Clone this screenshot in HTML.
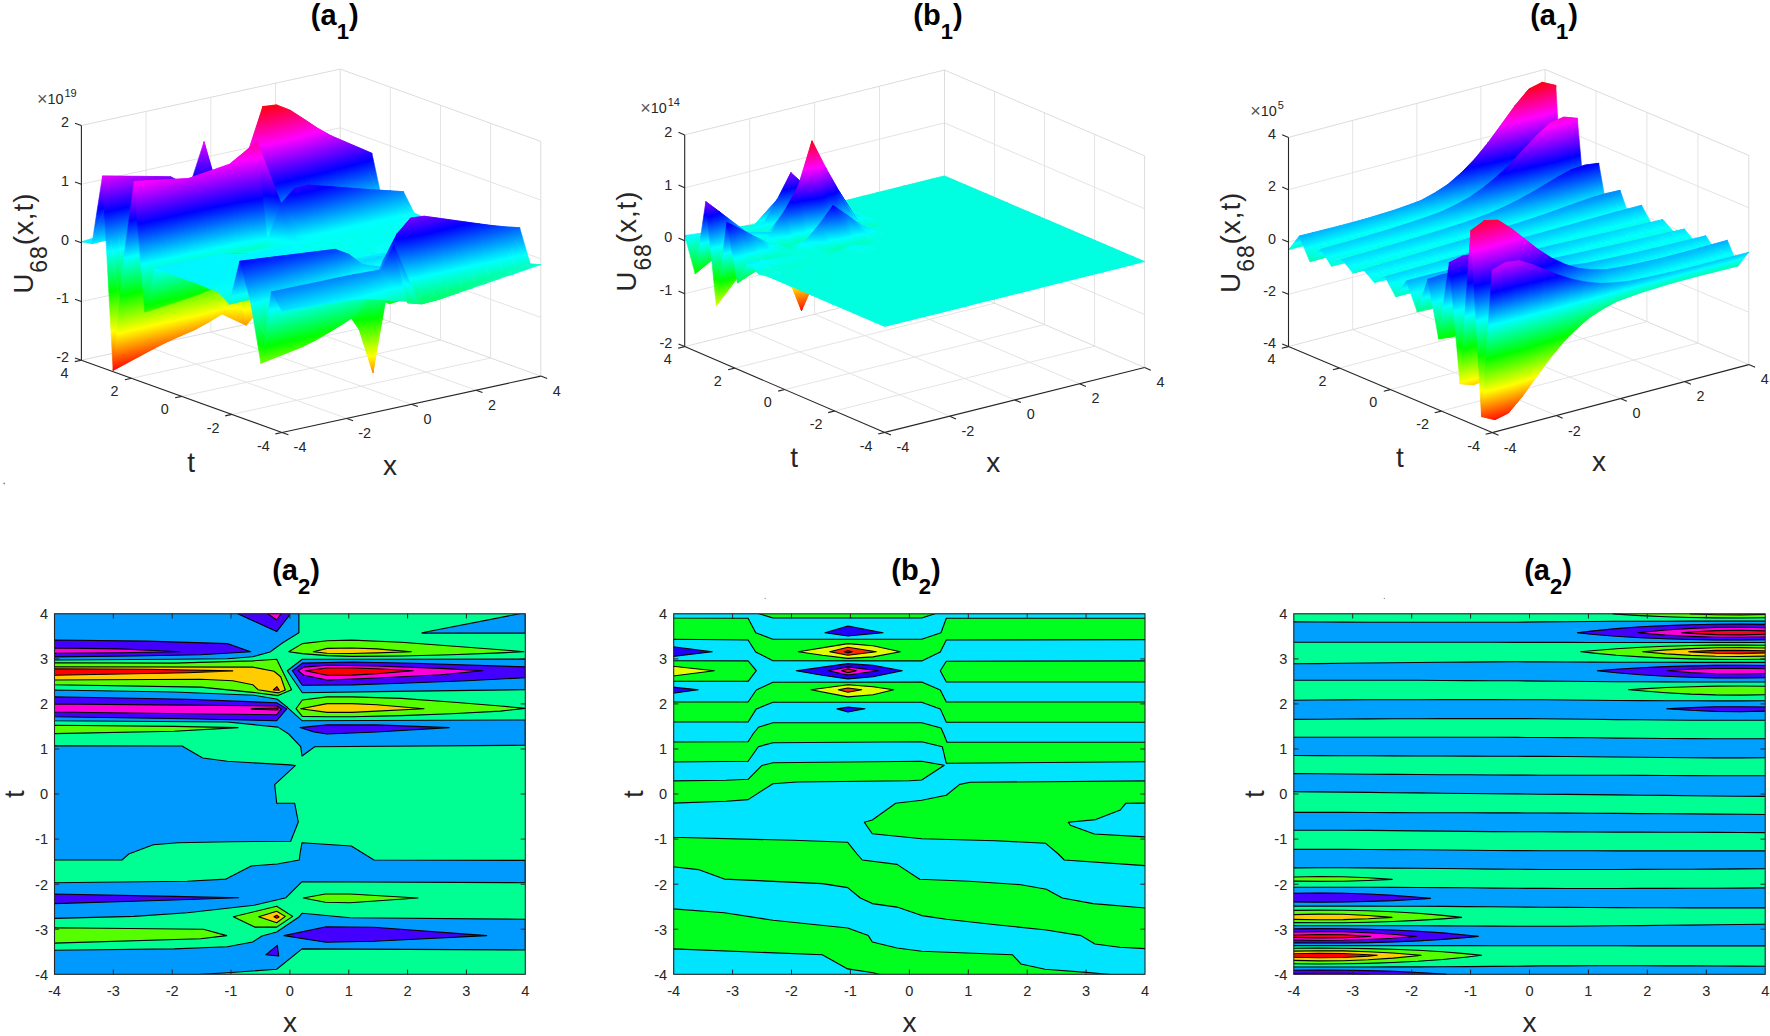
<!DOCTYPE html>
<html lang="en"><head><meta charset="utf-8"><title>Figure</title>
<style>
html,body{margin:0;padding:0;background:#fff;}
svg{display:block;font-family:'Liberation Sans', Arial, sans-serif;}
</style></head><body>
<svg width="1770" height="1036" viewBox="0 0 1770 1036">
<rect width="1770" height="1036" fill="#fff"/>
<defs>
<linearGradient id="H" gradientUnits="userSpaceOnUse"><stop offset="0.0000" stop-color="#ff0000"/><stop offset="0.1667" stop-color="#ffff00"/><stop offset="0.3333" stop-color="#00ff00"/><stop offset="0.5000" stop-color="#00ffff"/><stop offset="0.6667" stop-color="#0000ff"/><stop offset="0.8333" stop-color="#ff00ff"/><stop offset="1.0000" stop-color="#ff0000"/></linearGradient>
<linearGradient id="e10" href="#H" x1="307.8" y1="118" x2="346.3" y2="270.5"/>
<linearGradient id="e11" href="#H" x1="-47.6" y1="575.6" x2="720" y2="-210.5"/>
<linearGradient id="e12" href="#H" x1="298" y1="136" x2="328.9" y2="259.5"/>
<linearGradient id="e13" href="#H" x1="287.9" y1="111.1" x2="339.6" y2="285.9"/>
<linearGradient id="e14" href="#H" x1="287.5" y1="151.8" x2="312" y2="250.6"/>
<linearGradient id="e15" href="#H" x1="279.4" y1="130.5" x2="320.7" y2="273.4"/>
<linearGradient id="e16" href="#H" x1="276.6" y1="166" x2="295.6" y2="243.2"/>
<linearGradient id="e17" href="#H" x1="270" y1="147.5" x2="302.8" y2="263.2"/>
<linearGradient id="e18" href="#H" x1="254.2" y1="148.8" x2="291.7" y2="269.8"/>
<linearGradient id="e19" href="#H" x1="259.8" y1="162.6" x2="285.5" y2="254.7"/>
<linearGradient id="e1a" href="#H" x1="233" y1="134.4" x2="286.6" y2="293.8"/>
<linearGradient id="e1b" href="#H" x1="243.9" y1="158.5" x2="274.6" y2="267.2"/>
<linearGradient id="e1c" href="#H" x1="212.3" y1="120.5" x2="281.2" y2="317.7"/>
<linearGradient id="e1d" href="#H" x1="226.1" y1="148.7" x2="265.8" y2="286.2"/>
<linearGradient id="e1e" href="#H" x1="189.5" y1="102.9" x2="278.3" y2="346.2"/>
<linearGradient id="e1f" href="#H" x1="207.4" y1="136.6" x2="258.1" y2="308.2"/>
<linearGradient id="e1g" href="#H" x1="-61.7" y1="377.7" x2="558.9" y2="38.2"/>
<linearGradient id="e1h" href="#H" x1="-97.6" y1="242.2" x2="602.9" y2="203.8"/>
<linearGradient id="e1i" href="#H" x1="328" y1="268.8" x2="176.3" y2="113.2"/>
<linearGradient id="e1j" href="#H" x1="151.1" y1="298.9" x2="215.8" y2="106.5"/>
<linearGradient id="e1k" href="#H" x1="194" y1="359.7" x2="188.4" y2="89.3"/>
<linearGradient id="e1l" href="#H" x1="189.3" y1="348.3" x2="190.9" y2="95.4"/>
<linearGradient id="e1m" href="#H" x1="205" y1="374.4" x2="158.7" y2="82.4"/>
<linearGradient id="e1n" href="#H" x1="192.3" y1="363.9" x2="166.8" y2="89"/>
<linearGradient id="e1o" href="#H" x1="202.3" y1="400.6" x2="134.1" y2="64.6"/>
<linearGradient id="e1p" href="#H" x1="176" y1="372.8" x2="153.6" y2="85.2"/>
<linearGradient id="e1q" href="#H" x1="191.7" y1="430" x2="115.9" y2="43.2"/>
<linearGradient id="e1r" href="#H" x1="166.4" y1="395.4" x2="136" y2="70.8"/>
<linearGradient id="e1s" href="#H" x1="185.9" y1="502.8" x2="93" y2="-18.8"/>
<linearGradient id="e1t" href="#H" x1="145.9" y1="414.5" x2="127.3" y2="56.9"/>
<linearGradient id="e1u" href="#H" x1="122.1" y1="1217.3" x2="122.4" y2="-682.4"/>
<linearGradient id="e1v" href="#H" x1="115.5" y1="447.7" x2="128.5" y2="27.6"/>
<linearGradient id="e1w" href="#H" x1="-3492.1" y1="1918.9" x2="3499.3" y2="-1353.7"/>
<linearGradient id="e1x" href="#H" x1="17.7" y1="844.2" x2="194.3" y2="-341.8"/>
<linearGradient id="e1y" href="#H" x1="-285.9" y1="-532.3" x2="461" y2="977.2"/>
<linearGradient id="e1z" href="#H" x1="-429.1" y1="1152.8" x2="598.6" y2="-641.8"/>
<linearGradient id="e110" href="#H" x1="-38.5" y1="-102.1" x2="198.9" y2="578.6"/>
<linearGradient id="e111" href="#H" x1="-1186.9" y1="31.5" x2="1324.6" y2="447.7"/>
<linearGradient id="e112" href="#H" x1="356.5" y1="325.1" x2="318.1" y2="61.5"/>
<linearGradient id="e113" href="#H" x1="366.2" y1="328.3" x2="308.5" y2="58.4"/>
<linearGradient id="e114" href="#H" x1="343.9" y1="325.5" x2="303.3" y2="67"/>
<linearGradient id="e115" href="#H" x1="351.7" y1="327.2" x2="295.6" y2="65.3"/>
<linearGradient id="e116" href="#H" x1="330.8" y1="326.5" x2="289.1" y2="71.9"/>
<linearGradient id="e117" href="#H" x1="337.5" y1="327.4" x2="282.4" y2="71"/>
<linearGradient id="e118" href="#H" x1="317.6" y1="327.8" x2="274.9" y2="76.4"/>
<linearGradient id="e119" href="#H" x1="323.5" y1="328.3" x2="269.1" y2="76"/>
<linearGradient id="e11a" href="#H" x1="304.6" y1="329.6" x2="260.4" y2="80.5"/>
<linearGradient id="e11b" href="#H" x1="308.8" y1="329.8" x2="256.1" y2="80.3"/>
<linearGradient id="e11c" href="#H" x1="291.6" y1="331.7" x2="245.8" y2="84.3"/>
<linearGradient id="e11d" href="#H" x1="294.8" y1="331.6" x2="242.6" y2="84.3"/>
<linearGradient id="e11e" href="#H" x1="277.9" y1="334" x2="231.9" y2="87.9"/>
<linearGradient id="e11f" href="#H" x1="280.8" y1="333.9" x2="228.8" y2="88"/>
<linearGradient id="e11g" href="#H" x1="267.6" y1="336.1" x2="214.4" y2="91.6"/>
<linearGradient id="e11h" href="#H" x1="266.9" y1="336.2" x2="215.1" y2="91.5"/>
<linearGradient id="e11i" href="#H" x1="300.9" y1="309.8" x2="143.7" y2="128.2"/>
<linearGradient id="e11j" href="#H" x1="249.2" y1="339.8" x2="203.7" y2="93.3"/>
<linearGradient id="e11k" href="#H" x1="315.3" y1="263.1" x2="150.8" y2="149.5"/>
<linearGradient id="e11l" href="#H" x1="312.4" y1="245.1" x2="152.6" y2="161"/>
<linearGradient id="e11m" href="#H" x1="185.2" y1="321.3" x2="214.5" y2="121.8"/>
<linearGradient id="e11n" href="#H" x1="210.2" y1="354.5" x2="193" y2="93.3"/>
<linearGradient id="e11o" href="#H" x1="196.1" y1="324.9" x2="179.3" y2="125.1"/>
<linearGradient id="e11p" href="#H" x1="207.6" y1="286.4" x2="168.9" y2="160"/>
<linearGradient id="e11q" href="#H" x1="187.4" y1="329.9" x2="161.2" y2="126.4"/>
<linearGradient id="e11r" href="#H" x1="194.9" y1="318.4" x2="154.3" y2="136.8"/>
<linearGradient id="e11s" href="#H" x1="175.8" y1="334.7" x2="145.6" y2="127.7"/>
<linearGradient id="e11t" href="#H" x1="182.3" y1="326.9" x2="139.6" y2="134.9"/>
<linearGradient id="e11u" href="#H" x1="167" y1="335.7" x2="127.5" y2="132.6"/>
<linearGradient id="e11v" href="#H" x1="169.2" y1="333.2" x2="125.4" y2="135"/>
<linearGradient id="e11w" href="#H" x1="153.5" y1="339.3" x2="113.5" y2="135.1"/>
<linearGradient id="e11x" href="#H" x1="155.7" y1="337" x2="111.5" y2="137.2"/>
<linearGradient id="e11y" href="#H" x1="140.1" y1="342.9" x2="99.6" y2="137.6"/>
<linearGradient id="e11z" href="#H" x1="142.2" y1="340.8" x2="97.7" y2="139.6"/>
<linearGradient id="e120" href="#H" x1="126.6" y1="346.4" x2="85.7" y2="140.1"/>
<linearGradient id="e121" href="#H" x1="128.6" y1="344.5" x2="83.9" y2="142"/>
<linearGradient id="e122" href="#H" x1="113.1" y1="349.9" x2="71.9" y2="142.7"/>
<linearGradient id="e123" href="#H" x1="115" y1="348.1" x2="70.1" y2="144.5"/>
<linearGradient id="e124" href="#H" x1="360.8" y1="306.8" x2="323.2" y2="93.8"/>
<linearGradient id="e125" href="#H" x1="366" y1="302.2" x2="313.6" y2="102.3"/>
<linearGradient id="e126" href="#H" x1="346.7" y1="310.9" x2="307.5" y2="96.2"/>
<linearGradient id="e127" href="#H" x1="350.7" y1="307.7" x2="299" y2="103.1"/>
<linearGradient id="e128" href="#H" x1="332.3" y1="314.8" x2="292" y2="98.9"/>
<linearGradient id="e129" href="#H" x1="335.5" y1="312.3" x2="284.3" y2="104.8"/>
<linearGradient id="e12a" href="#H" x1="317.6" y1="318.7" x2="277.3" y2="101.3"/>
<linearGradient id="e12b" href="#H" x1="320.4" y1="316.6" x2="269.4" y2="106.9"/>
<linearGradient id="e12c" href="#H" x1="303" y1="322.3" x2="262.6" y2="103.9"/>
<linearGradient id="e12d" href="#H" x1="305.4" y1="320.7" x2="255" y2="108.9"/>
<linearGradient id="e12e" href="#H" x1="288.7" y1="325.7" x2="247.4" y2="106.8"/>
<linearGradient id="e12f" href="#H" x1="290.6" y1="324.6" x2="240.9" y2="110.9"/>
<linearGradient id="e12g" href="#H" x1="274.7" y1="329" x2="231.3" y2="110.4"/>
<linearGradient id="e12h" href="#H" x1="275.9" y1="328.2" x2="226.3" y2="113.5"/>
<linearGradient id="e12i" href="#H" x1="261.7" y1="331.6" x2="215" y2="114.6"/>
<linearGradient id="e12j" href="#H" x1="261.8" y1="331.5" x2="214.6" y2="114.9"/>
<linearGradient id="e12k" href="#H" x1="262.2" y1="323.8" x2="185.7" y2="135.8"/>
<linearGradient id="e12l" href="#H" x1="249.8" y1="334.2" x2="213.6" y2="112.4"/>
<linearGradient id="e12m" href="#H" x1="204.9" y1="341.8" x2="249.8" y2="105.6"/>
<linearGradient id="e12n" href="#H" x1="236.7" y1="335.4" x2="210.9" y2="113.4"/>
<linearGradient id="e12o" href="#H" x1="229" y1="348.6" x2="200.3" y2="106.5"/>
<linearGradient id="e12p" href="#H" x1="308.1" y1="263.7" x2="149.8" y2="160.6"/>
<linearGradient id="e12q" href="#H" x1="229.2" y1="348" x2="182.1" y2="111.8"/>
<linearGradient id="e12r" href="#H" x1="240.3" y1="344.9" x2="176.5" y2="113.4"/>
<linearGradient id="e12s" href="#H" x1="218.2" y1="350" x2="170.3" y2="115.3"/>
<linearGradient id="e12t" href="#H" x1="226.3" y1="347.7" x2="166.9" y2="116.2"/>
<linearGradient id="e12u" href="#H" x1="207.3" y1="352.1" x2="158.4" y2="118.6"/>
<linearGradient id="e12v" href="#H" x1="214.1" y1="350.1" x2="156.2" y2="119.2"/>
<linearGradient id="e12w" href="#H" x1="194.4" y1="354.8" x2="145.5" y2="121.6"/>
<linearGradient id="e12x" href="#H" x1="197.3" y1="354" x2="144.6" y2="121.8"/>
<linearGradient id="e12y" href="#H" x1="181" y1="357.6" x2="132.6" y2="124.6"/>
<linearGradient id="e12z" href="#H" x1="184.2" y1="356.7" x2="131.7" y2="124.8"/>
<linearGradient id="e130" href="#H" x1="167.9" y1="360.3" x2="119.7" y2="127.6"/>
<linearGradient id="e131" href="#H" x1="171.2" y1="359.3" x2="118.8" y2="127.8"/>
<linearGradient id="e132" href="#H" x1="154.9" y1="363" x2="106.7" y2="130.6"/>
<linearGradient id="e133" href="#H" x1="158.2" y1="362" x2="105.9" y2="130.8"/>
<linearGradient id="e134" href="#H" x1="141.9" y1="365.7" x2="93.7" y2="133.6"/>
<linearGradient id="e135" href="#H" x1="145.1" y1="364.7" x2="93" y2="133.8"/>
<linearGradient id="e136" href="#H" x1="399.9" y1="329" x2="342.7" y2="79.4"/>
<linearGradient id="e137" href="#H" x1="416.2" y1="327.1" x2="336.5" y2="80.1"/>
<linearGradient id="e138" href="#H" x1="387.5" y1="330.1" x2="331.5" y2="83.7"/>
<linearGradient id="e139" href="#H" x1="401.5" y1="328" x2="327.2" y2="84.4"/>
<linearGradient id="e13a" href="#H" x1="375.3" y1="331.4" x2="320.1" y2="87.6"/>
<linearGradient id="e13b" href="#H" x1="387.7" y1="329.3" x2="317.1" y2="88.2"/>
<linearGradient id="e13c" href="#H" x1="363.5" y1="332.8" x2="309.1" y2="91.4"/>
<linearGradient id="e13d" href="#H" x1="377.6" y1="329.7" x2="306.6" y2="91.9"/>
<linearGradient id="e13e" href="#H" x1="352.1" y1="334.1" x2="298.4" y2="94.9"/>
<linearGradient id="e13f" href="#H" x1="366.9" y1="330.4" x2="296.7" y2="95.3"/>
<linearGradient id="e13g" href="#H" x1="340.6" y1="335.8" x2="287.5" y2="98.2"/>
<linearGradient id="e13h" href="#H" x1="353.5" y1="332.3" x2="286.8" y2="98.4"/>
<linearGradient id="e13i" href="#H" x1="328.3" y1="338" x2="275.7" y2="101.3"/>
<linearGradient id="e13j" href="#H" x1="336.3" y1="336" x2="275.6" y2="101.3"/>
<linearGradient id="e13k" href="#H" x1="315" y1="341" x2="262.4" y2="104.2"/>
<linearGradient id="e13l" href="#H" x1="315.2" y1="340.9" x2="262.4" y2="104.2"/>
<linearGradient id="e13m" href="#H" x1="294.6" y1="349.9" x2="239.7" y2="105.5"/>
<linearGradient id="e13n" href="#H" x1="267.3" y1="349" x2="245.5" y2="105.7"/>
<linearGradient id="e13o" href="#H" x1="224.7" y1="346.2" x2="265.4" y2="106.6"/>
<linearGradient id="e13p" href="#H" x1="227.1" y1="346.1" x2="258.8" y2="107"/>
<linearGradient id="e13q" href="#H" x1="220.1" y1="345.8" x2="233.3" y2="125.6"/>
<linearGradient id="e13r" href="#H" x1="222.3" y1="351.2" x2="220.4" y2="93.6"/>
<linearGradient id="e13s" href="#H" x1="213" y1="347.5" x2="175.7" y2="140"/>
<linearGradient id="e13t" href="#H" x1="214.7" y1="345.7" x2="163.5" y2="153.3"/>
<linearGradient id="e13u" href="#H" x1="198.8" y1="351.2" x2="160" y2="141.5"/>
<linearGradient id="e13v" href="#H" x1="199.9" y1="350.1" x2="150.1" y2="151.1"/>
<linearGradient id="e13w" href="#H" x1="184.8" y1="354.7" x2="145" y2="143.5"/>
<linearGradient id="e13x" href="#H" x1="185.5" y1="354" x2="137.4" y2="150.2"/>
<linearGradient id="e13y" href="#H" x1="170.9" y1="357.9" x2="127.7" y2="147.6"/>
<linearGradient id="e13z" href="#H" x1="171.3" y1="357.5" x2="123" y2="151.5"/>
<linearGradient id="e140" href="#H" x1="156.6" y1="361.3" x2="112.5" y2="150.5"/>
<linearGradient id="e141" href="#H" x1="156.9" y1="361" x2="107.8" y2="154.4"/>
<linearGradient id="e142" href="#H" x1="142.2" y1="364.7" x2="97.8" y2="153.1"/>
<linearGradient id="e143" href="#H" x1="142.4" y1="364.5" x2="92.8" y2="157.1"/>
<linearGradient id="e144" href="#H" x1="127.7" y1="368.1" x2="83.1" y2="155.8"/>
<linearGradient id="e145" href="#H" x1="127.9" y1="368" x2="78.3" y2="159.6"/>
<linearGradient id="e146" href="#H" x1="113.3" y1="371.5" x2="68.5" y2="158.5"/>
<linearGradient id="e147" href="#H" x1="113.3" y1="371.5" x2="63.8" y2="162.1"/>
<linearGradient id="e148" href="#H" x1="388" y1="336" x2="350" y2="73.6"/>
<linearGradient id="e149" href="#H" x1="401.3" y1="339.8" x2="337" y2="69.9"/>
<linearGradient id="e14a" href="#H" x1="375.5" y1="335.9" x2="335.7" y2="79.7"/>
<linearGradient id="e14b" href="#H" x1="386.1" y1="337.7" x2="325.5" y2="78.1"/>
<linearGradient id="e14c" href="#H" x1="362.9" y1="336.7" x2="321.6" y2="85"/>
<linearGradient id="e14d" href="#H" x1="371.7" y1="337.4" x2="313.4" y2="84.4"/>
<linearGradient id="e14e" href="#H" x1="350.1" y1="338" x2="307.7" y2="89.7"/>
<linearGradient id="e14f" href="#H" x1="357.6" y1="338.1" x2="300.8" y2="89.6"/>
<linearGradient id="e14g" href="#H" x1="337.8" y1="339.6" x2="293.2" y2="94"/>
<linearGradient id="e14h" href="#H" x1="343.7" y1="339.4" x2="288" y2="94.2"/>
<linearGradient id="e14i" href="#H" x1="324.7" y1="341.6" x2="279.6" y2="97.9"/>
<linearGradient id="e14j" href="#H" x1="329.9" y1="341.2" x2="275" y2="98.3"/>
<linearGradient id="e14k" href="#H" x1="311.5" y1="343.8" x2="266" y2="101.6"/>
<linearGradient id="e14l" href="#H" x1="316" y1="343.3" x2="262.1" y2="102.1"/>
<linearGradient id="e14m" href="#H" x1="301.7" y1="345.6" x2="249.5" y2="105.6"/>
<linearGradient id="e14n" href="#H" x1="302.4" y1="345.5" x2="248.9" y2="105.7"/>
<linearGradient id="e14o" href="#H" x1="298" y1="346.2" x2="228" y2="110.6"/>
<linearGradient id="e14p" href="#H" x1="289" y1="348.4" x2="235.5" y2="108.8"/>
<linearGradient id="e14q" href="#H" x1="246" y1="348.2" x2="248.5" y2="118.2"/>
<linearGradient id="e14r" href="#H" x1="244.2" y1="349.5" x2="264.1" y2="107.2"/>
<linearGradient id="e14s" href="#H" x1="252.5" y1="341.6" x2="199.5" y2="133.7"/>
<linearGradient id="e14t" href="#H" x1="240.8" y1="348.6" x2="219" y2="122.1"/>
<linearGradient id="e14u" href="#H" x1="240.2" y1="343.1" x2="187.3" y2="137.3"/>
<linearGradient id="e14v" href="#H" x1="235.8" y1="346.5" x2="193.8" y2="132.1"/>
<linearGradient id="e14w" href="#H" x1="225.4" y1="346.4" x2="178.3" y2="138.1"/>
<linearGradient id="e14x" href="#H" x1="222.8" y1="348.4" x2="181.8" y2="135.3"/>
<linearGradient id="e14y" href="#H" x1="212.9" y1="348" x2="165.9" y2="141.2"/>
<linearGradient id="e14z" href="#H" x1="210" y1="350.4" x2="169.5" y2="138.2"/>
<linearGradient id="e150" href="#H" x1="199.8" y1="350.2" x2="152.9" y2="144.3"/>
<linearGradient id="e151" href="#H" x1="197.9" y1="351.9" x2="155.1" y2="142.5"/>
<linearGradient id="e152" href="#H" x1="184.7" y1="354.2" x2="141.7" y2="145.7"/>
<linearGradient id="e153" href="#H" x1="184.8" y1="354.1" x2="141.6" y2="145.8"/>
<linearGradient id="e154" href="#H" x1="171.4" y1="357" x2="128.5" y2="148.4"/>
<linearGradient id="e155" href="#H" x1="171.5" y1="356.9" x2="128.3" y2="148.5"/>
<linearGradient id="e156" href="#H" x1="158.2" y1="359.7" x2="115.2" y2="151.2"/>
<linearGradient id="e157" href="#H" x1="158.3" y1="359.6" x2="115.1" y2="151.3"/>
<linearGradient id="e158" href="#H" x1="144.9" y1="362.5" x2="101.9" y2="153.9"/>
<linearGradient id="e159" href="#H" x1="145" y1="362.4" x2="101.8" y2="154"/>
<linearGradient id="e15a" href="#H" x1="392.7" y1="315.1" x2="354" y2="111.3"/>
<linearGradient id="e15b" href="#H" x1="398.1" y1="308.4" x2="343.9" y2="124.2"/>
<linearGradient id="e15c" href="#H" x1="378.4" y1="320" x2="338.2" y2="113.1"/>
<linearGradient id="e15d" href="#H" x1="382.7" y1="315.4" x2="328.8" y2="123.2"/>
<linearGradient id="e15e" href="#H" x1="363.8" y1="324.5" x2="322.6" y2="115.3"/>
<linearGradient id="e15f" href="#H" x1="367.2" y1="321.3" x2="314" y2="123.5"/>
<linearGradient id="e15g" href="#H" x1="349.1" y1="328.7" x2="307.1" y2="117.6"/>
<linearGradient id="e15h" href="#H" x1="351.8" y1="326.3" x2="299.1" y2="124.7"/>
<linearGradient id="e15i" href="#H" x1="334.5" y1="332.6" x2="291.9" y2="120.2"/>
<linearGradient id="e15j" href="#H" x1="336.5" y1="331" x2="285.2" y2="125.7"/>
<linearGradient id="e15k" href="#H" x1="319.9" y1="336.4" x2="276.8" y2="122.9"/>
<linearGradient id="e15l" href="#H" x1="321.5" y1="335.1" x2="270.5" y2="127.8"/>
<linearGradient id="e15m" href="#H" x1="305.3" y1="340" x2="261.7" y2="125.7"/>
<linearGradient id="e15n" href="#H" x1="306.5" y1="339.1" x2="255.7" y2="130.2"/>
<linearGradient id="e15o" href="#H" x1="292.2" y1="342.7" x2="245.4" y2="130.2"/>
<linearGradient id="e15p" href="#H" x1="292.1" y1="342.7" x2="245.7" y2="130"/>
<linearGradient id="e15q" href="#H" x1="283.2" y1="342.3" x2="226.3" y2="140"/>
<linearGradient id="e15r" href="#H" x1="279.1" y1="345.5" x2="240.6" y2="128.7"/>
<linearGradient id="e15s" href="#H" x1="277.2" y1="361.2" x2="254.5" y2="116.8"/>
<linearGradient id="e15t" href="#H" x1="235.4" y1="344.4" x2="259.2" y2="118.7"/>
<linearGradient id="e15u" href="#H" x1="273" y1="361.2" x2="238.4" y2="119.9"/>
<linearGradient id="e15v" href="#H" x1="280.4" y1="360.9" x2="237.2" y2="119.9"/>
<linearGradient id="e15w" href="#H" x1="265.1" y1="362.2" x2="222.1" y2="123"/>
<linearGradient id="e15x" href="#H" x1="266.3" y1="362.1" x2="221.9" y2="123"/>
<linearGradient id="e15y" href="#H" x1="256.3" y1="363.5" x2="207" y2="126.3"/>
<linearGradient id="e15z" href="#H" x1="256.9" y1="363.4" x2="206.9" y2="126.3"/>
<linearGradient id="e160" href="#H" x1="242.3" y1="366.4" x2="193.1" y2="129.2"/>
<linearGradient id="e161" href="#H" x1="242.9" y1="366.3" x2="192.9" y2="129.2"/>
<linearGradient id="e162" href="#H" x1="228.3" y1="369.3" x2="179.1" y2="132.2"/>
<linearGradient id="e163" href="#H" x1="228.9" y1="369.2" x2="178.9" y2="132.2"/>
<linearGradient id="e164" href="#H" x1="215.6" y1="371.8" x2="165.8" y2="135.3"/>
<linearGradient id="e165" href="#H" x1="218.6" y1="371.1" x2="165.1" y2="135.4"/>
<linearGradient id="e166" href="#H" x1="202.7" y1="374.3" x2="152.6" y2="138.4"/>
<linearGradient id="e167" href="#H" x1="205.3" y1="373.7" x2="152" y2="138.5"/>
<linearGradient id="e168" href="#H" x1="189.5" y1="377" x2="139.5" y2="141.4"/>
<linearGradient id="e169" href="#H" x1="192.1" y1="376.4" x2="138.9" y2="141.5"/>
<linearGradient id="e16a" href="#H" x1="176.4" y1="379.7" x2="126.3" y2="144.4"/>
<linearGradient id="e16b" href="#H" x1="178.9" y1="379.1" x2="125.8" y2="144.6"/>
<linearGradient id="e16c" href="#H" x1="427.1" y1="361.6" x2="364.2" y2="72.8"/>
<linearGradient id="e16d" href="#H" x1="449.9" y1="368.4" x2="348.5" y2="68.1"/>
<linearGradient id="e16e" href="#H" x1="413.2" y1="359.4" x2="352.5" y2="80.5"/>
<linearGradient id="e16f" href="#H" x1="430.5" y1="363.5" x2="341.3" y2="77.9"/>
<linearGradient id="e16g" href="#H" x1="399.6" y1="358.5" x2="340.4" y2="87"/>
<linearGradient id="e16h" href="#H" x1="413.6" y1="361.1" x2="332" y2="85.4"/>
<linearGradient id="e16i" href="#H" x1="386.2" y1="358.4" x2="328.3" y2="92.7"/>
<linearGradient id="e16j" href="#H" x1="398.6" y1="360" x2="321.3" y2="91.8"/>
<linearGradient id="e16k" href="#H" x1="372.9" y1="358.9" x2="316" y2="97.7"/>
<linearGradient id="e16l" href="#H" x1="383.6" y1="359.8" x2="310.4" y2="97.2"/>
<linearGradient id="e16m" href="#H" x1="359.7" y1="359.9" x2="303.6" y2="102.3"/>
<linearGradient id="e16n" href="#H" x1="369.1" y1="360.3" x2="299.1" y2="102.1"/>
<linearGradient id="e16o" href="#H" x1="346.6" y1="361.2" x2="291.1" y2="106.6"/>
<linearGradient id="e16p" href="#H" x1="355.1" y1="361.3" x2="287.4" y2="106.6"/>
<linearGradient id="e16q" href="#H" x1="332.9" y1="364.3" x2="277.4" y2="109.4"/>
<linearGradient id="e16r" href="#H" x1="331.9" y1="364.3" x2="277.8" y2="109.4"/>
<linearGradient id="e16s" href="#H" x1="325.7" y1="375.1" x2="255.5" y2="106.3"/>
<linearGradient id="e16t" href="#H" x1="299.9" y1="368.1" x2="270.2" y2="110.2"/>
<linearGradient id="e16u" href="#H" x1="222.7" y1="451.7" x2="313.3" y2="23.3"/>
<linearGradient id="e16v" href="#H" x1="260.2" y1="368.6" x2="274.7" y2="109"/>
<linearGradient id="e16w" href="#H" x1="266.9" y1="326.5" x2="234.4" y2="172.8"/>
<linearGradient id="e16x" href="#H" x1="218.2" y1="381.3" x2="306" y2="92.2"/>
<linearGradient id="e16y" href="#H" x1="253.9" y1="341.8" x2="215.8" y2="163.6"/>
<linearGradient id="e16z" href="#H" x1="257.6" y1="306" x2="209.2" y2="226.6"/>
<linearGradient id="e170" href="#H" x1="240.2" y1="346.8" x2="201.2" y2="164.5"/>
<linearGradient id="e171" href="#H" x1="242.1" y1="342.8" x2="197.7" y2="171.9"/>
<linearGradient id="e172" href="#H" x1="224.6" y1="354.4" x2="190.2" y2="160.3"/>
<linearGradient id="e173" href="#H" x1="228.2" y1="348.1" x2="183.2" y2="172.3"/>
<linearGradient id="e174" href="#H" x1="212.9" y1="356.8" x2="171.5" y2="165.7"/>
<linearGradient id="e175" href="#H" x1="214.4" y1="354.5" x2="168.5" y2="170.4"/>
<linearGradient id="e176" href="#H" x1="199" y1="360.6" x2="157.3" y2="168"/>
<linearGradient id="e177" href="#H" x1="200.1" y1="359.1" x2="155" y2="171.2"/>
<linearGradient id="e178" href="#H" x1="185.2" y1="364.2" x2="143.2" y2="170.4"/>
<linearGradient id="e179" href="#H" x1="186" y1="363.1" x2="141.5" y2="172.8"/>
<linearGradient id="e17a" href="#H" x1="171.4" y1="367.7" x2="129.2" y2="172.9"/>
<linearGradient id="e17b" href="#H" x1="172.2" y1="366.7" x2="127.5" y2="175.2"/>
<linearGradient id="e17c" href="#H" x1="157.6" y1="371.3" x2="115.1" y2="175.5"/>
<linearGradient id="e17d" href="#H" x1="158.3" y1="370.3" x2="113.5" y2="177.6"/>
<linearGradient id="e17e" href="#H" x1="510.1" y1="765.4" x2="291.4" y2="-331.2"/>
<linearGradient id="e17f" href="#H" x1="526.8" y1="795.6" x2="274.8" y2="-361.2"/>
<linearGradient id="e17g" href="#H" x1="493.4" y1="751" x2="280.8" y2="-310.9"/>
<linearGradient id="e17h" href="#H" x1="508.9" y1="778.7" x2="265.4" y2="-338.4"/>
<linearGradient id="e17i" href="#H" x1="476.9" y1="737.9" x2="270.1" y2="-291.9"/>
<linearGradient id="e17j" href="#H" x1="491.3" y1="763.4" x2="255.8" y2="-317.3"/>
<linearGradient id="e17k" href="#H" x1="460.6" y1="725.9" x2="259.1" y2="-274.1"/>
<linearGradient id="e17l" href="#H" x1="474" y1="749.5" x2="245.8" y2="-297.5"/>
<linearGradient id="e17m" href="#H" x1="444.5" y1="715.1" x2="248" y2="-257.4"/>
<linearGradient id="e17n" href="#H" x1="457" y1="736.9" x2="235.6" y2="-279.1"/>
<linearGradient id="e17o" href="#H" x1="428.5" y1="705.2" x2="236.7" y2="-241.6"/>
<linearGradient id="e17p" href="#H" x1="440.2" y1="725.4" x2="225.1" y2="-261.8"/>
<linearGradient id="e17q" href="#H" x1="412.7" y1="696.1" x2="225.3" y2="-226.6"/>
<linearGradient id="e17r" href="#H" x1="423.7" y1="715" x2="214.4" y2="-245.4"/>
<linearGradient id="e17s" href="#H" x1="397" y1="687.8" x2="213.7" y2="-212.5"/>
<linearGradient id="e17t" href="#H" x1="407.3" y1="705.4" x2="203.5" y2="-230"/>
<linearGradient id="e17u" href="#H" x1="347.3" y1="500.3" x2="238.5" y2="-13.7"/>
<linearGradient id="e17v" href="#H" x1="912.1" y1="207.3" x2="-298.8" y2="265"/>
<linearGradient id="e17w" href="#H" x1="278.3" y1="260.4" x2="277.5" y2="231.4"/>
<linearGradient id="e17x" href="#H" x1="263.1" y1="430.7" x2="293.6" y2="50.5"/>
<linearGradient id="e17y" href="#H" x1="255.1" y1="206.7" x2="274" y2="293.6"/>
<linearGradient id="e17z" href="#H" x1="259.2" y1="222.5" x2="269.6" y2="277"/>
<linearGradient id="e180" href="#H" x1="239.1" y1="198.4" x2="262.8" y2="307.6"/>
<linearGradient id="e181" href="#H" x1="244" y1="216.3" x2="257.7" y2="288.7"/>
<linearGradient id="e182" href="#H" x1="222.3" y1="186.9" x2="252.4" y2="324.7"/>
<linearGradient id="e183" href="#H" x1="228.8" y1="209.7" x2="245.6" y2="300.8"/>
<linearGradient id="e184" href="#H" x1="223" y1="264.2" x2="223.8" y2="243"/>
<linearGradient id="e185" href="#H" x1="1507.4" y1="6210.6" x2="-1059.6" y2="-5568.3"/>
<linearGradient id="e186" href="#H" x1="2801.6" y1="-6768.7" x2="-2325.6" y2="7128.4"/>
<linearGradient id="e187" href="#H" x1="861.5" y1="3312.3" x2="-453.4" y2="-2721.5"/>
<linearGradient id="e188" href="#H" x1="10373.1" y1="5067.9" x2="-9739.3" y2="-4435.4"/>
<linearGradient id="e189" href="#H" x1="635.6" y1="2340.9" x2="-258.9" y2="-1763.5"/>
<linearGradient id="e18a" href="#H" x1="2411.9" y1="4101.8" x2="-1989.5" y2="-3479.2"/>
<linearGradient id="e18b" href="#H" x1="515.5" y1="1855.4" x2="-168.1" y2="-1281.7"/>
<linearGradient id="e18c" href="#H" x1="1199.4" y1="2727.8" x2="-833.1" y2="-2130.1"/>
<linearGradient id="e18d" href="#H" x1="438" y1="1564.8" x2="-119" y2="-991"/>
<linearGradient id="e18e" href="#H" x1="800" y1="2076.5" x2="-470.4" y2="-1487.6"/>
<linearGradient id="e18f" href="#H" x1="-4102" y1="12742.8" x2="5020.4" y2="-12567.7"/>
<linearGradient id="e18g" href="#H" x1="-4102" y1="12742.8" x2="5020.4" y2="-12567.7"/>
<linearGradient id="e18h" href="#H" x1="-4113.1" y1="12738.8" x2="5009.3" y2="-12571.7"/>
<linearGradient id="e18i" href="#H" x1="-4113.1" y1="12738.8" x2="5009.3" y2="-12571.7"/>
<linearGradient id="e18j" href="#H" x1="-4124.2" y1="12734.8" x2="4998.2" y2="-12575.7"/>
<linearGradient id="e18k" href="#H" x1="-4124.2" y1="12734.8" x2="4998.2" y2="-12575.7"/>
<linearGradient id="e18l" href="#H" x1="-4135.3" y1="12730.8" x2="4987.1" y2="-12579.7"/>
<linearGradient id="e18m" href="#H" x1="-4135.3" y1="12730.8" x2="4987.1" y2="-12579.7"/>
<linearGradient id="e18n" href="#H" x1="-4146.4" y1="12726.8" x2="4976" y2="-12583.7"/>
<linearGradient id="e18o" href="#H" x1="-4146.4" y1="12726.8" x2="4976" y2="-12583.7"/>
<linearGradient id="e18p" href="#H" x1="-4157.4" y1="12722.8" x2="4964.9" y2="-12587.7"/>
<linearGradient id="e18q" href="#H" x1="-4157.4" y1="12722.8" x2="4964.9" y2="-12587.7"/>
<linearGradient id="e18r" href="#H" x1="-4168.5" y1="12718.8" x2="4953.9" y2="-12591.7"/>
<linearGradient id="e18s" href="#H" x1="-4168.5" y1="12718.8" x2="4953.9" y2="-12591.7"/>
<linearGradient id="e18t" href="#H" x1="-4179.6" y1="12714.8" x2="4942.8" y2="-12595.7"/>
<linearGradient id="e18u" href="#H" x1="-4179.6" y1="12714.8" x2="4942.8" y2="-12595.7"/>
<linearGradient id="e18v" href="#H" x1="-4190.7" y1="12710.8" x2="4931.7" y2="-12599.7"/>
<linearGradient id="e18w" href="#H" x1="-4190.7" y1="12710.8" x2="4931.7" y2="-12599.7"/>
<linearGradient id="e18x" href="#H" x1="1167.1" y1="18" x2="-572.8" y2="468.3"/>
<linearGradient id="e18y" href="#H" x1="352.2" y1="68.6" x2="226" y2="418.7"/>
<linearGradient id="e18z" href="#H" x1="491.1" y1="-351.8" x2="62.8" y2="836.6"/>
<linearGradient id="e190" href="#H" x1="428" y1="951" x2="124.7" y2="-440.4"/>
<linearGradient id="e191" href="#H" x1="-4091.4" y1="12746.6" x2="5030.9" y2="-12563.9"/>
<linearGradient id="e192" href="#H" x1="-4091.4" y1="12746.6" x2="5030.9" y2="-12563.9"/>
<linearGradient id="e193" href="#H" x1="-4102.5" y1="12742.6" x2="5019.8" y2="-12567.9"/>
<linearGradient id="e194" href="#H" x1="-4102.5" y1="12742.6" x2="5019.8" y2="-12567.9"/>
<linearGradient id="e195" href="#H" x1="-4113.6" y1="12738.6" x2="5008.8" y2="-12571.9"/>
<linearGradient id="e196" href="#H" x1="-4113.6" y1="12738.6" x2="5008.8" y2="-12571.9"/>
<linearGradient id="e197" href="#H" x1="-4124.7" y1="12734.6" x2="4997.7" y2="-12575.9"/>
<linearGradient id="e198" href="#H" x1="-4124.7" y1="12734.6" x2="4997.7" y2="-12575.9"/>
<linearGradient id="e199" href="#H" x1="-4135.8" y1="12730.6" x2="4986.6" y2="-12579.9"/>
<linearGradient id="e19a" href="#H" x1="-4135.8" y1="12730.6" x2="4986.6" y2="-12579.9"/>
<linearGradient id="e19b" href="#H" x1="-4146.9" y1="12726.6" x2="4975.5" y2="-12583.9"/>
<linearGradient id="e19c" href="#H" x1="-4146.9" y1="12726.6" x2="4975.5" y2="-12583.9"/>
<linearGradient id="e19d" href="#H" x1="-4158" y1="12722.6" x2="4964.4" y2="-12587.9"/>
<linearGradient id="e19e" href="#H" x1="-4158" y1="12722.6" x2="4964.4" y2="-12587.9"/>
<linearGradient id="e19f" href="#H" x1="-4169.1" y1="12718.6" x2="4953.3" y2="-12591.9"/>
<linearGradient id="e19g" href="#H" x1="-4169.1" y1="12718.6" x2="4953.3" y2="-12591.9"/>
<linearGradient id="e19h" href="#H" x1="-4180.1" y1="12714.6" x2="4942.2" y2="-12595.9"/>
<linearGradient id="e19i" href="#H" x1="-4180.1" y1="12714.6" x2="4942.2" y2="-12595.9"/>
<linearGradient id="e19j" href="#H" x1="429" y1="-110.2" x2="169.1" y2="611"/>
<linearGradient id="e19k" href="#H" x1="429" y1="-110.2" x2="169.1" y2="611"/>
<linearGradient id="e19l" href="#H" x1="501.7" y1="-348" x2="73.4" y2="840.5"/>
<linearGradient id="e19m" href="#H" x1="501.7" y1="-348" x2="73.4" y2="840.5"/>
<linearGradient id="e19n" href="#H" x1="-1806.5" y1="-10043.8" x2="2718.6" y2="10720.4"/>
<linearGradient id="e19o" href="#H" x1="-4080.9" y1="12750.4" x2="5041.5" y2="-12560.1"/>
<linearGradient id="e19p" href="#H" x1="-688.1" y1="-4846.3" x2="1550" y2="5423.9"/>
<linearGradient id="e19q" href="#H" x1="-17685.8" y1="-7955.3" x2="18929.7" y2="8602.8"/>
<linearGradient id="e19r" href="#H" x1="-324.4" y1="-3111.7" x2="1151.4" y2="3660.3"/>
<linearGradient id="e19s" href="#H" x1="-3406.8" y1="-6293.2" x2="4306.7" y2="6916.9"/>
<linearGradient id="e19t" href="#H" x1="-149.3" y1="-2243" x2="945.3" y2="2780"/>
<linearGradient id="e19u" href="#H" x1="-1308.1" y1="-3813.9" x2="2132.7" y2="4389.8"/>
<linearGradient id="e19v" href="#H" x1="-49.8" y1="-1720.6" x2="816.2" y2="2253"/>
<linearGradient id="e19w" href="#H" x1="-651" y1="-2641.2" x2="1433" y2="3197.5"/>
<linearGradient id="e19x" href="#H" x1="12.1" y1="-1371.3" x2="725.6" y2="1902.7"/>
<linearGradient id="e19y" href="#H" x1="-354.8" y1="-1974.6" x2="1102.3" y2="2522.3"/>
<linearGradient id="e19z" href="#H" x1="52.3" y1="-1121" x2="656.9" y2="1653.3"/>
<linearGradient id="e1a0" href="#H" x1="-194.3" y1="-1546.6" x2="910.5" y2="2090.9"/>
<linearGradient id="e1a1" href="#H" x1="79.1" y1="-932.5" x2="602" y2="1467"/>
<linearGradient id="e1a2" href="#H" x1="-97.7" y1="-1248.8" x2="784.1" y2="1792.6"/>
<linearGradient id="e1a3" href="#H" x1="96.9" y1="-785.2" x2="556.3" y2="1322.8"/>
<linearGradient id="e1a4" href="#H" x1="-35.9" y1="-1029.6" x2="693.2" y2="1574.6"/>
<linearGradient id="e1a5" href="#H" x1="325.6" y1="134.1" x2="293.5" y2="374.2"/>
<linearGradient id="e1a6" href="#H" x1="354.6" y1="12.9" x2="264.5" y2="495.5"/>
<linearGradient id="e1a7" href="#H" x1="303.9" y1="26.9" x2="288.2" y2="480.5"/>
<linearGradient id="e1a8" href="#H" x1="81.9" y1="-1056.4" x2="810.8" y2="1547.3"/>
<linearGradient id="e1a9" href="#H" x1="215.4" y1="-810.8" x2="674.7" y2="1296.8"/>
<linearGradient id="e1aa" href="#H" x1="-7.3" y1="-1269.8" x2="874.3" y2="1771"/>
<linearGradient id="e1ab" href="#H" x1="170.3" y1="-952.1" x2="693.1" y2="1447"/>
<linearGradient id="e1ac" href="#H" x1="-131.2" y1="-1561.7" x2="973.2" y2="2074.9"/>
<linearGradient id="e1ad" href="#H" x1="116.3" y1="-1134.6" x2="720.7" y2="1639.1"/>
<linearGradient id="e1ae" href="#H" x1="-319.2" y1="-1983.9" x2="1137.4" y2="2511.6"/>
<linearGradient id="e1af" href="#H" x1="48.7" y1="-1378.9" x2="762.1" y2="1894.4"/>
<linearGradient id="e1ag" href="#H" x1="-642.8" y1="-2644.8" x2="1440.1" y2="3191.8"/>
<linearGradient id="e1ah" href="#H" x1="-40.3" y1="-1722.1" x2="825.4" y2="2250.5"/>
<linearGradient id="e1ai" href="#H" x1="-1327.3" y1="-3811.5" x2="2110.9" y2="4388.1"/>
<linearGradient id="e1aj" href="#H" x1="-167.1" y1="-2238.3" x2="927.2" y2="2783.1"/>
<linearGradient id="e1ak" href="#H" x1="-3452" y1="-6284.1" x2="4251.1" y2="6916.6"/>
<linearGradient id="e1al" href="#H" x1="-369.2" y1="-3100.5" x2="1106" y2="3668.7"/>
<linearGradient id="e1am" href="#H" x1="-17736.3" y1="-7965.4" x2="18796.4" y2="8637.9"/>
<linearGradient id="e1an" href="#H" x1="-759.8" y1="-4827.2" x2="1476.9" y2="5436.3"/>
<linearGradient id="e1ao" href="#H" x1="-4198.1" y1="12797.5" x2="4957.1" y2="-12538.4"/>
<linearGradient id="e1ap" href="#H" x1="-1903.4" y1="-10009.1" x2="2616.1" y2="10728.9"/>
<linearGradient id="e1aq" href="#H" x1="1394.3" y1="742.5" x2="-732.8" y2="-219.2"/>
<linearGradient id="e1ar" href="#H" x1="409.2" y1="9.6" x2="232.8" y2="499.1"/>
<linearGradient id="e1as" href="#H" x1="492.4" y1="1016.9" x2="124.3" y2="-482.3"/>
<linearGradient id="e1at" href="#H" x1="459.5" y1="961.7" x2="156.6" y2="-428.3"/>
<linearGradient id="e1au" href="#H" x1="490.5" y1="1061.6" x2="99.2" y2="-520.2"/>
<linearGradient id="e1av" href="#H" x1="453.4" y1="999.3" x2="135.5" y2="-459.2"/>
<linearGradient id="e1aw" href="#H" x1="490.4" y1="1112" x2="72.3" y2="-563.8"/>
<linearGradient id="e1ax" href="#H" x1="448.3" y1="1041.3" x2="113.6" y2="-494.5"/>
<linearGradient id="e1ay" href="#H" x1="492.5" y1="1169.5" x2="43.3" y2="-614.3"/>
<linearGradient id="e1az" href="#H" x1="444.3" y1="1088.4" x2="90.5" y2="-534.8"/>
<linearGradient id="e1b0" href="#H" x1="497.5" y1="1235.8" x2="11.4" y2="-673.4"/>
<linearGradient id="e1b1" href="#H" x1="441.7" y1="1141.8" x2="66.1" y2="-581.3"/>
<linearGradient id="e1b2" href="#H" x1="506.2" y1="1313.1" x2="-24.1" y2="-743.3"/>
<linearGradient id="e1b3" href="#H" x1="440.7" y1="1203" x2="40.1" y2="-635.4"/>
<linearGradient id="e1b4" href="#H" x1="519.8" y1="1404.6" x2="-64.4" y2="-827.1"/>
<linearGradient id="e1b5" href="#H" x1="441.9" y1="1273.9" x2="12" y2="-699"/>
<linearGradient id="e1b6" href="#H" x1="540.1" y1="1514.8" x2="-111.3" y2="-929.2"/>
<linearGradient id="e1b7" href="#H" x1="445.8" y1="1357.2" x2="-18.8" y2="-774.7"/>
<linearGradient id="e1b8" href="#H" x1="569.9" y1="1650.3" x2="-167.4" y2="-1056.2"/>
<linearGradient id="e1b9" href="#H" x1="453.2" y1="1456.5" x2="-53" y2="-866.2"/>
<linearGradient id="e1ba" href="#H" x1="250.2" y1="-696.3" x2="658.7" y2="1178.2"/>
<linearGradient id="e1bb" href="#H" x1="145.9" y1="-892.7" x2="764.1" y2="1376.8"/>
<linearGradient id="e1bc" href="#H" x1="257.3" y1="-598" x2="624.2" y2="1085.8"/>
<linearGradient id="e1bd" href="#H" x1="174" y1="-758" x2="708.6" y2="1247.8"/>
<linearGradient id="e1be" href="#H" x1="261" y1="-515.5" x2="593.3" y2="1009.3"/>
<linearGradient id="e1bf" href="#H" x1="193" y1="-648.4" x2="662.2" y2="1144"/>
<linearGradient id="e1bg" href="#H" x1="262" y1="-445.3" x2="565" y2="945"/>
<linearGradient id="e1bh" href="#H" x1="205.5" y1="-557.4" x2="622.3" y2="1058.8"/>
<linearGradient id="e1bi" href="#H" x1="260.9" y1="-384.7" x2="538.8" y2="890.3"/>
<linearGradient id="e1bj" href="#H" x1="213.3" y1="-480.6" x2="587.2" y2="987.7"/>
<linearGradient id="e1bk" href="#H" x1="258.2" y1="-331.7" x2="514.3" y2="843.3"/>
<linearGradient id="e1bl" href="#H" x1="217.6" y1="-414.7" x2="555.6" y2="927.7"/>
<linearGradient id="e1bm" href="#H" x1="371.6" y1="256" x2="371.5" y2="251.8"/>
<linearGradient id="e1bn" href="#H" x1="219" y1="-357.5" x2="526.8" y2="876.4"/>
<linearGradient id="e1bo" href="#H" x1="350.9" y1="219.4" x2="365.1" y2="295.3"/>
<linearGradient id="e1bp" href="#H" x1="343.9" y1="194.7" x2="372.2" y2="320.4"/>
<linearGradient id="e1bq" href="#H" x1="339.1" y1="233" x2="349.6" y2="287.5"/>
<linearGradient id="e1br" href="#H" x1="333.7" y1="213" x2="355.1" y2="308"/>
<linearGradient id="e1bs" href="#H" x1="300.9" y1="465.1" x2="360.5" y2="58.5"/>
<linearGradient id="e1bt" href="#H" x1="329.4" y1="251.4" x2="332" y2="272.2"/>
<linearGradient id="e1bu" href="#H" x1="417.6" y1="641" x2="216.6" y2="-111.2"/>
<linearGradient id="e1bv" href="#H" x1="396.4" y1="612.7" x2="237.8" y2="-82.9"/>
<linearGradient id="e1bw" href="#H" x1="412.2" y1="667.7" x2="194.9" y2="-131.6"/>
<linearGradient id="e1bx" href="#H" x1="387.4" y1="634.3" x2="219.7" y2="-98.3"/>
<linearGradient id="e1by" href="#H" x1="408.6" y1="699" x2="171.4" y2="-156.6"/>
<linearGradient id="e1bz" href="#H" x1="379.1" y1="659.1" x2="200.8" y2="-116.8"/>
<linearGradient id="e1c0" href="#H" x1="407.7" y1="736.5" x2="145.3" y2="-187.6"/>
<linearGradient id="e1c1" href="#H" x1="371.9" y1="688" x2="180.9" y2="-139.4"/>
<linearGradient id="e1c2" href="#H" x1="674.6" y1="975.1" x2="-147.2" y2="-418.6"/>
<linearGradient id="e1c3" href="#H" x1="366.1" y1="722.2" x2="159.6" y2="-167.1"/>
<linearGradient id="e1c4" href="#H" x1="2093.4" y1="34.9" x2="-1583.2" y2="521.9"/>
<linearGradient id="e1c5" href="#H" x1="393.3" y1="882.8" x2="105.6" y2="-320.3"/>
<linearGradient id="e1c6" href="#H" x1="1442.7" y1="2293.4" x2="-962.7" y2="-1713.6"/>
<linearGradient id="e1c7" href="#H" x1="578.4" y1="1558.7" x2="-105.1" y2="-984.6"/>
<linearGradient id="e1c8" href="#H" x1="533.3" y1="1714.9" x2="-87.1" y2="-1132.2"/>
<linearGradient id="e1c9" href="#H" x1="727.5" y1="2029.6" x2="-279.6" y2="-1444.2"/>
<linearGradient id="e1ca" href="#H" x1="488" y1="1572.2" x2="-69" y2="-983.6"/>
<linearGradient id="e1cb" href="#H" x1="635.6" y1="1815" x2="-215.2" y2="-1224"/>
<linearGradient id="e1cc" href="#H" x1="462.8" y1="234.3" x2="464.8" y2="243.4"/>
<linearGradient id="e1cd" href="#H" x1="462.8" y1="234.3" x2="464.8" y2="243.4"/>
<linearGradient id="e1ce" href="#H" x1="449.2" y1="237.3" x2="451.2" y2="246.4"/>
<linearGradient id="e1cf" href="#H" x1="449.2" y1="237.3" x2="451.2" y2="246.4"/>
<linearGradient id="e1cg" href="#H" x1="435.6" y1="240.3" x2="437.6" y2="249.4"/>
<linearGradient id="e1ch" href="#H" x1="435.6" y1="240.3" x2="437.6" y2="249.4"/>
<linearGradient id="e1ci" href="#H" x1="422" y1="243.2" x2="424" y2="252.3"/>
<linearGradient id="e1cj" href="#H" x1="422" y1="243.2" x2="424" y2="252.3"/>
<linearGradient id="e1ck" href="#H" x1="408.4" y1="246.2" x2="410.3" y2="255.3"/>
<linearGradient id="e1cl" href="#H" x1="408.4" y1="246.2" x2="410.3" y2="255.3"/>
<linearGradient id="e1cm" href="#H" x1="394.7" y1="249.2" x2="396.7" y2="258.3"/>
<linearGradient id="e1cn" href="#H" x1="394.7" y1="249.2" x2="396.7" y2="258.3"/>
<linearGradient id="e1co" href="#H" x1="355.4" y1="131.1" x2="407.5" y2="370.5"/>
<linearGradient id="e1cp" href="#H" x1="383.8" y1="283.6" x2="380.5" y2="225.4"/>
<linearGradient id="e1cq" href="#H" x1="335.6" y1="105.5" x2="399.6" y2="399.3"/>
<linearGradient id="e1cr" href="#H" x1="349.9" y1="149.7" x2="386.1" y2="357.5"/>
<linearGradient id="e1cs" href="#H" x1="314.6" y1="74.3" x2="392.8" y2="433.1"/>
<linearGradient id="e1ct" href="#H" x1="332.1" y1="126.7" x2="376.3" y2="383.8"/>
<linearGradient id="e1cu" href="#H" x1="306.1" y1="208.5" x2="378.2" y2="331.6"/>
<linearGradient id="e1cv" href="#H" x1="154.2" y1="483.1" x2="537.9" y2="43"/>
<linearGradient id="e1cw" href="#H" x1="171.5" y1="555.6" x2="491" y2="-26.3"/>
<linearGradient id="e1cx" href="#H" x1="327.5" y1="270.7" x2="327.7" y2="271.8"/>
<linearGradient id="e1cy" href="#H" x1="301.4" y1="492.3" x2="327.1" y2="46.5"/>
<linearGradient id="e1cz" href="#H" x1="259.5" y1="-238.7" x2="370.7" y2="807.8"/>
<linearGradient id="e1d0" href="#H" x1="349.5" y1="543.2" x2="249.5" y2="0.3"/>
<linearGradient id="e1d1" href="#H" x1="378.9" y1="584.2" x2="219" y2="-42.2"/>
<linearGradient id="e1d2" href="#H" x1="333.5" y1="527.3" x2="238.6" y2="23.5"/>
<linearGradient id="e1d3" href="#H" x1="356.2" y1="557.5" x2="215.1" y2="-7.7"/>
<linearGradient id="e1d4" href="#H" x1="316.7" y1="506.8" x2="228.7" y2="52.1"/>
<linearGradient id="e1d5" href="#H" x1="350.9" y1="544.7" x2="193.9" y2="13.4"/>
<linearGradient id="e1d6" href="#H" x1="300.5" y1="491.3" x2="218.3" y2="75.1"/>
<linearGradient id="e1d7" href="#H" x1="329.1" y1="520.1" x2="189.6" y2="46.3"/>
<linearGradient id="e1d8" href="#H" x1="285.9" y1="487.5" x2="205.9" y2="85.3"/>
<linearGradient id="e1d9" href="#H" x1="295.1" y1="497.5" x2="196.6" y2="75.3"/>
<linearGradient id="e1da" href="#H" x1="271.7" y1="486.8" x2="192.8" y2="91.9"/>
<linearGradient id="e1db" href="#H" x1="276.4" y1="491.9" x2="188.1" y2="86.8"/>
<linearGradient id="e1dc" href="#H" x1="257.6" y1="486.5" x2="179.7" y2="98.2"/>
<linearGradient id="e1dd" href="#H" x1="262" y1="491.1" x2="175.3" y2="93.5"/>
<linearGradient id="e1de" href="#H" x1="499.8" y1="382.2" x2="451.4" y2="105.3"/>
<linearGradient id="e1df" href="#H" x1="506.7" y1="385.1" x2="445.2" y2="102.7"/>
<linearGradient id="e1dg" href="#H" x1="486.3" y1="382.7" x2="437.7" y2="110.5"/>
<linearGradient id="e1dh" href="#H" x1="492.4" y1="384.9" x2="432.2" y2="108.5"/>
<linearGradient id="e1di" href="#H" x1="472.8" y1="383.6" x2="424" y2="115.3"/>
<linearGradient id="e1dj" href="#H" x1="478.2" y1="385.2" x2="419.1" y2="113.8"/>
<linearGradient id="e1dk" href="#H" x1="459.2" y1="384.9" x2="410.3" y2="119.8"/>
<linearGradient id="e1dl" href="#H" x1="464.1" y1="386.1" x2="405.9" y2="118.7"/>
<linearGradient id="e1dm" href="#H" x1="446.1" y1="386.5" x2="396.2" y2="124.1"/>
<linearGradient id="e1dn" href="#H" x1="450.1" y1="387.3" x2="392.6" y2="123.3"/>
<linearGradient id="e1do" href="#H" x1="432.8" y1="388.3" x2="382.3" y2="128"/>
<linearGradient id="e1dp" href="#H" x1="436.2" y1="388.9" x2="379.2" y2="127.5"/>
<linearGradient id="e1dq" href="#H" x1="419.1" y1="390.3" x2="368.7" y2="131.9"/>
<linearGradient id="e1dr" href="#H" x1="422.3" y1="390.7" x2="365.8" y2="131.5"/>
<linearGradient id="e1ds" href="#H" x1="406.8" y1="392.5" x2="353.9" y2="135.5"/>
<linearGradient id="e1dt" href="#H" x1="408.5" y1="392.7" x2="352.4" y2="135.3"/>
<linearGradient id="e1du" href="#H" x1="414.8" y1="394.1" x2="320.7" y2="139.8"/>
<linearGradient id="e1dv" href="#H" x1="394.8" y1="395.2" x2="338.9" y2="138.8"/>
<linearGradient id="e1dw" href="#H" x1="327.8" y1="358.9" x2="374.7" y2="178.6"/>
<linearGradient id="e1dx" href="#H" x1="376.5" y1="402.9" x2="328.3" y2="136.7"/>
<linearGradient id="e1dy" href="#H" x1="342.4" y1="368.7" x2="333.9" y2="176.7"/>
<linearGradient id="e1dz" href="#H" x1="240.4" y1="189.2" x2="439" y2="361.7"/>
<linearGradient id="e1e0" href="#H" x1="337" y1="374.8" x2="310.8" y2="177.8"/>
<linearGradient id="e1e1" href="#H" x1="346.6" y1="352.6" x2="300.2" y2="202.3"/>
<linearGradient id="e1e2" href="#H" x1="329.2" y1="374.3" x2="290.7" y2="184.8"/>
<linearGradient id="e1e3" href="#H" x1="330.4" y1="372.2" x2="289.3" y2="187"/>
<linearGradient id="e1e4" href="#H" x1="315.7" y1="378" x2="276.8" y2="187.1"/>
<linearGradient id="e1e5" href="#H" x1="316.9" y1="376.1" x2="275.4" y2="189.2"/>
<linearGradient id="e1e6" href="#H" x1="302.2" y1="381.6" x2="262.9" y2="189.4"/>
<linearGradient id="e1e7" href="#H" x1="303.4" y1="379.8" x2="261.6" y2="191.4"/>
<linearGradient id="e1e8" href="#H" x1="288.7" y1="385.2" x2="249.1" y2="191.8"/>
<linearGradient id="e1e9" href="#H" x1="289.8" y1="383.5" x2="247.7" y2="193.7"/>
<linearGradient id="e1ea" href="#H" x1="275.1" y1="388.7" x2="235.2" y2="194.2"/>
<linearGradient id="e1eb" href="#H" x1="276.3" y1="387.2" x2="233.9" y2="196"/>
<linearGradient id="e1ec" href="#H" x1="261.6" y1="392.2" x2="221.4" y2="196.7"/>
<linearGradient id="e1ed" href="#H" x1="262.7" y1="390.7" x2="220.1" y2="198.4"/>
<linearGradient id="e1ee" href="#H" x1="248" y1="395.7" x2="207.5" y2="199.2"/>
<linearGradient id="e1ef" href="#H" x1="249.1" y1="394.3" x2="206.3" y2="200.8"/>
<linearGradient id="e1eg" href="#H" x1="498.4" y1="329.6" x2="465.9" y2="177.8"/>
<linearGradient id="e1eh" href="#H" x1="500.1" y1="316.1" x2="463.5" y2="196.9"/>
<linearGradient id="e1ei" href="#H" x1="485.2" y1="337.3" x2="450.6" y2="176"/>
<linearGradient id="e1ej" href="#H" x1="487.3" y1="327.5" x2="447.5" y2="190.6"/>
<linearGradient id="e1ek" href="#H" x1="471.9" y1="344" x2="435.6" y2="175.3"/>
<linearGradient id="e1el" href="#H" x1="474.1" y1="336.5" x2="432.2" y2="187"/>
<linearGradient id="e1em" href="#H" x1="458.3" y1="350" x2="420.8" y2="175.4"/>
<linearGradient id="e1en" href="#H" x1="460.5" y1="344" x2="417.2" y2="185.1"/>
<linearGradient id="e1eo" href="#H" x1="444.7" y1="355.1" x2="406.2" y2="176.4"/>
<linearGradient id="e1ep" href="#H" x1="446.5" y1="350.9" x2="403.1" y2="183.5"/>
<linearGradient id="e1eq" href="#H" x1="430.9" y1="359.7" x2="391.7" y2="177.8"/>
<linearGradient id="e1er" href="#H" x1="432.5" y1="356.5" x2="388.9" y2="183.6"/>
<linearGradient id="e1es" href="#H" x1="417.2" y1="364.2" x2="377.3" y2="179.4"/>
<linearGradient id="e1et" href="#H" x1="418.7" y1="361.4" x2="374.5" y2="184.6"/>
<linearGradient id="e1eu" href="#H" x1="402.3" y1="369.8" x2="365.5" y2="178"/>
<linearGradient id="e1ev" href="#H" x1="404.3" y1="366.5" x2="361.7" y2="184.3"/>
<linearGradient id="e1ew" href="#H" x1="388.2" y1="370.5" x2="356.3" y2="180.4"/>
<linearGradient id="e1ex" href="#H" x1="385.8" y1="374.1" x2="360.1" y2="174.6"/>
<linearGradient id="e1ey" href="#H" x1="358.4" y1="394.7" x2="365.8" y2="152.3"/>
<linearGradient id="e1ez" href="#H" x1="357.1" y1="377.8" x2="366.9" y2="166.9"/>
<linearGradient id="e1f0" href="#H" x1="427.8" y1="354.9" x2="294.6" y2="185.3"/>
<linearGradient id="e1f1" href="#H" x1="387.3" y1="391.8" x2="322.3" y2="160"/>
<linearGradient id="e1f2" href="#H" x1="401.8" y1="387.5" x2="295.5" y2="167.2"/>
<linearGradient id="e1f3" href="#H" x1="375.9" y1="399.1" x2="310.9" y2="160.3"/>
<linearGradient id="e1f4" href="#H" x1="375.8" y1="404.3" x2="290" y2="162"/>
<linearGradient id="e1f5" href="#H" x1="357.2" y1="407.6" x2="300.8" y2="160.1"/>
<linearGradient id="e1f6" href="#H" x1="352.4" y1="413.7" x2="282.6" y2="161.4"/>
<linearGradient id="e1f7" href="#H" x1="345" y1="414" x2="286.8" y2="161.2"/>
<linearGradient id="e1f8" href="#H" x1="339.6" y1="418.7" x2="269.1" y2="163.4"/>
<linearGradient id="e1f9" href="#H" x1="332.3" y1="418.7" x2="273.2" y2="163.3"/>
<linearGradient id="e1fa" href="#H" x1="328" y1="423.7" x2="255" y2="165.4"/>
<linearGradient id="e1fb" href="#H" x1="319.6" y1="423.5" x2="259.5" y2="165.5"/>
<linearGradient id="e1fc" href="#H" x1="308.9" y1="429" x2="244.9" y2="167.3"/>
<linearGradient id="e1fd" href="#H" x1="307" y1="428.8" x2="245.9" y2="167.4"/>
<linearGradient id="e1fe" href="#H" x1="293.9" y1="432.4" x2="232.5" y2="170.3"/>
<linearGradient id="e1ff" href="#H" x1="293.9" y1="432.4" x2="232.5" y2="170.3"/>
<linearGradient id="e1fg" href="#H" x1="280.7" y1="435.5" x2="219.2" y2="173.4"/>
<linearGradient id="e1fh" href="#H" x1="280.6" y1="435.5" x2="219.2" y2="173.4"/>
<linearGradient id="e1fi" href="#H" x1="510.5" y1="342.9" x2="480.1" y2="158.4"/>
<linearGradient id="e1fj" href="#H" x1="513.6" y1="335.9" x2="477" y2="165.6"/>
<linearGradient id="e1fk" href="#H" x1="497.4" y1="348.5" x2="466" y2="158.6"/>
<linearGradient id="e1fl" href="#H" x1="500.7" y1="342.1" x2="462.6" y2="165.1"/>
<linearGradient id="e1fm" href="#H" x1="484.2" y1="353.8" x2="452" y2="159.1"/>
<linearGradient id="e1fn" href="#H" x1="487.8" y1="347.9" x2="448.3" y2="165.1"/>
<linearGradient id="e1fo" href="#H" x1="471.4" y1="358.3" x2="437.6" y2="160.5"/>
<linearGradient id="e1fp" href="#H" x1="474.7" y1="353.4" x2="434.2" y2="165.5"/>
<linearGradient id="e1fq" href="#H" x1="458.4" y1="362.5" x2="423.4" y2="162.2"/>
<linearGradient id="e1fr" href="#H" x1="461.6" y1="358.3" x2="420.1" y2="166.4"/>
<linearGradient id="e1fs" href="#H" x1="445.4" y1="366.4" x2="409.2" y2="164.1"/>
<linearGradient id="e1ft" href="#H" x1="448.4" y1="362.8" x2="406.2" y2="167.7"/>
<linearGradient id="e1fu" href="#H" x1="432.2" y1="370.2" x2="395.1" y2="166.1"/>
<linearGradient id="e1fv" href="#H" x1="435.1" y1="367.1" x2="392.3" y2="169.3"/>
<linearGradient id="e1fw" href="#H" x1="421.4" y1="371.1" x2="379.6" y2="170.6"/>
<linearGradient id="e1fx" href="#H" x1="420.6" y1="371.8" x2="380.3" y2="169.9"/>
<linearGradient id="e1fy" href="#H" x1="421.2" y1="350" x2="355.2" y2="194.1"/>
<linearGradient id="e1fz" href="#H" x1="406.4" y1="374.8" x2="368.6" y2="171.7"/>
<linearGradient id="e1g0" href="#H" x1="378.9" y1="391.1" x2="314.1" y2="192.1"/>
<linearGradient id="e1g1" href="#H" x1="360.5" y1="386.4" x2="494.8" y2="238"/>
<linearGradient id="e1g2" href="#H" x1="382.4" y1="356.7" x2="302.1" y2="263.1"/>
<linearGradient id="e1g3" href="#H" x1="364.6" y1="394.2" x2="346.2" y2="170.5"/>
<linearGradient id="e1g4" href="#H" x1="311.6" y1="421.3" x2="399.9" y2="132.2"/>
<linearGradient id="e1g5" href="#H" x1="349.4" y1="390.9" x2="339.8" y2="180.6"/>
<linearGradient id="e1g6" href="#H" x1="345.6" y1="428.4" x2="314.4" y2="135.9"/>
<linearGradient id="e1g7" href="#H" x1="325.9" y1="313.7" x2="340.1" y2="285.1"/>
<linearGradient id="e1g8" href="#H" x1="336.8" y1="423.2" x2="296.6" y2="151.3"/>
<linearGradient id="e1g9" href="#H" x1="367.4" y1="431.7" x2="260" y2="141.1"/>
<linearGradient id="e1ga" href="#H" x1="325.2" y1="421.7" x2="282.4" y2="160.7"/>
<linearGradient id="e1gb" href="#H" x1="342.8" y1="424.5" x2="262.9" y2="157.7"/>
<linearGradient id="e1gc" href="#H" x1="314.6" y1="422" x2="267.4" y2="167.5"/>
<linearGradient id="e1gd" href="#H" x1="326.2" y1="422.5" x2="255.5" y2="166.9"/>
<linearGradient id="e1ge" href="#H" x1="302.6" y1="423.7" x2="253" y2="172.1"/>
<linearGradient id="e1gf" href="#H" x1="307.7" y1="423.8" x2="247.9" y2="172"/>
<linearGradient id="e1gg" href="#H" x1="289.2" y1="425.8" x2="239.6" y2="176"/>
<linearGradient id="e1gh" href="#H" x1="293.1" y1="425.8" x2="235.9" y2="176"/>
<linearGradient id="e1gi" href="#H" x1="275.9" y1="428" x2="226.3" y2="179.8"/>
<linearGradient id="e1gj" href="#H" x1="279.5" y1="428" x2="222.9" y2="179.9"/>
<linearGradient id="e1gk" href="#H" x1="537.7" y1="387.7" x2="486.4" y2="126.6"/>
<linearGradient id="e1gl" href="#H" x1="550.7" y1="389.2" x2="478.2" y2="125.7"/>
<linearGradient id="e1gm" href="#H" x1="524.5" y1="387.9" x2="473.9" y2="131.9"/>
<linearGradient id="e1gn" href="#H" x1="536.9" y1="388.6" x2="466.8" y2="131.6"/>
<linearGradient id="e1go" href="#H" x1="511.4" y1="388.5" x2="461.6" y2="136.8"/>
<linearGradient id="e1gp" href="#H" x1="523.6" y1="388.4" x2="455.2" y2="136.9"/>
<linearGradient id="e1gq" href="#H" x1="498.8" y1="389.6" x2="449" y2="141.2"/>
<linearGradient id="e1gr" href="#H" x1="509.3" y1="389.1" x2="444" y2="141.5"/>
<linearGradient id="e1gs" href="#H" x1="486.2" y1="391.1" x2="436.5" y2="145.3"/>
<linearGradient id="e1gt" href="#H" x1="495.4" y1="390.2" x2="432.4" y2="145.6"/>
<linearGradient id="e1gu" href="#H" x1="473.5" y1="392.8" x2="423.9" y2="149"/>
<linearGradient id="e1gv" href="#H" x1="481.9" y1="391.7" x2="420.6" y2="149.5"/>
<linearGradient id="e1gw" href="#H" x1="460.9" y1="394.6" x2="411.3" y2="152.7"/>
<linearGradient id="e1gx" href="#H" x1="468.5" y1="393.5" x2="408.6" y2="153.1"/>
<linearGradient id="e1gy" href="#H" x1="449.1" y1="396.9" x2="397.4" y2="155.9"/>
<linearGradient id="e1gz" href="#H" x1="450.9" y1="396.6" x2="396.8" y2="156"/>
<linearGradient id="e1h0" href="#H" x1="438.4" y1="400.9" x2="378.3" y2="157.9"/>
<linearGradient id="e1h1" href="#H" x1="423.2" y1="401.9" x2="385.2" y2="157.5"/>
<linearGradient id="e1h2" href="#H" x1="359.8" y1="380.5" x2="400.1" y2="175.9"/>
<linearGradient id="e1h3" href="#H" x1="396.9" y1="407" x2="374" y2="157.2"/>
<linearGradient id="e1h4" href="#H" x1="387.6" y1="305.9" x2="349.5" y2="275.4"/>
<linearGradient id="e1h5" href="#H" x1="287.1" y1="318.1" x2="464.5" y2="261.4"/>
<linearGradient id="e1h6" href="#H" x1="372" y1="389.2" x2="330.4" y2="193.8"/>
<linearGradient id="e1h7" href="#H" x1="372" y1="328.6" x2="330.3" y2="293.4"/>
<linearGradient id="e1h8" href="#H" x1="357.6" y1="394.4" x2="315.2" y2="195.5"/>
<linearGradient id="e1h9" href="#H" x1="361" y1="389.9" x2="309" y2="203.8"/>
<linearGradient id="e1ha" href="#H" x1="343.4" y1="398.8" x2="299.9" y2="198"/>
<linearGradient id="e1hb" href="#H" x1="345.9" y1="395.9" x2="295" y2="203.9"/>
<linearGradient id="e1hc" href="#H" x1="329" y1="403.1" x2="285" y2="200.4"/>
<linearGradient id="e1hd" href="#H" x1="331.1" y1="400.7" x2="280.3" y2="205.7"/>
<linearGradient id="e1he" href="#H" x1="314.8" y1="406.9" x2="270.5" y2="203.1"/>
<linearGradient id="e1hf" href="#H" x1="316.1" y1="405.5" x2="267.3" y2="206.4"/>
<linearGradient id="e1hg" href="#H" x1="300.7" y1="410.4" x2="256.3" y2="205.8"/>
<linearGradient id="e1hh" href="#H" x1="301.6" y1="409.6" x2="254.2" y2="207.9"/>
<linearGradient id="e1hi" href="#H" x1="286.7" y1="413.9" x2="242.1" y2="208.6"/>
<linearGradient id="e1hj" href="#H" x1="287.5" y1="413.1" x2="240" y2="210.6"/>
<linearGradient id="e1hk" href="#H" x1="272.6" y1="417.3" x2="227.9" y2="211.4"/>
<linearGradient id="e1hl" href="#H" x1="273.4" y1="416.6" x2="225.9" y2="213.3"/>
<linearGradient id="e1hm" href="#H" x1="404.6" y1="90.1" x2="651.1" y2="482.8"/>
<linearGradient id="e1hn" href="#H" x1="355.2" y1="62.6" x2="710.4" y2="515.8"/>
<linearGradient id="e1ho" href="#H" x1="426.9" y1="135.9" x2="597.6" y2="445"/>
<linearGradient id="e1hp" href="#H" x1="346.5" y1="86.8" x2="697.7" y2="506.1"/>
<linearGradient id="e1hq" href="#H" x1="447" y1="189.3" x2="544.4" y2="395.2"/>
<linearGradient id="e1hr" href="#H" x1="359.3" y1="124.6" x2="658" y2="479.2"/>
<linearGradient id="e1hs" href="#H" x1="451.5" y1="227.1" x2="508.5" y2="361.6"/>
<linearGradient id="e1ht" href="#H" x1="405" y1="177.2" x2="571.3" y2="429"/>
<linearGradient id="e1hu" href="#H" x1="448.7" y1="255.3" x2="481.1" y2="338.1"/>
<linearGradient id="e1hv" href="#H" x1="421.8" y1="217.8" x2="518.9" y2="390.8"/>
<linearGradient id="e1hw" href="#H" x1="442" y1="277.3" x2="458.1" y2="321"/>
<linearGradient id="e1hx" href="#H" x1="425.5" y1="248.8" x2="482.3" y2="362.9"/>
<linearGradient id="e1hy" href="#H" x1="433" y1="295.1" x2="437.7" y2="308.5"/>
<linearGradient id="e1hz" href="#H" x1="422.4" y1="272.9" x2="454" y2="342.4"/>
<linearGradient id="e1i0" href="#H" x1="425.1" y1="321.4" x2="415.4" y2="276.9"/>
<linearGradient id="e1i1" href="#H" x1="422.9" y1="310" x2="418.8" y2="294.4"/>
<linearGradient id="e1i2" href="#H" x1="393" y1="235.6" x2="428.7" y2="399.5"/>
<linearGradient id="e1i3" href="#H" x1="409.6" y1="344.5" x2="404.8" y2="242.7"/>
<linearGradient id="e1i4" href="#H" x1="437.1" y1="410.6" x2="372.3" y2="163"/>
<linearGradient id="e1i5" href="#H" x1="354.3" y1="370.2" x2="414" y2="183.3"/>
<linearGradient id="e1i6" href="#H" x1="425.8" y1="426.5" x2="346.8" y2="154.3"/>
<linearGradient id="e1i7" href="#H" x1="391.9" y1="416.2" x2="371.9" y2="162"/>
<linearGradient id="e1i8" href="#H" x1="415.5" y1="433.7" x2="331.2" y2="154.4"/>
<linearGradient id="e1i9" href="#H" x1="402.9" y1="431.2" x2="340.3" y2="156.2"/>
<linearGradient id="e1ia" href="#H" x1="406.4" y1="442.3" x2="314.6" y2="153.4"/>
<linearGradient id="e1ib" href="#H" x1="390.6" y1="438.5" x2="326" y2="156.2"/>
<linearGradient id="e1ic" href="#H" x1="385.8" y1="450.5" x2="306.1" y2="152.6"/>
<linearGradient id="e1id" href="#H" x1="377" y1="447.1" x2="312.5" y2="155.1"/>
<linearGradient id="e1ie" href="#H" x1="367.4" y1="455.4" x2="296" y2="154.3"/>
<linearGradient id="e1if" href="#H" x1="364.1" y1="453.8" x2="298.4" y2="155.4"/>
<linearGradient id="e1ig" href="#H" x1="354.3" y1="460" x2="282.1" y2="156.1"/>
<linearGradient id="e1ih" href="#H" x1="350.9" y1="458.3" x2="284.5" y2="157.3"/>
<linearGradient id="e1ii" href="#H" x1="341.3" y1="464.9" x2="268.1" y2="157.8"/>
<linearGradient id="e1ij" href="#H" x1="337.7" y1="463" x2="270.7" y2="159.1"/>
<linearGradient id="e1ik" href="#H" x1="328.3" y1="469.8" x2="254" y2="159.4"/>
<linearGradient id="e1il" href="#H" x1="324.5" y1="467.8" x2="256.8" y2="160.8"/>
<linearGradient id="e1im" href="#H" x1="315.4" y1="475" x2="239.9" y2="160.8"/>
<linearGradient id="e1in" href="#H" x1="311.3" y1="472.7" x2="242.9" y2="162.5"/>
<linearGradient id="e20" href="#H" x1="823.5" y1="161.6" x2="819.2" y2="255.2"/>
<linearGradient id="e21" href="#H" x1="810" y1="275.5" x2="805.1" y2="142"/>
<linearGradient id="e22" href="#H" x1="596" y1="341" x2="1065.5" y2="62.3"/>
<linearGradient id="e23" href="#H" x1="799.4" y1="289.4" x2="786.7" y2="134.2"/>
<linearGradient id="e24" href="#H" x1="808.8" y1="258.2" x2="774" y2="177"/>
<linearGradient id="e25" href="#H" x1="789.2" y1="294.8" x2="766.7" y2="136.3"/>
<linearGradient id="e26" href="#H" x1="797" y1="284.6" x2="754.6" y2="152.2"/>
<linearGradient id="e27" href="#H" x1="787.6" y1="248.2" x2="739.8" y2="202.3"/>
<linearGradient id="e28" href="#H" x1="779.6" y1="295.7" x2="750.1" y2="141"/>
<linearGradient id="e29" href="#H" x1="672.9" y1="296.5" x2="845" y2="145.9"/>
<linearGradient id="e2a" href="#H" x1="764.5" y1="291.5" x2="739.9" y2="151.6"/>
<linearGradient id="e2b" href="#H" x1="564.4" y1="458.9" x2="928.4" y2="-23.3"/>
<linearGradient id="e2c" href="#H" x1="742.1" y1="251.1" x2="736.5" y2="201.1"/>
<linearGradient id="e2d" href="#H" x1="717.5" y1="383" x2="734.5" y2="67"/>
<linearGradient id="e2e" href="#H" x1="725.3" y1="-54.1" x2="726.1" y2="530.9"/>
<linearGradient id="e2f" href="#H" x1="717.7" y1="349.7" x2="706.2" y2="110.4"/>
<linearGradient id="e2g" href="#H" x1="804.2" y1="438.2" x2="617.4" y2="19.7"/>
<linearGradient id="e2h" href="#H" x1="710.3" y1="342.6" x2="686.6" y2="125.4"/>
<linearGradient id="e2i" href="#H" x1="737.2" y1="358.9" x2="659.9" y2="109.2"/>
<linearGradient id="e2j" href="#H" x1="700" y1="340.5" x2="670.1" y2="134.7"/>
<linearGradient id="e2k" href="#H" x1="715.9" y1="345.6" x2="654.8" y2="129.8"/>
<linearGradient id="e2l" href="#H" x1="834.7" y1="349.4" x2="829.2" y2="65"/>
<linearGradient id="e2m" href="#H" x1="912.2" y1="21.3" x2="750.3" y2="398.9"/>
<linearGradient id="e2n" href="#H" x1="823.3" y1="311.3" x2="814.3" y2="113.3"/>
<linearGradient id="e2o" href="#H" x1="920.1" y1="182.3" x2="738.6" y2="214.3"/>
<linearGradient id="e2p" href="#H" x1="819.8" y1="309.5" x2="796.9" y2="122.4"/>
<linearGradient id="e2q" href="#H" x1="867.7" y1="295.7" x2="772.8" y2="129.3"/>
<linearGradient id="e2r" href="#H" x1="812.5" y1="309.9" x2="783.9" y2="127.8"/>
<linearGradient id="e2s" href="#H" x1="837.4" y1="302.9" x2="775.8" y2="130.1"/>
<linearGradient id="e2t" href="#H" x1="838.1" y1="286.1" x2="740.5" y2="146.9"/>
<linearGradient id="e2u" href="#H" x1="796.4" y1="312.5" x2="765.7" y2="130.9"/>
<linearGradient id="e2v" href="#H" x1="829.5" y1="293.7" x2="700.4" y2="155"/>
<linearGradient id="e2w" href="#H" x1="776.2" y1="319.7" x2="751.5" y2="130.1"/>
<linearGradient id="e2x" href="#H" x1="763.9" y1="221.8" x2="735.2" y2="239.8"/>
<linearGradient id="e2y" href="#H" x1="768.8" y1="331.5" x2="730" y2="124"/>
<linearGradient id="e2z" href="#H" x1="731.1" y1="295.2" x2="742.4" y2="172.8"/>
<linearGradient id="e210" href="#H" x1="740.9" y1="365" x2="730.8" y2="89.8"/>
<linearGradient id="e211" href="#H" x1="727.9" y1="311.6" x2="715" y2="163.8"/>
<linearGradient id="e212" href="#H" x1="710.2" y1="238.8" x2="740.2" y2="267.8"/>
<linearGradient id="e213" href="#H" x1="716.8" y1="319.4" x2="695.1" y2="163.4"/>
<linearGradient id="e214" href="#H" x1="725.7" y1="303.2" x2="679.7" y2="191.7"/>
<linearGradient id="e215" href="#H" x1="703.8" y1="324.9" x2="677" y2="165.7"/>
<linearGradient id="e216" href="#H" x1="709.9" y1="317.8" x2="664" y2="180.7"/>
<linearGradient id="e217" href="#H" x1="844.7" y1="266.5" x2="839.8" y2="165.5"/>
<linearGradient id="e218" href="#H" x1="762.3" y1="408" x2="940.1" y2="-6.8"/>
<linearGradient id="e219" href="#H" x1="833.2" y1="299.5" x2="819.2" y2="138"/>
<linearGradient id="e21a" href="#H" x1="778.5" y1="283.2" x2="939.9" y2="174.1"/>
<linearGradient id="e21b" href="#H" x1="819" y1="306.1" x2="794.9" y2="140.5"/>
<linearGradient id="e21c" href="#H" x1="825.5" y1="297.1" x2="760.9" y2="188"/>
<linearGradient id="e21d" href="#H" x1="801.6" y1="311.5" x2="773.3" y2="144.5"/>
<linearGradient id="e21e" href="#H" x1="801.8" y1="311.4" x2="744.8" y2="169.3"/>
<linearGradient id="e21f" href="#H" x1="802.9" y1="301.6" x2="733.2" y2="185.3"/>
<linearGradient id="e21g" href="#H" x1="793.4" y1="312.8" x2="767.6" y2="144.7"/>
<linearGradient id="e21h" href="#H" x1="794.3" y1="295.7" x2="733.6" y2="185.7"/>
<linearGradient id="e21i" href="#H" x1="782.4" y1="313.4" x2="757.6" y2="150.3"/>
<linearGradient id="e21j" href="#H" x1="718.8" y1="237.4" x2="814.3" y2="252.7"/>
<linearGradient id="e21k" href="#H" x1="767.7" y1="312.8" x2="751.1" y2="155.2"/>
<linearGradient id="e21l" href="#H" x1="740.5" y1="349.6" x2="752.5" y2="124.6"/>
<linearGradient id="e21m" href="#H" x1="744.2" y1="301.1" x2="749.2" y2="169.2"/>
<linearGradient id="e21n" href="#H" x1="746.3" y1="341.4" x2="724.2" y2="141.8"/>
<linearGradient id="e21o" href="#H" x1="849.4" y1="286.7" x2="654.6" y2="178.7"/>
<linearGradient id="e21p" href="#H" x1="739.4" y1="339.3" x2="709.8" y2="150.3"/>
<linearGradient id="e21q" href="#H" x1="776.7" y1="331.6" x2="691.9" y2="154"/>
<linearGradient id="e21r" href="#H" x1="730.9" y1="339.6" x2="697.4" y2="155.8"/>
<linearGradient id="e21s" href="#H" x1="753.9" y1="333.6" x2="689.8" y2="157.8"/>
<linearGradient id="e21t" href="#H" x1="862.9" y1="347" x2="843.8" y2="89"/>
<linearGradient id="e21u" href="#H" x1="868.4" y1="177.9" x2="838.6" y2="247.4"/>
<linearGradient id="e21v" href="#H" x1="853.6" y1="319.7" x2="832" y2="125.5"/>
<linearGradient id="e21w" href="#H" x1="833.9" y1="195.6" x2="842.2" y2="189.8"/>
<linearGradient id="e21x" href="#H" x1="850.6" y1="317.5" x2="820" y2="133.2"/>
<linearGradient id="e21y" href="#H" x1="906.6" y1="288.8" x2="807.1" y2="139.9"/>
<linearGradient id="e21z" href="#H" x1="845.7" y1="317.3" x2="811.4" y2="137.7"/>
<linearGradient id="e220" href="#H" x1="883.6" y1="299.8" x2="810.7" y2="138.1"/>
<linearGradient id="e221" href="#H" x1="852.6" y1="310.2" x2="780" y2="144.3"/>
<linearGradient id="e222" href="#H" x1="816.1" y1="322.5" x2="792.4" y2="140.2"/>
<linearGradient id="e223" href="#H" x1="853.9" y1="305.5" x2="743.8" y2="154.9"/>
<linearGradient id="e224" href="#H" x1="801.2" y1="328.6" x2="774.9" y2="141.3"/>
<linearGradient id="e225" href="#H" x1="887.1" y1="304.1" x2="666" y2="168.1"/>
<linearGradient id="e226" href="#H" x1="778.9" y1="337.8" x2="763.8" y2="137.7"/>
<linearGradient id="e227" href="#H" x1="757.5" y1="302.8" x2="757" y2="186.1"/>
<linearGradient id="e228" href="#H" x1="748.5" y1="352" x2="768.6" y2="122.8"/>
<linearGradient id="e229" href="#H" x1="750.6" y1="322.3" x2="731" y2="174.5"/>
<linearGradient id="e22a" href="#H" x1="706.3" y1="259.8" x2="810.9" y2="287.2"/>
<linearGradient id="e22b" href="#H" x1="737.3" y1="330.5" x2="710.5" y2="174.6"/>
<linearGradient id="e22c" href="#H" x1="744.9" y1="315.2" x2="690.3" y2="215.1"/>
<linearGradient id="e22d" href="#H" x1="722.2" y1="336.3" x2="691.4" y2="177.3"/>
<linearGradient id="e22e" href="#H" x1="726.4" y1="331.3" x2="673.9" y2="198.1"/>
<linearGradient id="e22f" href="#H" x1="856.9" y1="203.4" x2="871.6" y2="262.2"/>
<linearGradient id="e22g" href="#H" x1="783.3" y1="417" x2="961.2" y2="2.2"/>
<linearGradient id="e22h" href="#H" x1="856.8" y1="301.2" x2="836.9" y2="159.2"/>
<linearGradient id="e22i" href="#H" x1="795.2" y1="317.8" x2="952.7" y2="127.9"/>
<linearGradient id="e22j" href="#H" x1="842.2" y1="312.1" x2="817.7" y2="154.8"/>
<linearGradient id="e22k" href="#H" x1="848.7" y1="289.4" x2="797.2" y2="225.3"/>
<linearGradient id="e22l" href="#H" x1="826.7" y1="318.2" x2="796.8" y2="157.6"/>
<linearGradient id="e22m" href="#H" x1="830.5" y1="313.5" x2="773.7" y2="186.4"/>
<linearGradient id="e22n" href="#H" x1="823.7" y1="309.7" x2="769.3" y2="184"/>
<linearGradient id="e22o" href="#H" x1="815.1" y1="320.1" x2="792.2" y2="156.2"/>
<linearGradient id="e22p" href="#H" x1="805.1" y1="267" x2="780.2" y2="240.7"/>
<linearGradient id="e22q" href="#H" x1="800.9" y1="320" x2="786.5" y2="160.5"/>
<linearGradient id="e22r" href="#H" x1="579.1" y1="238" x2="1022" y2="262.9"/>
<linearGradient id="e22s" href="#H" x1="784.8" y1="310.1" x2="777.6" y2="177.2"/>
<linearGradient id="e22t" href="#H" x1="783.8" y1="393.7" x2="752.6" y2="99.2"/>
<linearGradient id="e22u" href="#H" x1="761.5" y1="277.5" x2="773.9" y2="210.2"/>
<linearGradient id="e22v" href="#H" x1="772.7" y1="360.5" x2="740.2" y2="142.1"/>
<linearGradient id="e22w" href="#H" x1="895.1" y1="250.2" x2="647.3" y2="225.8"/>
<linearGradient id="e22x" href="#H" x1="763.6" y1="354.8" x2="726.8" y2="154.7"/>
<linearGradient id="e22y" href="#H" x1="811.8" y1="348.7" x2="698.3" y2="158.3"/>
<linearGradient id="e22z" href="#H" x1="753.4" y1="353.7" x2="714.6" y2="162"/>
<linearGradient id="e230" href="#H" x1="779.5" y1="349.6" x2="702.6" y2="163.9"/>
<linearGradient id="e231" href="#H" x1="902.3" y1="392.2" x2="822.6" y2="73.2"/>
<linearGradient id="e232" href="#H" x1="866.1" y1="211.3" x2="855.2" y2="236.7"/>
<linearGradient id="e233" href="#H" x1="865.6" y1="342.5" x2="834.2" y2="129.5"/>
<linearGradient id="e234" href="#H" x1="919.9" y1="188.9" x2="797.8" y2="232.2"/>
<linearGradient id="e235" href="#H" x1="859.9" y1="337.6" x2="819.9" y2="140.7"/>
<linearGradient id="e236" href="#H" x1="908.4" y1="326.3" x2="796.1" y2="146.2"/>
<linearGradient id="e237" href="#H" x1="867.5" y1="347.6" x2="785.2" y2="136.7"/>
<linearGradient id="e238" href="#H" x1="831.9" y1="340.5" x2="810.5" y2="141.8"/>
<linearGradient id="e239" href="#H" x1="1020.1" y1="325.9" x2="600.1" y2="159.5"/>
<linearGradient id="e23a" href="#H" x1="810.8" y1="350.9" x2="800.8" y2="135.5"/>
<linearGradient id="e23b" href="#H" x1="785.2" y1="400.5" x2="799.5" y2="86.7"/>
<linearGradient id="e23c" href="#H" x1="770.3" y1="203.8" x2="787.7" y2="316.3"/>
<linearGradient id="e23d" href="#H" x1="653.7" y1="546.9" x2="922.3" y2="-79.7"/>
<linearGradient id="e23e" href="#H" x1="770.2" y1="294.5" x2="757.6" y2="226.2"/>
<linearGradient id="e23f" href="#H" x1="556.1" y1="302.3" x2="1037.3" y2="216"/>
<linearGradient id="e23g" href="#H" x1="760" y1="317" x2="737.7" y2="210"/>
<linearGradient id="e23h" href="#H" x1="746.6" y1="267.9" x2="757.6" y2="283.2"/>
<linearGradient id="e23i" href="#H" x1="747.4" y1="328.7" x2="720.3" y2="205.3"/>
<linearGradient id="e23j" href="#H" x1="749.3" y1="309" x2="717" y2="238.6"/>
<linearGradient id="e23k" href="#H" x1="854.9" y1="237.5" x2="860.2" y2="258.5"/>
<linearGradient id="e23l" href="#H" x1="786.5" y1="411.9" x2="945.5" y2="41.1"/>
<linearGradient id="e23m" href="#H" x1="849.7" y1="295.6" x2="835.3" y2="198.1"/>
<linearGradient id="e23n" href="#H" x1="794.3" y1="203.5" x2="911.3" y2="324.6"/>
<linearGradient id="e23o" href="#H" x1="770.2" y1="180.9" x2="902.7" y2="340"/>
<linearGradient id="e23p" href="#H" x1="834.5" y1="300.4" x2="824.4" y2="194.5"/>
<linearGradient id="e23q" href="#H" x1="815.3" y1="271.1" x2="817.3" y2="228.8"/>
<linearGradient id="e23r" href="#H" x1="874.8" y1="839.5" x2="697.8" y2="-361.5"/>
<linearGradient id="e23s" href="#H" x1="1123.9" y1="-524.4" x2="433.4" y2="1085.8"/>
<linearGradient id="e23t" href="#H" x1="823.7" y1="528.6" x2="725.5" y2="-18.3"/>
<linearGradient id="e23u" href="#H" x1="1586.8" y1="140" x2="-57.8" y2="380.6"/>
<linearGradient id="e23v" href="#H" x1="802.8" y1="462.3" x2="720.7" y2="60.6"/>
<linearGradient id="e23w" href="#H" x1="973" y1="562.1" x2="551.8" y2="-38.4"/>
<linearGradient id="e23x" href="#H" x1="785.5" y1="435.5" x2="711.8" y2="96.7"/>
<linearGradient id="e23y" href="#H" x1="846.2" y1="479.7" x2="653.5" y2="54.3"/>
<linearGradient id="e23z" href="#H" x1="922.1" y1="517.3" x2="785.8" y2="-28.4"/>
<linearGradient id="e240" href="#H" x1="916" y1="100.9" x2="791.9" y2="390.5"/>
<linearGradient id="e241" href="#H" x1="831.6" y1="446.2" x2="850" y2="41.9"/>
<linearGradient id="e242" href="#H" x1="216.3" y1="-2072.1" x2="1432.8" y2="2797.7"/>
<linearGradient id="e243" href="#H" x1="-438" y1="3148.4" x2="2143.4" y2="-2872"/>
<linearGradient id="e244" href="#H" x1="596.4" y1="-491.8" x2="993.5" y2="1097.7"/>
<linearGradient id="e245" href="#H" x1="-1595.5" y1="1469.4" x2="3397.9" y2="-1053.7"/>
<linearGradient id="e246" href="#H" x1="667.6" y1="-148.1" x2="887.9" y2="733.6"/>
<linearGradient id="e247" href="#H" x1="-106.8" y1="-623.8" x2="1746.3" y2="1260.8"/>
<linearGradient id="e248" href="#H" x1="689.1" y1="-3.4" x2="836" y2="584.4"/>
<linearGradient id="e249" href="#H" x1="479.6" y1="-242.4" x2="1070.5" y2="852"/>
<linearGradient id="e30" href="#H" x1="1540.4" y1="275.7" x2="1495.6" y2="91.6"/>
<linearGradient id="e31" href="#H" x1="1541.4" y1="274.8" x2="1491.1" y2="95.1"/>
<linearGradient id="e32" href="#H" x1="1528.3" y1="278.3" x2="1478.4" y2="97.9"/>
<linearGradient id="e33" href="#H" x1="1527.8" y1="278.8" x2="1480.5" y2="96.2"/>
<linearGradient id="e34" href="#H" x1="1518" y1="279.6" x2="1462.4" y2="105.2"/>
<linearGradient id="e35" href="#H" x1="1515.3" y1="281.9" x2="1471.1" y2="97.8"/>
<linearGradient id="e36" href="#H" x1="1507.8" y1="280.3" x2="1449.3" y2="111.4"/>
<linearGradient id="e37" href="#H" x1="1503.2" y1="284.5" x2="1460.8" y2="100.8"/>
<linearGradient id="e38" href="#H" x1="1497.4" y1="280.1" x2="1437.2" y2="118"/>
<linearGradient id="e39" href="#H" x1="1491" y1="286.7" x2="1450.2" y2="104.5"/>
<linearGradient id="e3a" href="#H" x1="1486" y1="279.4" x2="1426.2" y2="124.5"/>
<linearGradient id="e3b" href="#H" x1="1478.6" y1="288.4" x2="1439" y2="109"/>
<linearGradient id="e3c" href="#H" x1="1473.5" y1="278.3" x2="1415.7" y2="131.5"/>
<linearGradient id="e3d" href="#H" x1="1465.8" y1="289.5" x2="1427.4" y2="114.5"/>
<linearGradient id="e3e" href="#H" x1="1460" y1="275.7" x2="1405.4" y2="140.4"/>
<linearGradient id="e3f" href="#H" x1="1452.5" y1="289.9" x2="1415.8" y2="120.9"/>
<linearGradient id="e3g" href="#H" x1="1444.4" y1="276" x2="1396.5" y2="146"/>
<linearGradient id="e3h" href="#H" x1="1439.2" y1="288.7" x2="1403.3" y2="129.4"/>
<linearGradient id="e3i" href="#H" x1="1429.3" y1="273.4" x2="1386.3" y2="155.3"/>
<linearGradient id="e3j" href="#H" x1="1425.2" y1="287.7" x2="1391.3" y2="137.5"/>
<linearGradient id="e3k" href="#H" x1="1413.1" y1="278.1" x2="1376.5" y2="156.5"/>
<linearGradient id="e3l" href="#H" x1="1411.6" y1="284.7" x2="1378.3" y2="148.5"/>
<linearGradient id="e3m" href="#H" x1="1398.7" y1="278.9" x2="1364.3" y2="162.8"/>
<linearGradient id="e3n" href="#H" x1="1397.6" y1="285.3" x2="1365.6" y2="155.2"/>
<linearGradient id="e3o" href="#H" x1="1384.3" y1="281.6" x2="1352" y2="167"/>
<linearGradient id="e3p" href="#H" x1="1383.8" y1="285.5" x2="1352.7" y2="162.3"/>
<linearGradient id="e3q" href="#H" x1="1370.4" y1="282.9" x2="1339.2" y2="172.8"/>
<linearGradient id="e3r" href="#H" x1="1369.9" y1="287.2" x2="1339.8" y2="167.7"/>
<linearGradient id="e3s" href="#H" x1="1356.3" y1="287.2" x2="1326.4" y2="175.4"/>
<linearGradient id="e3t" href="#H" x1="1356.2" y1="288.2" x2="1326.5" y2="174.2"/>
<linearGradient id="e3u" href="#H" x1="1342.7" y1="290.2" x2="1313.1" y2="179.4"/>
<linearGradient id="e3v" href="#H" x1="1342.6" y1="291.2" x2="1313.2" y2="178.3"/>
<linearGradient id="e3w" href="#H" x1="1329" y1="294.8" x2="1299.7" y2="181.8"/>
<linearGradient id="e3x" href="#H" x1="1329.1" y1="294" x2="1299.7" y2="182.8"/>
<linearGradient id="e3y" href="#H" x1="1315.6" y1="298.8" x2="1286.1" y2="185"/>
<linearGradient id="e3z" href="#H" x1="1315.7" y1="297.9" x2="1286" y2="185.9"/>
<linearGradient id="e310" href="#H" x1="1302.2" y1="302.7" x2="1272.5" y2="188.1"/>
<linearGradient id="e311" href="#H" x1="1302.3" y1="301.9" x2="1272.4" y2="189.1"/>
<linearGradient id="e312" href="#H" x1="1591.1" y1="279.4" x2="1541.8" y2="80.2"/>
<linearGradient id="e313" href="#H" x1="1597.9" y1="276.7" x2="1541.7" y2="80.2"/>
<linearGradient id="e314" href="#H" x1="1581.4" y1="281.1" x2="1527.4" y2="83.9"/>
<linearGradient id="e315" href="#H" x1="1578.3" y1="282.4" x2="1527.5" y2="83.8"/>
<linearGradient id="e316" href="#H" x1="1570" y1="283.3" x2="1510" y2="88"/>
<linearGradient id="e317" href="#H" x1="1557.5" y1="288.4" x2="1511.2" y2="87.5"/>
<linearGradient id="e318" href="#H" x1="1555.4" y1="287.5" x2="1491.4" y2="92.3"/>
<linearGradient id="e319" href="#H" x1="1538.9" y1="293.9" x2="1494.6" y2="91"/>
<linearGradient id="e31a" href="#H" x1="1540.4" y1="292.5" x2="1472.3" y2="96.2"/>
<linearGradient id="e31b" href="#H" x1="1521.1" y1="299.4" x2="1478.2" y2="94.1"/>
<linearGradient id="e31c" href="#H" x1="1525" y1="298.9" x2="1453.4" y2="99.3"/>
<linearGradient id="e31d" href="#H" x1="1504.6" y1="305" x2="1462.1" y2="96.7"/>
<linearGradient id="e31e" href="#H" x1="1510.1" y1="306.3" x2="1435.1" y2="101.2"/>
<linearGradient id="e31f" href="#H" x1="1489.2" y1="311" x2="1446.3" y2="98.7"/>
<linearGradient id="e31g" href="#H" x1="1496.7" y1="314.8" x2="1416.6" y2="101.6"/>
<linearGradient id="e31h" href="#H" x1="1474.2" y1="317.7" x2="1431" y2="99.8"/>
<linearGradient id="e31i" href="#H" x1="1480.4" y1="325.2" x2="1401.7" y2="99.9"/>
<linearGradient id="e31j" href="#H" x1="1461.7" y1="325.2" x2="1414.9" y2="99.9"/>
<linearGradient id="e31k" href="#H" x1="1467.5" y1="335.3" x2="1385.1" y2="97.8"/>
<linearGradient id="e31l" href="#H" x1="1448.5" y1="333.2" x2="1399.6" y2="99.5"/>
<linearGradient id="e31m" href="#H" x1="1448" y1="343.8" x2="1375.3" y2="97.1"/>
<linearGradient id="e31n" href="#H" x1="1439.8" y1="342" x2="1381.8" y2="98.5"/>
<linearGradient id="e31o" href="#H" x1="1434.5" y1="350.4" x2="1361.1" y2="97.9"/>
<linearGradient id="e31p" href="#H" x1="1427" y1="348.4" x2="1367.1" y2="99.5"/>
<linearGradient id="e31q" href="#H" x1="1419.7" y1="356" x2="1348.2" y2="99.6"/>
<linearGradient id="e31r" href="#H" x1="1415.4" y1="354.6" x2="1351.7" y2="100.7"/>
<linearGradient id="e31s" href="#H" x1="1406.7" y1="361.4" x2="1334" y2="101.4"/>
<linearGradient id="e31t" href="#H" x1="1402.1" y1="359.9" x2="1337.7" y2="102.6"/>
<linearGradient id="e31u" href="#H" x1="1391.3" y1="365.4" x2="1322" y2="104.6"/>
<linearGradient id="e31v" href="#H" x1="1390.9" y1="365.3" x2="1322.3" y2="104.7"/>
<linearGradient id="e31w" href="#H" x1="1377.8" y1="369.2" x2="1308.4" y2="108"/>
<linearGradient id="e31x" href="#H" x1="1377.4" y1="369" x2="1308.7" y2="108.1"/>
<linearGradient id="e31y" href="#H" x1="1363.2" y1="372.1" x2="1295.9" y2="112.2"/>
<linearGradient id="e31z" href="#H" x1="1365" y1="372.7" x2="1294.4" y2="111.7"/>
<linearGradient id="e320" href="#H" x1="1349.6" y1="375" x2="1282.6" y2="116.4"/>
<linearGradient id="e321" href="#H" x1="1351.3" y1="375.6" x2="1281.2" y2="115.9"/>
<linearGradient id="e322" href="#H" x1="1336" y1="377.9" x2="1269.3" y2="120.6"/>
<linearGradient id="e323" href="#H" x1="1337.7" y1="378.4" x2="1267.9" y2="120.2"/>
<linearGradient id="e324" href="#H" x1="1554.7" y1="287.9" x2="1508.8" y2="104.1"/>
<linearGradient id="e325" href="#H" x1="1554.9" y1="287.7" x2="1503.3" y2="108.4"/>
<linearGradient id="e326" href="#H" x1="1542" y1="291" x2="1492.6" y2="109.9"/>
<linearGradient id="e327" href="#H" x1="1541.9" y1="291.1" x2="1495.1" y2="107.9"/>
<linearGradient id="e328" href="#H" x1="1531.8" y1="292.8" x2="1478.5" y2="116"/>
<linearGradient id="e329" href="#H" x1="1530.6" y1="293.8" x2="1488.4" y2="108.1"/>
<linearGradient id="e32a" href="#H" x1="1522.4" y1="293.8" x2="1467.3" y2="121.2"/>
<linearGradient id="e32b" href="#H" x1="1519.6" y1="296.1" x2="1479.8" y2="110.5"/>
<linearGradient id="e32c" href="#H" x1="1512.9" y1="293.8" x2="1456.9" y2="126.6"/>
<linearGradient id="e32d" href="#H" x1="1508.4" y1="298.1" x2="1470.6" y2="113.6"/>
<linearGradient id="e32e" href="#H" x1="1502.6" y1="293.4" x2="1447" y2="132.1"/>
<linearGradient id="e32f" href="#H" x1="1496.7" y1="299.7" x2="1460.3" y2="117.8"/>
<linearGradient id="e32g" href="#H" x1="1491.1" y1="292.3" x2="1437.4" y2="138.4"/>
<linearGradient id="e32h" href="#H" x1="1484.5" y1="300.8" x2="1449.3" y2="122.9"/>
<linearGradient id="e32i" href="#H" x1="1478.6" y1="289.9" x2="1427.5" y2="146.3"/>
<linearGradient id="e32j" href="#H" x1="1471.7" y1="301.3" x2="1438.1" y2="128.9"/>
<linearGradient id="e32k" href="#H" x1="1464" y1="289.3" x2="1418.3" y2="152.5"/>
<linearGradient id="e32l" href="#H" x1="1459" y1="300.2" x2="1425.4" y2="137.2"/>
<linearGradient id="e32m" href="#H" x1="1449.6" y1="286.2" x2="1407.9" y2="162"/>
<linearGradient id="e32n" href="#H" x1="1445.4" y1="299.1" x2="1413.4" y2="145.1"/>
<linearGradient id="e32o" href="#H" x1="1434.2" y1="288.7" x2="1397.3" y2="165.7"/>
<linearGradient id="e32p" href="#H" x1="1432.6" y1="295.7" x2="1399.4" y2="156.9"/>
<linearGradient id="e32q" href="#H" x1="1419.9" y1="289" x2="1385.2" y2="172.6"/>
<linearGradient id="e32r" href="#H" x1="1418.7" y1="296" x2="1386.8" y2="163.9"/>
<linearGradient id="e32s" href="#H" x1="1405.6" y1="290.8" x2="1373" y2="177.8"/>
<linearGradient id="e32t" href="#H" x1="1404.9" y1="295.7" x2="1373.8" y2="171.8"/>
<linearGradient id="e32u" href="#H" x1="1391.5" y1="291.4" x2="1360.4" y2="184.5"/>
<linearGradient id="e32v" href="#H" x1="1390.9" y1="297" x2="1361.1" y2="177.7"/>
<linearGradient id="e32w" href="#H" x1="1377.4" y1="294.9" x2="1347.6" y2="188.1"/>
<linearGradient id="e32x" href="#H" x1="1377.2" y1="297.1" x2="1347.8" y2="185.5"/>
<linearGradient id="e32y" href="#H" x1="1363.6" y1="297.4" x2="1334.4" y2="192.9"/>
<linearGradient id="e32z" href="#H" x1="1363.5" y1="299.7" x2="1334.6" y2="190.2"/>
<linearGradient id="e330" href="#H" x1="1349.9" y1="301.6" x2="1321.1" y2="196.1"/>
<linearGradient id="e331" href="#H" x1="1349.9" y1="301.7" x2="1321.1" y2="195.9"/>
<linearGradient id="e332" href="#H" x1="1336.4" y1="305.2" x2="1307.6" y2="199.9"/>
<linearGradient id="e333" href="#H" x1="1336.3" y1="305.3" x2="1307.6" y2="199.7"/>
<linearGradient id="e334" href="#H" x1="1322.8" y1="308.8" x2="1294.1" y2="203.6"/>
<linearGradient id="e335" href="#H" x1="1322.8" y1="308.9" x2="1294.1" y2="203.5"/>
<linearGradient id="e336" href="#H" x1="1607.9" y1="292.2" x2="1556.8" y2="89.3"/>
<linearGradient id="e337" href="#H" x1="1613.7" y1="290.3" x2="1555.8" y2="89.6"/>
<linearGradient id="e338" href="#H" x1="1597" y1="294.7" x2="1542.1" y2="93.1"/>
<linearGradient id="e339" href="#H" x1="1594.3" y1="295.6" x2="1542.6" y2="92.9"/>
<linearGradient id="e33a" href="#H" x1="1584.9" y1="298" x2="1525.2" y2="96.9"/>
<linearGradient id="e33b" href="#H" x1="1574.2" y1="301.3" x2="1527.8" y2="96.1"/>
<linearGradient id="e33c" href="#H" x1="1570.7" y1="302.9" x2="1507.8" y2="100.2"/>
<linearGradient id="e33d" href="#H" x1="1556.7" y1="306.7" x2="1512.3" y2="99"/>
<linearGradient id="e33e" href="#H" x1="1556.4" y1="308.7" x2="1489.9" y2="103"/>
<linearGradient id="e33f" href="#H" x1="1539.9" y1="312.2" x2="1496.9" y2="101.5"/>
<linearGradient id="e33g" href="#H" x1="1541.8" y1="315.6" x2="1472.3" y2="104.7"/>
<linearGradient id="e33h" href="#H" x1="1524.4" y1="318.1" x2="1481.5" y2="103.4"/>
<linearGradient id="e33i" href="#H" x1="1527.6" y1="323.6" x2="1455.2" y2="105.1"/>
<linearGradient id="e33j" href="#H" x1="1509.8" y1="324.5" x2="1466.1" y2="104.6"/>
<linearGradient id="e33k" href="#H" x1="1514.2" y1="332.6" x2="1438" y2="104.2"/>
<linearGradient id="e33l" href="#H" x1="1495.6" y1="331.6" x2="1450.9" y2="104.9"/>
<linearGradient id="e33m" href="#H" x1="1499.1" y1="342.1" x2="1423.4" y2="102.6"/>
<linearGradient id="e33n" href="#H" x1="1484" y1="339.7" x2="1434.6" y2="104.4"/>
<linearGradient id="e33o" href="#H" x1="1486.6" y1="351.9" x2="1407" y2="100.4"/>
<linearGradient id="e33p" href="#H" x1="1470.8" y1="347.8" x2="1419.6" y2="103.6"/>
<linearGradient id="e33q" href="#H" x1="1470.6" y1="360" x2="1394.6" y2="99.7"/>
<linearGradient id="e33r" href="#H" x1="1461.4" y1="356.9" x2="1402.1" y2="102.2"/>
<linearGradient id="e33s" href="#H" x1="1457.8" y1="367.6" x2="1379.7" y2="99.3"/>
<linearGradient id="e33t" href="#H" x1="1448.6" y1="364" x2="1387.4" y2="102.3"/>
<linearGradient id="e33u" href="#H" x1="1444.1" y1="374.7" x2="1365.8" y2="99.4"/>
<linearGradient id="e33v" href="#H" x1="1436.9" y1="371.5" x2="1371.9" y2="102.2"/>
<linearGradient id="e33w" href="#H" x1="1431.8" y1="382.3" x2="1350.7" y2="99.1"/>
<linearGradient id="e33x" href="#H" x1="1423.7" y1="378.3" x2="1357.7" y2="102.5"/>
<linearGradient id="e33y" href="#H" x1="1417.7" y1="388.5" x2="1337.4" y2="100"/>
<linearGradient id="e33z" href="#H" x1="1412.6" y1="385.8" x2="1341.8" y2="102.3"/>
<linearGradient id="e340" href="#H" x1="1404.9" y1="394.9" x2="1322.9" y2="100.8"/>
<linearGradient id="e341" href="#H" x1="1399.5" y1="391.9" x2="1327.7" y2="103.4"/>
<linearGradient id="e342" href="#H" x1="1391.2" y1="400.4" x2="1309.4" y2="102.5"/>
<linearGradient id="e343" href="#H" x1="1387.6" y1="398.3" x2="1312.6" y2="104.3"/>
<linearGradient id="e344" href="#H" x1="1378.2" y1="406" x2="1295.3" y2="104.1"/>
<linearGradient id="e345" href="#H" x1="1374.4" y1="403.7" x2="1298.6" y2="106.1"/>
<linearGradient id="e346" href="#H" x1="1365.3" y1="411.7" x2="1281" y2="105.5"/>
<linearGradient id="e347" href="#H" x1="1361.3" y1="409.3" x2="1284.6" y2="107.7"/>
<linearGradient id="e348" href="#H" x1="1585.7" y1="290.5" x2="1541.3" y2="115"/>
<linearGradient id="e349" href="#H" x1="1586.8" y1="289.3" x2="1538" y2="118.5"/>
<linearGradient id="e34a" href="#H" x1="1573.2" y1="293.2" x2="1526.2" y2="120.2"/>
<linearGradient id="e34b" href="#H" x1="1572.6" y1="293.8" x2="1527.9" y2="118.5"/>
<linearGradient id="e34c" href="#H" x1="1561.8" y1="294.5" x2="1512.3" y2="126.3"/>
<linearGradient id="e34d" href="#H" x1="1559.2" y1="297.2" x2="1518.6" y2="119.6"/>
<linearGradient id="e34e" href="#H" x1="1550.1" y1="295.2" x2="1500.2" y2="132.2"/>
<linearGradient id="e34f" href="#H" x1="1546.4" y1="299.6" x2="1508" y2="123"/>
<linearGradient id="e34g" href="#H" x1="1538.1" y1="295" x2="1488.6" y2="138.5"/>
<linearGradient id="e34h" href="#H" x1="1533.5" y1="301.3" x2="1497" y2="127.2"/>
<linearGradient id="e34i" href="#H" x1="1525.4" y1="294.4" x2="1477.7" y2="145.3"/>
<linearGradient id="e34j" href="#H" x1="1520.5" y1="302.3" x2="1485.4" y2="132.7"/>
<linearGradient id="e34k" href="#H" x1="1511.8" y1="293.3" x2="1466.9" y2="152.5"/>
<linearGradient id="e34l" href="#H" x1="1507.3" y1="302.5" x2="1473.5" y2="139.1"/>
<linearGradient id="e34m" href="#H" x1="1497.7" y1="291.3" x2="1456.2" y2="160.7"/>
<linearGradient id="e34n" href="#H" x1="1493.8" y1="302.1" x2="1461.4" y2="146.3"/>
<linearGradient id="e34o" href="#H" x1="1482.9" y1="291" x2="1445.4" y2="167.3"/>
<linearGradient id="e34p" href="#H" x1="1480.5" y1="300.3" x2="1448.6" y2="155.5"/>
<linearGradient id="e34q" href="#H" x1="1468.4" y1="289" x2="1434" y2="176"/>
<linearGradient id="e34r" href="#H" x1="1466.5" y1="299.4" x2="1436.3" y2="163.3"/>
<linearGradient id="e34s" href="#H" x1="1453.7" y1="290.1" x2="1422.3" y2="181.7"/>
<linearGradient id="e34t" href="#H" x1="1452.9" y1="296.9" x2="1423.2" y2="173.5"/>
<linearGradient id="e34u" href="#H" x1="1439.3" y1="289.9" x2="1410.1" y2="188.9"/>
<linearGradient id="e34v" href="#H" x1="1438.8" y1="297.1" x2="1410.7" y2="180.4"/>
<linearGradient id="e34w" href="#H" x1="1424.9" y1="290.6" x2="1397.7" y2="195.3"/>
<linearGradient id="e34x" href="#H" x1="1424.7" y1="296.7" x2="1398" y2="188.1"/>
<linearGradient id="e34y" href="#H" x1="1410.6" y1="290.2" x2="1385.4" y2="202.7"/>
<linearGradient id="e34z" href="#H" x1="1410.6" y1="297.2" x2="1385.4" y2="194.6"/>
<linearGradient id="e350" href="#H" x1="1396.3" y1="291.5" x2="1372.9" y2="208.6"/>
<linearGradient id="e351" href="#H" x1="1396.4" y1="296.7" x2="1372.7" y2="202.6"/>
<linearGradient id="e352" href="#H" x1="1382" y1="291.8" x2="1360.4" y2="215.4"/>
<linearGradient id="e353" href="#H" x1="1382.3" y1="297.6" x2="1360" y2="208.8"/>
<linearGradient id="e354" href="#H" x1="1367.8" y1="293.2" x2="1347.7" y2="221.2"/>
<linearGradient id="e355" href="#H" x1="1368.2" y1="297.8" x2="1347.3" y2="215.9"/>
<linearGradient id="e356" href="#H" x1="1353.6" y1="293.9" x2="1335" y2="227.7"/>
<linearGradient id="e357" href="#H" x1="1354.1" y1="299" x2="1334.4" y2="221.9"/>
<linearGradient id="e358" href="#H" x1="1339.3" y1="294.4" x2="1322.4" y2="234.5"/>
<linearGradient id="e359" href="#H" x1="1340" y1="299.9" x2="1321.7" y2="228.2"/>
<linearGradient id="e35a" href="#H" x1="1622.3" y1="310" x2="1567.1" y2="94.4"/>
<linearGradient id="e35b" href="#H" x1="1626.3" y1="309.5" x2="1565.2" y2="94.7"/>
<linearGradient id="e35c" href="#H" x1="1610.6" y1="313.3" x2="1552.3" y2="98"/>
<linearGradient id="e35d" href="#H" x1="1608.5" y1="313.6" x2="1553.4" y2="97.9"/>
<linearGradient id="e35e" href="#H" x1="1598.6" y1="317.8" x2="1536.3" y2="100.8"/>
<linearGradient id="e35f" href="#H" x1="1590.8" y1="318.4" x2="1540.6" y2="100.5"/>
<linearGradient id="e35g" href="#H" x1="1585.6" y1="323.5" x2="1520.4" y2="102.7"/>
<linearGradient id="e35h" href="#H" x1="1575.2" y1="323.7" x2="1526.6" y2="102.5"/>
<linearGradient id="e35i" href="#H" x1="1572.6" y1="330.2" x2="1504.3" y2="103.7"/>
<linearGradient id="e35j" href="#H" x1="1560.4" y1="329.6" x2="1512.2" y2="104"/>
<linearGradient id="e35k" href="#H" x1="1559.2" y1="337.7" x2="1488.4" y2="103.8"/>
<linearGradient id="e35l" href="#H" x1="1546.5" y1="336.2" x2="1497.4" y2="104.8"/>
<linearGradient id="e35m" href="#H" x1="1545.9" y1="345.7" x2="1473" y2="103.2"/>
<linearGradient id="e35n" href="#H" x1="1533.4" y1="343.2" x2="1482.3" y2="105.1"/>
<linearGradient id="e35o" href="#H" x1="1532.7" y1="354" x2="1457.6" y2="102.2"/>
<linearGradient id="e35p" href="#H" x1="1520.6" y1="350.7" x2="1467.1" y2="104.9"/>
<linearGradient id="e35q" href="#H" x1="1518.6" y1="361.7" x2="1443.6" y2="101.9"/>
<linearGradient id="e35r" href="#H" x1="1509.4" y1="358.5" x2="1451" y2="104.4"/>
<linearGradient id="e35s" href="#H" x1="1506.5" y1="369.7" x2="1428" y2="101.1"/>
<linearGradient id="e35t" href="#H" x1="1496.5" y1="365.7" x2="1436.4" y2="104.4"/>
<linearGradient id="e35u" href="#H" x1="1493.2" y1="376.9" x2="1413.7" y2="101.1"/>
<linearGradient id="e35v" href="#H" x1="1485.5" y1="373.5" x2="1420.3" y2="104"/>
<linearGradient id="e35w" href="#H" x1="1480.8" y1="384.5" x2="1398.8" y2="100.8"/>
<linearGradient id="e35x" href="#H" x1="1472.7" y1="380.6" x2="1405.8" y2="104.2"/>
<linearGradient id="e35y" href="#H" x1="1468" y1="391.9" x2="1384.2" y2="100.6"/>
<linearGradient id="e35z" href="#H" x1="1460.5" y1="388" x2="1390.8" y2="104.1"/>
<linearGradient id="e360" href="#H" x1="1456" y1="400.1" x2="1369" y2="99.8"/>
<linearGradient id="e361" href="#H" x1="1447.5" y1="395.2" x2="1376.5" y2="104"/>
<linearGradient id="e362" href="#H" x1="1443.3" y1="407.9" x2="1354.5" y2="99.3"/>
<linearGradient id="e363" href="#H" x1="1435.7" y1="403.3" x2="1361.2" y2="103.3"/>
<linearGradient id="e364" href="#H" x1="1431.4" y1="416.3" x2="1339.2" y2="98.1"/>
<linearGradient id="e365" href="#H" x1="1422.8" y1="410.9" x2="1346.8" y2="103"/>
<linearGradient id="e366" href="#H" x1="1419.1" y1="424.9" x2="1324.3" y2="96.9"/>
<linearGradient id="e367" href="#H" x1="1410.8" y1="419.2" x2="1331.8" y2="102"/>
<linearGradient id="e368" href="#H" x1="1407.6" y1="434.2" x2="1308.8" y2="94.9"/>
<linearGradient id="e369" href="#H" x1="1398.2" y1="427.5" x2="1317.2" y2="101"/>
<linearGradient id="e36a" href="#H" x1="1396.4" y1="444.6" x2="1292.8" y2="91.9"/>
<linearGradient id="e36b" href="#H" x1="1385.7" y1="436.5" x2="1302.5" y2="99.2"/>
<linearGradient id="e36c" href="#H" x1="1611.5" y1="287.5" x2="1571.5" y2="132.8"/>
<linearGradient id="e36d" href="#H" x1="1612.3" y1="285.9" x2="1570.3" y2="135.3"/>
<linearGradient id="e36e" href="#H" x1="1598.6" y1="290" x2="1557.5" y2="137.7"/>
<linearGradient id="e36f" href="#H" x1="1598.1" y1="291" x2="1558.2" y2="136.1"/>
<linearGradient id="e36g" href="#H" x1="1585.7" y1="291" x2="1544" y2="143.8"/>
<linearGradient id="e36h" href="#H" x1="1583.9" y1="294.8" x2="1546.7" y2="138.2"/>
<linearGradient id="e36i" href="#H" x1="1572.3" y1="291.6" x2="1531.5" y2="150.1"/>
<linearGradient id="e36j" href="#H" x1="1570.1" y1="296.9" x2="1534.7" y2="142.6"/>
<linearGradient id="e36k" href="#H" x1="1558.6" y1="291.6" x2="1519.3" y2="156.8"/>
<linearGradient id="e36l" href="#H" x1="1556.3" y1="298.1" x2="1522.4" y2="148"/>
<linearGradient id="e36m" href="#H" x1="1544.6" y1="291.4" x2="1507.4" y2="163.6"/>
<linearGradient id="e36n" href="#H" x1="1542.6" y1="298.5" x2="1510" y2="154.4"/>
<linearGradient id="e36o" href="#H" x1="1530.4" y1="291.4" x2="1495.4" y2="170.3"/>
<linearGradient id="e36p" href="#H" x1="1528.9" y1="298.5" x2="1497.4" y2="161.4"/>
<linearGradient id="e36q" href="#H" x1="1516.1" y1="291.5" x2="1483.4" y2="177"/>
<linearGradient id="e36r" href="#H" x1="1515" y1="298.4" x2="1484.7" y2="168.6"/>
<linearGradient id="e36s" href="#H" x1="1501.9" y1="292.7" x2="1471.1" y2="182.6"/>
<linearGradient id="e36t" href="#H" x1="1501.3" y1="298" x2="1471.8" y2="176.3"/>
<linearGradient id="e36u" href="#H" x1="1487.7" y1="292.4" x2="1458.6" y2="189.9"/>
<linearGradient id="e36v" href="#H" x1="1487.2" y1="299" x2="1459.2" y2="182.2"/>
<linearGradient id="e36w" href="#H" x1="1473.4" y1="292.3" x2="1446.2" y2="197.1"/>
<linearGradient id="e36x" href="#H" x1="1473.2" y1="299" x2="1446.5" y2="189.3"/>
<linearGradient id="e36y" href="#H" x1="1459" y1="291.9" x2="1434" y2="204.6"/>
<linearGradient id="e36z" href="#H" x1="1459" y1="299.2" x2="1434" y2="196.1"/>
<linearGradient id="e370" href="#H" x1="1444.5" y1="291.3" x2="1421.8" y2="212.2"/>
<linearGradient id="e371" href="#H" x1="1444.7" y1="298.9" x2="1421.5" y2="203.5"/>
<linearGradient id="e372" href="#H" x1="1429.7" y1="289.8" x2="1409.8" y2="220.8"/>
<linearGradient id="e373" href="#H" x1="1430.4" y1="298.6" x2="1409.1" y2="210.8"/>
<linearGradient id="e374" href="#H" x1="1414.9" y1="288.3" x2="1397.9" y2="229.3"/>
<linearGradient id="e375" href="#H" x1="1415.9" y1="297.4" x2="1396.8" y2="219.2"/>
<linearGradient id="e376" href="#H" x1="1399.8" y1="285.6" x2="1386.2" y2="239.1"/>
<linearGradient id="e377" href="#H" x1="1401.3" y1="296.3" x2="1384.6" y2="227.3"/>
<linearGradient id="e378" href="#H" x1="1384.4" y1="282.3" x2="1374.8" y2="249.5"/>
<linearGradient id="e379" href="#H" x1="1386.5" y1="294.1" x2="1372.6" y2="236.6"/>
<linearGradient id="e37a" href="#H" x1="1368.6" y1="277.4" x2="1363.9" y2="261.6"/>
<linearGradient id="e37b" href="#H" x1="1371.5" y1="291.5" x2="1360.7" y2="246.3"/>
<linearGradient id="e37c" href="#H" x1="1352.1" y1="270.4" x2="1353.7" y2="275.7"/>
<linearGradient id="e37d" href="#H" x1="1356.3" y1="287.6" x2="1349.1" y2="257.2"/>
<linearGradient id="e37e" href="#H" x1="1643.6" y1="333.9" x2="1579.6" y2="90.7"/>
<linearGradient id="e37f" href="#H" x1="1645.4" y1="334.3" x2="1578.4" y2="90.5"/>
<linearGradient id="e37g" href="#H" x1="1630.9" y1="337.9" x2="1565.4" y2="93.9"/>
<linearGradient id="e37h" href="#H" x1="1629.4" y1="337.5" x2="1566.5" y2="94.2"/>
<linearGradient id="e37i" href="#H" x1="1618.2" y1="342.9" x2="1550.6" y2="96"/>
<linearGradient id="e37j" href="#H" x1="1613.6" y1="341.8" x2="1554.1" y2="96.9"/>
<linearGradient id="e37k" href="#H" x1="1605.3" y1="348.6" x2="1535.9" y2="97.5"/>
<linearGradient id="e37l" href="#H" x1="1599.5" y1="347" x2="1540.4" y2="98.7"/>
<linearGradient id="e37m" href="#H" x1="1592.2" y1="354.7" x2="1521.3" y2="98.5"/>
<linearGradient id="e37n" href="#H" x1="1585.9" y1="352.6" x2="1526.3" y2="100.2"/>
<linearGradient id="e37o" href="#H" x1="1579.1" y1="360.9" x2="1506.8" y2="99.5"/>
<linearGradient id="e37p" href="#H" x1="1572.9" y1="358.6" x2="1511.8" y2="101.3"/>
<linearGradient id="e37q" href="#H" x1="1565.8" y1="366.9" x2="1492.5" y2="100.6"/>
<linearGradient id="e37r" href="#H" x1="1560.3" y1="364.6" x2="1497.1" y2="102.5"/>
<linearGradient id="e37s" href="#H" x1="1552.5" y1="372.7" x2="1478.3" y2="102"/>
<linearGradient id="e37t" href="#H" x1="1547.6" y1="370.5" x2="1482.5" y2="103.7"/>
<linearGradient id="e37u" href="#H" x1="1539" y1="377.9" x2="1464.5" y2="103.8"/>
<linearGradient id="e37v" href="#H" x1="1535.4" y1="376.3" x2="1467.6" y2="105.2"/>
<linearGradient id="e37w" href="#H" x1="1526.7" y1="383.9" x2="1449.6" y2="105"/>
<linearGradient id="e37x" href="#H" x1="1521.6" y1="381.4" x2="1453.9" y2="107.1"/>
<linearGradient id="e37y" href="#H" x1="1514.5" y1="390.4" x2="1434.5" y2="105.7"/>
<linearGradient id="e37z" href="#H" x1="1508.5" y1="387.4" x2="1439.8" y2="108.3"/>
<linearGradient id="e380" href="#H" x1="1501.9" y1="397.3" x2="1419.8" y2="105.9"/>
<linearGradient id="e381" href="#H" x1="1495.5" y1="393.8" x2="1425.5" y2="109"/>
<linearGradient id="e382" href="#H" x1="1489.4" y1="404.5" x2="1405.1" y2="106"/>
<linearGradient id="e383" href="#H" x1="1482.6" y1="400.6" x2="1411.1" y2="109.4"/>
<linearGradient id="e384" href="#H" x1="1477.1" y1="412.2" x2="1390.1" y2="105.4"/>
<linearGradient id="e385" href="#H" x1="1469.7" y1="407.6" x2="1396.8" y2="109.5"/>
<linearGradient id="e386" href="#H" x1="1464.9" y1="420.2" x2="1375.1" y2="104.5"/>
<linearGradient id="e387" href="#H" x1="1457.1" y1="415.2" x2="1382.1" y2="109.1"/>
<linearGradient id="e388" href="#H" x1="1453" y1="429" x2="1359.7" y2="102.9"/>
<linearGradient id="e389" href="#H" x1="1444.2" y1="423" x2="1367.7" y2="108.4"/>
<linearGradient id="e38a" href="#H" x1="1441.4" y1="438.6" x2="1344.1" y2="100.5"/>
<linearGradient id="e38b" href="#H" x1="1431.7" y1="431.5" x2="1353" y2="106.9"/>
<linearGradient id="e38c" href="#H" x1="1430.2" y1="449.3" x2="1328.1" y2="97"/>
<linearGradient id="e38d" href="#H" x1="1419.1" y1="440.7" x2="1338.3" y2="104.9"/>
<linearGradient id="e38e" href="#H" x1="1419.6" y1="461.5" x2="1311.5" y2="91.9"/>
<linearGradient id="e38f" href="#H" x1="1406.7" y1="450.9" x2="1323.4" y2="101.7"/>
<linearGradient id="e38g" href="#H" x1="1631.8" y1="278.9" x2="1599.5" y2="157.5"/>
<linearGradient id="e38h" href="#H" x1="1631.8" y1="278.6" x2="1599.5" y2="157.8"/>
<linearGradient id="e38i" href="#H" x1="1618.3" y1="281.8" x2="1586.1" y2="161.8"/>
<linearGradient id="e38j" href="#H" x1="1618.1" y1="282.7" x2="1586.3" y2="160.6"/>
<linearGradient id="e38k" href="#H" x1="1604.6" y1="284" x2="1572.9" y2="166.6"/>
<linearGradient id="e38l" href="#H" x1="1604.3" y1="286.2" x2="1573.2" y2="164"/>
<linearGradient id="e38m" href="#H" x1="1590.9" y1="286.1" x2="1559.8" y2="171.6"/>
<linearGradient id="e38n" href="#H" x1="1590.6" y1="288.7" x2="1560.2" y2="168.4"/>
<linearGradient id="e38o" href="#H" x1="1577.1" y1="288.1" x2="1546.8" y2="176.6"/>
<linearGradient id="e38p" href="#H" x1="1576.8" y1="291" x2="1547.1" y2="173.2"/>
<linearGradient id="e38q" href="#H" x1="1563.3" y1="290.3" x2="1533.7" y2="181.4"/>
<linearGradient id="e38r" href="#H" x1="1563.1" y1="293" x2="1534" y2="178.2"/>
<linearGradient id="e38s" href="#H" x1="1549.5" y1="292.6" x2="1520.7" y2="186.1"/>
<linearGradient id="e38t" href="#H" x1="1549.4" y1="295.1" x2="1520.9" y2="183.3"/>
<linearGradient id="e38u" href="#H" x1="1535.8" y1="295.1" x2="1507.6" y2="190.8"/>
<linearGradient id="e38v" href="#H" x1="1535.6" y1="297.3" x2="1507.7" y2="188.2"/>
<linearGradient id="e38w" href="#H" x1="1522.1" y1="297.8" x2="1494.4" y2="195.1"/>
<linearGradient id="e38x" href="#H" x1="1522" y1="299.5" x2="1494.5" y2="193.1"/>
<linearGradient id="e38y" href="#H" x1="1508.3" y1="299.7" x2="1481.3" y2="200.4"/>
<linearGradient id="e38z" href="#H" x1="1508.2" y1="302.5" x2="1481.4" y2="197.1"/>
<linearGradient id="e390" href="#H" x1="1494.4" y1="301" x2="1468.4" y2="206.1"/>
<linearGradient id="e391" href="#H" x1="1494.3" y1="304.8" x2="1468.5" y2="201.6"/>
<linearGradient id="e392" href="#H" x1="1480.4" y1="302.3" x2="1455.6" y2="211.8"/>
<linearGradient id="e393" href="#H" x1="1480.4" y1="306.4" x2="1455.5" y2="207.1"/>
<linearGradient id="e394" href="#H" x1="1466.3" y1="303.5" x2="1442.8" y2="217.6"/>
<linearGradient id="e395" href="#H" x1="1466.4" y1="307.8" x2="1442.7" y2="212.7"/>
<linearGradient id="e396" href="#H" x1="1452.2" y1="304.4" x2="1430" y2="223.7"/>
<linearGradient id="e397" href="#H" x1="1452.4" y1="309.1" x2="1429.8" y2="218.4"/>
<linearGradient id="e398" href="#H" x1="1438.1" y1="305.2" x2="1417.4" y2="229.9"/>
<linearGradient id="e399" href="#H" x1="1438.4" y1="310.1" x2="1417" y2="224.3"/>
<linearGradient id="e39a" href="#H" x1="1423.8" y1="305.6" x2="1404.8" y2="236.4"/>
<linearGradient id="e39b" href="#H" x1="1424.3" y1="311.1" x2="1404.2" y2="230.4"/>
<linearGradient id="e39c" href="#H" x1="1409.5" y1="305.8" x2="1392.2" y2="243.2"/>
<linearGradient id="e39d" href="#H" x1="1410.1" y1="311.7" x2="1391.5" y2="236.7"/>
<linearGradient id="e39e" href="#H" x1="1395.1" y1="305.6" x2="1379.8" y2="250.4"/>
<linearGradient id="e39f" href="#H" x1="1395.9" y1="312.1" x2="1378.9" y2="243.2"/>
<linearGradient id="e39g" href="#H" x1="1380.5" y1="304.9" x2="1367.5" y2="258"/>
<linearGradient id="e39h" href="#H" x1="1381.6" y1="312.1" x2="1366.3" y2="250.1"/>
<linearGradient id="e39i" href="#H" x1="1667.7" y1="362.7" x2="1595.2" y2="81.1"/>
<linearGradient id="e39j" href="#H" x1="1668.9" y1="363.3" x2="1594.2" y2="80.6"/>
<linearGradient id="e39k" href="#H" x1="1654" y1="365.9" x2="1581.7" y2="84.9"/>
<linearGradient id="e39l" href="#H" x1="1654.7" y1="366.2" x2="1581.2" y2="84.7"/>
<linearGradient id="e39m" href="#H" x1="1640.5" y1="369.4" x2="1568.2" y2="88.5"/>
<linearGradient id="e39n" href="#H" x1="1640.5" y1="369.4" x2="1568.1" y2="88.5"/>
<linearGradient id="e39o" href="#H" x1="1626.9" y1="372.9" x2="1554.6" y2="92"/>
<linearGradient id="e39p" href="#H" x1="1626.8" y1="372.8" x2="1554.6" y2="92"/>
<linearGradient id="e39q" href="#H" x1="1613.3" y1="376.4" x2="1541" y2="95.4"/>
<linearGradient id="e39r" href="#H" x1="1613.2" y1="376.4" x2="1541" y2="95.4"/>
<linearGradient id="e39s" href="#H" x1="1599.7" y1="379.8" x2="1527.4" y2="99"/>
<linearGradient id="e39t" href="#H" x1="1599.8" y1="379.9" x2="1527.4" y2="98.9"/>
<linearGradient id="e39u" href="#H" x1="1586.1" y1="383.2" x2="1513.9" y2="102.6"/>
<linearGradient id="e39v" href="#H" x1="1586.3" y1="383.3" x2="1513.7" y2="102.5"/>
<linearGradient id="e39w" href="#H" x1="1572.4" y1="386.5" x2="1500.4" y2="106.3"/>
<linearGradient id="e39x" href="#H" x1="1572.8" y1="386.7" x2="1500.1" y2="106.1"/>
<linearGradient id="e39y" href="#H" x1="1558.8" y1="389.7" x2="1486.9" y2="110.1"/>
<linearGradient id="e39z" href="#H" x1="1559.4" y1="390" x2="1486.4" y2="109.8"/>
<linearGradient id="e3a0" href="#H" x1="1545.4" y1="393.2" x2="1473.2" y2="113.6"/>
<linearGradient id="e3a1" href="#H" x1="1545.4" y1="393.2" x2="1473.2" y2="113.6"/>
<linearGradient id="e3a2" href="#H" x1="1532.2" y1="397" x2="1459.2" y2="116.8"/>
<linearGradient id="e3a3" href="#H" x1="1531.6" y1="396.7" x2="1459.8" y2="117.1"/>
<linearGradient id="e3a4" href="#H" x1="1518.5" y1="400.7" x2="1445.8" y2="120.1"/>
<linearGradient id="e3a5" href="#H" x1="1518.1" y1="400.5" x2="1446.1" y2="120.3"/>
<linearGradient id="e3a6" href="#H" x1="1504.9" y1="404.4" x2="1432.2" y2="123.5"/>
<linearGradient id="e3a7" href="#H" x1="1504.6" y1="404.2" x2="1432.5" y2="123.6"/>
<linearGradient id="e3a8" href="#H" x1="1491.2" y1="407.9" x2="1418.8" y2="126.9"/>
<linearGradient id="e3a9" href="#H" x1="1491.1" y1="407.9" x2="1418.8" y2="127"/>
<linearGradient id="e3aa" href="#H" x1="1477.5" y1="411.4" x2="1405.3" y2="130.5"/>
<linearGradient id="e3ab" href="#H" x1="1477.5" y1="411.4" x2="1405.2" y2="130.4"/>
<linearGradient id="e3ac" href="#H" x1="1463.9" y1="414.9" x2="1391.7" y2="134"/>
<linearGradient id="e3ad" href="#H" x1="1463.9" y1="414.9" x2="1391.6" y2="134"/>
<linearGradient id="e3ae" href="#H" x1="1450.4" y1="418.4" x2="1378" y2="137.4"/>
<linearGradient id="e3af" href="#H" x1="1450.3" y1="418.4" x2="1378.1" y2="137.5"/>
<linearGradient id="e3ag" href="#H" x1="1437.4" y1="422.2" x2="1363.9" y2="140.7"/>
<linearGradient id="e3ah" href="#H" x1="1436.8" y1="421.9" x2="1364.5" y2="140.9"/>
<linearGradient id="e3ai" href="#H" x1="1424.5" y1="426.3" x2="1349.7" y2="143.6"/>
<linearGradient id="e3aj" href="#H" x1="1423.3" y1="425.7" x2="1350.8" y2="144.1"/>
<linearGradient id="e3ak" href="#H" x1="1646" y1="258" x2="1630.7" y2="196"/>
<linearGradient id="e3al" href="#H" x1="1644.9" y1="250.9" x2="1631.9" y2="204"/>
<linearGradient id="e3am" href="#H" x1="1633.3" y1="265" x2="1616.3" y2="196.1"/>
<linearGradient id="e3an" href="#H" x1="1632.5" y1="258.5" x2="1617.2" y2="203.4"/>
<linearGradient id="e3ao" href="#H" x1="1620.5" y1="271.6" x2="1601.9" y2="196.5"/>
<linearGradient id="e3ap" href="#H" x1="1619.9" y1="265.7" x2="1602.6" y2="203.2"/>
<linearGradient id="e3aq" href="#H" x1="1607.7" y1="278" x2="1587.6" y2="197.2"/>
<linearGradient id="e3ar" href="#H" x1="1607.2" y1="272.6" x2="1588.1" y2="203.4"/>
<linearGradient id="e3as" href="#H" x1="1594.7" y1="284.1" x2="1573.4" y2="198.2"/>
<linearGradient id="e3at" href="#H" x1="1594.4" y1="279.1" x2="1573.7" y2="203.9"/>
<linearGradient id="e3au" href="#H" x1="1581.8" y1="290" x2="1559.2" y2="199.3"/>
<linearGradient id="e3av" href="#H" x1="1581.6" y1="285.4" x2="1559.4" y2="204.7"/>
<linearGradient id="e3aw" href="#H" x1="1568.8" y1="295.8" x2="1545" y2="200.7"/>
<linearGradient id="e3ax" href="#H" x1="1568.7" y1="291.5" x2="1545.2" y2="205.6"/>
<linearGradient id="e3ay" href="#H" x1="1555.8" y1="301.4" x2="1530.9" y2="202.1"/>
<linearGradient id="e3az" href="#H" x1="1555.8" y1="297.4" x2="1530.9" y2="206.8"/>
<linearGradient id="e3b0" href="#H" x1="1542.7" y1="306.9" x2="1516.9" y2="203.8"/>
<linearGradient id="e3b1" href="#H" x1="1542.8" y1="303.1" x2="1516.8" y2="208.2"/>
<linearGradient id="e3b2" href="#H" x1="1529.6" y1="311.6" x2="1502.8" y2="206.2"/>
<linearGradient id="e3b3" href="#H" x1="1529.7" y1="308.8" x2="1502.7" y2="209.5"/>
<linearGradient id="e3b4" href="#H" x1="1516.4" y1="315.7" x2="1488.9" y2="209.3"/>
<linearGradient id="e3b5" href="#H" x1="1516.5" y1="314" x2="1488.8" y2="211.3"/>
<linearGradient id="e3b6" href="#H" x1="1503.1" y1="320.6" x2="1475.2" y2="211.5"/>
<linearGradient id="e3b7" href="#H" x1="1503.2" y1="318.4" x2="1475" y2="214.1"/>
<linearGradient id="e3b8" href="#H" x1="1489.8" y1="325.5" x2="1461.3" y2="213.7"/>
<linearGradient id="e3b9" href="#H" x1="1490" y1="323.1" x2="1461.1" y2="216.6"/>
<linearGradient id="e3ba" href="#H" x1="1476.5" y1="330.6" x2="1447.5" y2="215.8"/>
<linearGradient id="e3bb" href="#H" x1="1476.8" y1="327.9" x2="1447.2" y2="219"/>
<linearGradient id="e3bc" href="#H" x1="1463.3" y1="335.6" x2="1433.6" y2="217.8"/>
<linearGradient id="e3bd" href="#H" x1="1463.6" y1="332.8" x2="1433.2" y2="221.2"/>
<linearGradient id="e3be" href="#H" x1="1450.1" y1="340.5" x2="1419.7" y2="220.1"/>
<linearGradient id="e3bf" href="#H" x1="1450.4" y1="337.8" x2="1419.3" y2="223.3"/>
<linearGradient id="e3bg" href="#H" x1="1436.8" y1="345" x2="1405.8" y2="222.7"/>
<linearGradient id="e3bh" href="#H" x1="1437.2" y1="342.7" x2="1405.4" y2="225.4"/>
<linearGradient id="e3bi" href="#H" x1="1423.7" y1="348.5" x2="1391.8" y2="226.4"/>
<linearGradient id="e3bj" href="#H" x1="1423.8" y1="347.6" x2="1391.6" y2="227.6"/>
<linearGradient id="e3bk" href="#H" x1="1410.4" y1="351.5" x2="1378.1" y2="230.7"/>
<linearGradient id="e3bl" href="#H" x1="1410.3" y1="351.8" x2="1378.1" y2="230.4"/>
<linearGradient id="e3bm" href="#H" x1="1693.1" y1="405.2" x2="1609.7" y2="56"/>
<linearGradient id="e3bn" href="#H" x1="1706" y1="415.9" x2="1597.9" y2="46.3"/>
<linearGradient id="e3bo" href="#H" x1="1678.4" y1="402.1" x2="1597.6" y2="66.2"/>
<linearGradient id="e3bp" href="#H" x1="1689.6" y1="410.7" x2="1587.4" y2="58.4"/>
<linearGradient id="e3bq" href="#H" x1="1664" y1="400" x2="1585.2" y2="75.4"/>
<linearGradient id="e3br" href="#H" x1="1673.7" y1="407.1" x2="1576.4" y2="69"/>
<linearGradient id="e3bs" href="#H" x1="1649.4" y1="398.5" x2="1572.9" y2="83.9"/>
<linearGradient id="e3bt" href="#H" x1="1658.3" y1="404.6" x2="1565" y2="78.5"/>
<linearGradient id="e3bu" href="#H" x1="1635.2" y1="397.8" x2="1560.3" y2="91.7"/>
<linearGradient id="e3bv" href="#H" x1="1643.1" y1="402.9" x2="1553.3" y2="87.2"/>
<linearGradient id="e3bw" href="#H" x1="1620.8" y1="397.3" x2="1547.9" y2="99.2"/>
<linearGradient id="e3bx" href="#H" x1="1628.3" y1="401.9" x2="1541.3" y2="95.2"/>
<linearGradient id="e3by" href="#H" x1="1606.7" y1="397.4" x2="1535.1" y2="106.2"/>
<linearGradient id="e3bz" href="#H" x1="1613.5" y1="401.3" x2="1529.2" y2="102.8"/>
<linearGradient id="e3c0" href="#H" x1="1592.5" y1="397.8" x2="1522.5" y2="112.9"/>
<linearGradient id="e3c1" href="#H" x1="1599" y1="401.3" x2="1516.9" y2="109.9"/>
<linearGradient id="e3c2" href="#H" x1="1578.4" y1="398.4" x2="1509.8" y2="119.3"/>
<linearGradient id="e3c3" href="#H" x1="1584.5" y1="401.5" x2="1504.5" y2="116.7"/>
<linearGradient id="e3c4" href="#H" x1="1564.5" y1="399.6" x2="1496.8" y2="125.2"/>
<linearGradient id="e3c5" href="#H" x1="1569.6" y1="402" x2="1492.5" y2="123.1"/>
<linearGradient id="e3c6" href="#H" x1="1551.2" y1="401.4" x2="1483.3" y2="130.4"/>
<linearGradient id="e3c7" href="#H" x1="1554.8" y1="403.1" x2="1480.3" y2="129"/>
<linearGradient id="e3c8" href="#H" x1="1536.3" y1="402.8" x2="1471.2" y2="136"/>
<linearGradient id="e3c9" href="#H" x1="1541.2" y1="404.9" x2="1467" y2="134.2"/>
<linearGradient id="e3ca" href="#H" x1="1521.8" y1="404" x2="1458.7" y2="141.8"/>
<linearGradient id="e3cb" href="#H" x1="1527.3" y1="406.2" x2="1454.1" y2="139.9"/>
<linearGradient id="e3cc" href="#H" x1="1507.3" y1="405" x2="1446.2" y2="147.7"/>
<linearGradient id="e3cd" href="#H" x1="1513.4" y1="407.2" x2="1441.2" y2="145.9"/>
<linearGradient id="e3ce" href="#H" x1="1493.1" y1="406" x2="1433.5" y2="153.6"/>
<linearGradient id="e3cf" href="#H" x1="1499.4" y1="408.1" x2="1428.4" y2="151.9"/>
<linearGradient id="e3cg" href="#H" x1="1479.5" y1="407.4" x2="1420.4" y2="159.2"/>
<linearGradient id="e3ch" href="#H" x1="1485.1" y1="409" x2="1415.8" y2="157.8"/>
<linearGradient id="e3ci" href="#H" x1="1466.3" y1="409.2" x2="1406.8" y2="164.3"/>
<linearGradient id="e3cj" href="#H" x1="1470.8" y1="410.4" x2="1403.2" y2="163.4"/>
<linearGradient id="e3ck" href="#H" x1="1454.7" y1="412" x2="1391.9" y2="168.6"/>
<linearGradient id="e3cl" href="#H" x1="1456.2" y1="412.3" x2="1390.7" y2="168.4"/>
<linearGradient id="e3cm" href="#H" x1="1443.5" y1="415.8" x2="1376.5" y2="172"/>
<linearGradient id="e3cn" href="#H" x1="1441.8" y1="415.4" x2="1377.8" y2="172.3"/>
<linearGradient id="e3co" href="#H" x1="1663.7" y1="250.6" x2="1656.5" y2="220.3"/>
<linearGradient id="e3cp" href="#H" x1="1659.5" y1="233.5" x2="1661.1" y2="238.8"/>
<linearGradient id="e3cq" href="#H" x1="1651.9" y1="261.6" x2="1641.1" y2="216.5"/>
<linearGradient id="e3cr" href="#H" x1="1649" y1="247.6" x2="1644.3" y2="231.8"/>
<linearGradient id="e3cs" href="#H" x1="1639.9" y1="271.4" x2="1625.9" y2="213.9"/>
<linearGradient id="e3ct" href="#H" x1="1637.8" y1="259.7" x2="1628.2" y2="226.9"/>
<linearGradient id="e3cu" href="#H" x1="1627.6" y1="280.8" x2="1610.9" y2="211.8"/>
<linearGradient id="e3cv" href="#H" x1="1626.1" y1="270.1" x2="1612.6" y2="223.6"/>
<linearGradient id="e3cw" href="#H" x1="1615.2" y1="289" x2="1596.1" y2="210.8"/>
<linearGradient id="e3cx" href="#H" x1="1614.2" y1="279.9" x2="1597.2" y2="221"/>
<linearGradient id="e3cy" href="#H" x1="1602.7" y1="297.4" x2="1581.4" y2="209.6"/>
<linearGradient id="e3cz" href="#H" x1="1602.1" y1="288.6" x2="1582.1" y2="219.5"/>
<linearGradient id="e3d0" href="#H" x1="1590.1" y1="304.8" x2="1566.8" y2="209.4"/>
<linearGradient id="e3d1" href="#H" x1="1589.8" y1="297.2" x2="1567.1" y2="218.1"/>
<linearGradient id="e3d2" href="#H" x1="1577.3" y1="312.2" x2="1552.3" y2="209.1"/>
<linearGradient id="e3d3" href="#H" x1="1577.3" y1="304.9" x2="1552.3" y2="217.6"/>
<linearGradient id="e3d4" href="#H" x1="1564.5" y1="319.1" x2="1537.8" y2="209.4"/>
<linearGradient id="e3d5" href="#H" x1="1564.7" y1="312.5" x2="1537.5" y2="217.2"/>
<linearGradient id="e3d6" href="#H" x1="1551.5" y1="326.2" x2="1523.5" y2="209.4"/>
<linearGradient id="e3d7" href="#H" x1="1552" y1="319.7" x2="1522.9" y2="217.2"/>
<linearGradient id="e3d8" href="#H" x1="1538.6" y1="332.2" x2="1509.1" y2="210.5"/>
<linearGradient id="e3d9" href="#H" x1="1539.2" y1="326.9" x2="1508.4" y2="216.8"/>
<linearGradient id="e3da" href="#H" x1="1525.4" y1="339.8" x2="1495.1" y2="209.9"/>
<linearGradient id="e3db" href="#H" x1="1526.5" y1="332.8" x2="1493.7" y2="218.4"/>
<linearGradient id="e3dc" href="#H" x1="1512.3" y1="346.9" x2="1480.8" y2="209.8"/>
<linearGradient id="e3dd" href="#H" x1="1513.8" y1="339.8" x2="1478.8" y2="218.7"/>
<linearGradient id="e3de" href="#H" x1="1499.1" y1="354" x2="1466.5" y2="209.9"/>
<linearGradient id="e3df" href="#H" x1="1501.1" y1="346.8" x2="1463.9" y2="218.9"/>
<linearGradient id="e3dg" href="#H" x1="1485.9" y1="360.5" x2="1452" y2="210.4"/>
<linearGradient id="e3dh" href="#H" x1="1488.3" y1="353.8" x2="1449" y2="219.1"/>
<linearGradient id="e3di" href="#H" x1="1472.9" y1="366.2" x2="1437.4" y2="212"/>
<linearGradient id="e3dj" href="#H" x1="1475.2" y1="360.7" x2="1434.4" y2="219.3"/>
<linearGradient id="e3dk" href="#H" x1="1459.9" y1="371" x2="1422.8" y2="214.5"/>
<linearGradient id="e3dl" href="#H" x1="1461.8" y1="367.1" x2="1420.2" y2="219.9"/>
<linearGradient id="e3dm" href="#H" x1="1447.5" y1="374" x2="1407.6" y2="219.1"/>
<linearGradient id="e3dn" href="#H" x1="1448" y1="372.9" x2="1406.9" y2="220.6"/>
<linearGradient id="e3do" href="#H" x1="1435" y1="375.6" x2="1392.9" y2="225.1"/>
<linearGradient id="e3dp" href="#H" x1="1434.1" y1="377.4" x2="1394.1" y2="222.7"/>
<linearGradient id="e3dq" href="#H" x1="1714.3" y1="407.8" x2="1631.1" y2="70.5"/>
<linearGradient id="e3dr" href="#H" x1="1724.9" y1="415.9" x2="1621.3" y2="63.1"/>
<linearGradient id="e3ds" href="#H" x1="1699.8" y1="406.1" x2="1618.8" y2="79.5"/>
<linearGradient id="e3dt" href="#H" x1="1709.1" y1="412.8" x2="1610.3" y2="73.4"/>
<linearGradient id="e3du" href="#H" x1="1685.5" y1="405" x2="1606.4" y2="87.8"/>
<linearGradient id="e3dv" href="#H" x1="1693.7" y1="410.7" x2="1598.9" y2="82.7"/>
<linearGradient id="e3dw" href="#H" x1="1670.6" y1="403.9" x2="1594.5" y2="96.1"/>
<linearGradient id="e3dx" href="#H" x1="1679" y1="409.4" x2="1586.9" y2="91.2"/>
<linearGradient id="e3dy" href="#H" x1="1656.4" y1="403.6" x2="1581.9" y2="103.6"/>
<linearGradient id="e3dz" href="#H" x1="1664" y1="408.1" x2="1575.2" y2="99.6"/>
<linearGradient id="e3e0" href="#H" x1="1641.3" y1="402.8" x2="1570.2" y2="111.5"/>
<linearGradient id="e3e1" href="#H" x1="1649.8" y1="407.6" x2="1562.8" y2="107.3"/>
<linearGradient id="e3e2" href="#H" x1="1627.2" y1="402.7" x2="1557.6" y2="118.8"/>
<linearGradient id="e3e3" href="#H" x1="1634.8" y1="406.6" x2="1551" y2="115.3"/>
<linearGradient id="e3e4" href="#H" x1="1612.5" y1="402.4" x2="1545.5" y2="126.1"/>
<linearGradient id="e3e5" href="#H" x1="1620.6" y1="406.4" x2="1538.6" y2="122.7"/>
<linearGradient id="e3e6" href="#H" x1="1598.2" y1="402.6" x2="1533.1" y2="133"/>
<linearGradient id="e3e7" href="#H" x1="1606" y1="406" x2="1526.5" y2="130.1"/>
<linearGradient id="e3e8" href="#H" x1="1582.2" y1="401.9" x2="1522.1" y2="140.6"/>
<linearGradient id="e3e9" href="#H" x1="1592.2" y1="405.9" x2="1513.8" y2="137.3"/>
<linearGradient id="e3ea" href="#H" x1="1568" y1="401.8" x2="1509.7" y2="147.7"/>
<linearGradient id="e3eb" href="#H" x1="1577.1" y1="404.9" x2="1502.2" y2="145.1"/>
<linearGradient id="e3ec" href="#H" x1="1552.2" y1="401" x2="1498.7" y2="155.3"/>
<linearGradient id="e3ed" href="#H" x1="1564.2" y1="404.4" x2="1489.1" y2="152.6"/>
<linearGradient id="e3ee" href="#H" x1="1537.8" y1="400.6" x2="1486.6" y2="162.5"/>
<linearGradient id="e3ef" href="#H" x1="1550" y1="403.1" x2="1477.2" y2="160.6"/>
<linearGradient id="e3eg" href="#H" x1="1523.6" y1="400.6" x2="1474.5" y2="169.3"/>
<linearGradient id="e3eh" href="#H" x1="1536" y1="402.1" x2="1465.3" y2="168.2"/>
<linearGradient id="e3ei" href="#H" x1="1510.1" y1="401.2" x2="1461.9" y2="175.6"/>
<linearGradient id="e3ej" href="#H" x1="1521.9" y1="401.7" x2="1453.6" y2="175.2"/>
<linearGradient id="e3ek" href="#H" x1="1497.5" y1="402.4" x2="1448.8" y2="181.2"/>
<linearGradient id="e3el" href="#H" x1="1507.4" y1="402.1" x2="1442.1" y2="181.3"/>
<linearGradient id="e3em" href="#H" x1="1485.3" y1="404.1" x2="1435.2" y2="186.2"/>
<linearGradient id="e3en" href="#H" x1="1492.7" y1="403.5" x2="1430.4" y2="186.6"/>
<linearGradient id="e3eo" href="#H" x1="1475" y1="406.4" x2="1419.9" y2="190.7"/>
<linearGradient id="e3ep" href="#H" x1="1476.9" y1="406.1" x2="1418.6" y2="190.9"/>
<linearGradient id="e3eq" href="#H" x1="1464.9" y1="409.4" x2="1403.7" y2="194.6"/>
<linearGradient id="e3er" href="#H" x1="1461.3" y1="409.9" x2="1406.1" y2="194.3"/>
<linearGradient id="e3es" href="#H" x1="1690.4" y1="280.2" x2="1672.1" y2="208.5"/>
<linearGradient id="e3et" href="#H" x1="1689.7" y1="274.6" x2="1672.8" y2="214.7"/>
<linearGradient id="e3eu" href="#H" x1="1677.5" y1="286.5" x2="1657.8" y2="209.5"/>
<linearGradient id="e3ev" href="#H" x1="1677" y1="281.4" x2="1658.4" y2="215.2"/>
<linearGradient id="e3ew" href="#H" x1="1664.5" y1="292.6" x2="1643.6" y2="210.7"/>
<linearGradient id="e3ex" href="#H" x1="1664.2" y1="287.9" x2="1644" y2="216"/>
<linearGradient id="e3ey" href="#H" x1="1651.6" y1="299.7" x2="1629.3" y2="210.9"/>
<linearGradient id="e3ez" href="#H" x1="1651.3" y1="293.9" x2="1629.7" y2="217.4"/>
<linearGradient id="e3f0" href="#H" x1="1638.7" y1="305.9" x2="1615" y2="211.8"/>
<linearGradient id="e3f1" href="#H" x1="1638.6" y1="300.7" x2="1615.2" y2="217.8"/>
<linearGradient id="e3f2" href="#H" x1="1625.8" y1="313.8" x2="1600.7" y2="211.1"/>
<linearGradient id="e3f3" href="#H" x1="1625.8" y1="306.8" x2="1600.7" y2="219.3"/>
<linearGradient id="e3f4" href="#H" x1="1613" y1="320.4" x2="1586.2" y2="211.8"/>
<linearGradient id="e3f5" href="#H" x1="1613.2" y1="314.3" x2="1586" y2="219"/>
<linearGradient id="e3f6" href="#H" x1="1600" y1="328" x2="1571.9" y2="211.4"/>
<linearGradient id="e3f7" href="#H" x1="1600.5" y1="320.8" x2="1571.3" y2="219.8"/>
<linearGradient id="e3f8" href="#H" x1="1587.1" y1="335" x2="1557.5" y2="211.5"/>
<linearGradient id="e3f9" href="#H" x1="1587.9" y1="328.2" x2="1556.5" y2="219.8"/>
<linearGradient id="e3fa" href="#H" x1="1573.6" y1="344.8" x2="1543.5" y2="208.7"/>
<linearGradient id="e3fb" href="#H" x1="1575.5" y1="334.4" x2="1541.1" y2="221.5"/>
<linearGradient id="e3fc" href="#H" x1="1560.7" y1="352.7" x2="1528.8" y2="207.9"/>
<linearGradient id="e3fd" href="#H" x1="1563.1" y1="343.4" x2="1525.6" y2="219.7"/>
<linearGradient id="e3fe" href="#H" x1="1547" y1="361.7" x2="1514.6" y2="205.9"/>
<linearGradient id="e3ff" href="#H" x1="1550.9" y1="350.9" x2="1509.3" y2="220.3"/>
<linearGradient id="e3fg" href="#H" x1="1533.6" y1="369.1" x2="1499.8" y2="205.7"/>
<linearGradient id="e3fh" href="#H" x1="1538.2" y1="359.8" x2="1493.2" y2="219"/>
<linearGradient id="e3fi" href="#H" x1="1519.9" y1="375.9" x2="1484.9" y2="206.3"/>
<linearGradient id="e3fj" href="#H" x1="1524.9" y1="367.8" x2="1477.2" y2="218.7"/>
<linearGradient id="e3fk" href="#H" x1="1506.2" y1="381.9" x2="1469.8" y2="207.8"/>
<linearGradient id="e3fl" href="#H" x1="1511.1" y1="375.4" x2="1461.6" y2="218.8"/>
<linearGradient id="e3fm" href="#H" x1="1492.6" y1="387" x2="1454.2" y2="210.4"/>
<linearGradient id="e3fn" href="#H" x1="1496.6" y1="382.3" x2="1446.7" y2="219.2"/>
<linearGradient id="e3fo" href="#H" x1="1479.1" y1="391.4" x2="1438.5" y2="213.9"/>
<linearGradient id="e3fp" href="#H" x1="1482" y1="388.3" x2="1432.6" y2="220.2"/>
<linearGradient id="e3fq" href="#H" x1="1466.8" y1="394.4" x2="1422" y2="219.1"/>
<linearGradient id="e3fr" href="#H" x1="1467.5" y1="393.6" x2="1420.5" y2="220.7"/>
<linearGradient id="e3fs" href="#H" x1="1455.1" y1="396.2" x2="1406.2" y2="225.4"/>
<linearGradient id="e3ft" href="#H" x1="1453.6" y1="397.8" x2="1409.1" y2="222.3"/>
<linearGradient id="e3fu" href="#H" x1="1733.2" y1="399.3" x2="1656.4" y2="97.7"/>
<linearGradient id="e3fv" href="#H" x1="1737.1" y1="401.7" x2="1652.9" y2="95.5"/>
<linearGradient id="e3fw" href="#H" x1="1719.3" y1="400.9" x2="1643.4" y2="103.2"/>
<linearGradient id="e3fx" href="#H" x1="1723" y1="403.1" x2="1640.1" y2="101.3"/>
<linearGradient id="e3fy" href="#H" x1="1705.4" y1="402.6" x2="1630.4" y2="108.6"/>
<linearGradient id="e3fz" href="#H" x1="1709" y1="404.7" x2="1627.3" y2="106.8"/>
<linearGradient id="e3g0" href="#H" x1="1690.3" y1="403.4" x2="1618.5" y2="114.9"/>
<linearGradient id="e3g1" href="#H" x1="1695.8" y1="406.4" x2="1613.7" y2="112.3"/>
<linearGradient id="e3g2" href="#H" x1="1676.4" y1="404.4" x2="1605.6" y2="121"/>
<linearGradient id="e3g3" href="#H" x1="1681.4" y1="407.1" x2="1601.2" y2="118.7"/>
<linearGradient id="e3g4" href="#H" x1="1660.5" y1="404.1" x2="1594.5" y2="128.3"/>
<linearGradient id="e3g5" href="#H" x1="1668.7" y1="408.1" x2="1587.5" y2="124.9"/>
<linearGradient id="e3g6" href="#H" x1="1646.6" y1="404.4" x2="1581.6" y2="135"/>
<linearGradient id="e3g7" href="#H" x1="1653.9" y1="407.6" x2="1575.5" y2="132.3"/>
<linearGradient id="e3g8" href="#H" x1="1631.3" y1="404.1" x2="1570.1" y2="142.3"/>
<linearGradient id="e3g9" href="#H" x1="1640.5" y1="407.7" x2="1562.4" y2="139.3"/>
<linearGradient id="e3ga" href="#H" x1="1617" y1="404" x2="1557.7" y2="149.4"/>
<linearGradient id="e3gb" href="#H" x1="1626.2" y1="407.1" x2="1550.3" y2="146.8"/>
<linearGradient id="e3gc" href="#H" x1="1599.6" y1="402.2" x2="1548.3" y2="158.1"/>
<linearGradient id="e3gd" href="#H" x1="1615.5" y1="406.3" x2="1535.9" y2="154.8"/>
<linearGradient id="e3ge" href="#H" x1="1585.6" y1="401.2" x2="1536.2" y2="165.9"/>
<linearGradient id="e3gf" href="#H" x1="1600.6" y1="403.6" x2="1525" y2="164.1"/>
<linearGradient id="e3gg" href="#H" x1="1570.3" y1="400.3" x2="1525.5" y2="173.5"/>
<linearGradient id="e3gh" href="#H" x1="1588.9" y1="401.2" x2="1512.6" y2="172.9"/>
<linearGradient id="e3gi" href="#H" x1="1557.2" y1="400.2" x2="1513.5" y2="180.3"/>
<linearGradient id="e3gj" href="#H" x1="1574.8" y1="399.3" x2="1502.4" y2="180.9"/>
<linearGradient id="e3gk" href="#H" x1="1544.4" y1="400.9" x2="1501.5" y2="186.2"/>
<linearGradient id="e3gl" href="#H" x1="1561.6" y1="398.5" x2="1492" y2="187.5"/>
<linearGradient id="e3gm" href="#H" x1="1532.5" y1="402.2" x2="1489.4" y2="191.4"/>
<linearGradient id="e3gn" href="#H" x1="1548.3" y1="398.7" x2="1481.9" y2="193"/>
<linearGradient id="e3go" href="#H" x1="1521.3" y1="403.8" x2="1477" y2="196.1"/>
<linearGradient id="e3gp" href="#H" x1="1534.6" y1="400.2" x2="1471.6" y2="197.6"/>
<linearGradient id="e3gq" href="#H" x1="1510.7" y1="405.7" x2="1464.2" y2="200.4"/>
<linearGradient id="e3gr" href="#H" x1="1520.4" y1="402.6" x2="1460.8" y2="201.5"/>
<linearGradient id="e3gs" href="#H" x1="1501.4" y1="407.3" x2="1449.7" y2="204.7"/>
<linearGradient id="e3gt" href="#H" x1="1503.8" y1="406.6" x2="1448.9" y2="204.9"/>
<linearGradient id="e3gu" href="#H" x1="1491.6" y1="409.4" x2="1433.8" y2="208.8"/>
<linearGradient id="e3gv" href="#H" x1="1486.7" y1="411.1" x2="1435.6" y2="208.2"/>
<linearGradient id="e3gw" href="#H" x1="1716.6" y1="305.8" x2="1687.9" y2="200.3"/>
<linearGradient id="e3gx" href="#H" x1="1716.6" y1="305.6" x2="1687.9" y2="200.5"/>
<linearGradient id="e3gy" href="#H" x1="1703.1" y1="309.5" x2="1674.3" y2="203.9"/>
<linearGradient id="e3gz" href="#H" x1="1703.1" y1="309.4" x2="1674.3" y2="204.1"/>
<linearGradient id="e3h0" href="#H" x1="1689.6" y1="313.3" x2="1660.8" y2="207.6"/>
<linearGradient id="e3h1" href="#H" x1="1689.6" y1="313.2" x2="1660.8" y2="207.7"/>
<linearGradient id="e3h2" href="#H" x1="1676" y1="318.8" x2="1647.1" y2="209.4"/>
<linearGradient id="e3h3" href="#H" x1="1676.2" y1="316.5" x2="1647" y2="212"/>
<linearGradient id="e3h4" href="#H" x1="1662.7" y1="323.6" x2="1633.3" y2="212"/>
<linearGradient id="e3h5" href="#H" x1="1662.9" y1="321.4" x2="1633.1" y2="214.6"/>
<linearGradient id="e3h6" href="#H" x1="1649.3" y1="331.1" x2="1619.4" y2="211.7"/>
<linearGradient id="e3h7" href="#H" x1="1649.9" y1="325.4" x2="1618.8" y2="218.4"/>
<linearGradient id="e3h8" href="#H" x1="1636.3" y1="337.1" x2="1605.1" y2="213.2"/>
<linearGradient id="e3h9" href="#H" x1="1636.9" y1="332.1" x2="1604.3" y2="219.1"/>
<linearGradient id="e3ha" href="#H" x1="1622.9" y1="344.8" x2="1591" y2="212.7"/>
<linearGradient id="e3hb" href="#H" x1="1624.2" y1="337.7" x2="1589.5" y2="221.4"/>
<linearGradient id="e3hc" href="#H" x1="1609.7" y1="351.8" x2="1576.6" y2="213"/>
<linearGradient id="e3hd" href="#H" x1="1611.4" y1="344.9" x2="1574.5" y2="221.8"/>
<linearGradient id="e3he" href="#H" x1="1595.3" y1="362.9" x2="1563.2" y2="208.8"/>
<linearGradient id="e3hf" href="#H" x1="1599.4" y1="350.1" x2="1557.7" y2="225.9"/>
<linearGradient id="e3hg" href="#H" x1="1581.8" y1="371" x2="1548.3" y2="208"/>
<linearGradient id="e3hh" href="#H" x1="1586.8" y1="360.3" x2="1541.1" y2="223.5"/>
<linearGradient id="e3hi" href="#H" x1="1567.3" y1="379.3" x2="1533.8" y2="206.9"/>
<linearGradient id="e3hj" href="#H" x1="1574" y1="368.4" x2="1522.9" y2="224.8"/>
<linearGradient id="e3hk" href="#H" x1="1553.2" y1="386" x2="1518" y2="208"/>
<linearGradient id="e3hl" href="#H" x1="1559.6" y1="377.7" x2="1505.8" y2="223.8"/>
<linearGradient id="e3hm" href="#H" x1="1538.4" y1="391.9" x2="1502" y2="210"/>
<linearGradient id="e3hn" href="#H" x1="1544.2" y1="385.7" x2="1488.6" y2="224.5"/>
<linearGradient id="e3ho" href="#H" x1="1523.4" y1="397.3" x2="1485.5" y2="212.8"/>
<linearGradient id="e3hp" href="#H" x1="1527.8" y1="393.1" x2="1471.8" y2="225.8"/>
<linearGradient id="e3hq" href="#H" x1="1508.2" y1="402.1" x2="1468.4" y2="216.5"/>
<linearGradient id="e3hr" href="#H" x1="1511.2" y1="399.6" x2="1456.1" y2="227"/>
<linearGradient id="e3hs" href="#H" x1="1493.3" y1="406.5" x2="1451.1" y2="220.9"/>
<linearGradient id="e3ht" href="#H" x1="1495" y1="405.2" x2="1441.6" y2="228.5"/>
<linearGradient id="e3hu" href="#H" x1="1479.9" y1="410" x2="1433.2" y2="226.7"/>
<linearGradient id="e3hv" href="#H" x1="1480.3" y1="409.7" x2="1430.9" y2="228.5"/>
<linearGradient id="e3hw" href="#H" x1="1468.3" y1="412.4" x2="1416.7" y2="233.2"/>
<linearGradient id="e3hx" href="#H" x1="1467.4" y1="413.2" x2="1421.5" y2="229.4"/>
<linearGradient id="e3hy" href="#H" x1="1752.3" y1="386.4" x2="1682.5" y2="128.2"/>
<linearGradient id="e3hz" href="#H" x1="1750.6" y1="385.9" x2="1683.9" y2="128.6"/>
<linearGradient id="e3i0" href="#H" x1="1738.9" y1="390.7" x2="1668.8" y2="131.1"/>
<linearGradient id="e3i1" href="#H" x1="1737.2" y1="390.1" x2="1670.2" y2="131.6"/>
<linearGradient id="e3i2" href="#H" x1="1725.6" y1="395" x2="1655" y2="134"/>
<linearGradient id="e3i3" href="#H" x1="1723.8" y1="394.4" x2="1656.5" y2="134.5"/>
<linearGradient id="e3i4" href="#H" x1="1711" y1="398.5" x2="1642.4" y2="137.6"/>
<linearGradient id="e3i5" href="#H" x1="1711.5" y1="398.7" x2="1642" y2="137.5"/>
<linearGradient id="e3i6" href="#H" x1="1697.5" y1="401.9" x2="1628.9" y2="141.4"/>
<linearGradient id="e3i7" href="#H" x1="1697.9" y1="402.1" x2="1628.6" y2="141.2"/>
<linearGradient id="e3i8" href="#H" x1="1681.8" y1="403.8" x2="1617.5" y2="146.6"/>
<linearGradient id="e3i9" href="#H" x1="1686.4" y1="405.4" x2="1613.8" y2="145.3"/>
<linearGradient id="e3ia" href="#H" x1="1668.1" y1="405.7" x2="1604.4" y2="151.7"/>
<linearGradient id="e3ib" href="#H" x1="1672.4" y1="407" x2="1601" y2="150.7"/>
<linearGradient id="e3ic" href="#H" x1="1652.9" y1="406.7" x2="1592.9" y2="157.8"/>
<linearGradient id="e3id" href="#H" x1="1660.4" y1="408.7" x2="1587" y2="156.2"/>
<linearGradient id="e3ie" href="#H" x1="1638.6" y1="407.5" x2="1580.6" y2="164"/>
<linearGradient id="e3if" href="#H" x1="1646.9" y1="409.3" x2="1574.3" y2="162.6"/>
<linearGradient id="e3ig" href="#H" x1="1620.8" y1="406.1" x2="1572" y2="172.4"/>
<linearGradient id="e3ih" href="#H" x1="1640.4" y1="408.3" x2="1558" y2="170.8"/>
<linearGradient id="e3ii" href="#H" x1="1607.2" y1="405.2" x2="1560.4" y2="180"/>
<linearGradient id="e3ij" href="#H" x1="1626.6" y1="405.2" x2="1547.8" y2="180"/>
<linearGradient id="e3ik" href="#H" x1="1593.1" y1="404.9" x2="1550" y2="187"/>
<linearGradient id="e3il" href="#H" x1="1616.9" y1="401.8" x2="1536.9" y2="188.6"/>
<linearGradient id="e3im" href="#H" x1="1581.4" y1="405.2" x2="1538.6" y2="192.9"/>
<linearGradient id="e3in" href="#H" x1="1603.7" y1="400.2" x2="1528.7" y2="195.1"/>
<linearGradient id="e3io" href="#H" x1="1570.3" y1="406.3" x2="1527.7" y2="198"/>
<linearGradient id="e3ip" href="#H" x1="1592.2" y1="399.7" x2="1520.5" y2="200.2"/>
<linearGradient id="e3iq" href="#H" x1="1560" y1="407.7" x2="1517.1" y2="202.4"/>
<linearGradient id="e3ir" href="#H" x1="1580.7" y1="400.3" x2="1512.6" y2="204"/>
<linearGradient id="e3is" href="#H" x1="1550.7" y1="409.2" x2="1506.4" y2="206.3"/>
<linearGradient id="e3it" href="#H" x1="1568.2" y1="402.4" x2="1504.3" y2="207.2"/>
<linearGradient id="e3iu" href="#H" x1="1541.7" y1="410.9" x2="1495.4" y2="210"/>
<linearGradient id="e3iv" href="#H" x1="1554.7" y1="405.5" x2="1494.7" y2="210.2"/>
<linearGradient id="e3iw" href="#H" x1="1533.3" y1="412.2" x2="1482.4" y2="213.6"/>
<linearGradient id="e3ix" href="#H" x1="1536.4" y1="410.9" x2="1482.3" y2="213.6"/>
<linearGradient id="e3iy" href="#H" x1="1523.2" y1="413.9" x2="1467" y2="217.5"/>
<linearGradient id="e3iz" href="#H" x1="1516.8" y1="416.6" x2="1467.5" y2="217.3"/>
<linearGradient id="e3j0" href="#H" x1="1738" y1="320.1" x2="1708.1" y2="207.2"/>
<linearGradient id="e3j1" href="#H" x1="1737.9" y1="320.9" x2="1708.2" y2="206.2"/>
<linearGradient id="e3j2" href="#H" x1="1724.4" y1="323.2" x2="1694.8" y2="211.2"/>
<linearGradient id="e3j3" href="#H" x1="1724.4" y1="324" x2="1694.9" y2="210.2"/>
<linearGradient id="e3j4" href="#H" x1="1710.9" y1="326.3" x2="1681.4" y2="215.1"/>
<linearGradient id="e3j5" href="#H" x1="1710.8" y1="327.1" x2="1681.5" y2="214.1"/>
<linearGradient id="e3j6" href="#H" x1="1697.3" y1="330.7" x2="1667.9" y2="217.8"/>
<linearGradient id="e3j7" href="#H" x1="1697.4" y1="329.7" x2="1667.8" y2="218.9"/>
<linearGradient id="e3j8" href="#H" x1="1683.9" y1="334.7" x2="1654.3" y2="220.8"/>
<linearGradient id="e3j9" href="#H" x1="1684" y1="333.8" x2="1654.2" y2="222"/>
<linearGradient id="e3ja" href="#H" x1="1670.5" y1="341.1" x2="1640.4" y2="221.6"/>
<linearGradient id="e3jb" href="#H" x1="1671" y1="336.8" x2="1639.8" y2="226.8"/>
<linearGradient id="e3jc" href="#H" x1="1657.4" y1="346.6" x2="1626.3" y2="223.3"/>
<linearGradient id="e3jd" href="#H" x1="1657.9" y1="342.7" x2="1625.6" y2="228.2"/>
<linearGradient id="e3je" href="#H" x1="1644.1" y1="353.6" x2="1612.1" y2="223.5"/>
<linearGradient id="e3jf" href="#H" x1="1645.2" y1="347.5" x2="1610.7" y2="231.3"/>
<linearGradient id="e3jg" href="#H" x1="1631" y1="360.3" x2="1597.6" y2="224.1"/>
<linearGradient id="e3jh" href="#H" x1="1632.4" y1="354" x2="1595.8" y2="232.4"/>
<linearGradient id="e3ji" href="#H" x1="1617" y1="371" x2="1583.2" y2="220.8"/>
<linearGradient id="e3jj" href="#H" x1="1620.8" y1="357.7" x2="1577.9" y2="239.6"/>
<linearGradient id="e3jk" href="#H" x1="1603.5" y1="379.4" x2="1567.6" y2="220.1"/>
<linearGradient id="e3jl" href="#H" x1="1608.2" y1="368" x2="1560.3" y2="238"/>
<linearGradient id="e3jm" href="#H" x1="1588.8" y1="388.2" x2="1552.1" y2="219.2"/>
<linearGradient id="e3jn" href="#H" x1="1595.1" y1="376.4" x2="1540.5" y2="241.1"/>
<linearGradient id="e3jo" href="#H" x1="1574" y1="395.3" x2="1535.6" y2="220.4"/>
<linearGradient id="e3jp" href="#H" x1="1579.8" y1="386.9" x2="1522" y2="240.1"/>
<linearGradient id="e3jq" href="#H" x1="1558.3" y1="401.8" x2="1518.7" y2="222.4"/>
<linearGradient id="e3jr" href="#H" x1="1563.1" y1="396" x2="1503.2" y2="241.1"/>
<linearGradient id="e3js" href="#H" x1="1542.1" y1="407.6" x2="1501.2" y2="225.4"/>
<linearGradient id="e3jt" href="#H" x1="1545.2" y1="404.4" x2="1485.1" y2="242.3"/>
<linearGradient id="e3ju" href="#H" x1="1525.7" y1="412.9" x2="1483.3" y2="229.2"/>
<linearGradient id="e3jv" href="#H" x1="1527.2" y1="411.6" x2="1468.7" y2="242.8"/>
<linearGradient id="e3jw" href="#H" x1="1509.7" y1="417.8" x2="1465.5" y2="233.6"/>
<linearGradient id="e3jx" href="#H" x1="1510" y1="417.5" x2="1454.3" y2="243.2"/>
<linearGradient id="e3jy" href="#H" x1="1495.5" y1="421.7" x2="1448.3" y2="239.1"/>
<linearGradient id="e3jz" href="#H" x1="1495.5" y1="421.6" x2="1445.6" y2="241.2"/>
<linearGradient id="e3k0" href="#H" x1="1483.7" y1="424.4" x2="1433.3" y2="244.7"/>
<linearGradient id="e3k1" href="#H" x1="1483.4" y1="424.6" x2="1438.7" y2="240.5"/>
<clipPath id="clipc1"><rect x="54.5" y="613.8" width="470.8" height="360.5"/></clipPath>
<clipPath id="clipc2"><rect x="673.7" y="613.8" width="471.3" height="360.5"/></clipPath>

</defs>
<g id="s1">
<line x1="146.1" y1="346.1" x2="346.7" y2="418.4" stroke="#e4e4e4" stroke-width="1"/>
<line x1="231.8" y1="414.4" x2="490.6" y2="358" stroke="#e4e4e4" stroke-width="1"/>
<line x1="146.1" y1="346.1" x2="146.1" y2="111.4" stroke="#e4e4e4" stroke-width="1"/>
<line x1="490.6" y1="358" x2="490.6" y2="123.3" stroke="#e4e4e4" stroke-width="1"/>
<line x1="210.8" y1="332" x2="411.4" y2="404.3" stroke="#e4e4e4" stroke-width="1"/>
<line x1="181.7" y1="396.4" x2="440.5" y2="340" stroke="#e4e4e4" stroke-width="1"/>
<line x1="210.8" y1="332" x2="210.8" y2="97.3" stroke="#e4e4e4" stroke-width="1"/>
<line x1="440.5" y1="340" x2="440.5" y2="105.3" stroke="#e4e4e4" stroke-width="1"/>
<line x1="275.5" y1="317.9" x2="476.1" y2="390.2" stroke="#e4e4e4" stroke-width="1"/>
<line x1="131.6" y1="378.3" x2="390.3" y2="321.9" stroke="#e4e4e4" stroke-width="1"/>
<line x1="275.5" y1="317.9" x2="275.5" y2="83.2" stroke="#e4e4e4" stroke-width="1"/>
<line x1="390.3" y1="321.9" x2="390.3" y2="87.2" stroke="#e4e4e4" stroke-width="1"/>
<line x1="81.4" y1="301.5" x2="340.2" y2="245.1" stroke="#e4e4e4" stroke-width="1"/>
<line x1="340.2" y1="245.1" x2="540.8" y2="317.4" stroke="#e4e4e4" stroke-width="1"/>
<line x1="81.4" y1="242.8" x2="340.2" y2="186.5" stroke="#e4e4e4" stroke-width="1"/>
<line x1="340.2" y1="186.5" x2="540.8" y2="258.8" stroke="#e4e4e4" stroke-width="1"/>
<line x1="81.4" y1="184.2" x2="340.2" y2="127.8" stroke="#e4e4e4" stroke-width="1"/>
<line x1="340.2" y1="127.8" x2="540.8" y2="200.1" stroke="#e4e4e4" stroke-width="1"/>
<line x1="81.4" y1="360.2" x2="340.2" y2="303.8" stroke="#dcdcdc" stroke-width="1"/>
<line x1="340.2" y1="303.8" x2="540.8" y2="376.1" stroke="#dcdcdc" stroke-width="1"/>
<line x1="340.2" y1="303.8" x2="340.2" y2="69.1" stroke="#dcdcdc" stroke-width="1"/>
<line x1="81.4" y1="125.5" x2="340.2" y2="69.1" stroke="#dcdcdc" stroke-width="1"/>
<line x1="340.2" y1="69.1" x2="540.8" y2="141.4" stroke="#dcdcdc" stroke-width="1"/>
<line x1="540.8" y1="376.1" x2="540.8" y2="141.4" stroke="#dcdcdc" stroke-width="1"/>
<g stroke-linejoin="round" stroke-width="0.6"><path d="M223.4 253.5L234 257.3L247.6 254.3ZM261.2 251.3L271.8 255.1L285.4 252.2ZM261.2 251.3L285.4 252.2L274.8 248.4ZM247.6 254.3L258.1 258.1L271.8 255.1ZM247.6 254.3L271.8 255.1L261.2 251.3ZM234 257.3L244.5 261.1L258.1 258.1ZM234 257.3L258.1 258.1L247.6 254.3ZM220.3 260.2L230.9 264.1L244.5 261.1ZM220.3 260.2L244.5 261.1L234 257.3ZM206.7 263.2L217.3 267L230.9 264.1ZM206.7 263.2L230.9 264.1L220.3 260.2ZM193.1 266.2L203.7 270L217.3 267ZM193.1 266.2L217.3 267L206.7 263.2ZM179.5 269.2L190 273L203.7 270ZM179.5 269.2L203.7 270L193.1 266.2ZM165.9 272.1L176.4 275.9L190 273ZM165.9 272.1L190 273L179.5 269.2ZM271.8 255.1L282.3 259L295.9 256ZM271.8 255.1L295.9 256L285.4 252.2ZM258.1 258.1L268.7 261.9L282.3 259ZM258.1 258.1L282.3 259L271.8 255.1ZM244.5 261.1L255.1 264.9L268.7 261.9ZM244.5 261.1L268.7 261.9L258.1 258.1ZM230.9 264.1L241.5 267.9L255.1 264.9ZM230.9 264.1L255.1 264.9L244.5 261.1ZM217.3 267L227.8 270.8L241.5 267.9ZM217.3 267L241.5 267.9L230.9 264.1ZM203.7 270L214.2 273.8L227.8 270.8ZM203.7 270L227.8 270.8L217.3 267ZM190 273L200.6 276.8L214.2 273.8ZM190 273L214.2 273.8L203.7 270ZM176.4 275.9L187 279.7L200.6 276.8ZM176.4 275.9L200.6 276.8L190 273ZM295.9 256L306.5 259.8L320.1 256.8ZM282.3 259L292.9 262.8L306.5 259.8ZM282.3 259L306.5 259.8L295.9 256ZM268.7 261.9L279.3 265.7L292.9 262.8ZM268.7 261.9L292.9 262.8L282.3 259ZM255.1 264.9L265.6 268.7L279.3 265.7ZM255.1 264.9L279.3 265.7L268.7 261.9ZM241.5 267.9L252 271.7L265.6 268.7ZM241.5 267.9L265.6 268.7L255.1 264.9ZM227.8 270.8L238.4 274.6L252 271.7ZM227.8 270.8L252 271.7L241.5 267.9ZM214.2 273.8L224.8 277.6L238.4 274.6ZM214.2 273.8L238.4 274.6L227.8 270.8ZM200.6 276.8L211.2 280.6L224.8 277.6ZM200.6 276.8L224.8 277.6L214.2 273.8ZM187 279.7L197.5 283.5L211.2 280.6ZM187 279.7L211.2 280.6L200.6 276.8Z" fill="#00f7ff"/>
<path d="M326.6 192.4L337.1 192.3L350.8 189.1Z" fill="url(#e10)" stroke="url(#e10)"/>
<path d="M326.6 192.4L350.8 189.1L340.2 186.5Z" fill="url(#e11)" stroke="url(#e11)"/>
<path d="M313 195.9L323.5 195.6L337.1 192.3Z" fill="url(#e12)" stroke="url(#e12)"/>
<path d="M313 195.9L337.1 192.3L326.6 192.4Z" fill="url(#e13)" stroke="url(#e13)"/>
<path d="M299.3 199.5L309.9 198.8L323.5 195.6Z" fill="url(#e14)" stroke="url(#e14)"/>
<path d="M299.3 199.5L323.5 195.6L313 195.9Z" fill="url(#e15)" stroke="url(#e15)"/>
<path d="M285.7 203L296.3 202.1L309.9 198.8Z" fill="url(#e16)" stroke="url(#e16)"/>
<path d="M285.7 203L309.9 198.8L299.3 199.5Z" fill="url(#e17)" stroke="url(#e17)"/>
<path d="M272.1 206.6L282.7 205.9L296.3 202.1Z" fill="url(#e18)" stroke="url(#e18)"/>
<path d="M272.1 206.6L296.3 202.1L285.7 203Z" fill="url(#e19)" stroke="url(#e19)"/>
<path d="M258.5 210.1L269 209.7L282.7 205.9Z" fill="url(#e1a)" stroke="url(#e1a)"/>
<path d="M258.5 210.1L282.7 205.9L272.1 206.6Z" fill="url(#e1b)" stroke="url(#e1b)"/>
<path d="M244.9 213.7L255.4 213.6L269 209.7Z" fill="url(#e1c)" stroke="url(#e1c)"/>
<path d="M244.9 213.7L269 209.7L258.5 210.1Z" fill="url(#e1d)" stroke="url(#e1d)"/>
<path d="M231.2 217.2L241.8 217.5L255.4 213.6Z" fill="url(#e1e)" stroke="url(#e1e)"/>
<path d="M231.2 217.2L255.4 213.6L244.9 213.7Z" fill="url(#e1f)" stroke="url(#e1f)"/>
<path d="M217.6 224.9L228.2 225.8L241.8 217.5Z" fill="url(#e1g)" stroke="url(#e1g)"/>
<path d="M217.6 224.9L241.8 217.5L231.2 217.2Z" fill="url(#e1h)" stroke="url(#e1h)"/>
<path d="M204 141.7L214.5 193.6L228.2 225.8Z" fill="url(#e1i)" stroke="url(#e1i)"/>
<path d="M204 141.7L228.2 225.8L217.6 224.9Z" fill="url(#e1j)" stroke="url(#e1j)"/>
<path d="M190.4 183.9L200.9 214.1L214.5 193.6Z" fill="url(#e1k)" stroke="url(#e1k)"/>
<path d="M190.4 183.9L214.5 193.6L204 141.7Z" fill="url(#e1l)" stroke="url(#e1l)"/>
<path d="M176.7 196.3L187.3 220L200.9 214.1Z" fill="url(#e1m)" stroke="url(#e1m)"/>
<path d="M176.7 196.3L200.9 214.1L190.4 183.9Z" fill="url(#e1n)" stroke="url(#e1n)"/>
<path d="M163.1 207.5L173.7 223.4L187.3 220Z" fill="url(#e1o)" stroke="url(#e1o)"/>
<path d="M163.1 207.5L187.3 220L176.7 196.3Z" fill="url(#e1p)" stroke="url(#e1p)"/>
<path d="M149.5 214.7L160.1 226.8L173.7 223.4Z" fill="url(#e1q)" stroke="url(#e1q)"/>
<path d="M149.5 214.7L173.7 223.4L163.1 207.5Z" fill="url(#e1r)" stroke="url(#e1r)"/>
<path d="M135.9 222L146.4 230.2L160.1 226.8Z" fill="url(#e1s)" stroke="url(#e1s)"/>
<path d="M135.9 222L160.1 226.8L149.5 214.7Z" fill="url(#e1t)" stroke="url(#e1t)"/>
<path d="M122.3 229.2L132.8 233.6L146.4 230.2Z" fill="url(#e1u)" stroke="url(#e1u)"/>
<path d="M122.3 229.2L146.4 230.2L135.9 222Z" fill="url(#e1v)" stroke="url(#e1v)"/>
<path d="M108.6 233.4L119.2 236.9L132.8 233.6Z" fill="url(#e1w)" stroke="url(#e1w)"/>
<path d="M108.6 233.4L132.8 233.6L122.3 229.2Z" fill="url(#e1x)" stroke="url(#e1x)"/>
<path d="M95 237.5L105.6 240.3L119.2 236.9Z" fill="url(#e1y)" stroke="url(#e1y)"/>
<path d="M95 237.5L119.2 236.9L108.6 233.4Z" fill="url(#e1z)" stroke="url(#e1z)"/>
<path d="M81.4 241.7L92 243.7L105.6 240.3Z" fill="url(#e110)" stroke="url(#e110)"/>
<path d="M81.4 241.7L105.6 240.3L95 237.5Z" fill="url(#e111)" stroke="url(#e111)"/>
<path d="M337.1 192.3L347.7 232.5L361.3 222.8Z" fill="url(#e112)" stroke="url(#e112)"/>
<path d="M337.1 192.3L361.3 222.8L350.8 189.1Z" fill="url(#e113)" stroke="url(#e113)"/>
<path d="M323.5 195.6L334.1 241.9L347.7 232.5Z" fill="url(#e114)" stroke="url(#e114)"/>
<path d="M323.5 195.6L347.7 232.5L337.1 192.3Z" fill="url(#e115)" stroke="url(#e115)"/>
<path d="M309.9 198.8L320.5 251.3L334.1 241.9Z" fill="url(#e116)" stroke="url(#e116)"/>
<path d="M309.9 198.8L334.1 241.9L323.5 195.6Z" fill="url(#e117)" stroke="url(#e117)"/>
<path d="M296.3 202.1L306.8 260.7L320.5 251.3Z" fill="url(#e118)" stroke="url(#e118)"/>
<path d="M296.3 202.1L320.5 251.3L309.9 198.8Z" fill="url(#e119)" stroke="url(#e119)"/>
<path d="M282.7 205.9L293.2 269.5L306.8 260.7Z" fill="url(#e11a)" stroke="url(#e11a)"/>
<path d="M282.7 205.9L306.8 260.7L296.3 202.1Z" fill="url(#e11b)" stroke="url(#e11b)"/>
<path d="M269 209.7L279.6 277.4L293.2 269.5Z" fill="url(#e11c)" stroke="url(#e11c)"/>
<path d="M269 209.7L293.2 269.5L282.7 205.9Z" fill="url(#e11d)" stroke="url(#e11d)"/>
<path d="M255.4 213.6L266 285.2L279.6 277.4Z" fill="url(#e11e)" stroke="url(#e11e)"/>
<path d="M255.4 213.6L279.6 277.4L269 209.7Z" fill="url(#e11f)" stroke="url(#e11f)"/>
<path d="M241.8 217.5L252.3 288.2L266 285.2Z" fill="url(#e11g)" stroke="url(#e11g)"/>
<path d="M241.8 217.5L266 285.2L255.4 213.6Z" fill="url(#e11h)" stroke="url(#e11h)"/>
<path d="M228.2 225.8L238.7 266.2L252.3 288.2Z" fill="url(#e11i)" stroke="url(#e11i)"/>
<path d="M228.2 225.8L252.3 288.2L241.8 217.5Z" fill="url(#e11j)" stroke="url(#e11j)"/>
<path d="M214.5 193.6L225.1 235.6L238.7 266.2Z" fill="url(#e11k)" stroke="url(#e11k)"/>
<path d="M214.5 193.6L238.7 266.2L228.2 225.8Z" fill="url(#e11l)" stroke="url(#e11l)"/>
<path d="M200.9 214.1L211.5 200.8L225.1 235.6Z" fill="url(#e11m)" stroke="url(#e11m)"/>
<path d="M200.9 214.1L225.1 235.6L214.5 193.6Z" fill="url(#e11n)" stroke="url(#e11n)"/>
<path d="M187.3 220L197.9 191L211.5 200.8Z" fill="url(#e11o)" stroke="url(#e11o)"/>
<path d="M187.3 220L211.5 200.8L200.9 214.1Z" fill="url(#e11p)" stroke="url(#e11p)"/>
<path d="M173.7 223.4L184.2 183.7L197.9 191Z" fill="url(#e11q)" stroke="url(#e11q)"/>
<path d="M173.7 223.4L197.9 191L187.3 220Z" fill="url(#e11r)" stroke="url(#e11r)"/>
<path d="M160.1 226.8L170.6 176.8L184.2 183.7Z" fill="url(#e11s)" stroke="url(#e11s)"/>
<path d="M160.1 226.8L184.2 183.7L173.7 223.4Z" fill="url(#e11t)" stroke="url(#e11t)"/>
<path d="M146.4 230.2L157 176.6L170.6 176.8Z" fill="url(#e11u)" stroke="url(#e11u)"/>
<path d="M146.4 230.2L170.6 176.8L160.1 226.8Z" fill="url(#e11v)" stroke="url(#e11v)"/>
<path d="M132.8 233.6L143.4 176.4L157 176.6Z" fill="url(#e11w)" stroke="url(#e11w)"/>
<path d="M132.8 233.6L157 176.6L146.4 230.2Z" fill="url(#e11x)" stroke="url(#e11x)"/>
<path d="M119.2 236.9L129.8 176.3L143.4 176.4Z" fill="url(#e11y)" stroke="url(#e11y)"/>
<path d="M119.2 236.9L143.4 176.4L132.8 233.6Z" fill="url(#e11z)" stroke="url(#e11z)"/>
<path d="M105.6 240.3L116.1 176.1L129.8 176.3Z" fill="url(#e120)" stroke="url(#e120)"/>
<path d="M105.6 240.3L129.8 176.3L119.2 236.9Z" fill="url(#e121)" stroke="url(#e121)"/>
<path d="M92 243.7L102.5 175.9L116.1 176.1Z" fill="url(#e122)" stroke="url(#e122)"/>
<path d="M92 243.7L116.1 176.1L105.6 240.3Z" fill="url(#e123)" stroke="url(#e123)"/>
<path d="M347.7 232.5L358.3 147.4L371.9 153.3Z" fill="url(#e124)" stroke="url(#e124)"/>
<path d="M347.7 232.5L371.9 153.3L361.3 222.8Z" fill="url(#e125)" stroke="url(#e125)"/>
<path d="M334.1 241.9L344.6 141.6L358.3 147.4Z" fill="url(#e126)" stroke="url(#e126)"/>
<path d="M334.1 241.9L358.3 147.4L347.7 232.5Z" fill="url(#e127)" stroke="url(#e127)"/>
<path d="M320.5 251.3L331 135.7L344.6 141.6Z" fill="url(#e128)" stroke="url(#e128)"/>
<path d="M320.5 251.3L344.6 141.6L334.1 241.9Z" fill="url(#e129)" stroke="url(#e129)"/>
<path d="M306.8 260.7L317.4 128.1L331 135.7Z" fill="url(#e12a)" stroke="url(#e12a)"/>
<path d="M306.8 260.7L331 135.7L320.5 251.3Z" fill="url(#e12b)" stroke="url(#e12b)"/>
<path d="M293.2 269.5L303.8 119L317.4 128.1Z" fill="url(#e12c)" stroke="url(#e12c)"/>
<path d="M293.2 269.5L317.4 128.1L306.8 260.7Z" fill="url(#e12d)" stroke="url(#e12d)"/>
<path d="M279.6 277.4L290.1 110.2L303.8 119Z" fill="url(#e12e)" stroke="url(#e12e)"/>
<path d="M279.6 277.4L303.8 119L293.2 269.5Z" fill="url(#e12f)" stroke="url(#e12f)"/>
<path d="M266 285.2L276.5 104.9L290.1 110.2Z" fill="url(#e12g)" stroke="url(#e12g)"/>
<path d="M266 285.2L290.1 110.2L279.6 277.4Z" fill="url(#e12h)" stroke="url(#e12h)"/>
<path d="M252.3 288.2L262.9 106.6L276.5 104.9Z" fill="url(#e12i)" stroke="url(#e12i)"/>
<path d="M252.3 288.2L276.5 104.9L266 285.2Z" fill="url(#e12j)" stroke="url(#e12j)"/>
<path d="M238.7 266.2L249.3 148.3L262.9 106.6Z" fill="url(#e12k)" stroke="url(#e12k)"/>
<path d="M238.7 266.2L262.9 106.6L252.3 288.2Z" fill="url(#e12l)" stroke="url(#e12l)"/>
<path d="M225.1 235.6L235.7 281.6L249.3 148.3Z" fill="url(#e12m)" stroke="url(#e12m)"/>
<path d="M225.1 235.6L249.3 148.3L238.7 266.2Z" fill="url(#e12n)" stroke="url(#e12n)"/>
<path d="M211.5 200.8L222 313.9L235.7 281.6Z" fill="url(#e12o)" stroke="url(#e12o)"/>
<path d="M211.5 200.8L235.7 281.6L225.1 235.6Z" fill="url(#e12p)" stroke="url(#e12p)"/>
<path d="M197.9 191L208.4 322.2L222 313.9Z" fill="url(#e12q)" stroke="url(#e12q)"/>
<path d="M197.9 191L222 313.9L211.5 200.8Z" fill="url(#e12r)" stroke="url(#e12r)"/>
<path d="M184.2 183.7L194.8 329.7L208.4 322.2Z" fill="url(#e12s)" stroke="url(#e12s)"/>
<path d="M184.2 183.7L208.4 322.2L197.9 191Z" fill="url(#e12t)" stroke="url(#e12t)"/>
<path d="M170.6 176.8L181.2 335.6L194.8 329.7Z" fill="url(#e12u)" stroke="url(#e12u)"/>
<path d="M170.6 176.8L194.8 329.7L184.2 183.7Z" fill="url(#e12v)" stroke="url(#e12v)"/>
<path d="M157 176.6L167.6 341.6L181.2 335.6Z" fill="url(#e12w)" stroke="url(#e12w)"/>
<path d="M157 176.6L181.2 335.6L170.6 176.8Z" fill="url(#e12x)" stroke="url(#e12x)"/>
<path d="M143.4 176.4L153.9 348.5L167.6 341.6Z" fill="url(#e12y)" stroke="url(#e12y)"/>
<path d="M143.4 176.4L167.6 341.6L157 176.6Z" fill="url(#e12z)" stroke="url(#e12z)"/>
<path d="M129.8 176.3L140.3 355.8L153.9 348.5Z" fill="url(#e130)" stroke="url(#e130)"/>
<path d="M129.8 176.3L153.9 348.5L143.4 176.4Z" fill="url(#e131)" stroke="url(#e131)"/>
<path d="M116.1 176.1L126.7 363.1L140.3 355.8Z" fill="url(#e132)" stroke="url(#e132)"/>
<path d="M116.1 176.1L140.3 355.8L129.8 176.3Z" fill="url(#e133)" stroke="url(#e133)"/>
<path d="M102.5 175.9L113.1 370.4L126.7 363.1Z" fill="url(#e134)" stroke="url(#e134)"/>
<path d="M102.5 175.9L126.7 363.1L116.1 176.1Z" fill="url(#e135)" stroke="url(#e135)"/>
<path d="M358.3 147.4L368.8 203.4L382.4 201.7Z" fill="url(#e136)" stroke="url(#e136)"/>
<path d="M358.3 147.4L382.4 201.7L371.9 153.3Z" fill="url(#e137)" stroke="url(#e137)"/>
<path d="M344.6 141.6L355.2 205.1L368.8 203.4Z" fill="url(#e138)" stroke="url(#e138)"/>
<path d="M344.6 141.6L368.8 203.4L358.3 147.4Z" fill="url(#e139)" stroke="url(#e139)"/>
<path d="M331 135.7L341.6 206.8L355.2 205.1Z" fill="url(#e13a)" stroke="url(#e13a)"/>
<path d="M331 135.7L355.2 205.1L344.6 141.6Z" fill="url(#e13b)" stroke="url(#e13b)"/>
<path d="M317.4 128.1L327.9 208.5L341.6 206.8Z" fill="url(#e13c)" stroke="url(#e13c)"/>
<path d="M317.4 128.1L341.6 206.8L331 135.7Z" fill="url(#e13d)" stroke="url(#e13d)"/>
<path d="M303.8 119L314.3 210.2L327.9 208.5Z" fill="url(#e13e)" stroke="url(#e13e)"/>
<path d="M303.8 119L327.9 208.5L317.4 128.1Z" fill="url(#e13f)" stroke="url(#e13f)"/>
<path d="M290.1 110.2L300.7 211.9L314.3 210.2Z" fill="url(#e13g)" stroke="url(#e13g)"/>
<path d="M290.1 110.2L314.3 210.2L303.8 119Z" fill="url(#e13h)" stroke="url(#e13h)"/>
<path d="M276.5 104.9L287.1 213.9L300.7 211.9Z" fill="url(#e13i)" stroke="url(#e13i)"/>
<path d="M276.5 104.9L300.7 211.9L290.1 110.2Z" fill="url(#e13j)" stroke="url(#e13j)"/>
<path d="M262.9 106.6L273.5 215.8L287.1 213.9Z" fill="url(#e13k)" stroke="url(#e13k)"/>
<path d="M262.9 106.6L287.1 213.9L276.5 104.9Z" fill="url(#e13l)" stroke="url(#e13l)"/>
<path d="M249.3 148.3L259.8 217.8L273.5 215.8Z" fill="url(#e13m)" stroke="url(#e13m)"/>
<path d="M249.3 148.3L273.5 215.8L262.9 106.6Z" fill="url(#e13n)" stroke="url(#e13n)"/>
<path d="M235.7 281.6L246.2 325.2L259.8 217.8Z" fill="url(#e13o)" stroke="url(#e13o)"/>
<path d="M235.7 281.6L259.8 217.8L249.3 148.3Z" fill="url(#e13p)" stroke="url(#e13p)"/>
<path d="M222 313.9L232.6 263.6L246.2 325.2Z" fill="url(#e13q)" stroke="url(#e13q)"/>
<path d="M222 313.9L246.2 325.2L235.7 281.6Z" fill="url(#e13r)" stroke="url(#e13r)"/>
<path d="M208.4 322.2L219 260.7L232.6 263.6Z" fill="url(#e13s)" stroke="url(#e13s)"/>
<path d="M208.4 322.2L232.6 263.6L222 313.9Z" fill="url(#e13t)" stroke="url(#e13t)"/>
<path d="M194.8 329.7L205.4 257.7L219 260.7Z" fill="url(#e13u)" stroke="url(#e13u)"/>
<path d="M194.8 329.7L219 260.7L208.4 322.2Z" fill="url(#e13v)" stroke="url(#e13v)"/>
<path d="M181.2 335.6L191.7 254.7L205.4 257.7Z" fill="url(#e13w)" stroke="url(#e13w)"/>
<path d="M181.2 335.6L205.4 257.7L194.8 329.7Z" fill="url(#e13x)" stroke="url(#e13x)"/>
<path d="M167.6 341.6L178.1 255.1L191.7 254.7Z" fill="url(#e13y)" stroke="url(#e13y)"/>
<path d="M167.6 341.6L191.7 254.7L181.2 335.6Z" fill="url(#e13z)" stroke="url(#e13z)"/>
<path d="M153.9 348.5L164.5 256.2L178.1 255.1Z" fill="url(#e140)" stroke="url(#e140)"/>
<path d="M153.9 348.5L178.1 255.1L167.6 341.6Z" fill="url(#e141)" stroke="url(#e141)"/>
<path d="M140.3 355.8L150.9 257.2L164.5 256.2Z" fill="url(#e142)" stroke="url(#e142)"/>
<path d="M140.3 355.8L164.5 256.2L153.9 348.5Z" fill="url(#e143)" stroke="url(#e143)"/>
<path d="M126.7 363.1L137.3 258.2L150.9 257.2Z" fill="url(#e144)" stroke="url(#e144)"/>
<path d="M126.7 363.1L150.9 257.2L140.3 355.8Z" fill="url(#e145)" stroke="url(#e145)"/>
<path d="M113.1 370.4L123.6 259.2L137.3 258.2Z" fill="url(#e146)" stroke="url(#e146)"/>
<path d="M113.1 370.4L137.3 258.2L126.7 363.1Z" fill="url(#e147)" stroke="url(#e147)"/>
<path d="M368.8 203.4L379.4 244.8L393 234.8Z" fill="url(#e148)" stroke="url(#e148)"/>
<path d="M368.8 203.4L393 234.8L382.4 201.7Z" fill="url(#e149)" stroke="url(#e149)"/>
<path d="M355.2 205.1L365.7 255L379.4 244.8Z" fill="url(#e14a)" stroke="url(#e14a)"/>
<path d="M355.2 205.1L379.4 244.8L368.8 203.4Z" fill="url(#e14b)" stroke="url(#e14b)"/>
<path d="M341.6 206.8L352.1 265.2L365.7 255Z" fill="url(#e14c)" stroke="url(#e14c)"/>
<path d="M341.6 206.8L365.7 255L355.2 205.1Z" fill="url(#e14d)" stroke="url(#e14d)"/>
<path d="M327.9 208.5L338.5 275.4L352.1 265.2Z" fill="url(#e14e)" stroke="url(#e14e)"/>
<path d="M327.9 208.5L352.1 265.2L341.6 206.8Z" fill="url(#e14f)" stroke="url(#e14f)"/>
<path d="M314.3 210.2L324.9 284.5L338.5 275.4Z" fill="url(#e14g)" stroke="url(#e14g)"/>
<path d="M314.3 210.2L338.5 275.4L327.9 208.5Z" fill="url(#e14h)" stroke="url(#e14h)"/>
<path d="M300.7 211.9L311.3 293.5L324.9 284.5Z" fill="url(#e14i)" stroke="url(#e14i)"/>
<path d="M300.7 211.9L324.9 284.5L314.3 210.2Z" fill="url(#e14j)" stroke="url(#e14j)"/>
<path d="M287.1 213.9L297.6 302.5L311.3 293.5Z" fill="url(#e14k)" stroke="url(#e14k)"/>
<path d="M287.1 213.9L311.3 293.5L300.7 211.9Z" fill="url(#e14l)" stroke="url(#e14l)"/>
<path d="M273.5 215.8L284 305.5L297.6 302.5Z" fill="url(#e14m)" stroke="url(#e14m)"/>
<path d="M273.5 215.8L297.6 302.5L287.1 213.9Z" fill="url(#e14n)" stroke="url(#e14n)"/>
<path d="M259.8 217.8L270.4 296.7L284 305.5Z" fill="url(#e14o)" stroke="url(#e14o)"/>
<path d="M259.8 217.8L284 305.5L273.5 215.8Z" fill="url(#e14p)" stroke="url(#e14p)"/>
<path d="M246.2 325.2L256.8 141.3L270.4 296.7Z" fill="url(#e14q)" stroke="url(#e14q)"/>
<path d="M246.2 325.2L270.4 296.7L259.8 217.8Z" fill="url(#e14r)" stroke="url(#e14r)"/>
<path d="M232.6 263.6L243.2 153.1L256.8 141.3Z" fill="url(#e14s)" stroke="url(#e14s)"/>
<path d="M232.6 263.6L256.8 141.3L246.2 325.2Z" fill="url(#e14t)" stroke="url(#e14t)"/>
<path d="M219 260.7L229.5 164.2L243.2 153.1Z" fill="url(#e14u)" stroke="url(#e14u)"/>
<path d="M219 260.7L243.2 153.1L232.6 263.6Z" fill="url(#e14v)" stroke="url(#e14v)"/>
<path d="M205.4 257.7L215.9 169L229.5 164.2Z" fill="url(#e14w)" stroke="url(#e14w)"/>
<path d="M205.4 257.7L229.5 164.2L219 260.7Z" fill="url(#e14x)" stroke="url(#e14x)"/>
<path d="M191.7 254.7L202.3 173.7L215.9 169Z" fill="url(#e14y)" stroke="url(#e14y)"/>
<path d="M191.7 254.7L215.9 169L205.4 257.7Z" fill="url(#e14z)" stroke="url(#e14z)"/>
<path d="M178.1 255.1L188.7 178.4L202.3 173.7Z" fill="url(#e150)" stroke="url(#e150)"/>
<path d="M178.1 255.1L202.3 173.7L191.7 254.7Z" fill="url(#e151)" stroke="url(#e151)"/>
<path d="M164.5 256.2L175.1 179.2L188.7 178.4Z" fill="url(#e152)" stroke="url(#e152)"/>
<path d="M164.5 256.2L188.7 178.4L178.1 255.1Z" fill="url(#e153)" stroke="url(#e153)"/>
<path d="M150.9 257.2L161.4 180L175.1 179.2Z" fill="url(#e154)" stroke="url(#e154)"/>
<path d="M150.9 257.2L175.1 179.2L164.5 256.2Z" fill="url(#e155)" stroke="url(#e155)"/>
<path d="M137.3 258.2L147.8 180.7L161.4 180Z" fill="url(#e156)" stroke="url(#e156)"/>
<path d="M137.3 258.2L161.4 180L150.9 257.2Z" fill="url(#e157)" stroke="url(#e157)"/>
<path d="M123.6 259.2L134.2 181.5L147.8 180.7Z" fill="url(#e158)" stroke="url(#e158)"/>
<path d="M123.6 259.2L147.8 180.7L137.3 258.2Z" fill="url(#e159)" stroke="url(#e159)"/>
<path d="M379.4 244.8L389.9 190.8L403.5 191.7Z" fill="url(#e15a)" stroke="url(#e15a)"/>
<path d="M379.4 244.8L403.5 191.7L393 234.8Z" fill="url(#e15b)" stroke="url(#e15b)"/>
<path d="M365.7 255L376.3 190L389.9 190.8Z" fill="url(#e15c)" stroke="url(#e15c)"/>
<path d="M365.7 255L389.9 190.8L379.4 244.8Z" fill="url(#e15d)" stroke="url(#e15d)"/>
<path d="M352.1 265.2L362.7 189.1L376.3 190Z" fill="url(#e15e)" stroke="url(#e15e)"/>
<path d="M352.1 265.2L376.3 190L365.7 255Z" fill="url(#e15f)" stroke="url(#e15f)"/>
<path d="M338.5 275.4L349.1 188.1L362.7 189.1Z" fill="url(#e15g)" stroke="url(#e15g)"/>
<path d="M338.5 275.4L362.7 189.1L352.1 265.2Z" fill="url(#e15h)" stroke="url(#e15h)"/>
<path d="M324.9 284.5L335.4 187L349.1 188.1Z" fill="url(#e15i)" stroke="url(#e15i)"/>
<path d="M324.9 284.5L349.1 188.1L338.5 275.4Z" fill="url(#e15j)" stroke="url(#e15j)"/>
<path d="M311.3 293.5L321.8 186L335.4 187Z" fill="url(#e15k)" stroke="url(#e15k)"/>
<path d="M311.3 293.5L335.4 187L324.9 284.5Z" fill="url(#e15l)" stroke="url(#e15l)"/>
<path d="M297.6 302.5L308.2 184.9L321.8 186Z" fill="url(#e15m)" stroke="url(#e15m)"/>
<path d="M297.6 302.5L321.8 186L311.3 293.5Z" fill="url(#e15n)" stroke="url(#e15n)"/>
<path d="M284 305.5L294.6 188.4L308.2 184.9Z" fill="url(#e15o)" stroke="url(#e15o)"/>
<path d="M284 305.5L308.2 184.9L297.6 302.5Z" fill="url(#e15p)" stroke="url(#e15p)"/>
<path d="M270.4 296.7L281 203.7L294.6 188.4Z" fill="url(#e15q)" stroke="url(#e15q)"/>
<path d="M270.4 296.7L294.6 188.4L284 305.5Z" fill="url(#e15r)" stroke="url(#e15r)"/>
<path d="M256.8 141.3L267.3 240.8L281 203.7Z" fill="url(#e15s)" stroke="url(#e15s)"/>
<path d="M256.8 141.3L281 203.7L270.4 296.7Z" fill="url(#e15t)" stroke="url(#e15t)"/>
<path d="M243.2 153.1L253.7 264.3L267.3 240.8Z" fill="url(#e15u)" stroke="url(#e15u)"/>
<path d="M243.2 153.1L267.3 240.8L256.8 141.3Z" fill="url(#e15v)" stroke="url(#e15v)"/>
<path d="M229.5 164.2L240.1 277.2L253.7 264.3Z" fill="url(#e15w)" stroke="url(#e15w)"/>
<path d="M229.5 164.2L253.7 264.3L243.2 153.1Z" fill="url(#e15x)" stroke="url(#e15x)"/>
<path d="M215.9 169L226.5 282.7L240.1 277.2Z" fill="url(#e15y)" stroke="url(#e15y)"/>
<path d="M215.9 169L240.1 277.2L229.5 164.2Z" fill="url(#e15z)" stroke="url(#e15z)"/>
<path d="M202.3 173.7L212.9 288.2L226.5 282.7Z" fill="url(#e160)" stroke="url(#e160)"/>
<path d="M202.3 173.7L226.5 282.7L215.9 169Z" fill="url(#e161)" stroke="url(#e161)"/>
<path d="M188.7 178.4L199.2 293.8L212.9 288.2Z" fill="url(#e162)" stroke="url(#e162)"/>
<path d="M188.7 178.4L212.9 288.2L202.3 173.7Z" fill="url(#e163)" stroke="url(#e163)"/>
<path d="M175.1 179.2L185.6 298.7L199.2 293.8Z" fill="url(#e164)" stroke="url(#e164)"/>
<path d="M175.1 179.2L199.2 293.8L188.7 178.4Z" fill="url(#e165)" stroke="url(#e165)"/>
<path d="M161.4 180L172 303.1L185.6 298.7Z" fill="url(#e166)" stroke="url(#e166)"/>
<path d="M161.4 180L185.6 298.7L175.1 179.2Z" fill="url(#e167)" stroke="url(#e167)"/>
<path d="M147.8 180.7L158.4 307.6L172 303.1Z" fill="url(#e168)" stroke="url(#e168)"/>
<path d="M147.8 180.7L172 303.1L161.4 180Z" fill="url(#e169)" stroke="url(#e169)"/>
<path d="M134.2 181.5L144.7 312L158.4 307.6Z" fill="url(#e16a)" stroke="url(#e16a)"/>
<path d="M134.2 181.5L158.4 307.6L147.8 180.7Z" fill="url(#e16b)" stroke="url(#e16b)"/>
<path d="M389.9 190.8L400.5 215.8L414.1 212.8Z" fill="url(#e16c)" stroke="url(#e16c)"/>
<path d="M389.9 190.8L414.1 212.8L403.5 191.7Z" fill="url(#e16d)" stroke="url(#e16d)"/>
<path d="M376.3 190L386.9 218.7L400.5 215.8Z" fill="url(#e16e)" stroke="url(#e16e)"/>
<path d="M376.3 190L400.5 215.8L389.9 190.8Z" fill="url(#e16f)" stroke="url(#e16f)"/>
<path d="M362.7 189.1L373.2 221.7L386.9 218.7Z" fill="url(#e16g)" stroke="url(#e16g)"/>
<path d="M362.7 189.1L386.9 218.7L376.3 190Z" fill="url(#e16h)" stroke="url(#e16h)"/>
<path d="M349.1 188.1L359.6 224.7L373.2 221.7Z" fill="url(#e16i)" stroke="url(#e16i)"/>
<path d="M349.1 188.1L373.2 221.7L362.7 189.1Z" fill="url(#e16j)" stroke="url(#e16j)"/>
<path d="M335.4 187L346 227.6L359.6 224.7Z" fill="url(#e16k)" stroke="url(#e16k)"/>
<path d="M335.4 187L359.6 224.7L349.1 188.1Z" fill="url(#e16l)" stroke="url(#e16l)"/>
<path d="M321.8 186L332.4 230.6L346 227.6Z" fill="url(#e16m)" stroke="url(#e16m)"/>
<path d="M321.8 186L346 227.6L335.4 187Z" fill="url(#e16n)" stroke="url(#e16n)"/>
<path d="M308.2 184.9L318.8 233.6L332.4 230.6Z" fill="url(#e16o)" stroke="url(#e16o)"/>
<path d="M308.2 184.9L332.4 230.6L321.8 186Z" fill="url(#e16p)" stroke="url(#e16p)"/>
<path d="M294.6 188.4L305.1 236.5L318.8 233.6Z" fill="url(#e16q)" stroke="url(#e16q)"/>
<path d="M294.6 188.4L318.8 233.6L308.2 184.9Z" fill="url(#e16r)" stroke="url(#e16r)"/>
<path d="M281 203.7L291.5 236.9L305.1 236.5Z" fill="url(#e16s)" stroke="url(#e16s)"/>
<path d="M281 203.7L305.1 236.5L294.6 188.4Z" fill="url(#e16t)" stroke="url(#e16t)"/>
<path d="M267.3 240.8L277.9 246.3L291.5 236.9Z" fill="url(#e16u)" stroke="url(#e16u)"/>
<path d="M267.3 240.8L291.5 236.9L281 203.7Z" fill="url(#e16v)" stroke="url(#e16v)"/>
<path d="M253.7 264.3L264.3 249L277.9 246.3Z" fill="url(#e16w)" stroke="url(#e16w)"/>
<path d="M253.7 264.3L277.9 246.3L267.3 240.8Z" fill="url(#e16x)" stroke="url(#e16x)"/>
<path d="M240.1 277.2L250.7 251.6L264.3 249Z" fill="url(#e16y)" stroke="url(#e16y)"/>
<path d="M240.1 277.2L264.3 249L253.7 264.3Z" fill="url(#e16z)" stroke="url(#e16z)"/>
<path d="M226.5 282.7L237 254.3L250.7 251.6Z" fill="url(#e170)" stroke="url(#e170)"/>
<path d="M226.5 282.7L250.7 251.6L240.1 277.2Z" fill="url(#e171)" stroke="url(#e171)"/>
<path d="M212.9 288.2L223.4 253.5L237 254.3Z" fill="url(#e172)" stroke="url(#e172)"/>
<path d="M212.9 288.2L237 254.3L226.5 282.7Z" fill="url(#e173)" stroke="url(#e173)"/>
<path d="M199.2 293.8L209.8 256.3L223.4 253.5Z" fill="url(#e174)" stroke="url(#e174)"/>
<path d="M199.2 293.8L223.4 253.5L212.9 288.2Z" fill="url(#e175)" stroke="url(#e175)"/>
<path d="M185.6 298.7L196.2 259.2L209.8 256.3Z" fill="url(#e176)" stroke="url(#e176)"/>
<path d="M185.6 298.7L209.8 256.3L199.2 293.8Z" fill="url(#e177)" stroke="url(#e177)"/>
<path d="M172 303.1L182.5 262L196.2 259.2Z" fill="url(#e178)" stroke="url(#e178)"/>
<path d="M172 303.1L196.2 259.2L185.6 298.7Z" fill="url(#e179)" stroke="url(#e179)"/>
<path d="M158.4 307.6L168.9 264.9L182.5 262Z" fill="url(#e17a)" stroke="url(#e17a)"/>
<path d="M158.4 307.6L182.5 262L172 303.1Z" fill="url(#e17b)" stroke="url(#e17b)"/>
<path d="M144.7 312L155.3 267.7L168.9 264.9Z" fill="url(#e17c)" stroke="url(#e17c)"/>
<path d="M144.7 312L168.9 264.9L158.4 307.6Z" fill="url(#e17d)" stroke="url(#e17d)"/>
<path d="M400.5 215.8L411 221.1L424.7 218.1Z" fill="url(#e17e)" stroke="url(#e17e)"/>
<path d="M400.5 215.8L424.7 218.1L414.1 212.8Z" fill="url(#e17f)" stroke="url(#e17f)"/>
<path d="M386.9 218.7L397.4 224.1L411 221.1Z" fill="url(#e17g)" stroke="url(#e17g)"/>
<path d="M386.9 218.7L411 221.1L400.5 215.8Z" fill="url(#e17h)" stroke="url(#e17h)"/>
<path d="M373.2 221.7L383.8 227.2L397.4 224.1Z" fill="url(#e17i)" stroke="url(#e17i)"/>
<path d="M373.2 221.7L397.4 224.1L386.9 218.7Z" fill="url(#e17j)" stroke="url(#e17j)"/>
<path d="M359.6 224.7L370.2 230.2L383.8 227.2Z" fill="url(#e17k)" stroke="url(#e17k)"/>
<path d="M359.6 224.7L383.8 227.2L373.2 221.7Z" fill="url(#e17l)" stroke="url(#e17l)"/>
<path d="M346 227.6L356.6 233.2L370.2 230.2Z" fill="url(#e17m)" stroke="url(#e17m)"/>
<path d="M346 227.6L370.2 230.2L359.6 224.7Z" fill="url(#e17n)" stroke="url(#e17n)"/>
<path d="M332.4 230.6L342.9 236.3L356.6 233.2Z" fill="url(#e17o)" stroke="url(#e17o)"/>
<path d="M332.4 230.6L356.6 233.2L346 227.6Z" fill="url(#e17p)" stroke="url(#e17p)"/>
<path d="M318.8 233.6L329.3 239.3L342.9 236.3Z" fill="url(#e17q)" stroke="url(#e17q)"/>
<path d="M318.8 233.6L342.9 236.3L332.4 230.6Z" fill="url(#e17r)" stroke="url(#e17r)"/>
<path d="M305.1 236.5L315.7 242.3L329.3 239.3Z" fill="url(#e17s)" stroke="url(#e17s)"/>
<path d="M305.1 236.5L329.3 239.3L318.8 233.6Z" fill="url(#e17t)" stroke="url(#e17t)"/>
<path d="M291.5 236.9L302.1 245.4L315.7 242.3Z" fill="url(#e17u)" stroke="url(#e17u)"/>
<path d="M291.5 236.9L315.7 242.3L305.1 236.5Z" fill="url(#e17v)" stroke="url(#e17v)"/>
<path d="M277.9 246.3L288.5 245.4L302.1 245.4Z" fill="url(#e17w)" stroke="url(#e17w)"/>
<path d="M277.9 246.3L302.1 245.4L291.5 236.9Z" fill="url(#e17x)" stroke="url(#e17x)"/>
<path d="M264.3 249L274.8 248.4L288.5 245.4Z" fill="url(#e17y)" stroke="url(#e17y)"/>
<path d="M264.3 249L288.5 245.4L277.9 246.3Z" fill="url(#e17z)" stroke="url(#e17z)"/>
<path d="M250.7 251.6L261.2 251.3L274.8 248.4Z" fill="url(#e180)" stroke="url(#e180)"/>
<path d="M250.7 251.6L274.8 248.4L264.3 249Z" fill="url(#e181)" stroke="url(#e181)"/>
<path d="M237 254.3L247.6 254.3L261.2 251.3Z" fill="url(#e182)" stroke="url(#e182)"/>
<path d="M237 254.3L261.2 251.3L250.7 251.6Z" fill="url(#e183)" stroke="url(#e183)"/>
<path d="M223.4 253.5L234 257.3L247.6 254.3Z" fill="#00f7ff" stroke="#00f7ff"/>
<path d="M223.4 253.5L247.6 254.3L237 254.3Z" fill="url(#e184)" stroke="url(#e184)"/>
<path d="M209.8 256.3L220.3 260.2L234 257.3Z" fill="url(#e185)" stroke="url(#e185)"/>
<path d="M209.8 256.3L234 257.3L223.4 253.5Z" fill="url(#e186)" stroke="url(#e186)"/>
<path d="M196.2 259.2L206.7 263.2L220.3 260.2Z" fill="url(#e187)" stroke="url(#e187)"/>
<path d="M196.2 259.2L220.3 260.2L209.8 256.3Z" fill="url(#e188)" stroke="url(#e188)"/>
<path d="M182.5 262L193.1 266.2L206.7 263.2Z" fill="url(#e189)" stroke="url(#e189)"/>
<path d="M182.5 262L206.7 263.2L196.2 259.2Z" fill="url(#e18a)" stroke="url(#e18a)"/>
<path d="M168.9 264.9L179.5 269.2L193.1 266.2Z" fill="url(#e18b)" stroke="url(#e18b)"/>
<path d="M168.9 264.9L193.1 266.2L182.5 262Z" fill="url(#e18c)" stroke="url(#e18c)"/>
<path d="M155.3 267.7L165.9 272.1L179.5 269.2Z" fill="url(#e18d)" stroke="url(#e18d)"/>
<path d="M155.3 267.7L179.5 269.2L168.9 264.9Z" fill="url(#e18e)" stroke="url(#e18e)"/>
<path d="M411 221.1L421.6 224.9L435.2 221.9Z" fill="url(#e18f)" stroke="url(#e18f)"/>
<path d="M411 221.1L435.2 221.9L424.7 218.1Z" fill="url(#e18g)" stroke="url(#e18g)"/>
<path d="M397.4 224.1L408 227.9L421.6 224.9Z" fill="url(#e18h)" stroke="url(#e18h)"/>
<path d="M397.4 224.1L421.6 224.9L411 221.1Z" fill="url(#e18i)" stroke="url(#e18i)"/>
<path d="M383.8 227.2L394.4 231L408 227.9Z" fill="url(#e18j)" stroke="url(#e18j)"/>
<path d="M383.8 227.2L408 227.9L397.4 224.1Z" fill="url(#e18k)" stroke="url(#e18k)"/>
<path d="M370.2 230.2L380.7 234L394.4 231Z" fill="url(#e18l)" stroke="url(#e18l)"/>
<path d="M370.2 230.2L394.4 231L383.8 227.2Z" fill="url(#e18m)" stroke="url(#e18m)"/>
<path d="M356.6 233.2L367.1 237L380.7 234Z" fill="url(#e18n)" stroke="url(#e18n)"/>
<path d="M356.6 233.2L380.7 234L370.2 230.2Z" fill="url(#e18o)" stroke="url(#e18o)"/>
<path d="M342.9 236.3L353.5 240.1L367.1 237Z" fill="url(#e18p)" stroke="url(#e18p)"/>
<path d="M342.9 236.3L367.1 237L356.6 233.2Z" fill="url(#e18q)" stroke="url(#e18q)"/>
<path d="M329.3 239.3L339.9 243.1L353.5 240.1Z" fill="url(#e18r)" stroke="url(#e18r)"/>
<path d="M329.3 239.3L353.5 240.1L342.9 236.3Z" fill="url(#e18s)" stroke="url(#e18s)"/>
<path d="M315.7 242.3L326.3 246.1L339.9 243.1Z" fill="url(#e18t)" stroke="url(#e18t)"/>
<path d="M315.7 242.3L339.9 243.1L329.3 239.3Z" fill="url(#e18u)" stroke="url(#e18u)"/>
<path d="M302.1 245.4L312.6 249.2L326.3 246.1Z" fill="url(#e18v)" stroke="url(#e18v)"/>
<path d="M302.1 245.4L326.3 246.1L315.7 242.3Z" fill="url(#e18w)" stroke="url(#e18w)"/>
<path d="M288.5 245.4L299 250.4L312.6 249.2Z" fill="url(#e18x)" stroke="url(#e18x)"/>
<path d="M288.5 245.4L312.6 249.2L302.1 245.4Z" fill="url(#e18y)" stroke="url(#e18y)"/>
<path d="M274.8 248.4L285.4 252.2L299 250.4Z" fill="url(#e18z)" stroke="url(#e18z)"/>
<path d="M274.8 248.4L299 250.4L288.5 245.4Z" fill="url(#e190)" stroke="url(#e190)"/>
<path d="M261.2 251.3L271.8 255.1L285.4 252.2ZM261.2 251.3L285.4 252.2L274.8 248.4ZM247.6 254.3L258.1 258.1L271.8 255.1ZM247.6 254.3L271.8 255.1L261.2 251.3ZM234 257.3L244.5 261.1L258.1 258.1ZM234 257.3L258.1 258.1L247.6 254.3ZM220.3 260.2L230.9 264.1L244.5 261.1ZM220.3 260.2L244.5 261.1L234 257.3ZM206.7 263.2L217.3 267L230.9 264.1ZM206.7 263.2L230.9 264.1L220.3 260.2ZM193.1 266.2L203.7 270L217.3 267ZM193.1 266.2L217.3 267L206.7 263.2ZM179.5 269.2L190 273L203.7 270ZM179.5 269.2L203.7 270L193.1 266.2ZM165.9 272.1L176.4 275.9L190 273ZM165.9 272.1L190 273L179.5 269.2Z" fill="#00f7ff" stroke="#00f7ff"/>
<path d="M421.6 224.9L432.2 228.7L445.8 225.7Z" fill="url(#e191)" stroke="url(#e191)"/>
<path d="M421.6 224.9L445.8 225.7L435.2 221.9Z" fill="url(#e192)" stroke="url(#e192)"/>
<path d="M408 227.9L418.5 231.7L432.2 228.7Z" fill="url(#e193)" stroke="url(#e193)"/>
<path d="M408 227.9L432.2 228.7L421.6 224.9Z" fill="url(#e194)" stroke="url(#e194)"/>
<path d="M394.4 231L404.9 234.8L418.5 231.7Z" fill="url(#e195)" stroke="url(#e195)"/>
<path d="M394.4 231L418.5 231.7L408 227.9Z" fill="url(#e196)" stroke="url(#e196)"/>
<path d="M380.7 234L391.3 237.8L404.9 234.8Z" fill="url(#e197)" stroke="url(#e197)"/>
<path d="M380.7 234L404.9 234.8L394.4 231Z" fill="url(#e198)" stroke="url(#e198)"/>
<path d="M367.1 237L377.7 240.8L391.3 237.8Z" fill="url(#e199)" stroke="url(#e199)"/>
<path d="M367.1 237L391.3 237.8L380.7 234Z" fill="url(#e19a)" stroke="url(#e19a)"/>
<path d="M353.5 240.1L364.1 243.9L377.7 240.8Z" fill="url(#e19b)" stroke="url(#e19b)"/>
<path d="M353.5 240.1L377.7 240.8L367.1 237Z" fill="url(#e19c)" stroke="url(#e19c)"/>
<path d="M339.9 243.1L350.4 246.9L364.1 243.9Z" fill="url(#e19d)" stroke="url(#e19d)"/>
<path d="M339.9 243.1L364.1 243.9L353.5 240.1Z" fill="url(#e19e)" stroke="url(#e19e)"/>
<path d="M326.3 246.1L336.8 249.9L350.4 246.9Z" fill="url(#e19f)" stroke="url(#e19f)"/>
<path d="M326.3 246.1L350.4 246.9L339.9 243.1Z" fill="url(#e19g)" stroke="url(#e19g)"/>
<path d="M312.6 249.2L323.2 253L336.8 249.9Z" fill="url(#e19h)" stroke="url(#e19h)"/>
<path d="M312.6 249.2L336.8 249.9L326.3 246.1Z" fill="url(#e19i)" stroke="url(#e19i)"/>
<path d="M299 250.4L309.6 254.2L323.2 253Z" fill="url(#e19j)" stroke="url(#e19j)"/>
<path d="M299 250.4L323.2 253L312.6 249.2Z" fill="url(#e19k)" stroke="url(#e19k)"/>
<path d="M285.4 252.2L295.9 256L309.6 254.2Z" fill="url(#e19l)" stroke="url(#e19l)"/>
<path d="M285.4 252.2L309.6 254.2L299 250.4Z" fill="url(#e19m)" stroke="url(#e19m)"/>
<path d="M271.8 255.1L282.3 259L295.9 256ZM271.8 255.1L295.9 256L285.4 252.2ZM258.1 258.1L268.7 261.9L282.3 259ZM258.1 258.1L282.3 259L271.8 255.1ZM244.5 261.1L255.1 264.9L268.7 261.9ZM244.5 261.1L268.7 261.9L258.1 258.1ZM230.9 264.1L241.5 267.9L255.1 264.9ZM230.9 264.1L255.1 264.9L244.5 261.1ZM217.3 267L227.8 270.8L241.5 267.9ZM217.3 267L241.5 267.9L230.9 264.1ZM203.7 270L214.2 273.8L227.8 270.8ZM203.7 270L227.8 270.8L217.3 267ZM190 273L200.6 276.8L214.2 273.8ZM190 273L214.2 273.8L203.7 270ZM176.4 275.9L187 279.7L200.6 276.8ZM176.4 275.9L200.6 276.8L190 273Z" fill="#00f7ff" stroke="#00f7ff"/>
<path d="M432.2 228.7L442.7 232.4L456.3 229.5Z" fill="url(#e19n)" stroke="url(#e19n)"/>
<path d="M432.2 228.7L456.3 229.5L445.8 225.7Z" fill="url(#e19o)" stroke="url(#e19o)"/>
<path d="M418.5 231.7L429.1 235.4L442.7 232.4Z" fill="url(#e19p)" stroke="url(#e19p)"/>
<path d="M418.5 231.7L442.7 232.4L432.2 228.7Z" fill="url(#e19q)" stroke="url(#e19q)"/>
<path d="M404.9 234.8L415.5 238.4L429.1 235.4Z" fill="url(#e19r)" stroke="url(#e19r)"/>
<path d="M404.9 234.8L429.1 235.4L418.5 231.7Z" fill="url(#e19s)" stroke="url(#e19s)"/>
<path d="M391.3 237.8L401.9 241.4L415.5 238.4Z" fill="url(#e19t)" stroke="url(#e19t)"/>
<path d="M391.3 237.8L415.5 238.4L404.9 234.8Z" fill="url(#e19u)" stroke="url(#e19u)"/>
<path d="M377.7 240.8L388.2 244.3L401.9 241.4Z" fill="url(#e19v)" stroke="url(#e19v)"/>
<path d="M377.7 240.8L401.9 241.4L391.3 237.8Z" fill="url(#e19w)" stroke="url(#e19w)"/>
<path d="M364.1 243.9L374.6 247.3L388.2 244.3Z" fill="url(#e19x)" stroke="url(#e19x)"/>
<path d="M364.1 243.9L388.2 244.3L377.7 240.8Z" fill="url(#e19y)" stroke="url(#e19y)"/>
<path d="M350.4 246.9L361 250.3L374.6 247.3Z" fill="url(#e19z)" stroke="url(#e19z)"/>
<path d="M350.4 246.9L374.6 247.3L364.1 243.9Z" fill="url(#e1a0)" stroke="url(#e1a0)"/>
<path d="M336.8 249.9L347.4 253.2L361 250.3Z" fill="url(#e1a1)" stroke="url(#e1a1)"/>
<path d="M336.8 249.9L361 250.3L350.4 246.9Z" fill="url(#e1a2)" stroke="url(#e1a2)"/>
<path d="M323.2 253L333.7 256.2L347.4 253.2Z" fill="url(#e1a3)" stroke="url(#e1a3)"/>
<path d="M323.2 253L347.4 253.2L336.8 249.9Z" fill="url(#e1a4)" stroke="url(#e1a4)"/>
<path d="M309.6 254.2L320.1 256.8L333.7 256.2Z" fill="url(#e1a5)" stroke="url(#e1a5)"/>
<path d="M309.6 254.2L333.7 256.2L323.2 253Z" fill="url(#e1a6)" stroke="url(#e1a6)"/>
<path d="M295.9 256L306.5 259.8L320.1 256.8Z" fill="#00f7ff" stroke="#00f7ff"/>
<path d="M295.9 256L320.1 256.8L309.6 254.2Z" fill="url(#e1a7)" stroke="url(#e1a7)"/>
<path d="M282.3 259L292.9 262.8L306.5 259.8ZM282.3 259L306.5 259.8L295.9 256ZM268.7 261.9L279.3 265.7L292.9 262.8ZM268.7 261.9L292.9 262.8L282.3 259ZM255.1 264.9L265.6 268.7L279.3 265.7ZM255.1 264.9L279.3 265.7L268.7 261.9ZM241.5 267.9L252 271.7L265.6 268.7ZM241.5 267.9L265.6 268.7L255.1 264.9ZM227.8 270.8L238.4 274.6L252 271.7ZM227.8 270.8L252 271.7L241.5 267.9ZM214.2 273.8L224.8 277.6L238.4 274.6ZM214.2 273.8L238.4 274.6L227.8 270.8ZM200.6 276.8L211.2 280.6L224.8 277.6ZM200.6 276.8L224.8 277.6L214.2 273.8ZM187 279.7L197.5 283.5L211.2 280.6ZM187 279.7L211.2 280.6L200.6 276.8Z" fill="#00f7ff" stroke="#00f7ff"/>
<path d="M442.7 232.4L453.3 235.7L466.9 232.7Z" fill="url(#e1a8)" stroke="url(#e1a8)"/>
<path d="M442.7 232.4L466.9 232.7L456.3 229.5Z" fill="url(#e1a9)" stroke="url(#e1a9)"/>
<path d="M429.1 235.4L439.7 238.8L453.3 235.7Z" fill="url(#e1aa)" stroke="url(#e1aa)"/>
<path d="M429.1 235.4L453.3 235.7L442.7 232.4Z" fill="url(#e1ab)" stroke="url(#e1ab)"/>
<path d="M415.5 238.4L426 241.8L439.7 238.8Z" fill="url(#e1ac)" stroke="url(#e1ac)"/>
<path d="M415.5 238.4L439.7 238.8L429.1 235.4Z" fill="url(#e1ad)" stroke="url(#e1ad)"/>
<path d="M401.9 241.4L412.4 244.8L426 241.8Z" fill="url(#e1ae)" stroke="url(#e1ae)"/>
<path d="M401.9 241.4L426 241.8L415.5 238.4Z" fill="url(#e1af)" stroke="url(#e1af)"/>
<path d="M388.2 244.3L398.8 247.9L412.4 244.8Z" fill="url(#e1ag)" stroke="url(#e1ag)"/>
<path d="M388.2 244.3L412.4 244.8L401.9 241.4Z" fill="url(#e1ah)" stroke="url(#e1ah)"/>
<path d="M374.6 247.3L385.2 250.9L398.8 247.9Z" fill="url(#e1ai)" stroke="url(#e1ai)"/>
<path d="M374.6 247.3L398.8 247.9L388.2 244.3Z" fill="url(#e1aj)" stroke="url(#e1aj)"/>
<path d="M361 250.3L371.5 253.9L385.2 250.9Z" fill="url(#e1ak)" stroke="url(#e1ak)"/>
<path d="M361 250.3L385.2 250.9L374.6 247.3Z" fill="url(#e1al)" stroke="url(#e1al)"/>
<path d="M347.4 253.2L357.9 257L371.5 253.9Z" fill="url(#e1am)" stroke="url(#e1am)"/>
<path d="M347.4 253.2L371.5 253.9L361 250.3Z" fill="url(#e1an)" stroke="url(#e1an)"/>
<path d="M333.7 256.2L344.3 260L357.9 257Z" fill="url(#e1ao)" stroke="url(#e1ao)"/>
<path d="M333.7 256.2L357.9 257L347.4 253.2Z" fill="url(#e1ap)" stroke="url(#e1ap)"/>
<path d="M320.1 256.8L330.7 261.8L344.3 260Z" fill="url(#e1aq)" stroke="url(#e1aq)"/>
<path d="M320.1 256.8L344.3 260L333.7 256.2Z" fill="url(#e1ar)" stroke="url(#e1ar)"/>
<path d="M306.5 259.8L317.1 264.7L330.7 261.8Z" fill="url(#e1as)" stroke="url(#e1as)"/>
<path d="M306.5 259.8L330.7 261.8L320.1 256.8Z" fill="url(#e1at)" stroke="url(#e1at)"/>
<path d="M292.9 262.8L303.4 267.6L317.1 264.7Z" fill="url(#e1au)" stroke="url(#e1au)"/>
<path d="M292.9 262.8L317.1 264.7L306.5 259.8Z" fill="url(#e1av)" stroke="url(#e1av)"/>
<path d="M279.3 265.7L289.8 270.5L303.4 267.6Z" fill="url(#e1aw)" stroke="url(#e1aw)"/>
<path d="M279.3 265.7L303.4 267.6L292.9 262.8Z" fill="url(#e1ax)" stroke="url(#e1ax)"/>
<path d="M265.6 268.7L276.2 273.4L289.8 270.5Z" fill="url(#e1ay)" stroke="url(#e1ay)"/>
<path d="M265.6 268.7L289.8 270.5L279.3 265.7Z" fill="url(#e1az)" stroke="url(#e1az)"/>
<path d="M252 271.7L262.6 276.3L276.2 273.4Z" fill="url(#e1b0)" stroke="url(#e1b0)"/>
<path d="M252 271.7L276.2 273.4L265.6 268.7Z" fill="url(#e1b1)" stroke="url(#e1b1)"/>
<path d="M238.4 274.6L249 279.2L262.6 276.3Z" fill="url(#e1b2)" stroke="url(#e1b2)"/>
<path d="M238.4 274.6L262.6 276.3L252 271.7Z" fill="url(#e1b3)" stroke="url(#e1b3)"/>
<path d="M224.8 277.6L235.3 282.1L249 279.2Z" fill="url(#e1b4)" stroke="url(#e1b4)"/>
<path d="M224.8 277.6L249 279.2L238.4 274.6Z" fill="url(#e1b5)" stroke="url(#e1b5)"/>
<path d="M211.2 280.6L221.7 285L235.3 282.1Z" fill="url(#e1b6)" stroke="url(#e1b6)"/>
<path d="M211.2 280.6L235.3 282.1L224.8 277.6Z" fill="url(#e1b7)" stroke="url(#e1b7)"/>
<path d="M197.5 283.5L208.1 287.9L221.7 285Z" fill="url(#e1b8)" stroke="url(#e1b8)"/>
<path d="M197.5 283.5L221.7 285L211.2 280.6Z" fill="url(#e1b9)" stroke="url(#e1b9)"/>
<path d="M453.3 235.7L463.8 238.9L477.5 235.9Z" fill="url(#e1ba)" stroke="url(#e1ba)"/>
<path d="M453.3 235.7L477.5 235.9L466.9 232.7Z" fill="url(#e1bb)" stroke="url(#e1bb)"/>
<path d="M439.7 238.8L450.2 241.9L463.8 238.9Z" fill="url(#e1bc)" stroke="url(#e1bc)"/>
<path d="M439.7 238.8L463.8 238.9L453.3 235.7Z" fill="url(#e1bd)" stroke="url(#e1bd)"/>
<path d="M426 241.8L436.6 244.8L450.2 241.9Z" fill="url(#e1be)" stroke="url(#e1be)"/>
<path d="M426 241.8L450.2 241.9L439.7 238.8Z" fill="url(#e1bf)" stroke="url(#e1bf)"/>
<path d="M412.4 244.8L423 247.8L436.6 244.8Z" fill="url(#e1bg)" stroke="url(#e1bg)"/>
<path d="M412.4 244.8L436.6 244.8L426 241.8Z" fill="url(#e1bh)" stroke="url(#e1bh)"/>
<path d="M398.8 247.9L409.3 250.8L423 247.8Z" fill="url(#e1bi)" stroke="url(#e1bi)"/>
<path d="M398.8 247.9L423 247.8L412.4 244.8Z" fill="url(#e1bj)" stroke="url(#e1bj)"/>
<path d="M385.2 250.9L395.7 253.7L409.3 250.8Z" fill="url(#e1bk)" stroke="url(#e1bk)"/>
<path d="M385.2 250.9L409.3 250.8L398.8 247.9Z" fill="url(#e1bl)" stroke="url(#e1bl)"/>
<path d="M371.5 253.9L382.1 253.8L395.7 253.7Z" fill="url(#e1bm)" stroke="url(#e1bm)"/>
<path d="M371.5 253.9L395.7 253.7L385.2 250.9Z" fill="url(#e1bn)" stroke="url(#e1bn)"/>
<path d="M357.9 257L368.5 256.4L382.1 253.8Z" fill="url(#e1bo)" stroke="url(#e1bo)"/>
<path d="M357.9 257L382.1 253.8L371.5 253.9Z" fill="url(#e1bp)" stroke="url(#e1bp)"/>
<path d="M344.3 260L354.9 259.1L368.5 256.4Z" fill="url(#e1bq)" stroke="url(#e1bq)"/>
<path d="M344.3 260L368.5 256.4L357.9 257Z" fill="url(#e1br)" stroke="url(#e1br)"/>
<path d="M330.7 261.8L341.2 268.5L354.9 259.1Z" fill="url(#e1bs)" stroke="url(#e1bs)"/>
<path d="M330.7 261.8L354.9 259.1L344.3 260Z" fill="url(#e1bt)" stroke="url(#e1bt)"/>
<path d="M317.1 264.7L327.6 271.2L341.2 268.5Z" fill="url(#e1bu)" stroke="url(#e1bu)"/>
<path d="M317.1 264.7L341.2 268.5L330.7 261.8Z" fill="url(#e1bv)" stroke="url(#e1bv)"/>
<path d="M303.4 267.6L314 273.9L327.6 271.2Z" fill="url(#e1bw)" stroke="url(#e1bw)"/>
<path d="M303.4 267.6L327.6 271.2L317.1 264.7Z" fill="url(#e1bx)" stroke="url(#e1bx)"/>
<path d="M289.8 270.5L300.4 276.6L314 273.9Z" fill="url(#e1by)" stroke="url(#e1by)"/>
<path d="M289.8 270.5L314 273.9L303.4 267.6Z" fill="url(#e1bz)" stroke="url(#e1bz)"/>
<path d="M276.2 273.4L286.8 279.3L300.4 276.6Z" fill="url(#e1c0)" stroke="url(#e1c0)"/>
<path d="M276.2 273.4L300.4 276.6L289.8 270.5Z" fill="url(#e1c1)" stroke="url(#e1c1)"/>
<path d="M262.6 276.3L273.1 281.6L286.8 279.3Z" fill="url(#e1c2)" stroke="url(#e1c2)"/>
<path d="M262.6 276.3L286.8 279.3L276.2 273.4Z" fill="url(#e1c3)" stroke="url(#e1c3)"/>
<path d="M249 279.2L259.5 283.6L273.1 281.6Z" fill="url(#e1c4)" stroke="url(#e1c4)"/>
<path d="M249 279.2L273.1 281.6L262.6 276.3Z" fill="url(#e1c5)" stroke="url(#e1c5)"/>
<path d="M235.3 282.1L245.9 286.4L259.5 283.6Z" fill="url(#e1c6)" stroke="url(#e1c6)"/>
<path d="M235.3 282.1L259.5 283.6L249 279.2Z" fill="url(#e1c7)" stroke="url(#e1c7)"/>
<path d="M221.7 285L232.3 289.4L245.9 286.4Z" fill="url(#e1c8)" stroke="url(#e1c8)"/>
<path d="M221.7 285L245.9 286.4L235.3 282.1Z" fill="url(#e1c9)" stroke="url(#e1c9)"/>
<path d="M208.1 287.9L218.7 292.3L232.3 289.4Z" fill="url(#e1ca)" stroke="url(#e1ca)"/>
<path d="M208.1 287.9L232.3 289.4L221.7 285Z" fill="url(#e1cb)" stroke="url(#e1cb)"/>
<path d="M463.8 238.9L474.4 236.8L488 233.9Z" fill="url(#e1cc)" stroke="url(#e1cc)"/>
<path d="M463.8 238.9L488 233.9L477.5 235.9Z" fill="url(#e1cd)" stroke="url(#e1cd)"/>
<path d="M450.2 241.9L460.8 239.8L474.4 236.8Z" fill="url(#e1ce)" stroke="url(#e1ce)"/>
<path d="M450.2 241.9L474.4 236.8L463.8 238.9Z" fill="url(#e1cf)" stroke="url(#e1cf)"/>
<path d="M436.6 244.8L447.1 242.8L460.8 239.8Z" fill="url(#e1cg)" stroke="url(#e1cg)"/>
<path d="M436.6 244.8L460.8 239.8L450.2 241.9Z" fill="url(#e1ch)" stroke="url(#e1ch)"/>
<path d="M423 247.8L433.5 245.7L447.1 242.8Z" fill="url(#e1ci)" stroke="url(#e1ci)"/>
<path d="M423 247.8L447.1 242.8L436.6 244.8Z" fill="url(#e1cj)" stroke="url(#e1cj)"/>
<path d="M409.3 250.8L419.9 248.7L433.5 245.7Z" fill="url(#e1ck)" stroke="url(#e1ck)"/>
<path d="M409.3 250.8L433.5 245.7L423 247.8Z" fill="url(#e1cl)" stroke="url(#e1cl)"/>
<path d="M395.7 253.7L406.3 251.7L419.9 248.7Z" fill="url(#e1cm)" stroke="url(#e1cm)"/>
<path d="M395.7 253.7L419.9 248.7L409.3 250.8Z" fill="url(#e1cn)" stroke="url(#e1cn)"/>
<path d="M382.1 253.8L392.7 254.6L406.3 251.7Z" fill="url(#e1co)" stroke="url(#e1co)"/>
<path d="M382.1 253.8L406.3 251.7L395.7 253.7Z" fill="url(#e1cp)" stroke="url(#e1cp)"/>
<path d="M368.5 256.4L379 257.6L392.7 254.6Z" fill="url(#e1cq)" stroke="url(#e1cq)"/>
<path d="M368.5 256.4L392.7 254.6L382.1 253.8Z" fill="url(#e1cr)" stroke="url(#e1cr)"/>
<path d="M354.9 259.1L365.4 260.6L379 257.6Z" fill="url(#e1cs)" stroke="url(#e1cs)"/>
<path d="M354.9 259.1L379 257.6L368.5 256.4Z" fill="url(#e1ct)" stroke="url(#e1ct)"/>
<path d="M341.2 268.5L351.8 266.5L365.4 260.6Z" fill="url(#e1cu)" stroke="url(#e1cu)"/>
<path d="M341.2 268.5L365.4 260.6L354.9 259.1Z" fill="url(#e1cv)" stroke="url(#e1cv)"/>
<path d="M327.6 271.2L338.2 274.1L351.8 266.5Z" fill="url(#e1cw)" stroke="url(#e1cw)"/>
<path d="M327.6 271.2L351.8 266.5L341.2 268.5Z" fill="url(#e1cx)" stroke="url(#e1cx)"/>
<path d="M314 273.9L324.6 281.3L338.2 274.1Z" fill="url(#e1cy)" stroke="url(#e1cy)"/>
<path d="M314 273.9L338.2 274.1L327.6 271.2Z" fill="url(#e1cz)" stroke="url(#e1cz)"/>
<path d="M300.4 276.6L310.9 284.6L324.6 281.3Z" fill="url(#e1d0)" stroke="url(#e1d0)"/>
<path d="M300.4 276.6L324.6 281.3L314 273.9Z" fill="url(#e1d1)" stroke="url(#e1d1)"/>
<path d="M286.8 279.3L297.3 287.8L310.9 284.6Z" fill="url(#e1d2)" stroke="url(#e1d2)"/>
<path d="M286.8 279.3L310.9 284.6L300.4 276.6Z" fill="url(#e1d3)" stroke="url(#e1d3)"/>
<path d="M273.1 281.6L283.7 291.1L297.3 287.8Z" fill="url(#e1d4)" stroke="url(#e1d4)"/>
<path d="M273.1 281.6L297.3 287.8L286.8 279.3Z" fill="url(#e1d5)" stroke="url(#e1d5)"/>
<path d="M259.5 283.6L270.1 294.4L283.7 291.1Z" fill="url(#e1d6)" stroke="url(#e1d6)"/>
<path d="M259.5 283.6L283.7 291.1L273.1 281.6Z" fill="url(#e1d7)" stroke="url(#e1d7)"/>
<path d="M245.9 286.4L256.5 297.7L270.1 294.4Z" fill="url(#e1d8)" stroke="url(#e1d8)"/>
<path d="M245.9 286.4L270.1 294.4L259.5 283.6Z" fill="url(#e1d9)" stroke="url(#e1d9)"/>
<path d="M232.3 289.4L242.8 301L256.5 297.7Z" fill="url(#e1da)" stroke="url(#e1da)"/>
<path d="M232.3 289.4L256.5 297.7L245.9 286.4Z" fill="url(#e1db)" stroke="url(#e1db)"/>
<path d="M218.7 292.3L229.2 304.3L242.8 301Z" fill="url(#e1dc)" stroke="url(#e1dc)"/>
<path d="M218.7 292.3L242.8 301L232.3 289.4Z" fill="url(#e1dd)" stroke="url(#e1dd)"/>
<path d="M474.4 236.8L484.9 266.8L498.6 261.1Z" fill="url(#e1de)" stroke="url(#e1de)"/>
<path d="M474.4 236.8L498.6 261.1L488 233.9Z" fill="url(#e1df)" stroke="url(#e1df)"/>
<path d="M460.8 239.8L471.3 272.5L484.9 266.8Z" fill="url(#e1dg)" stroke="url(#e1dg)"/>
<path d="M460.8 239.8L484.9 266.8L474.4 236.8Z" fill="url(#e1dh)" stroke="url(#e1dh)"/>
<path d="M447.1 242.8L457.7 278.2L471.3 272.5Z" fill="url(#e1di)" stroke="url(#e1di)"/>
<path d="M447.1 242.8L471.3 272.5L460.8 239.8Z" fill="url(#e1dj)" stroke="url(#e1dj)"/>
<path d="M433.5 245.7L444.1 283.9L457.7 278.2Z" fill="url(#e1dk)" stroke="url(#e1dk)"/>
<path d="M433.5 245.7L457.7 278.2L447.1 242.8Z" fill="url(#e1dl)" stroke="url(#e1dl)"/>
<path d="M419.9 248.7L430.5 289.2L444.1 283.9Z" fill="url(#e1dm)" stroke="url(#e1dm)"/>
<path d="M419.9 248.7L444.1 283.9L433.5 245.7Z" fill="url(#e1dn)" stroke="url(#e1dn)"/>
<path d="M406.3 251.7L416.8 294.3L430.5 289.2Z" fill="url(#e1do)" stroke="url(#e1do)"/>
<path d="M406.3 251.7L430.5 289.2L419.9 248.7Z" fill="url(#e1dp)" stroke="url(#e1dp)"/>
<path d="M392.7 254.6L403.2 299.5L416.8 294.3Z" fill="url(#e1dq)" stroke="url(#e1dq)"/>
<path d="M392.7 254.6L416.8 294.3L406.3 251.7Z" fill="url(#e1dr)" stroke="url(#e1dr)"/>
<path d="M379 257.6L389.6 303.7L403.2 299.5Z" fill="url(#e1ds)" stroke="url(#e1ds)"/>
<path d="M379 257.6L403.2 299.5L392.7 254.6Z" fill="url(#e1dt)" stroke="url(#e1dt)"/>
<path d="M365.4 260.6L376 297.7L389.6 303.7Z" fill="url(#e1du)" stroke="url(#e1du)"/>
<path d="M365.4 260.6L389.6 303.7L379 257.6Z" fill="url(#e1dv)" stroke="url(#e1dv)"/>
<path d="M351.8 266.5L362.4 264.4L376 297.7Z" fill="url(#e1dw)" stroke="url(#e1dw)"/>
<path d="M351.8 266.5L376 297.7L365.4 260.6Z" fill="url(#e1dx)" stroke="url(#e1dx)"/>
<path d="M338.2 274.1L348.7 254.3L362.4 264.4Z" fill="url(#e1dy)" stroke="url(#e1dy)"/>
<path d="M338.2 274.1L362.4 264.4L351.8 266.5Z" fill="url(#e1dz)" stroke="url(#e1dz)"/>
<path d="M324.6 281.3L335.1 249.3L348.7 254.3Z" fill="url(#e1e0)" stroke="url(#e1e0)"/>
<path d="M324.6 281.3L348.7 254.3L338.2 274.1Z" fill="url(#e1e1)" stroke="url(#e1e1)"/>
<path d="M310.9 284.6L321.5 251L335.1 249.3Z" fill="url(#e1e2)" stroke="url(#e1e2)"/>
<path d="M310.9 284.6L335.1 249.3L324.6 281.3Z" fill="url(#e1e3)" stroke="url(#e1e3)"/>
<path d="M297.3 287.8L307.9 252.7L321.5 251Z" fill="url(#e1e4)" stroke="url(#e1e4)"/>
<path d="M297.3 287.8L321.5 251L310.9 284.6Z" fill="url(#e1e5)" stroke="url(#e1e5)"/>
<path d="M283.7 291.1L294.3 254.4L307.9 252.7Z" fill="url(#e1e6)" stroke="url(#e1e6)"/>
<path d="M283.7 291.1L307.9 252.7L297.3 287.8Z" fill="url(#e1e7)" stroke="url(#e1e7)"/>
<path d="M270.1 294.4L280.6 256.1L294.3 254.4Z" fill="url(#e1e8)" stroke="url(#e1e8)"/>
<path d="M270.1 294.4L294.3 254.4L283.7 291.1Z" fill="url(#e1e9)" stroke="url(#e1e9)"/>
<path d="M256.5 297.7L267 257.8L280.6 256.1Z" fill="url(#e1ea)" stroke="url(#e1ea)"/>
<path d="M256.5 297.7L280.6 256.1L270.1 294.4Z" fill="url(#e1eb)" stroke="url(#e1eb)"/>
<path d="M242.8 301L253.4 259.5L267 257.8Z" fill="url(#e1ec)" stroke="url(#e1ec)"/>
<path d="M242.8 301L267 257.8L256.5 297.7Z" fill="url(#e1ed)" stroke="url(#e1ed)"/>
<path d="M229.2 304.3L239.8 261.2L253.4 259.5Z" fill="url(#e1ee)" stroke="url(#e1ee)"/>
<path d="M229.2 304.3L253.4 259.5L242.8 301Z" fill="url(#e1ef)" stroke="url(#e1ef)"/>
<path d="M484.9 266.8L495.5 251.9L509.1 249.1Z" fill="url(#e1eg)" stroke="url(#e1eg)"/>
<path d="M484.9 266.8L509.1 249.1L498.6 261.1Z" fill="url(#e1eh)" stroke="url(#e1eh)"/>
<path d="M471.3 272.5L481.9 254.7L495.5 251.9Z" fill="url(#e1ei)" stroke="url(#e1ei)"/>
<path d="M471.3 272.5L495.5 251.9L484.9 266.8Z" fill="url(#e1ej)" stroke="url(#e1ej)"/>
<path d="M457.7 278.2L468.3 257.5L481.9 254.7Z" fill="url(#e1ek)" stroke="url(#e1ek)"/>
<path d="M457.7 278.2L481.9 254.7L471.3 272.5Z" fill="url(#e1el)" stroke="url(#e1el)"/>
<path d="M444.1 283.9L454.6 260.3L468.3 257.5Z" fill="url(#e1em)" stroke="url(#e1em)"/>
<path d="M444.1 283.9L468.3 257.5L457.7 278.2Z" fill="url(#e1en)" stroke="url(#e1en)"/>
<path d="M430.5 289.2L441 263.1L454.6 260.3Z" fill="url(#e1eo)" stroke="url(#e1eo)"/>
<path d="M430.5 289.2L454.6 260.3L444.1 283.9Z" fill="url(#e1ep)" stroke="url(#e1ep)"/>
<path d="M416.8 294.3L427.4 265.9L441 263.1Z" fill="url(#e1eq)" stroke="url(#e1eq)"/>
<path d="M416.8 294.3L441 263.1L430.5 289.2Z" fill="url(#e1er)" stroke="url(#e1er)"/>
<path d="M403.2 299.5L413.8 268.7L427.4 265.9Z" fill="url(#e1es)" stroke="url(#e1es)"/>
<path d="M403.2 299.5L427.4 265.9L416.8 294.3Z" fill="url(#e1et)" stroke="url(#e1et)"/>
<path d="M389.6 303.7L400.2 269.3L413.8 268.7Z" fill="url(#e1eu)" stroke="url(#e1eu)"/>
<path d="M389.6 303.7L413.8 268.7L403.2 299.5Z" fill="url(#e1ev)" stroke="url(#e1ev)"/>
<path d="M376 297.7L386.5 268.2L400.2 269.3Z" fill="url(#e1ew)" stroke="url(#e1ew)"/>
<path d="M376 297.7L400.2 269.3L389.6 303.7Z" fill="url(#e1ex)" stroke="url(#e1ex)"/>
<path d="M362.4 264.4L372.9 372.6L386.5 268.2Z" fill="url(#e1ey)" stroke="url(#e1ey)"/>
<path d="M362.4 264.4L386.5 268.2L376 297.7Z" fill="url(#e1ez)" stroke="url(#e1ez)"/>
<path d="M348.7 254.3L359.3 329.8L372.9 372.6Z" fill="url(#e1f0)" stroke="url(#e1f0)"/>
<path d="M348.7 254.3L372.9 372.6L362.4 264.4Z" fill="url(#e1f1)" stroke="url(#e1f1)"/>
<path d="M335.1 249.3L345.7 309.8L359.3 329.8Z" fill="url(#e1f2)" stroke="url(#e1f2)"/>
<path d="M335.1 249.3L359.3 329.8L348.7 254.3Z" fill="url(#e1f3)" stroke="url(#e1f3)"/>
<path d="M321.5 251L332.1 301.3L345.7 309.8Z" fill="url(#e1f4)" stroke="url(#e1f4)"/>
<path d="M321.5 251L345.7 309.8L335.1 249.3Z" fill="url(#e1f5)" stroke="url(#e1f5)"/>
<path d="M307.9 252.7L318.4 299.2L332.1 301.3Z" fill="url(#e1f6)" stroke="url(#e1f6)"/>
<path d="M307.9 252.7L332.1 301.3L321.5 251Z" fill="url(#e1f7)" stroke="url(#e1f7)"/>
<path d="M294.3 254.4L304.8 297.5L318.4 299.2Z" fill="url(#e1f8)" stroke="url(#e1f8)"/>
<path d="M294.3 254.4L318.4 299.2L307.9 252.7Z" fill="url(#e1f9)" stroke="url(#e1f9)"/>
<path d="M280.6 256.1L291.2 295.9L304.8 297.5Z" fill="url(#e1fa)" stroke="url(#e1fa)"/>
<path d="M280.6 256.1L304.8 297.5L294.3 254.4Z" fill="url(#e1fb)" stroke="url(#e1fb)"/>
<path d="M267 257.8L277.6 296.8L291.2 295.9Z" fill="url(#e1fc)" stroke="url(#e1fc)"/>
<path d="M267 257.8L291.2 295.9L280.6 256.1Z" fill="url(#e1fd)" stroke="url(#e1fd)"/>
<path d="M253.4 259.5L263.9 298.5L277.6 296.8Z" fill="url(#e1fe)" stroke="url(#e1fe)"/>
<path d="M253.4 259.5L277.6 296.8L267 257.8Z" fill="url(#e1ff)" stroke="url(#e1ff)"/>
<path d="M239.8 261.2L250.3 300.2L263.9 298.5Z" fill="url(#e1fg)" stroke="url(#e1fg)"/>
<path d="M239.8 261.2L263.9 298.5L253.4 259.5Z" fill="url(#e1fh)" stroke="url(#e1fh)"/>
<path d="M495.5 251.9L506.1 226.9L519.7 227.7Z" fill="url(#e1fi)" stroke="url(#e1fi)"/>
<path d="M495.5 251.9L519.7 227.7L509.1 249.1Z" fill="url(#e1fj)" stroke="url(#e1fj)"/>
<path d="M481.9 254.7L492.4 225.6L506.1 226.9Z" fill="url(#e1fk)" stroke="url(#e1fk)"/>
<path d="M481.9 254.7L506.1 226.9L495.5 251.9Z" fill="url(#e1fl)" stroke="url(#e1fl)"/>
<path d="M468.3 257.5L478.8 223.8L492.4 225.6Z" fill="url(#e1fm)" stroke="url(#e1fm)"/>
<path d="M468.3 257.5L492.4 225.6L481.9 254.7Z" fill="url(#e1fn)" stroke="url(#e1fn)"/>
<path d="M454.6 260.3L465.2 221.9L478.8 223.8Z" fill="url(#e1fo)" stroke="url(#e1fo)"/>
<path d="M454.6 260.3L478.8 223.8L468.3 257.5Z" fill="url(#e1fp)" stroke="url(#e1fp)"/>
<path d="M441 263.1L451.6 220L465.2 221.9Z" fill="url(#e1fq)" stroke="url(#e1fq)"/>
<path d="M441 263.1L465.2 221.9L454.6 260.3Z" fill="url(#e1fr)" stroke="url(#e1fr)"/>
<path d="M427.4 265.9L438 218.1L451.6 220Z" fill="url(#e1fs)" stroke="url(#e1fs)"/>
<path d="M427.4 265.9L451.6 220L441 263.1Z" fill="url(#e1ft)" stroke="url(#e1ft)"/>
<path d="M413.8 268.7L424.3 216.2L438 218.1Z" fill="url(#e1fu)" stroke="url(#e1fu)"/>
<path d="M413.8 268.7L438 218.1L427.4 265.9Z" fill="url(#e1fv)" stroke="url(#e1fv)"/>
<path d="M400.2 269.3L410.7 218L424.3 216.2Z" fill="url(#e1fw)" stroke="url(#e1fw)"/>
<path d="M400.2 269.3L424.3 216.2L413.8 268.7Z" fill="url(#e1fx)" stroke="url(#e1fx)"/>
<path d="M386.5 268.2L397.1 233.8L410.7 218Z" fill="url(#e1fy)" stroke="url(#e1fy)"/>
<path d="M386.5 268.2L410.7 218L400.2 269.3Z" fill="url(#e1fz)" stroke="url(#e1fz)"/>
<path d="M372.9 372.6L383.5 260.3L397.1 233.8Z" fill="url(#e1g0)" stroke="url(#e1g0)"/>
<path d="M372.9 372.6L397.1 233.8L386.5 268.2Z" fill="url(#e1g1)" stroke="url(#e1g1)"/>
<path d="M359.3 329.8L369.9 291.7L383.5 260.3Z" fill="url(#e1g2)" stroke="url(#e1g2)"/>
<path d="M359.3 329.8L383.5 260.3L372.9 372.6Z" fill="url(#e1g3)" stroke="url(#e1g3)"/>
<path d="M345.7 309.8L356.2 315.2L369.9 291.7Z" fill="url(#e1g4)" stroke="url(#e1g4)"/>
<path d="M345.7 309.8L369.9 291.7L359.3 329.8Z" fill="url(#e1g5)" stroke="url(#e1g5)"/>
<path d="M332.1 301.3L342.6 324L356.2 315.2Z" fill="url(#e1g6)" stroke="url(#e1g6)"/>
<path d="M332.1 301.3L356.2 315.2L345.7 309.8Z" fill="url(#e1g7)" stroke="url(#e1g7)"/>
<path d="M318.4 299.2L329 332.2L342.6 324Z" fill="url(#e1g8)" stroke="url(#e1g8)"/>
<path d="M318.4 299.2L342.6 324L332.1 301.3Z" fill="url(#e1g9)" stroke="url(#e1g9)"/>
<path d="M304.8 297.5L315.4 340.3L329 332.2Z" fill="url(#e1ga)" stroke="url(#e1ga)"/>
<path d="M304.8 297.5L329 332.2L318.4 299.2Z" fill="url(#e1gb)" stroke="url(#e1gb)"/>
<path d="M291.2 295.9L301.7 347L315.4 340.3Z" fill="url(#e1gc)" stroke="url(#e1gc)"/>
<path d="M291.2 295.9L315.4 340.3L304.8 297.5Z" fill="url(#e1gd)" stroke="url(#e1gd)"/>
<path d="M277.6 296.8L288.1 352.4L301.7 347Z" fill="url(#e1ge)" stroke="url(#e1ge)"/>
<path d="M277.6 296.8L301.7 347L291.2 295.9Z" fill="url(#e1gf)" stroke="url(#e1gf)"/>
<path d="M263.9 298.5L274.5 357.8L288.1 352.4Z" fill="url(#e1gg)" stroke="url(#e1gg)"/>
<path d="M263.9 298.5L288.1 352.4L277.6 296.8Z" fill="url(#e1gh)" stroke="url(#e1gh)"/>
<path d="M250.3 300.2L260.9 363.3L274.5 357.8Z" fill="url(#e1gi)" stroke="url(#e1gi)"/>
<path d="M250.3 300.2L274.5 357.8L263.9 298.5Z" fill="url(#e1gj)" stroke="url(#e1gj)"/>
<path d="M506.1 226.9L516.6 268.6L530.2 263.7Z" fill="url(#e1gk)" stroke="url(#e1gk)"/>
<path d="M506.1 226.9L530.2 263.7L519.7 227.7Z" fill="url(#e1gl)" stroke="url(#e1gl)"/>
<path d="M492.4 225.6L503 273.6L516.6 268.6Z" fill="url(#e1gm)" stroke="url(#e1gm)"/>
<path d="M492.4 225.6L516.6 268.6L506.1 226.9Z" fill="url(#e1gn)" stroke="url(#e1gn)"/>
<path d="M478.8 223.8L489.4 279L503 273.6Z" fill="url(#e1go)" stroke="url(#e1go)"/>
<path d="M478.8 223.8L503 273.6L492.4 225.6Z" fill="url(#e1gp)" stroke="url(#e1gp)"/>
<path d="M465.2 221.9L475.8 284.3L489.4 279Z" fill="url(#e1gq)" stroke="url(#e1gq)"/>
<path d="M465.2 221.9L489.4 279L478.8 223.8Z" fill="url(#e1gr)" stroke="url(#e1gr)"/>
<path d="M451.6 220L462.1 289.7L475.8 284.3Z" fill="url(#e1gs)" stroke="url(#e1gs)"/>
<path d="M451.6 220L475.8 284.3L465.2 221.9Z" fill="url(#e1gt)" stroke="url(#e1gt)"/>
<path d="M438 218.1L448.5 295L462.1 289.7Z" fill="url(#e1gu)" stroke="url(#e1gu)"/>
<path d="M438 218.1L462.1 289.7L451.6 220Z" fill="url(#e1gv)" stroke="url(#e1gv)"/>
<path d="M424.3 216.2L434.9 300.4L448.5 295Z" fill="url(#e1gw)" stroke="url(#e1gw)"/>
<path d="M424.3 216.2L448.5 295L438 218.1Z" fill="url(#e1gx)" stroke="url(#e1gx)"/>
<path d="M410.7 218L421.3 303.9L434.9 300.4Z" fill="url(#e1gy)" stroke="url(#e1gy)"/>
<path d="M410.7 218L434.9 300.4L424.3 216.2Z" fill="url(#e1gz)" stroke="url(#e1gz)"/>
<path d="M397.1 233.8L407.7 302.8L421.3 303.9Z" fill="url(#e1h0)" stroke="url(#e1h0)"/>
<path d="M397.1 233.8L421.3 303.9L410.7 218Z" fill="url(#e1h1)" stroke="url(#e1h1)"/>
<path d="M383.5 260.3L394 245.9L407.7 302.8Z" fill="url(#e1h2)" stroke="url(#e1h2)"/>
<path d="M383.5 260.3L407.7 302.8L397.1 233.8Z" fill="url(#e1h3)" stroke="url(#e1h3)"/>
<path d="M369.9 291.7L380.4 270L394 245.9Z" fill="url(#e1h4)" stroke="url(#e1h4)"/>
<path d="M369.9 291.7L394 245.9L383.5 260.3Z" fill="url(#e1h5)" stroke="url(#e1h5)"/>
<path d="M356.2 315.2L366.8 272.4L380.4 270Z" fill="url(#e1h6)" stroke="url(#e1h6)"/>
<path d="M356.2 315.2L380.4 270L369.9 291.7Z" fill="url(#e1h7)" stroke="url(#e1h7)"/>
<path d="M342.6 324L353.2 274.8L366.8 272.4Z" fill="url(#e1h8)" stroke="url(#e1h8)"/>
<path d="M342.6 324L366.8 272.4L356.2 315.2Z" fill="url(#e1h9)" stroke="url(#e1h9)"/>
<path d="M329 332.2L339.5 277.6L353.2 274.8Z" fill="url(#e1ha)" stroke="url(#e1ha)"/>
<path d="M329 332.2L353.2 274.8L342.6 324Z" fill="url(#e1hb)" stroke="url(#e1hb)"/>
<path d="M315.4 340.3L325.9 280.5L339.5 277.6Z" fill="url(#e1hc)" stroke="url(#e1hc)"/>
<path d="M315.4 340.3L339.5 277.6L329 332.2Z" fill="url(#e1hd)" stroke="url(#e1hd)"/>
<path d="M301.7 347L312.3 283.4L325.9 280.5Z" fill="url(#e1he)" stroke="url(#e1he)"/>
<path d="M301.7 347L325.9 280.5L315.4 340.3Z" fill="url(#e1hf)" stroke="url(#e1hf)"/>
<path d="M288.1 352.4L298.7 286.2L312.3 283.4Z" fill="url(#e1hg)" stroke="url(#e1hg)"/>
<path d="M288.1 352.4L312.3 283.4L301.7 347Z" fill="url(#e1hh)" stroke="url(#e1hh)"/>
<path d="M274.5 357.8L285.1 289.1L298.7 286.2Z" fill="url(#e1hi)" stroke="url(#e1hi)"/>
<path d="M274.5 357.8L298.7 286.2L288.1 352.4Z" fill="url(#e1hj)" stroke="url(#e1hj)"/>
<path d="M260.9 363.3L271.4 292L285.1 289.1Z" fill="url(#e1hk)" stroke="url(#e1hk)"/>
<path d="M260.9 363.3L285.1 289.1L274.5 357.8Z" fill="url(#e1hl)" stroke="url(#e1hl)"/>
<path d="M516.6 268.6L527.2 269.3L540.8 264.6Z" fill="url(#e1hm)" stroke="url(#e1hm)"/>
<path d="M516.6 268.6L540.8 264.6L530.2 263.7Z" fill="url(#e1hn)" stroke="url(#e1hn)"/>
<path d="M503 273.6L513.6 273.9L527.2 269.3Z" fill="url(#e1ho)" stroke="url(#e1ho)"/>
<path d="M503 273.6L527.2 269.3L516.6 268.6Z" fill="url(#e1hp)" stroke="url(#e1hp)"/>
<path d="M489.4 279L499.9 278.5L513.6 273.9Z" fill="url(#e1hq)" stroke="url(#e1hq)"/>
<path d="M489.4 279L513.6 273.9L503 273.6Z" fill="url(#e1hr)" stroke="url(#e1hr)"/>
<path d="M475.8 284.3L486.3 283.2L499.9 278.5Z" fill="url(#e1hs)" stroke="url(#e1hs)"/>
<path d="M475.8 284.3L499.9 278.5L489.4 279Z" fill="url(#e1ht)" stroke="url(#e1ht)"/>
<path d="M462.1 289.7L472.7 287.8L486.3 283.2Z" fill="url(#e1hu)" stroke="url(#e1hu)"/>
<path d="M462.1 289.7L486.3 283.2L475.8 284.3Z" fill="url(#e1hv)" stroke="url(#e1hv)"/>
<path d="M448.5 295L459.1 292.5L472.7 287.8Z" fill="url(#e1hw)" stroke="url(#e1hw)"/>
<path d="M448.5 295L472.7 287.8L462.1 289.7Z" fill="url(#e1hx)" stroke="url(#e1hx)"/>
<path d="M434.9 300.4L445.5 297.1L459.1 292.5Z" fill="url(#e1hy)" stroke="url(#e1hy)"/>
<path d="M434.9 300.4L459.1 292.5L448.5 295Z" fill="url(#e1hz)" stroke="url(#e1hz)"/>
<path d="M421.3 303.9L431.8 300.1L445.5 297.1Z" fill="url(#e1i0)" stroke="url(#e1i0)"/>
<path d="M421.3 303.9L445.5 297.1L434.9 300.4Z" fill="url(#e1i1)" stroke="url(#e1i1)"/>
<path d="M407.7 302.8L418.2 303.1L431.8 300.1Z" fill="url(#e1i2)" stroke="url(#e1i2)"/>
<path d="M407.7 302.8L431.8 300.1L421.3 303.9Z" fill="url(#e1i3)" stroke="url(#e1i3)"/>
<path d="M394 245.9L404.6 301.3L418.2 303.1Z" fill="url(#e1i4)" stroke="url(#e1i4)"/>
<path d="M394 245.9L418.2 303.1L407.7 302.8Z" fill="url(#e1i5)" stroke="url(#e1i5)"/>
<path d="M380.4 270L391 300.5L404.6 301.3Z" fill="url(#e1i6)" stroke="url(#e1i6)"/>
<path d="M380.4 270L404.6 301.3L394 245.9Z" fill="url(#e1i7)" stroke="url(#e1i7)"/>
<path d="M366.8 272.4L377.3 299.6L391 300.5Z" fill="url(#e1i8)" stroke="url(#e1i8)"/>
<path d="M366.8 272.4L391 300.5L380.4 270Z" fill="url(#e1i9)" stroke="url(#e1i9)"/>
<path d="M353.2 274.8L363.7 298.8L377.3 299.6Z" fill="url(#e1ia)" stroke="url(#e1ia)"/>
<path d="M353.2 274.8L377.3 299.6L366.8 272.4Z" fill="url(#e1ib)" stroke="url(#e1ib)"/>
<path d="M339.5 277.6L350.1 299.8L363.7 298.8Z" fill="url(#e1ic)" stroke="url(#e1ic)"/>
<path d="M339.5 277.6L363.7 298.8L353.2 274.8Z" fill="url(#e1id)" stroke="url(#e1id)"/>
<path d="M325.9 280.5L336.5 302.1L350.1 299.8Z" fill="url(#e1ie)" stroke="url(#e1ie)"/>
<path d="M325.9 280.5L350.1 299.8L339.5 277.6Z" fill="url(#e1if)" stroke="url(#e1if)"/>
<path d="M312.3 283.4L322.9 304.3L336.5 302.1Z" fill="url(#e1ig)" stroke="url(#e1ig)"/>
<path d="M312.3 283.4L336.5 302.1L325.9 280.5Z" fill="url(#e1ih)" stroke="url(#e1ih)"/>
<path d="M298.7 286.2L309.2 306.6L322.9 304.3Z" fill="url(#e1ii)" stroke="url(#e1ii)"/>
<path d="M298.7 286.2L322.9 304.3L312.3 283.4Z" fill="url(#e1ij)" stroke="url(#e1ij)"/>
<path d="M285.1 289.1L295.6 308.8L309.2 306.6Z" fill="url(#e1ik)" stroke="url(#e1ik)"/>
<path d="M285.1 289.1L309.2 306.6L298.7 286.2Z" fill="url(#e1il)" stroke="url(#e1il)"/>
<path d="M271.4 292L282 311L295.6 308.8Z" fill="url(#e1im)" stroke="url(#e1im)"/>
<path d="M271.4 292L295.6 308.8L285.1 289.1Z" fill="url(#e1in)" stroke="url(#e1in)"/></g>
<line x1="81.4" y1="360.2" x2="81.4" y2="125.5" stroke="#262626" stroke-width="1.1"/>
<line x1="81.4" y1="360.2" x2="282" y2="432.5" stroke="#262626" stroke-width="1.1"/>
<line x1="282" y1="432.5" x2="540.8" y2="376.1" stroke="#262626" stroke-width="1.1"/>
<line x1="81.4" y1="360.2" x2="74.8" y2="361.6" stroke="#262626" stroke-width="1.1"/>
<text x="64.4" y="377.9" font-size="14.4" text-anchor="middle" fill="#262626">4</text>
<line x1="131.6" y1="378.3" x2="124.9" y2="379.7" stroke="#262626" stroke-width="1.1"/>
<text x="114.6" y="396" font-size="14.4" text-anchor="middle" fill="#262626">2</text>
<line x1="181.7" y1="396.4" x2="175.1" y2="397.8" stroke="#262626" stroke-width="1.1"/>
<text x="164.7" y="414.1" font-size="14.4" text-anchor="middle" fill="#262626">0</text>
<line x1="231.8" y1="414.4" x2="225.2" y2="415.9" stroke="#262626" stroke-width="1.1"/>
<text x="213.2" y="432.5" font-size="14.4" text-anchor="middle" fill="#262626">-2</text>
<line x1="282" y1="432.5" x2="275.4" y2="433.9" stroke="#262626" stroke-width="1.1"/>
<text x="263.4" y="450.6" font-size="14.4" text-anchor="middle" fill="#262626">-4</text>
<line x1="282" y1="432.5" x2="288.4" y2="434.8" stroke="#262626" stroke-width="1.1"/>
<text x="300" y="452.4" font-size="14.4" text-anchor="middle" fill="#262626">-4</text>
<line x1="346.7" y1="418.4" x2="353.1" y2="420.7" stroke="#262626" stroke-width="1.1"/>
<text x="364.7" y="438.3" font-size="14.4" text-anchor="middle" fill="#262626">-2</text>
<line x1="411.4" y1="404.3" x2="417.8" y2="406.6" stroke="#262626" stroke-width="1.1"/>
<text x="427.4" y="423.7" font-size="14.4" text-anchor="middle" fill="#262626">0</text>
<line x1="476.1" y1="390.2" x2="482.5" y2="392.5" stroke="#262626" stroke-width="1.1"/>
<text x="492.1" y="409.6" font-size="14.4" text-anchor="middle" fill="#262626">2</text>
<line x1="540.8" y1="376.1" x2="547.2" y2="378.4" stroke="#262626" stroke-width="1.1"/>
<text x="556.8" y="395.5" font-size="14.4" text-anchor="middle" fill="#262626">4</text>
<line x1="81.4" y1="360.2" x2="75" y2="357.9" stroke="#262626" stroke-width="1.1"/>
<text x="69" y="361.9" font-size="14.4" text-anchor="end" fill="#262626">-2</text>
<line x1="81.4" y1="301.5" x2="75" y2="299.2" stroke="#262626" stroke-width="1.1"/>
<text x="69" y="303.2" font-size="14.4" text-anchor="end" fill="#262626">-1</text>
<line x1="81.4" y1="242.8" x2="75" y2="240.5" stroke="#262626" stroke-width="1.1"/>
<text x="69" y="244.5" font-size="14.4" text-anchor="end" fill="#262626">0</text>
<line x1="81.4" y1="184.2" x2="75" y2="181.9" stroke="#262626" stroke-width="1.1"/>
<text x="69" y="185.9" font-size="14.4" text-anchor="end" fill="#262626">1</text>
<line x1="81.4" y1="125.5" x2="75" y2="123.2" stroke="#262626" stroke-width="1.1"/>
<text x="69" y="127.2" font-size="14.4" text-anchor="end" fill="#262626">2</text>
<text x="76.7" y="103.7" font-size="14.4" text-anchor="end" fill="#262626"><tspan font-size="18" fill="#555" dy="1">×</tspan><tspan dy="-1">10</tspan><tspan font-size="11" dy="-6.8" dx="1">19</tspan></text>
<text x="334.7" y="24.9" font-size="29" font-weight="bold" text-anchor="middle" fill="#000">(a<tspan font-size="22" dy="14.3">1</tspan><tspan dy="-14.3">)</tspan></text>
<text x="191.2" y="472" font-size="28" text-anchor="middle" fill="#262626">t</text>
<text x="389.9" y="474.9" font-size="28" text-anchor="middle" fill="#262626">x</text>
<text transform="translate(32.7 243.2) rotate(-90)" font-size="28" letter-spacing="0.9" text-anchor="middle" fill="#262626">U<tspan font-size="23" dy="14.5">68</tspan><tspan dy="-14.5">(x,t)</tspan></text>
</g>
<g id="s2">
<line x1="749.7" y1="330.4" x2="949.8" y2="416.2" stroke="#e4e4e4" stroke-width="1"/>
<line x1="834.8" y1="410.9" x2="1094.6" y2="346.1" stroke="#e4e4e4" stroke-width="1"/>
<line x1="749.7" y1="330.4" x2="749.7" y2="118.7" stroke="#e4e4e4" stroke-width="1"/>
<line x1="1094.6" y1="346.1" x2="1094.6" y2="134.3" stroke="#e4e4e4" stroke-width="1"/>
<line x1="814.6" y1="314.2" x2="1014.7" y2="399.9" stroke="#e4e4e4" stroke-width="1"/>
<line x1="784.8" y1="389.5" x2="1044.5" y2="324.6" stroke="#e4e4e4" stroke-width="1"/>
<line x1="814.6" y1="314.2" x2="814.6" y2="102.5" stroke="#e4e4e4" stroke-width="1"/>
<line x1="1044.5" y1="324.6" x2="1044.5" y2="112.9" stroke="#e4e4e4" stroke-width="1"/>
<line x1="879.5" y1="297.9" x2="1079.6" y2="383.7" stroke="#e4e4e4" stroke-width="1"/>
<line x1="734.7" y1="368.1" x2="994.5" y2="303.2" stroke="#e4e4e4" stroke-width="1"/>
<line x1="879.5" y1="297.9" x2="879.5" y2="86.2" stroke="#e4e4e4" stroke-width="1"/>
<line x1="994.5" y1="303.2" x2="994.5" y2="91.5" stroke="#e4e4e4" stroke-width="1"/>
<line x1="684.7" y1="293.7" x2="944.5" y2="228.8" stroke="#e4e4e4" stroke-width="1"/>
<line x1="944.5" y1="228.8" x2="1144.6" y2="314.6" stroke="#e4e4e4" stroke-width="1"/>
<line x1="684.7" y1="240.8" x2="944.5" y2="175.9" stroke="#e4e4e4" stroke-width="1"/>
<line x1="944.5" y1="175.9" x2="1144.6" y2="261.6" stroke="#e4e4e4" stroke-width="1"/>
<line x1="684.7" y1="187.8" x2="944.5" y2="122.9" stroke="#e4e4e4" stroke-width="1"/>
<line x1="944.5" y1="122.9" x2="1144.6" y2="208.7" stroke="#e4e4e4" stroke-width="1"/>
<line x1="684.7" y1="346.6" x2="944.5" y2="281.7" stroke="#dcdcdc" stroke-width="1"/>
<line x1="944.5" y1="281.7" x2="1144.6" y2="367.5" stroke="#dcdcdc" stroke-width="1"/>
<line x1="944.5" y1="281.7" x2="944.5" y2="70" stroke="#dcdcdc" stroke-width="1"/>
<line x1="684.7" y1="134.9" x2="944.5" y2="70" stroke="#dcdcdc" stroke-width="1"/>
<line x1="944.5" y1="70" x2="1144.6" y2="155.8" stroke="#dcdcdc" stroke-width="1"/>
<line x1="1144.6" y1="367.5" x2="1144.6" y2="155.8" stroke="#dcdcdc" stroke-width="1"/>
<g stroke-linejoin="round" stroke-width="0.6"><path d="M930.8 179.3L941.4 183.8L955 180.4ZM930.8 179.3L955 180.4L944.5 175.9ZM917.2 182.7L927.7 187.2L941.4 183.8ZM917.2 182.7L941.4 183.8L930.8 179.3ZM903.5 186.1L914 190.6L927.7 187.2ZM903.5 186.1L927.7 187.2L917.2 182.7ZM889.8 189.5L900.3 194L914 190.6ZM889.8 189.5L914 190.6L903.5 186.1ZM876.1 192.9L886.7 197.4L900.3 194ZM876.1 192.9L900.3 194L889.8 189.5ZM862.5 196.3L873 200.9L886.7 197.4ZM862.5 196.3L886.7 197.4L876.1 192.9ZM848.8 199.8L859.3 204.3L873 200.9ZM848.8 199.8L873 200.9L862.5 196.3ZM835.1 203.2L845.6 207.7L859.3 204.3ZM835.1 203.2L859.3 204.3L848.8 199.8ZM821.4 206.6L845.6 207.7L835.1 203.2ZM941.4 183.8L951.9 188.3L965.6 184.9ZM941.4 183.8L965.6 184.9L955 180.4ZM927.7 187.2L938.2 191.7L951.9 188.3ZM927.7 187.2L951.9 188.3L941.4 183.8ZM914 190.6L924.5 195.1L938.2 191.7ZM914 190.6L938.2 191.7L927.7 187.2ZM900.3 194L910.9 198.5L924.5 195.1ZM900.3 194L924.5 195.1L914 190.6ZM886.7 197.4L897.2 202L910.9 198.5ZM886.7 197.4L910.9 198.5L900.3 194ZM873 200.9L883.5 205.4L897.2 202ZM873 200.9L897.2 202L886.7 197.4ZM859.3 204.3L869.8 208.8L883.5 205.4ZM859.3 204.3L883.5 205.4L873 200.9ZM845.6 207.7L856.2 212.2L869.8 208.8ZM845.6 207.7L869.8 208.8L859.3 204.3ZM951.9 188.3L962.4 192.8L976.1 189.4ZM951.9 188.3L976.1 189.4L965.6 184.9ZM938.2 191.7L948.7 196.2L962.4 192.8ZM938.2 191.7L962.4 192.8L951.9 188.3ZM924.5 195.1L935.1 199.6L948.7 196.2ZM924.5 195.1L948.7 196.2L938.2 191.7ZM910.9 198.5L921.4 203.1L935.1 199.6ZM910.9 198.5L935.1 199.6L924.5 195.1ZM897.2 202L907.7 206.5L921.4 203.1ZM897.2 202L921.4 203.1L910.9 198.5ZM883.5 205.4L894.1 209.9L907.7 206.5ZM883.5 205.4L907.7 206.5L897.2 202ZM869.8 208.8L880.4 213.3L894.1 209.9ZM869.8 208.8L894.1 209.9L883.5 205.4ZM856.2 212.2L866.7 216.7L880.4 213.3ZM856.2 212.2L880.4 213.3L869.8 208.8ZM962.4 192.8L973 197.3L986.6 193.9ZM962.4 192.8L986.6 193.9L976.1 189.4ZM948.7 196.2L959.3 200.7L973 197.3ZM948.7 196.2L973 197.3L962.4 192.8ZM935.1 199.6L945.6 204.2L959.3 200.7ZM935.1 199.6L959.3 200.7L948.7 196.2ZM921.4 203.1L931.9 207.6L945.6 204.2ZM921.4 203.1L945.6 204.2L935.1 199.6ZM907.7 206.5L918.3 211L931.9 207.6ZM907.7 206.5L931.9 207.6L921.4 203.1ZM894.1 209.9L904.6 214.4L918.3 211ZM894.1 209.9L918.3 211L907.7 206.5ZM880.4 213.3L890.9 217.8L904.6 214.4ZM880.4 213.3L904.6 214.4L894.1 209.9ZM866.7 216.7L877.2 221.2L890.9 217.8ZM866.7 216.7L890.9 217.8L880.4 213.3ZM973 197.3L983.5 201.8L997.2 198.4ZM973 197.3L997.2 198.4L986.6 193.9ZM959.3 200.7L969.8 205.3L983.5 201.8ZM959.3 200.7L983.5 201.8L973 197.3ZM945.6 204.2L956.1 208.7L969.8 205.3ZM945.6 204.2L969.8 205.3L959.3 200.7ZM931.9 207.6L942.5 212.1L956.1 208.7ZM931.9 207.6L956.1 208.7L945.6 204.2ZM918.3 211L928.8 215.5L942.5 212.1ZM918.3 211L942.5 212.1L931.9 207.6ZM904.6 214.4L915.1 218.9L928.8 215.5ZM904.6 214.4L928.8 215.5L918.3 211ZM890.9 217.8L901.4 222.3L915.1 218.9ZM890.9 217.8L915.1 218.9L904.6 214.4ZM877.2 221.2L887.8 225.8L901.4 222.3ZM877.2 221.2L901.4 222.3L890.9 217.8ZM983.5 201.8L994 206.4L1007.7 202.9ZM983.5 201.8L1007.7 202.9L997.2 198.4ZM969.8 205.3L980.3 209.8L994 206.4ZM969.8 205.3L994 206.4L983.5 201.8ZM956.1 208.7L966.7 213.2L980.3 209.8ZM956.1 208.7L980.3 209.8L969.8 205.3ZM942.5 212.1L953 216.6L966.7 213.2ZM942.5 212.1L966.7 213.2L956.1 208.7ZM928.8 215.5L939.3 220L953 216.6ZM928.8 215.5L953 216.6L942.5 212.1ZM915.1 218.9L925.6 223.4L939.3 220ZM915.1 218.9L939.3 220L928.8 215.5ZM901.4 222.3L912 226.9L925.6 223.4ZM901.4 222.3L925.6 223.4L915.1 218.9ZM887.8 225.8L898.3 230.3L912 226.9ZM887.8 225.8L912 226.9L901.4 222.3ZM874.1 229.2L884.6 233.7L898.3 230.3ZM874.1 229.2L898.3 230.3L887.8 225.8ZM792.1 249.7L802.6 254.2L816.3 250.8ZM994 206.4L1004.5 210.9L1018.2 207.5ZM994 206.4L1018.2 207.5L1007.7 202.9ZM980.3 209.8L990.9 214.3L1004.5 210.9ZM980.3 209.8L1004.5 210.9L994 206.4ZM966.7 213.2L977.2 217.7L990.9 214.3ZM966.7 213.2L990.9 214.3L980.3 209.8ZM953 216.6L963.5 221.1L977.2 217.7ZM953 216.6L977.2 217.7L966.7 213.2ZM939.3 220L949.9 224.5L963.5 221.1ZM939.3 220L963.5 221.1L953 216.6ZM925.6 223.4L936.2 228L949.9 224.5ZM925.6 223.4L949.9 224.5L939.3 220ZM912 226.9L922.5 231.4L936.2 228ZM912 226.9L936.2 228L925.6 223.4ZM898.3 230.3L908.8 234.8L922.5 231.4ZM898.3 230.3L922.5 231.4L912 226.9ZM884.6 233.7L895.2 238.2L908.8 234.8ZM884.6 233.7L908.8 234.8L898.3 230.3ZM871 237.1L881.5 241.6L895.2 238.2ZM871 237.1L895.2 238.2L884.6 233.7ZM816.3 250.8L826.8 255.3L840.5 251.9ZM802.6 254.2L813.1 258.7L826.8 255.3ZM802.6 254.2L826.8 255.3L816.3 250.8ZM1004.5 210.9L1015.1 215.4L1028.8 212ZM1004.5 210.9L1028.8 212L1018.2 207.5ZM990.9 214.3L1001.4 218.8L1015.1 215.4ZM990.9 214.3L1015.1 215.4L1004.5 210.9ZM977.2 217.7L987.7 222.2L1001.4 218.8ZM977.2 217.7L1001.4 218.8L990.9 214.3ZM963.5 221.1L974.1 225.6L987.7 222.2ZM963.5 221.1L987.7 222.2L977.2 217.7ZM949.9 224.5L960.4 229.1L974.1 225.6ZM949.9 224.5L974.1 225.6L963.5 221.1ZM936.2 228L946.7 232.5L960.4 229.1ZM936.2 228L960.4 229.1L949.9 224.5ZM922.5 231.4L933 235.9L946.7 232.5ZM922.5 231.4L946.7 232.5L936.2 228ZM908.8 234.8L919.4 239.3L933 235.9ZM908.8 234.8L933 235.9L922.5 231.4ZM895.2 238.2L905.7 242.7L919.4 239.3ZM895.2 238.2L919.4 239.3L908.8 234.8ZM881.5 241.6L892 246.1L905.7 242.7ZM881.5 241.6L905.7 242.7L895.2 238.2ZM867.8 245L878.3 249.6L892 246.1ZM867.8 245L892 246.1L881.5 241.6ZM840.5 251.9L851 256.4L864.7 253ZM826.8 255.3L837.3 259.8L851 256.4ZM826.8 255.3L851 256.4L840.5 251.9ZM813.1 258.7L823.6 263.2L837.3 259.8ZM813.1 258.7L837.3 259.8L826.8 255.3ZM1015.1 215.4L1025.6 219.9L1039.3 216.5ZM1015.1 215.4L1039.3 216.5L1028.8 212ZM1001.4 218.8L1011.9 223.3L1025.6 219.9ZM1001.4 218.8L1025.6 219.9L1015.1 215.4ZM987.7 222.2L998.3 226.7L1011.9 223.3ZM987.7 222.2L1011.9 223.3L1001.4 218.8ZM974.1 225.6L984.6 230.2L998.3 226.7ZM974.1 225.6L998.3 226.7L987.7 222.2ZM960.4 229.1L970.9 233.6L984.6 230.2ZM960.4 229.1L984.6 230.2L974.1 225.6ZM946.7 232.5L957.2 237L970.9 233.6ZM946.7 232.5L970.9 233.6L960.4 229.1ZM933 235.9L943.6 240.4L957.2 237ZM933 235.9L957.2 237L946.7 232.5ZM919.4 239.3L929.9 243.8L943.6 240.4ZM919.4 239.3L943.6 240.4L933 235.9ZM905.7 242.7L916.2 247.2L929.9 243.8ZM905.7 242.7L929.9 243.8L919.4 239.3ZM892 246.1L902.5 250.6L916.2 247.2ZM892 246.1L916.2 247.2L905.7 242.7ZM878.3 249.6L888.9 254.1L902.5 250.6ZM878.3 249.6L902.5 250.6L892 246.1ZM864.7 253L875.2 257.5L888.9 254.1ZM864.7 253L888.9 254.1L878.3 249.6ZM851 256.4L861.5 260.9L875.2 257.5ZM851 256.4L875.2 257.5L864.7 253ZM837.3 259.8L847.9 264.3L861.5 260.9ZM837.3 259.8L861.5 260.9L851 256.4ZM823.6 263.2L834.2 267.7L847.9 264.3ZM823.6 263.2L847.9 264.3L837.3 259.8ZM810 266.6L820.5 271.1L834.2 267.7ZM810 266.6L834.2 267.7L823.6 263.2ZM796.3 270L806.8 274.6L820.5 271.1ZM796.3 270L820.5 271.1L810 266.6ZM782.6 273.5L793.2 278L806.8 274.6ZM782.6 273.5L806.8 274.6L796.3 270ZM769 276.9L779.5 281.4L793.2 278ZM769 276.9L793.2 278L782.6 273.5ZM1025.6 219.9L1036.1 224.4L1049.8 221ZM1025.6 219.9L1049.8 221L1039.3 216.5ZM1011.9 223.3L1022.5 227.8L1036.1 224.4ZM1011.9 223.3L1036.1 224.4L1025.6 219.9ZM998.3 226.7L1008.8 231.3L1022.5 227.8ZM998.3 226.7L1022.5 227.8L1011.9 223.3ZM984.6 230.2L995.1 234.7L1008.8 231.3ZM984.6 230.2L1008.8 231.3L998.3 226.7ZM970.9 233.6L981.4 238.1L995.1 234.7ZM970.9 233.6L995.1 234.7L984.6 230.2ZM957.2 237L967.8 241.5L981.4 238.1ZM957.2 237L981.4 238.1L970.9 233.6ZM943.6 240.4L954.1 244.9L967.8 241.5ZM943.6 240.4L967.8 241.5L957.2 237ZM929.9 243.8L940.4 248.3L954.1 244.9ZM929.9 243.8L954.1 244.9L943.6 240.4ZM916.2 247.2L926.8 251.8L940.4 248.3ZM916.2 247.2L940.4 248.3L929.9 243.8ZM902.5 250.6L913.1 255.2L926.8 251.8ZM902.5 250.6L926.8 251.8L916.2 247.2ZM888.9 254.1L899.4 258.6L913.1 255.2ZM888.9 254.1L913.1 255.2L902.5 250.6ZM875.2 257.5L885.7 262L899.4 258.6ZM875.2 257.5L899.4 258.6L888.9 254.1ZM861.5 260.9L872.1 265.4L885.7 262ZM861.5 260.9L885.7 262L875.2 257.5ZM847.9 264.3L858.4 268.8L872.1 265.4ZM847.9 264.3L872.1 265.4L861.5 260.9ZM834.2 267.7L844.7 272.2L858.4 268.8ZM834.2 267.7L858.4 268.8L847.9 264.3ZM820.5 271.1L831 275.7L844.7 272.2ZM820.5 271.1L844.7 272.2L834.2 267.7ZM806.8 274.6L817.4 279.1L831 275.7ZM806.8 274.6L831 275.7L820.5 271.1ZM793.2 278L803.7 282.5L817.4 279.1ZM793.2 278L817.4 279.1L806.8 274.6ZM779.5 281.4L790 285.9L803.7 282.5ZM779.5 281.4L803.7 282.5L793.2 278ZM1036.1 224.4L1046.7 228.9L1060.3 225.5ZM1036.1 224.4L1060.3 225.5L1049.8 221ZM1022.5 227.8L1033 232.4L1046.7 228.9ZM1022.5 227.8L1046.7 228.9L1036.1 224.4ZM1008.8 231.3L1019.3 235.8L1033 232.4ZM1008.8 231.3L1033 232.4L1022.5 227.8ZM995.1 234.7L1005.7 239.2L1019.3 235.8ZM995.1 234.7L1019.3 235.8L1008.8 231.3ZM981.4 238.1L992 242.6L1005.7 239.2ZM981.4 238.1L1005.7 239.2L995.1 234.7ZM967.8 241.5L978.3 246L992 242.6ZM967.8 241.5L992 242.6L981.4 238.1ZM954.1 244.9L964.6 249.4L978.3 246ZM954.1 244.9L978.3 246L967.8 241.5ZM940.4 248.3L951 252.8L964.6 249.4ZM940.4 248.3L964.6 249.4L954.1 244.9ZM926.8 251.8L937.3 256.3L951 252.8ZM926.8 251.8L951 252.8L940.4 248.3ZM913.1 255.2L923.6 259.7L937.3 256.3ZM913.1 255.2L937.3 256.3L926.8 251.8ZM899.4 258.6L909.9 263.1L923.6 259.7ZM899.4 258.6L923.6 259.7L913.1 255.2ZM885.7 262L896.3 266.5L909.9 263.1ZM885.7 262L909.9 263.1L899.4 258.6ZM872.1 265.4L882.6 269.9L896.3 266.5ZM872.1 265.4L896.3 266.5L885.7 262ZM858.4 268.8L868.9 273.3L882.6 269.9ZM858.4 268.8L882.6 269.9L872.1 265.4ZM844.7 272.2L855.2 276.8L868.9 273.3ZM844.7 272.2L868.9 273.3L858.4 268.8ZM831 275.7L841.6 280.2L855.2 276.8ZM831 275.7L855.2 276.8L844.7 272.2ZM817.4 279.1L827.9 283.6L841.6 280.2ZM817.4 279.1L841.6 280.2L831 275.7ZM803.7 282.5L814.2 287L827.9 283.6ZM803.7 282.5L827.9 283.6L817.4 279.1ZM790 285.9L800.5 290.4L814.2 287ZM790 285.9L814.2 287L803.7 282.5ZM1046.7 228.9L1057.2 233.5L1070.9 230ZM1046.7 228.9L1070.9 230L1060.3 225.5ZM1033 232.4L1043.5 236.9L1057.2 233.5ZM1033 232.4L1057.2 233.5L1046.7 228.9ZM1019.3 235.8L1029.9 240.3L1043.5 236.9ZM1019.3 235.8L1043.5 236.9L1033 232.4ZM1005.7 239.2L1016.2 243.7L1029.9 240.3ZM1005.7 239.2L1029.9 240.3L1019.3 235.8ZM992 242.6L1002.5 247.1L1016.2 243.7ZM992 242.6L1016.2 243.7L1005.7 239.2ZM978.3 246L988.8 250.5L1002.5 247.1ZM978.3 246L1002.5 247.1L992 242.6ZM964.6 249.4L975.2 253.9L988.8 250.5ZM964.6 249.4L988.8 250.5L978.3 246ZM951 252.8L961.5 257.4L975.2 253.9ZM951 252.8L975.2 253.9L964.6 249.4ZM937.3 256.3L947.8 260.8L961.5 257.4ZM937.3 256.3L961.5 257.4L951 252.8ZM923.6 259.7L934.1 264.2L947.8 260.8ZM923.6 259.7L947.8 260.8L937.3 256.3ZM909.9 263.1L920.5 267.6L934.1 264.2ZM909.9 263.1L934.1 264.2L923.6 259.7ZM896.3 266.5L906.8 271L920.5 267.6ZM896.3 266.5L920.5 267.6L909.9 263.1ZM882.6 269.9L893.1 274.4L906.8 271ZM882.6 269.9L906.8 271L896.3 266.5ZM868.9 273.3L879.4 277.9L893.1 274.4ZM868.9 273.3L893.1 274.4L882.6 269.9ZM855.2 276.8L865.8 281.3L879.4 277.9ZM855.2 276.8L879.4 277.9L868.9 273.3ZM841.6 280.2L852.1 284.7L865.8 281.3ZM841.6 280.2L865.8 281.3L855.2 276.8ZM827.9 283.6L838.4 288.1L852.1 284.7ZM827.9 283.6L852.1 284.7L841.6 280.2ZM814.2 287L824.8 291.5L838.4 288.1ZM814.2 287L838.4 288.1L827.9 283.6ZM800.5 290.4L811.1 294.9L824.8 291.5ZM800.5 290.4L824.8 291.5L814.2 287ZM1057.2 233.5L1067.7 238L1081.4 234.6ZM1057.2 233.5L1081.4 234.6L1070.9 230ZM1043.5 236.9L1054.1 241.4L1067.7 238ZM1043.5 236.9L1067.7 238L1057.2 233.5ZM1029.9 240.3L1040.4 244.8L1054.1 241.4ZM1029.9 240.3L1054.1 241.4L1043.5 236.9ZM1016.2 243.7L1026.7 248.2L1040.4 244.8ZM1016.2 243.7L1040.4 244.8L1029.9 240.3ZM1002.5 247.1L1013 251.6L1026.7 248.2ZM1002.5 247.1L1026.7 248.2L1016.2 243.7ZM988.8 250.5L999.4 255.1L1013 251.6ZM988.8 250.5L1013 251.6L1002.5 247.1ZM975.2 253.9L985.7 258.5L999.4 255.1ZM975.2 253.9L999.4 255.1L988.8 250.5ZM961.5 257.4L972 261.9L985.7 258.5ZM961.5 257.4L985.7 258.5L975.2 253.9ZM947.8 260.8L958.3 265.3L972 261.9ZM947.8 260.8L972 261.9L961.5 257.4ZM934.1 264.2L944.7 268.7L958.3 265.3ZM934.1 264.2L958.3 265.3L947.8 260.8ZM920.5 267.6L931 272.1L944.7 268.7ZM920.5 267.6L944.7 268.7L934.1 264.2ZM906.8 271L917.3 275.5L931 272.1ZM906.8 271L931 272.1L920.5 267.6ZM893.1 274.4L903.7 279L917.3 275.5ZM893.1 274.4L917.3 275.5L906.8 271ZM879.4 277.9L890 282.4L903.7 279ZM879.4 277.9L903.7 279L893.1 274.4ZM865.8 281.3L876.3 285.8L890 282.4ZM865.8 281.3L890 282.4L879.4 277.9ZM852.1 284.7L862.6 289.2L876.3 285.8ZM852.1 284.7L876.3 285.8L865.8 281.3ZM838.4 288.1L849 292.6L862.6 289.2ZM838.4 288.1L862.6 289.2L852.1 284.7ZM824.8 291.5L835.3 296L849 292.6ZM824.8 291.5L849 292.6L838.4 288.1ZM811.1 294.9L821.6 299.5L835.3 296ZM811.1 294.9L835.3 296L824.8 291.5ZM1067.7 238L1078.3 242.5L1091.9 239.1ZM1067.7 238L1091.9 239.1L1081.4 234.6ZM1054.1 241.4L1064.6 245.9L1078.3 242.5ZM1054.1 241.4L1078.3 242.5L1067.7 238ZM1040.4 244.8L1050.9 249.3L1064.6 245.9ZM1040.4 244.8L1064.6 245.9L1054.1 241.4ZM1026.7 248.2L1037.2 252.7L1050.9 249.3ZM1026.7 248.2L1050.9 249.3L1040.4 244.8ZM1013 251.6L1023.6 256.1L1037.2 252.7ZM1013 251.6L1037.2 252.7L1026.7 248.2ZM999.4 255.1L1009.9 259.6L1023.6 256.1ZM999.4 255.1L1023.6 256.1L1013 251.6ZM985.7 258.5L996.2 263L1009.9 259.6ZM985.7 258.5L1009.9 259.6L999.4 255.1ZM972 261.9L982.6 266.4L996.2 263ZM972 261.9L996.2 263L985.7 258.5ZM958.3 265.3L968.9 269.8L982.6 266.4ZM958.3 265.3L982.6 266.4L972 261.9ZM944.7 268.7L955.2 273.2L968.9 269.8ZM944.7 268.7L968.9 269.8L958.3 265.3ZM931 272.1L941.5 276.6L955.2 273.2ZM931 272.1L955.2 273.2L944.7 268.7ZM917.3 275.5L927.9 280.1L941.5 276.6ZM917.3 275.5L941.5 276.6L931 272.1ZM903.7 279L914.2 283.5L927.9 280.1ZM903.7 279L927.9 280.1L917.3 275.5ZM890 282.4L900.5 286.9L914.2 283.5ZM890 282.4L914.2 283.5L903.7 279ZM876.3 285.8L886.8 290.3L900.5 286.9ZM876.3 285.8L900.5 286.9L890 282.4ZM862.6 289.2L873.2 293.7L886.8 290.3ZM862.6 289.2L886.8 290.3L876.3 285.8ZM849 292.6L859.5 297.1L873.2 293.7ZM849 292.6L873.2 293.7L862.6 289.2ZM835.3 296L845.8 300.6L859.5 297.1ZM835.3 296L859.5 297.1L849 292.6ZM821.6 299.5L832.1 304L845.8 300.6ZM821.6 299.5L845.8 300.6L835.3 296ZM1078.3 242.5L1088.8 247L1102.5 243.6ZM1078.3 242.5L1102.5 243.6L1091.9 239.1ZM1064.6 245.9L1075.1 250.4L1088.8 247ZM1064.6 245.9L1088.8 247L1078.3 242.5ZM1050.9 249.3L1061.5 253.8L1075.1 250.4ZM1050.9 249.3L1075.1 250.4L1064.6 245.9ZM1037.2 252.7L1047.8 257.2L1061.5 253.8ZM1037.2 252.7L1061.5 253.8L1050.9 249.3ZM1023.6 256.1L1034.1 260.7L1047.8 257.2ZM1023.6 256.1L1047.8 257.2L1037.2 252.7ZM1009.9 259.6L1020.4 264.1L1034.1 260.7ZM1009.9 259.6L1034.1 260.7L1023.6 256.1ZM996.2 263L1006.8 267.5L1020.4 264.1ZM996.2 263L1020.4 264.1L1009.9 259.6ZM982.6 266.4L993.1 270.9L1006.8 267.5ZM982.6 266.4L1006.8 267.5L996.2 263ZM968.9 269.8L979.4 274.3L993.1 270.9ZM968.9 269.8L993.1 270.9L982.6 266.4ZM955.2 273.2L965.7 277.7L979.4 274.3ZM955.2 273.2L979.4 274.3L968.9 269.8ZM941.5 276.6L952.1 281.2L965.7 277.7ZM941.5 276.6L965.7 277.7L955.2 273.2ZM927.9 280.1L938.4 284.6L952.1 281.2ZM927.9 280.1L952.1 281.2L941.5 276.6ZM914.2 283.5L924.7 288L938.4 284.6ZM914.2 283.5L938.4 284.6L927.9 280.1ZM900.5 286.9L911 291.4L924.7 288ZM900.5 286.9L924.7 288L914.2 283.5ZM886.8 290.3L897.4 294.8L911 291.4ZM886.8 290.3L911 291.4L900.5 286.9ZM873.2 293.7L883.7 298.2L897.4 294.8ZM873.2 293.7L897.4 294.8L886.8 290.3ZM859.5 297.1L870 301.7L883.7 298.2ZM859.5 297.1L883.7 298.2L873.2 293.7ZM845.8 300.6L856.3 305.1L870 301.7ZM845.8 300.6L870 301.7L859.5 297.1ZM832.1 304L842.7 308.5L856.3 305.1ZM832.1 304L856.3 305.1L845.8 300.6ZM1088.8 247L1099.3 251.5L1113 248.1ZM1088.8 247L1113 248.1L1102.5 243.6ZM1075.1 250.4L1085.7 254.9L1099.3 251.5ZM1075.1 250.4L1099.3 251.5L1088.8 247ZM1061.5 253.8L1072 258.3L1085.7 254.9ZM1061.5 253.8L1085.7 254.9L1075.1 250.4ZM1047.8 257.2L1058.3 261.8L1072 258.3ZM1047.8 257.2L1072 258.3L1061.5 253.8ZM1034.1 260.7L1044.6 265.2L1058.3 261.8ZM1034.1 260.7L1058.3 261.8L1047.8 257.2ZM1020.4 264.1L1031 268.6L1044.6 265.2ZM1020.4 264.1L1044.6 265.2L1034.1 260.7ZM1006.8 267.5L1017.3 272L1031 268.6ZM1006.8 267.5L1031 268.6L1020.4 264.1ZM993.1 270.9L1003.6 275.4L1017.3 272ZM993.1 270.9L1017.3 272L1006.8 267.5ZM979.4 274.3L989.9 278.8L1003.6 275.4ZM979.4 274.3L1003.6 275.4L993.1 270.9ZM965.7 277.7L976.3 282.3L989.9 278.8ZM965.7 277.7L989.9 278.8L979.4 274.3ZM952.1 281.2L962.6 285.7L976.3 282.3ZM952.1 281.2L976.3 282.3L965.7 277.7ZM938.4 284.6L948.9 289.1L962.6 285.7ZM938.4 284.6L962.6 285.7L952.1 281.2ZM924.7 288L935.2 292.5L948.9 289.1ZM924.7 288L948.9 289.1L938.4 284.6ZM911 291.4L921.6 295.9L935.2 292.5ZM911 291.4L935.2 292.5L924.7 288ZM897.4 294.8L907.9 299.3L921.6 295.9ZM897.4 294.8L921.6 295.9L911 291.4ZM883.7 298.2L894.2 302.8L907.9 299.3ZM883.7 298.2L907.9 299.3L897.4 294.8ZM870 301.7L880.6 306.2L894.2 302.8ZM870 301.7L894.2 302.8L883.7 298.2ZM856.3 305.1L866.9 309.6L880.6 306.2ZM856.3 305.1L880.6 306.2L870 301.7ZM842.7 308.5L853.2 313L866.9 309.6ZM842.7 308.5L866.9 309.6L856.3 305.1ZM1099.3 251.5L1109.9 256L1123.5 252.6ZM1099.3 251.5L1123.5 252.6L1113 248.1ZM1085.7 254.9L1096.2 259.4L1109.9 256ZM1085.7 254.9L1109.9 256L1099.3 251.5ZM1072 258.3L1082.5 262.9L1096.2 259.4ZM1072 258.3L1096.2 259.4L1085.7 254.9ZM1058.3 261.8L1068.8 266.3L1082.5 262.9ZM1058.3 261.8L1082.5 262.9L1072 258.3ZM1044.6 265.2L1055.2 269.7L1068.8 266.3ZM1044.6 265.2L1068.8 266.3L1058.3 261.8ZM1031 268.6L1041.5 273.1L1055.2 269.7ZM1031 268.6L1055.2 269.7L1044.6 265.2ZM1017.3 272L1027.8 276.5L1041.5 273.1ZM1017.3 272L1041.5 273.1L1031 268.6ZM1003.6 275.4L1014.1 279.9L1027.8 276.5ZM1003.6 275.4L1027.8 276.5L1017.3 272ZM989.9 278.8L1000.5 283.4L1014.1 279.9ZM989.9 278.8L1014.1 279.9L1003.6 275.4ZM976.3 282.3L986.8 286.8L1000.5 283.4ZM976.3 282.3L1000.5 283.4L989.9 278.8ZM962.6 285.7L973.1 290.2L986.8 286.8ZM962.6 285.7L986.8 286.8L976.3 282.3ZM948.9 289.1L959.5 293.6L973.1 290.2ZM948.9 289.1L973.1 290.2L962.6 285.7ZM935.2 292.5L945.8 297L959.5 293.6ZM935.2 292.5L959.5 293.6L948.9 289.1ZM921.6 295.9L932.1 300.4L945.8 297ZM921.6 295.9L945.8 297L935.2 292.5ZM907.9 299.3L918.4 303.9L932.1 300.4ZM907.9 299.3L932.1 300.4L921.6 295.9ZM894.2 302.8L904.8 307.3L918.4 303.9ZM894.2 302.8L918.4 303.9L907.9 299.3ZM880.6 306.2L891.1 310.7L904.8 307.3ZM880.6 306.2L904.8 307.3L894.2 302.8ZM866.9 309.6L877.4 314.1L891.1 310.7ZM866.9 309.6L891.1 310.7L880.6 306.2ZM853.2 313L863.7 317.5L877.4 314.1ZM853.2 313L877.4 314.1L866.9 309.6ZM1109.9 256L1120.4 260.5L1134.1 257.1ZM1109.9 256L1134.1 257.1L1123.5 252.6ZM1096.2 259.4L1106.7 264L1120.4 260.5ZM1096.2 259.4L1120.4 260.5L1109.9 256ZM1082.5 262.9L1093 267.4L1106.7 264ZM1082.5 262.9L1106.7 264L1096.2 259.4ZM1068.8 266.3L1079.4 270.8L1093 267.4ZM1068.8 266.3L1093 267.4L1082.5 262.9ZM1055.2 269.7L1065.7 274.2L1079.4 270.8ZM1055.2 269.7L1079.4 270.8L1068.8 266.3ZM1041.5 273.1L1052 277.6L1065.7 274.2ZM1041.5 273.1L1065.7 274.2L1055.2 269.7ZM1027.8 276.5L1038.4 281L1052 277.6ZM1027.8 276.5L1052 277.6L1041.5 273.1ZM1014.1 279.9L1024.7 284.5L1038.4 281ZM1014.1 279.9L1038.4 281L1027.8 276.5ZM1000.5 283.4L1011 287.9L1024.7 284.5ZM1000.5 283.4L1024.7 284.5L1014.1 279.9ZM986.8 286.8L997.3 291.3L1011 287.9ZM986.8 286.8L1011 287.9L1000.5 283.4ZM973.1 290.2L983.7 294.7L997.3 291.3ZM973.1 290.2L997.3 291.3L986.8 286.8ZM959.5 293.6L970 298.1L983.7 294.7ZM959.5 293.6L983.7 294.7L973.1 290.2ZM945.8 297L956.3 301.5L970 298.1ZM945.8 297L970 298.1L959.5 293.6ZM932.1 300.4L942.6 305L956.3 301.5ZM932.1 300.4L956.3 301.5L945.8 297ZM918.4 303.9L929 308.4L942.6 305ZM918.4 303.9L942.6 305L932.1 300.4ZM904.8 307.3L915.3 311.8L929 308.4ZM904.8 307.3L929 308.4L918.4 303.9ZM891.1 310.7L901.6 315.2L915.3 311.8ZM891.1 310.7L915.3 311.8L904.8 307.3ZM877.4 314.1L887.9 318.6L901.6 315.2ZM877.4 314.1L901.6 315.2L891.1 310.7ZM863.7 317.5L874.3 322L887.9 318.6ZM863.7 317.5L887.9 318.6L877.4 314.1ZM1120.4 260.5L1130.9 265.1L1144.6 261.6ZM1120.4 260.5L1144.6 261.6L1134.1 257.1ZM1106.7 264L1117.3 268.5L1130.9 265.1ZM1106.7 264L1130.9 265.1L1120.4 260.5ZM1093 267.4L1103.6 271.9L1117.3 268.5ZM1093 267.4L1117.3 268.5L1106.7 264ZM1079.4 270.8L1089.9 275.3L1103.6 271.9ZM1079.4 270.8L1103.6 271.9L1093 267.4ZM1065.7 274.2L1076.2 278.7L1089.9 275.3ZM1065.7 274.2L1089.9 275.3L1079.4 270.8ZM1052 277.6L1062.6 282.1L1076.2 278.7ZM1052 277.6L1076.2 278.7L1065.7 274.2ZM1038.4 281L1048.9 285.6L1062.6 282.1ZM1038.4 281L1062.6 282.1L1052 277.6ZM1024.7 284.5L1035.2 289L1048.9 285.6ZM1024.7 284.5L1048.9 285.6L1038.4 281ZM1011 287.9L1021.5 292.4L1035.2 289ZM1011 287.9L1035.2 289L1024.7 284.5ZM997.3 291.3L1007.9 295.8L1021.5 292.4ZM997.3 291.3L1021.5 292.4L1011 287.9ZM983.7 294.7L994.2 299.2L1007.9 295.8ZM983.7 294.7L1007.9 295.8L997.3 291.3ZM970 298.1L980.5 302.6L994.2 299.2ZM970 298.1L994.2 299.2L983.7 294.7ZM956.3 301.5L966.8 306.1L980.5 302.6ZM956.3 301.5L980.5 302.6L970 298.1ZM942.6 305L953.2 309.5L966.8 306.1ZM942.6 305L966.8 306.1L956.3 301.5ZM929 308.4L939.5 312.9L953.2 309.5ZM929 308.4L953.2 309.5L942.6 305ZM915.3 311.8L925.8 316.3L939.5 312.9ZM915.3 311.8L939.5 312.9L929 308.4ZM901.6 315.2L912.1 319.7L925.8 316.3ZM901.6 315.2L925.8 316.3L915.3 311.8ZM887.9 318.6L898.5 323.1L912.1 319.7ZM887.9 318.6L912.1 319.7L901.6 315.2ZM874.3 322L884.8 326.5L898.5 323.1ZM874.3 322L898.5 323.1L887.9 318.6Z" fill="#00ffe1"/>
<path d="M930.8 179.3L941.4 183.8L955 180.4ZM930.8 179.3L955 180.4L944.5 175.9ZM917.2 182.7L927.7 187.2L941.4 183.8ZM917.2 182.7L941.4 183.8L930.8 179.3ZM903.5 186.1L914 190.6L927.7 187.2ZM903.5 186.1L927.7 187.2L917.2 182.7ZM889.8 189.5L900.3 194L914 190.6ZM889.8 189.5L914 190.6L903.5 186.1ZM876.1 192.9L886.7 197.4L900.3 194ZM876.1 192.9L900.3 194L889.8 189.5ZM862.5 196.3L873 200.9L886.7 197.4ZM862.5 196.3L886.7 197.4L876.1 192.9ZM848.8 199.8L859.3 204.3L873 200.9ZM848.8 199.8L873 200.9L862.5 196.3ZM835.1 203.2L845.6 207.7L859.3 204.3ZM835.1 203.2L859.3 204.3L848.8 199.8Z" fill="#00ffe1" stroke="#00ffe1"/>
<path d="M821.4 206.6L832 208.5L845.6 207.7Z" fill="url(#e20)" stroke="url(#e20)"/>
<path d="M821.4 206.6L845.6 207.7L835.1 203.2Z" fill="#00ffe1" stroke="#00ffe1"/>
<path d="M807.8 215.3L818.3 200.2L832 208.5Z" fill="url(#e21)" stroke="url(#e21)"/>
<path d="M807.8 215.3L832 208.5L821.4 206.6Z" fill="url(#e22)" stroke="url(#e22)"/>
<path d="M794.1 224L804.6 185.1L818.3 200.2Z" fill="url(#e23)" stroke="url(#e23)"/>
<path d="M794.1 224L818.3 200.2L807.8 215.3Z" fill="url(#e24)" stroke="url(#e24)"/>
<path d="M780.4 232.7L790.9 172.7L804.6 185.1Z" fill="url(#e25)" stroke="url(#e25)"/>
<path d="M780.4 232.7L804.6 185.1L794.1 224Z" fill="url(#e26)" stroke="url(#e26)"/>
<path d="M766.7 228.2L777.3 199.4L790.9 172.7Z" fill="url(#e27)" stroke="url(#e27)"/>
<path d="M766.7 228.2L790.9 172.7L780.4 232.7Z" fill="url(#e28)" stroke="url(#e28)"/>
<path d="M753.1 226.3L763.6 222.9L777.3 199.4Z" fill="url(#e29)" stroke="url(#e29)"/>
<path d="M753.1 226.3L777.3 199.4L766.7 228.2Z" fill="url(#e2a)" stroke="url(#e2a)"/>
<path d="M739.4 227.1L749.9 230.5L763.6 222.9Z" fill="url(#e2b)" stroke="url(#e2b)"/>
<path d="M739.4 227.1L763.6 222.9L753.1 226.3Z" fill="url(#e2c)" stroke="url(#e2c)"/>
<path d="M725.7 229.7L736.3 239.3L749.9 230.5Z" fill="url(#e2d)" stroke="url(#e2d)"/>
<path d="M725.7 229.7L749.9 230.5L739.4 227.1Z" fill="url(#e2e)" stroke="url(#e2e)"/>
<path d="M712 231.6L722.6 250.7L736.3 239.3Z" fill="url(#e2f)" stroke="url(#e2f)"/>
<path d="M712 231.6L736.3 239.3L725.7 229.7Z" fill="url(#e2g)" stroke="url(#e2g)"/>
<path d="M698.4 233.5L708.9 262.4L722.6 250.7Z" fill="url(#e2h)" stroke="url(#e2h)"/>
<path d="M698.4 233.5L722.6 250.7L712 231.6Z" fill="url(#e2i)" stroke="url(#e2i)"/>
<path d="M684.7 235.5L695.2 273.8L708.9 262.4Z" fill="url(#e2j)" stroke="url(#e2j)"/>
<path d="M684.7 235.5L708.9 262.4L698.4 233.5Z" fill="url(#e2k)" stroke="url(#e2k)"/>
<path d="M941.4 183.8L951.9 188.3L965.6 184.9ZM941.4 183.8L965.6 184.9L955 180.4ZM927.7 187.2L938.2 191.7L951.9 188.3ZM927.7 187.2L951.9 188.3L941.4 183.8ZM914 190.6L924.5 195.1L938.2 191.7ZM914 190.6L938.2 191.7L927.7 187.2ZM900.3 194L910.9 198.5L924.5 195.1ZM900.3 194L924.5 195.1L914 190.6ZM886.7 197.4L897.2 202L910.9 198.5ZM886.7 197.4L910.9 198.5L900.3 194ZM873 200.9L883.5 205.4L897.2 202ZM873 200.9L897.2 202L886.7 197.4ZM859.3 204.3L869.8 208.8L883.5 205.4ZM859.3 204.3L883.5 205.4L873 200.9ZM845.6 207.7L856.2 212.2L869.8 208.8ZM845.6 207.7L869.8 208.8L859.3 204.3Z" fill="#00ffe1" stroke="#00ffe1"/>
<path d="M832 208.5L842.5 220.9L856.2 212.2Z" fill="url(#e2l)" stroke="url(#e2l)"/>
<path d="M832 208.5L856.2 212.2L845.6 207.7Z" fill="url(#e2m)" stroke="url(#e2m)"/>
<path d="M818.3 200.2L828.8 249.2L842.5 220.9Z" fill="url(#e2n)" stroke="url(#e2n)"/>
<path d="M818.3 200.2L842.5 220.9L832 208.5Z" fill="url(#e2o)" stroke="url(#e2o)"/>
<path d="M804.6 185.1L815.2 279.6L828.8 249.2Z" fill="url(#e2p)" stroke="url(#e2p)"/>
<path d="M804.6 185.1L828.8 249.2L818.3 200.2Z" fill="url(#e2q)" stroke="url(#e2q)"/>
<path d="M790.9 172.7L801.5 310.6L815.2 279.6Z" fill="url(#e2r)" stroke="url(#e2r)"/>
<path d="M790.9 172.7L815.2 279.6L804.6 185.1Z" fill="url(#e2s)" stroke="url(#e2s)"/>
<path d="M777.3 199.4L787.8 276.4L801.5 310.6Z" fill="url(#e2t)" stroke="url(#e2t)"/>
<path d="M777.3 199.4L801.5 310.6L790.9 172.7Z" fill="url(#e2u)" stroke="url(#e2u)"/>
<path d="M763.6 222.9L774.1 259.2L787.8 276.4Z" fill="url(#e2v)" stroke="url(#e2v)"/>
<path d="M763.6 222.9L787.8 276.4L777.3 199.4Z" fill="url(#e2w)" stroke="url(#e2w)"/>
<path d="M749.9 230.5L760.5 244.1L774.1 259.2Z" fill="url(#e2x)" stroke="url(#e2x)"/>
<path d="M749.9 230.5L774.1 259.2L763.6 222.9Z" fill="url(#e2y)" stroke="url(#e2y)"/>
<path d="M736.3 239.3L746.8 232.3L760.5 244.1Z" fill="url(#e2z)" stroke="url(#e2z)"/>
<path d="M736.3 239.3L760.5 244.1L749.9 230.5Z" fill="url(#e210)" stroke="url(#e210)"/>
<path d="M722.6 250.7L733.1 222.2L746.8 232.3Z" fill="url(#e211)" stroke="url(#e211)"/>
<path d="M722.6 250.7L746.8 232.3L736.3 239.3Z" fill="url(#e212)" stroke="url(#e212)"/>
<path d="M708.9 262.4L719.4 211.7L733.1 222.2Z" fill="url(#e213)" stroke="url(#e213)"/>
<path d="M708.9 262.4L733.1 222.2L722.6 250.7Z" fill="url(#e214)" stroke="url(#e214)"/>
<path d="M695.2 273.8L705.8 201.6L719.4 211.7Z" fill="url(#e215)" stroke="url(#e215)"/>
<path d="M695.2 273.8L719.4 211.7L708.9 262.4Z" fill="url(#e216)" stroke="url(#e216)"/>
<path d="M951.9 188.3L962.4 192.8L976.1 189.4ZM951.9 188.3L976.1 189.4L965.6 184.9ZM938.2 191.7L948.7 196.2L962.4 192.8ZM938.2 191.7L962.4 192.8L951.9 188.3ZM924.5 195.1L935.1 199.6L948.7 196.2ZM924.5 195.1L948.7 196.2L938.2 191.7ZM910.9 198.5L921.4 203.1L935.1 199.6ZM910.9 198.5L935.1 199.6L924.5 195.1ZM897.2 202L907.7 206.5L921.4 203.1ZM897.2 202L921.4 203.1L910.9 198.5ZM883.5 205.4L894.1 209.9L907.7 206.5ZM883.5 205.4L907.7 206.5L897.2 202ZM869.8 208.8L880.4 213.3L894.1 209.9ZM869.8 208.8L894.1 209.9L883.5 205.4ZM856.2 212.2L866.7 216.7L880.4 213.3ZM856.2 212.2L880.4 213.3L869.8 208.8Z" fill="#00ffe1" stroke="#00ffe1"/>
<path d="M842.5 220.9L853 213.8L866.7 216.7Z" fill="url(#e217)" stroke="url(#e217)"/>
<path d="M842.5 220.9L866.7 216.7L856.2 212.2Z" fill="url(#e218)" stroke="url(#e218)"/>
<path d="M828.8 249.2L839.4 191.8L853 213.8Z" fill="url(#e219)" stroke="url(#e219)"/>
<path d="M828.8 249.2L853 213.8L842.5 220.9Z" fill="url(#e21a)" stroke="url(#e21a)"/>
<path d="M815.2 279.6L825.7 167.7L839.4 191.8Z" fill="url(#e21b)" stroke="url(#e21b)"/>
<path d="M815.2 279.6L839.4 191.8L828.8 249.2Z" fill="url(#e21c)" stroke="url(#e21c)"/>
<path d="M801.5 310.6L812 140.9L825.7 167.7Z" fill="url(#e21d)" stroke="url(#e21d)"/>
<path d="M801.5 310.6L825.7 167.7L815.2 279.6Z" fill="url(#e21e)" stroke="url(#e21e)"/>
<path d="M787.8 276.4L798.3 186.2L812 140.9Z" fill="url(#e21f)" stroke="url(#e21f)"/>
<path d="M787.8 276.4L812 140.9L801.5 310.6Z" fill="url(#e21g)" stroke="url(#e21g)"/>
<path d="M774.1 259.2L784.7 210.8L798.3 186.2Z" fill="url(#e21h)" stroke="url(#e21h)"/>
<path d="M774.1 259.2L798.3 186.2L787.8 276.4Z" fill="url(#e21i)" stroke="url(#e21i)"/>
<path d="M760.5 244.1L771 232.7L784.7 210.8Z" fill="url(#e21j)" stroke="url(#e21j)"/>
<path d="M760.5 244.1L784.7 210.8L774.1 259.2Z" fill="url(#e21k)" stroke="url(#e21k)"/>
<path d="M746.8 232.3L757.3 251.8L771 232.7Z" fill="url(#e21l)" stroke="url(#e21l)"/>
<path d="M746.8 232.3L771 232.7L760.5 244.1Z" fill="url(#e21m)" stroke="url(#e21m)"/>
<path d="M733.1 222.2L743.6 269.5L757.3 251.8Z" fill="url(#e21n)" stroke="url(#e21n)"/>
<path d="M733.1 222.2L757.3 251.8L746.8 232.3Z" fill="url(#e21o)" stroke="url(#e21o)"/>
<path d="M719.4 211.7L730 287.8L743.6 269.5Z" fill="url(#e21p)" stroke="url(#e21p)"/>
<path d="M719.4 211.7L743.6 269.5L733.1 222.2Z" fill="url(#e21q)" stroke="url(#e21q)"/>
<path d="M705.8 201.6L716.3 305.6L730 287.8Z" fill="url(#e21r)" stroke="url(#e21r)"/>
<path d="M705.8 201.6L730 287.8L719.4 211.7Z" fill="url(#e21s)" stroke="url(#e21s)"/>
<path d="M962.4 192.8L973 197.3L986.6 193.9ZM962.4 192.8L986.6 193.9L976.1 189.4ZM948.7 196.2L959.3 200.7L973 197.3ZM948.7 196.2L973 197.3L962.4 192.8ZM935.1 199.6L945.6 204.2L959.3 200.7ZM935.1 199.6L959.3 200.7L948.7 196.2ZM921.4 203.1L931.9 207.6L945.6 204.2ZM921.4 203.1L945.6 204.2L935.1 199.6ZM907.7 206.5L918.3 211L931.9 207.6ZM907.7 206.5L931.9 207.6L921.4 203.1ZM894.1 209.9L904.6 214.4L918.3 211ZM894.1 209.9L918.3 211L907.7 206.5ZM880.4 213.3L890.9 217.8L904.6 214.4ZM880.4 213.3L904.6 214.4L894.1 209.9ZM866.7 216.7L877.2 221.2L890.9 217.8ZM866.7 216.7L890.9 217.8L880.4 213.3Z" fill="#00ffe1" stroke="#00ffe1"/>
<path d="M853 213.8L863.6 229.9L877.2 221.2Z" fill="url(#e21t)" stroke="url(#e21t)"/>
<path d="M853 213.8L877.2 221.2L866.7 216.7Z" fill="url(#e21u)" stroke="url(#e21u)"/>
<path d="M839.4 191.8L849.9 251.9L863.6 229.9Z" fill="url(#e21v)" stroke="url(#e21v)"/>
<path d="M839.4 191.8L863.6 229.9L853 213.8Z" fill="url(#e21w)" stroke="url(#e21w)"/>
<path d="M825.7 167.7L836.2 273.8L849.9 251.9Z" fill="url(#e21x)" stroke="url(#e21x)"/>
<path d="M825.7 167.7L849.9 251.9L839.4 191.8Z" fill="url(#e21y)" stroke="url(#e21y)"/>
<path d="M812 140.9L822.5 295.8L836.2 273.8Z" fill="url(#e21z)" stroke="url(#e21z)"/>
<path d="M812 140.9L836.2 273.8L825.7 167.7Z" fill="url(#e220)" stroke="url(#e220)"/>
<path d="M798.3 186.2L808.9 275.4L822.5 295.8Z" fill="url(#e221)" stroke="url(#e221)"/>
<path d="M798.3 186.2L822.5 295.8L812 140.9Z" fill="url(#e222)" stroke="url(#e222)"/>
<path d="M784.7 210.8L795.2 256.6L808.9 275.4Z" fill="url(#e223)" stroke="url(#e223)"/>
<path d="M784.7 210.8L808.9 275.4L798.3 186.2Z" fill="url(#e224)" stroke="url(#e224)"/>
<path d="M771 232.7L781.5 249.4L795.2 256.6Z" fill="url(#e225)" stroke="url(#e225)"/>
<path d="M771 232.7L795.2 256.6L784.7 210.8Z" fill="url(#e226)" stroke="url(#e226)"/>
<path d="M757.3 251.8L767.8 243.1L781.5 249.4Z" fill="url(#e227)" stroke="url(#e227)"/>
<path d="M757.3 251.8L781.5 249.4L771 232.7Z" fill="url(#e228)" stroke="url(#e228)"/>
<path d="M743.6 269.5L754.2 236.3L767.8 243.1Z" fill="url(#e229)" stroke="url(#e229)"/>
<path d="M743.6 269.5L767.8 243.1L757.3 251.8Z" fill="url(#e22a)" stroke="url(#e22a)"/>
<path d="M730 287.8L740.5 229.1L754.2 236.3Z" fill="url(#e22b)" stroke="url(#e22b)"/>
<path d="M730 287.8L754.2 236.3L743.6 269.5Z" fill="url(#e22c)" stroke="url(#e22c)"/>
<path d="M716.3 305.6L726.8 222.3L740.5 229.1Z" fill="url(#e22d)" stroke="url(#e22d)"/>
<path d="M716.3 305.6L740.5 229.1L730 287.8Z" fill="url(#e22e)" stroke="url(#e22e)"/>
<path d="M973 197.3L983.5 201.8L997.2 198.4ZM973 197.3L997.2 198.4L986.6 193.9ZM959.3 200.7L969.8 205.3L983.5 201.8ZM959.3 200.7L983.5 201.8L973 197.3ZM945.6 204.2L956.1 208.7L969.8 205.3ZM945.6 204.2L969.8 205.3L959.3 200.7ZM931.9 207.6L942.5 212.1L956.1 208.7ZM931.9 207.6L956.1 208.7L945.6 204.2ZM918.3 211L928.8 215.5L942.5 212.1ZM918.3 211L942.5 212.1L931.9 207.6ZM904.6 214.4L915.1 218.9L928.8 215.5ZM904.6 214.4L928.8 215.5L918.3 211ZM890.9 217.8L901.4 222.3L915.1 218.9ZM890.9 217.8L915.1 218.9L904.6 214.4ZM877.2 221.2L887.8 225.8L901.4 222.3ZM877.2 221.2L901.4 222.3L890.9 217.8Z" fill="#00ffe1" stroke="#00ffe1"/>
<path d="M863.6 229.9L874.1 229.2L887.8 225.8Z" fill="url(#e22f)" stroke="url(#e22f)"/>
<path d="M863.6 229.9L887.8 225.8L877.2 221.2Z" fill="url(#e22g)" stroke="url(#e22g)"/>
<path d="M849.9 251.9L860.4 224.6L874.1 229.2Z" fill="url(#e22h)" stroke="url(#e22h)"/>
<path d="M849.9 251.9L874.1 229.2L863.6 229.9Z" fill="url(#e22i)" stroke="url(#e22i)"/>
<path d="M836.2 273.8L846.7 214.8L860.4 224.6Z" fill="url(#e22j)" stroke="url(#e22j)"/>
<path d="M836.2 273.8L860.4 224.6L849.9 251.9Z" fill="url(#e22k)" stroke="url(#e22k)"/>
<path d="M822.5 295.8L833.1 205.5L846.7 214.8Z" fill="url(#e22l)" stroke="url(#e22l)"/>
<path d="M822.5 295.8L846.7 214.8L836.2 273.8Z" fill="url(#e22m)" stroke="url(#e22m)"/>
<path d="M808.9 275.4L819.4 224.3L833.1 205.5Z" fill="url(#e22n)" stroke="url(#e22n)"/>
<path d="M808.9 275.4L833.1 205.5L822.5 295.8Z" fill="url(#e22o)" stroke="url(#e22o)"/>
<path d="M795.2 256.6L805.7 241L819.4 224.3Z" fill="url(#e22p)" stroke="url(#e22p)"/>
<path d="M795.2 256.6L819.4 224.3L808.9 275.4Z" fill="url(#e22q)" stroke="url(#e22q)"/>
<path d="M781.5 249.4L792.1 249.7L805.7 241Z" fill="url(#e22r)" stroke="url(#e22r)"/>
<path d="M781.5 249.4L805.7 241L795.2 256.6Z" fill="url(#e22s)" stroke="url(#e22s)"/>
<path d="M767.8 243.1L778.4 256L792.1 249.7Z" fill="url(#e22t)" stroke="url(#e22t)"/>
<path d="M767.8 243.1L792.1 249.7L781.5 249.4Z" fill="url(#e22u)" stroke="url(#e22u)"/>
<path d="M754.2 236.3L764.7 264.9L778.4 256Z" fill="url(#e22v)" stroke="url(#e22v)"/>
<path d="M754.2 236.3L778.4 256L767.8 243.1Z" fill="url(#e22w)" stroke="url(#e22w)"/>
<path d="M740.5 229.1L751 274L764.7 264.9Z" fill="url(#e22x)" stroke="url(#e22x)"/>
<path d="M740.5 229.1L764.7 264.9L754.2 236.3Z" fill="url(#e22y)" stroke="url(#e22y)"/>
<path d="M726.8 222.3L737.4 282.9L751 274Z" fill="url(#e22z)" stroke="url(#e22z)"/>
<path d="M726.8 222.3L751 274L740.5 229.1Z" fill="url(#e230)" stroke="url(#e230)"/>
<path d="M983.5 201.8L994 206.4L1007.7 202.9ZM983.5 201.8L1007.7 202.9L997.2 198.4ZM969.8 205.3L980.3 209.8L994 206.4ZM969.8 205.3L994 206.4L983.5 201.8ZM956.1 208.7L966.7 213.2L980.3 209.8ZM956.1 208.7L980.3 209.8L969.8 205.3ZM942.5 212.1L953 216.6L966.7 213.2ZM942.5 212.1L966.7 213.2L956.1 208.7ZM928.8 215.5L939.3 220L953 216.6ZM928.8 215.5L953 216.6L942.5 212.1ZM915.1 218.9L925.6 223.4L939.3 220ZM915.1 218.9L939.3 220L928.8 215.5ZM901.4 222.3L912 226.9L925.6 223.4ZM901.4 222.3L925.6 223.4L915.1 218.9ZM887.8 225.8L898.3 230.3L912 226.9ZM887.8 225.8L912 226.9L901.4 222.3ZM874.1 229.2L884.6 233.7L898.3 230.3ZM874.1 229.2L898.3 230.3L887.8 225.8Z" fill="#00ffe1" stroke="#00ffe1"/>
<path d="M860.4 224.6L871 237.1L884.6 233.7Z" fill="url(#e231)" stroke="url(#e231)"/>
<path d="M860.4 224.6L884.6 233.7L874.1 229.2Z" fill="url(#e232)" stroke="url(#e232)"/>
<path d="M846.7 214.8L857.3 246.9L871 237.1Z" fill="url(#e233)" stroke="url(#e233)"/>
<path d="M846.7 214.8L871 237.1L860.4 224.6Z" fill="url(#e234)" stroke="url(#e234)"/>
<path d="M833.1 205.5L843.6 254.5L857.3 246.9Z" fill="url(#e235)" stroke="url(#e235)"/>
<path d="M833.1 205.5L857.3 246.9L846.7 214.8Z" fill="url(#e236)" stroke="url(#e236)"/>
<path d="M819.4 224.3L829.9 252.6L843.6 254.5Z" fill="url(#e237)" stroke="url(#e237)"/>
<path d="M819.4 224.3L843.6 254.5L833.1 205.5Z" fill="url(#e238)" stroke="url(#e238)"/>
<path d="M805.7 241L816.3 250.8L829.9 252.6Z" fill="url(#e239)" stroke="url(#e239)"/>
<path d="M805.7 241L829.9 252.6L819.4 224.3Z" fill="url(#e23a)" stroke="url(#e23a)"/>
<path d="M792.1 249.7L802.6 254.2L816.3 250.8Z" fill="#00ffe1" stroke="#00ffe1"/>
<path d="M792.1 249.7L816.3 250.8L805.7 241Z" fill="url(#e23b)" stroke="url(#e23b)"/>
<path d="M778.4 256L788.9 256.8L802.6 254.2Z" fill="url(#e23c)" stroke="url(#e23c)"/>
<path d="M778.4 256L802.6 254.2L792.1 249.7Z" fill="url(#e23d)" stroke="url(#e23d)"/>
<path d="M764.7 264.9L775.2 258.7L788.9 256.8Z" fill="url(#e23e)" stroke="url(#e23e)"/>
<path d="M764.7 264.9L788.9 256.8L778.4 256Z" fill="url(#e23f)" stroke="url(#e23f)"/>
<path d="M751 274L761.6 260.6L775.2 258.7Z" fill="url(#e23g)" stroke="url(#e23g)"/>
<path d="M751 274L775.2 258.7L764.7 264.9Z" fill="url(#e23h)" stroke="url(#e23h)"/>
<path d="M737.4 282.9L747.9 262.6L761.6 260.6Z" fill="url(#e23i)" stroke="url(#e23i)"/>
<path d="M737.4 282.9L761.6 260.6L751 274Z" fill="url(#e23j)" stroke="url(#e23j)"/>
<path d="M994 206.4L1004.5 210.9L1018.2 207.5ZM994 206.4L1018.2 207.5L1007.7 202.9ZM980.3 209.8L990.9 214.3L1004.5 210.9ZM980.3 209.8L1004.5 210.9L994 206.4ZM966.7 213.2L977.2 217.7L990.9 214.3ZM966.7 213.2L990.9 214.3L980.3 209.8ZM953 216.6L963.5 221.1L977.2 217.7ZM953 216.6L977.2 217.7L966.7 213.2ZM939.3 220L949.9 224.5L963.5 221.1ZM939.3 220L963.5 221.1L953 216.6ZM925.6 223.4L936.2 228L949.9 224.5ZM925.6 223.4L949.9 224.5L939.3 220ZM912 226.9L922.5 231.4L936.2 228ZM912 226.9L936.2 228L925.6 223.4ZM898.3 230.3L908.8 234.8L922.5 231.4ZM898.3 230.3L922.5 231.4L912 226.9ZM884.6 233.7L895.2 238.2L908.8 234.8ZM884.6 233.7L908.8 234.8L898.3 230.3ZM871 237.1L881.5 241.6L895.2 238.2ZM871 237.1L895.2 238.2L884.6 233.7Z" fill="#00ffe1" stroke="#00ffe1"/>
<path d="M857.3 246.9L867.8 245L881.5 241.6Z" fill="url(#e23k)" stroke="url(#e23k)"/>
<path d="M857.3 246.9L881.5 241.6L871 237.1Z" fill="url(#e23l)" stroke="url(#e23l)"/>
<path d="M843.6 254.5L854.1 245.3L867.8 245Z" fill="url(#e23m)" stroke="url(#e23m)"/>
<path d="M843.6 254.5L867.8 245L857.3 246.9Z" fill="url(#e23n)" stroke="url(#e23n)"/>
<path d="M829.9 252.6L840.5 251.9L854.1 245.3Z" fill="url(#e23o)" stroke="url(#e23o)"/>
<path d="M829.9 252.6L854.1 245.3L843.6 254.5Z" fill="url(#e23p)" stroke="url(#e23p)"/>
<path d="M816.3 250.8L826.8 255.3L840.5 251.9Z" fill="#00ffe1" stroke="#00ffe1"/>
<path d="M816.3 250.8L840.5 251.9L829.9 252.6Z" fill="url(#e23q)" stroke="url(#e23q)"/>
<path d="M802.6 254.2L813.1 258.7L826.8 255.3ZM802.6 254.2L826.8 255.3L816.3 250.8Z" fill="#00ffe1" stroke="#00ffe1"/>
<path d="M788.9 256.8L799.4 262.4L813.1 258.7Z" fill="url(#e23r)" stroke="url(#e23r)"/>
<path d="M788.9 256.8L813.1 258.7L802.6 254.2Z" fill="url(#e23s)" stroke="url(#e23s)"/>
<path d="M775.2 258.7L785.8 266.2L799.4 262.4Z" fill="url(#e23t)" stroke="url(#e23t)"/>
<path d="M775.2 258.7L799.4 262.4L788.9 256.8Z" fill="url(#e23u)" stroke="url(#e23u)"/>
<path d="M761.6 260.6L772.1 270.1L785.8 266.2Z" fill="url(#e23v)" stroke="url(#e23v)"/>
<path d="M761.6 260.6L785.8 266.2L775.2 258.7Z" fill="url(#e23w)" stroke="url(#e23w)"/>
<path d="M747.9 262.6L758.4 273.9L772.1 270.1Z" fill="url(#e23x)" stroke="url(#e23x)"/>
<path d="M747.9 262.6L772.1 270.1L761.6 260.6Z" fill="url(#e23y)" stroke="url(#e23y)"/>
<path d="M1004.5 210.9L1015.1 215.4L1028.8 212ZM1004.5 210.9L1028.8 212L1018.2 207.5ZM990.9 214.3L1001.4 218.8L1015.1 215.4ZM990.9 214.3L1015.1 215.4L1004.5 210.9ZM977.2 217.7L987.7 222.2L1001.4 218.8ZM977.2 217.7L1001.4 218.8L990.9 214.3ZM963.5 221.1L974.1 225.6L987.7 222.2ZM963.5 221.1L987.7 222.2L977.2 217.7ZM949.9 224.5L960.4 229.1L974.1 225.6ZM949.9 224.5L974.1 225.6L963.5 221.1ZM936.2 228L946.7 232.5L960.4 229.1ZM936.2 228L960.4 229.1L949.9 224.5ZM922.5 231.4L933 235.9L946.7 232.5ZM922.5 231.4L946.7 232.5L936.2 228ZM908.8 234.8L919.4 239.3L933 235.9ZM908.8 234.8L933 235.9L922.5 231.4ZM895.2 238.2L905.7 242.7L919.4 239.3ZM895.2 238.2L919.4 239.3L908.8 234.8ZM881.5 241.6L892 246.1L905.7 242.7ZM881.5 241.6L905.7 242.7L895.2 238.2ZM867.8 245L878.3 249.6L892 246.1ZM867.8 245L892 246.1L881.5 241.6Z" fill="#00ffe1" stroke="#00ffe1"/>
<path d="M854.1 245.3L864.7 253L878.3 249.6Z" fill="url(#e23z)" stroke="url(#e23z)"/>
<path d="M854.1 245.3L878.3 249.6L867.8 245Z" fill="url(#e240)" stroke="url(#e240)"/>
<path d="M840.5 251.9L851 256.4L864.7 253Z" fill="#00ffe1" stroke="#00ffe1"/>
<path d="M840.5 251.9L864.7 253L854.1 245.3Z" fill="url(#e241)" stroke="url(#e241)"/>
<path d="M826.8 255.3L837.3 259.8L851 256.4ZM826.8 255.3L851 256.4L840.5 251.9ZM813.1 258.7L823.6 263.2L837.3 259.8ZM813.1 258.7L837.3 259.8L826.8 255.3Z" fill="#00ffe1" stroke="#00ffe1"/>
<path d="M799.4 262.4L810 266.6L823.6 263.2Z" fill="url(#e242)" stroke="url(#e242)"/>
<path d="M799.4 262.4L823.6 263.2L813.1 258.7Z" fill="url(#e243)" stroke="url(#e243)"/>
<path d="M785.8 266.2L796.3 270L810 266.6Z" fill="url(#e244)" stroke="url(#e244)"/>
<path d="M785.8 266.2L810 266.6L799.4 262.4Z" fill="url(#e245)" stroke="url(#e245)"/>
<path d="M772.1 270.1L782.6 273.5L796.3 270Z" fill="url(#e246)" stroke="url(#e246)"/>
<path d="M772.1 270.1L796.3 270L785.8 266.2Z" fill="url(#e247)" stroke="url(#e247)"/>
<path d="M758.4 273.9L769 276.9L782.6 273.5Z" fill="url(#e248)" stroke="url(#e248)"/>
<path d="M758.4 273.9L782.6 273.5L772.1 270.1Z" fill="url(#e249)" stroke="url(#e249)"/>
<path d="M1015.1 215.4L1025.6 219.9L1039.3 216.5ZM1015.1 215.4L1039.3 216.5L1028.8 212ZM1001.4 218.8L1011.9 223.3L1025.6 219.9ZM1001.4 218.8L1025.6 219.9L1015.1 215.4ZM987.7 222.2L998.3 226.7L1011.9 223.3ZM987.7 222.2L1011.9 223.3L1001.4 218.8ZM974.1 225.6L984.6 230.2L998.3 226.7ZM974.1 225.6L998.3 226.7L987.7 222.2ZM960.4 229.1L970.9 233.6L984.6 230.2ZM960.4 229.1L984.6 230.2L974.1 225.6ZM946.7 232.5L957.2 237L970.9 233.6ZM946.7 232.5L970.9 233.6L960.4 229.1ZM933 235.9L943.6 240.4L957.2 237ZM933 235.9L957.2 237L946.7 232.5ZM919.4 239.3L929.9 243.8L943.6 240.4ZM919.4 239.3L943.6 240.4L933 235.9ZM905.7 242.7L916.2 247.2L929.9 243.8ZM905.7 242.7L929.9 243.8L919.4 239.3ZM892 246.1L902.5 250.6L916.2 247.2ZM892 246.1L916.2 247.2L905.7 242.7ZM878.3 249.6L888.9 254.1L902.5 250.6ZM878.3 249.6L902.5 250.6L892 246.1ZM864.7 253L875.2 257.5L888.9 254.1ZM864.7 253L888.9 254.1L878.3 249.6ZM851 256.4L861.5 260.9L875.2 257.5ZM851 256.4L875.2 257.5L864.7 253ZM837.3 259.8L847.9 264.3L861.5 260.9ZM837.3 259.8L861.5 260.9L851 256.4ZM823.6 263.2L834.2 267.7L847.9 264.3ZM823.6 263.2L847.9 264.3L837.3 259.8ZM810 266.6L820.5 271.1L834.2 267.7ZM810 266.6L834.2 267.7L823.6 263.2ZM796.3 270L806.8 274.6L820.5 271.1ZM796.3 270L820.5 271.1L810 266.6ZM782.6 273.5L793.2 278L806.8 274.6ZM782.6 273.5L806.8 274.6L796.3 270ZM769 276.9L779.5 281.4L793.2 278ZM769 276.9L793.2 278L782.6 273.5Z" fill="#00ffe1" stroke="#00ffe1"/>
<path d="M1025.6 219.9L1036.1 224.4L1049.8 221ZM1025.6 219.9L1049.8 221L1039.3 216.5ZM1011.9 223.3L1022.5 227.8L1036.1 224.4ZM1011.9 223.3L1036.1 224.4L1025.6 219.9ZM998.3 226.7L1008.8 231.3L1022.5 227.8ZM998.3 226.7L1022.5 227.8L1011.9 223.3ZM984.6 230.2L995.1 234.7L1008.8 231.3ZM984.6 230.2L1008.8 231.3L998.3 226.7ZM970.9 233.6L981.4 238.1L995.1 234.7ZM970.9 233.6L995.1 234.7L984.6 230.2ZM957.2 237L967.8 241.5L981.4 238.1ZM957.2 237L981.4 238.1L970.9 233.6ZM943.6 240.4L954.1 244.9L967.8 241.5ZM943.6 240.4L967.8 241.5L957.2 237ZM929.9 243.8L940.4 248.3L954.1 244.9ZM929.9 243.8L954.1 244.9L943.6 240.4ZM916.2 247.2L926.8 251.8L940.4 248.3ZM916.2 247.2L940.4 248.3L929.9 243.8ZM902.5 250.6L913.1 255.2L926.8 251.8ZM902.5 250.6L926.8 251.8L916.2 247.2ZM888.9 254.1L899.4 258.6L913.1 255.2ZM888.9 254.1L913.1 255.2L902.5 250.6ZM875.2 257.5L885.7 262L899.4 258.6ZM875.2 257.5L899.4 258.6L888.9 254.1ZM861.5 260.9L872.1 265.4L885.7 262ZM861.5 260.9L885.7 262L875.2 257.5ZM847.9 264.3L858.4 268.8L872.1 265.4ZM847.9 264.3L872.1 265.4L861.5 260.9ZM834.2 267.7L844.7 272.2L858.4 268.8ZM834.2 267.7L858.4 268.8L847.9 264.3ZM820.5 271.1L831 275.7L844.7 272.2ZM820.5 271.1L844.7 272.2L834.2 267.7ZM806.8 274.6L817.4 279.1L831 275.7ZM806.8 274.6L831 275.7L820.5 271.1ZM793.2 278L803.7 282.5L817.4 279.1ZM793.2 278L817.4 279.1L806.8 274.6ZM779.5 281.4L790 285.9L803.7 282.5ZM779.5 281.4L803.7 282.5L793.2 278Z" fill="#00ffe1" stroke="#00ffe1"/>
<path d="M1036.1 224.4L1046.7 228.9L1060.3 225.5ZM1036.1 224.4L1060.3 225.5L1049.8 221ZM1022.5 227.8L1033 232.4L1046.7 228.9ZM1022.5 227.8L1046.7 228.9L1036.1 224.4ZM1008.8 231.3L1019.3 235.8L1033 232.4ZM1008.8 231.3L1033 232.4L1022.5 227.8ZM995.1 234.7L1005.7 239.2L1019.3 235.8ZM995.1 234.7L1019.3 235.8L1008.8 231.3ZM981.4 238.1L992 242.6L1005.7 239.2ZM981.4 238.1L1005.7 239.2L995.1 234.7ZM967.8 241.5L978.3 246L992 242.6ZM967.8 241.5L992 242.6L981.4 238.1ZM954.1 244.9L964.6 249.4L978.3 246ZM954.1 244.9L978.3 246L967.8 241.5ZM940.4 248.3L951 252.8L964.6 249.4ZM940.4 248.3L964.6 249.4L954.1 244.9ZM926.8 251.8L937.3 256.3L951 252.8ZM926.8 251.8L951 252.8L940.4 248.3ZM913.1 255.2L923.6 259.7L937.3 256.3ZM913.1 255.2L937.3 256.3L926.8 251.8ZM899.4 258.6L909.9 263.1L923.6 259.7ZM899.4 258.6L923.6 259.7L913.1 255.2ZM885.7 262L896.3 266.5L909.9 263.1ZM885.7 262L909.9 263.1L899.4 258.6ZM872.1 265.4L882.6 269.9L896.3 266.5ZM872.1 265.4L896.3 266.5L885.7 262ZM858.4 268.8L868.9 273.3L882.6 269.9ZM858.4 268.8L882.6 269.9L872.1 265.4ZM844.7 272.2L855.2 276.8L868.9 273.3ZM844.7 272.2L868.9 273.3L858.4 268.8ZM831 275.7L841.6 280.2L855.2 276.8ZM831 275.7L855.2 276.8L844.7 272.2ZM817.4 279.1L827.9 283.6L841.6 280.2ZM817.4 279.1L841.6 280.2L831 275.7ZM803.7 282.5L814.2 287L827.9 283.6ZM803.7 282.5L827.9 283.6L817.4 279.1ZM790 285.9L800.5 290.4L814.2 287ZM790 285.9L814.2 287L803.7 282.5Z" fill="#00ffe1" stroke="#00ffe1"/>
<path d="M1046.7 228.9L1057.2 233.5L1070.9 230ZM1046.7 228.9L1070.9 230L1060.3 225.5ZM1033 232.4L1043.5 236.9L1057.2 233.5ZM1033 232.4L1057.2 233.5L1046.7 228.9ZM1019.3 235.8L1029.9 240.3L1043.5 236.9ZM1019.3 235.8L1043.5 236.9L1033 232.4ZM1005.7 239.2L1016.2 243.7L1029.9 240.3ZM1005.7 239.2L1029.9 240.3L1019.3 235.8ZM992 242.6L1002.5 247.1L1016.2 243.7ZM992 242.6L1016.2 243.7L1005.7 239.2ZM978.3 246L988.8 250.5L1002.5 247.1ZM978.3 246L1002.5 247.1L992 242.6ZM964.6 249.4L975.2 253.9L988.8 250.5ZM964.6 249.4L988.8 250.5L978.3 246ZM951 252.8L961.5 257.4L975.2 253.9ZM951 252.8L975.2 253.9L964.6 249.4ZM937.3 256.3L947.8 260.8L961.5 257.4ZM937.3 256.3L961.5 257.4L951 252.8ZM923.6 259.7L934.1 264.2L947.8 260.8ZM923.6 259.7L947.8 260.8L937.3 256.3ZM909.9 263.1L920.5 267.6L934.1 264.2ZM909.9 263.1L934.1 264.2L923.6 259.7ZM896.3 266.5L906.8 271L920.5 267.6ZM896.3 266.5L920.5 267.6L909.9 263.1ZM882.6 269.9L893.1 274.4L906.8 271ZM882.6 269.9L906.8 271L896.3 266.5ZM868.9 273.3L879.4 277.9L893.1 274.4ZM868.9 273.3L893.1 274.4L882.6 269.9ZM855.2 276.8L865.8 281.3L879.4 277.9ZM855.2 276.8L879.4 277.9L868.9 273.3ZM841.6 280.2L852.1 284.7L865.8 281.3ZM841.6 280.2L865.8 281.3L855.2 276.8ZM827.9 283.6L838.4 288.1L852.1 284.7ZM827.9 283.6L852.1 284.7L841.6 280.2ZM814.2 287L824.8 291.5L838.4 288.1ZM814.2 287L838.4 288.1L827.9 283.6ZM800.5 290.4L811.1 294.9L824.8 291.5ZM800.5 290.4L824.8 291.5L814.2 287Z" fill="#00ffe1" stroke="#00ffe1"/>
<path d="M1057.2 233.5L1067.7 238L1081.4 234.6ZM1057.2 233.5L1081.4 234.6L1070.9 230ZM1043.5 236.9L1054.1 241.4L1067.7 238ZM1043.5 236.9L1067.7 238L1057.2 233.5ZM1029.9 240.3L1040.4 244.8L1054.1 241.4ZM1029.9 240.3L1054.1 241.4L1043.5 236.9ZM1016.2 243.7L1026.7 248.2L1040.4 244.8ZM1016.2 243.7L1040.4 244.8L1029.9 240.3ZM1002.5 247.1L1013 251.6L1026.7 248.2ZM1002.5 247.1L1026.7 248.2L1016.2 243.7ZM988.8 250.5L999.4 255.1L1013 251.6ZM988.8 250.5L1013 251.6L1002.5 247.1ZM975.2 253.9L985.7 258.5L999.4 255.1ZM975.2 253.9L999.4 255.1L988.8 250.5ZM961.5 257.4L972 261.9L985.7 258.5ZM961.5 257.4L985.7 258.5L975.2 253.9ZM947.8 260.8L958.3 265.3L972 261.9ZM947.8 260.8L972 261.9L961.5 257.4ZM934.1 264.2L944.7 268.7L958.3 265.3ZM934.1 264.2L958.3 265.3L947.8 260.8ZM920.5 267.6L931 272.1L944.7 268.7ZM920.5 267.6L944.7 268.7L934.1 264.2ZM906.8 271L917.3 275.5L931 272.1ZM906.8 271L931 272.1L920.5 267.6ZM893.1 274.4L903.7 279L917.3 275.5ZM893.1 274.4L917.3 275.5L906.8 271ZM879.4 277.9L890 282.4L903.7 279ZM879.4 277.9L903.7 279L893.1 274.4ZM865.8 281.3L876.3 285.8L890 282.4ZM865.8 281.3L890 282.4L879.4 277.9ZM852.1 284.7L862.6 289.2L876.3 285.8ZM852.1 284.7L876.3 285.8L865.8 281.3ZM838.4 288.1L849 292.6L862.6 289.2ZM838.4 288.1L862.6 289.2L852.1 284.7ZM824.8 291.5L835.3 296L849 292.6ZM824.8 291.5L849 292.6L838.4 288.1ZM811.1 294.9L821.6 299.5L835.3 296ZM811.1 294.9L835.3 296L824.8 291.5Z" fill="#00ffe1" stroke="#00ffe1"/>
<path d="M1067.7 238L1078.3 242.5L1091.9 239.1ZM1067.7 238L1091.9 239.1L1081.4 234.6ZM1054.1 241.4L1064.6 245.9L1078.3 242.5ZM1054.1 241.4L1078.3 242.5L1067.7 238ZM1040.4 244.8L1050.9 249.3L1064.6 245.9ZM1040.4 244.8L1064.6 245.9L1054.1 241.4ZM1026.7 248.2L1037.2 252.7L1050.9 249.3ZM1026.7 248.2L1050.9 249.3L1040.4 244.8ZM1013 251.6L1023.6 256.1L1037.2 252.7ZM1013 251.6L1037.2 252.7L1026.7 248.2ZM999.4 255.1L1009.9 259.6L1023.6 256.1ZM999.4 255.1L1023.6 256.1L1013 251.6ZM985.7 258.5L996.2 263L1009.9 259.6ZM985.7 258.5L1009.9 259.6L999.4 255.1ZM972 261.9L982.6 266.4L996.2 263ZM972 261.9L996.2 263L985.7 258.5ZM958.3 265.3L968.9 269.8L982.6 266.4ZM958.3 265.3L982.6 266.4L972 261.9ZM944.7 268.7L955.2 273.2L968.9 269.8ZM944.7 268.7L968.9 269.8L958.3 265.3ZM931 272.1L941.5 276.6L955.2 273.2ZM931 272.1L955.2 273.2L944.7 268.7ZM917.3 275.5L927.9 280.1L941.5 276.6ZM917.3 275.5L941.5 276.6L931 272.1ZM903.7 279L914.2 283.5L927.9 280.1ZM903.7 279L927.9 280.1L917.3 275.5ZM890 282.4L900.5 286.9L914.2 283.5ZM890 282.4L914.2 283.5L903.7 279ZM876.3 285.8L886.8 290.3L900.5 286.9ZM876.3 285.8L900.5 286.9L890 282.4ZM862.6 289.2L873.2 293.7L886.8 290.3ZM862.6 289.2L886.8 290.3L876.3 285.8ZM849 292.6L859.5 297.1L873.2 293.7ZM849 292.6L873.2 293.7L862.6 289.2ZM835.3 296L845.8 300.6L859.5 297.1ZM835.3 296L859.5 297.1L849 292.6ZM821.6 299.5L832.1 304L845.8 300.6ZM821.6 299.5L845.8 300.6L835.3 296Z" fill="#00ffe1" stroke="#00ffe1"/>
<path d="M1078.3 242.5L1088.8 247L1102.5 243.6ZM1078.3 242.5L1102.5 243.6L1091.9 239.1ZM1064.6 245.9L1075.1 250.4L1088.8 247ZM1064.6 245.9L1088.8 247L1078.3 242.5ZM1050.9 249.3L1061.5 253.8L1075.1 250.4ZM1050.9 249.3L1075.1 250.4L1064.6 245.9ZM1037.2 252.7L1047.8 257.2L1061.5 253.8ZM1037.2 252.7L1061.5 253.8L1050.9 249.3ZM1023.6 256.1L1034.1 260.7L1047.8 257.2ZM1023.6 256.1L1047.8 257.2L1037.2 252.7ZM1009.9 259.6L1020.4 264.1L1034.1 260.7ZM1009.9 259.6L1034.1 260.7L1023.6 256.1ZM996.2 263L1006.8 267.5L1020.4 264.1ZM996.2 263L1020.4 264.1L1009.9 259.6ZM982.6 266.4L993.1 270.9L1006.8 267.5ZM982.6 266.4L1006.8 267.5L996.2 263ZM968.9 269.8L979.4 274.3L993.1 270.9ZM968.9 269.8L993.1 270.9L982.6 266.4ZM955.2 273.2L965.7 277.7L979.4 274.3ZM955.2 273.2L979.4 274.3L968.9 269.8ZM941.5 276.6L952.1 281.2L965.7 277.7ZM941.5 276.6L965.7 277.7L955.2 273.2ZM927.9 280.1L938.4 284.6L952.1 281.2ZM927.9 280.1L952.1 281.2L941.5 276.6ZM914.2 283.5L924.7 288L938.4 284.6ZM914.2 283.5L938.4 284.6L927.9 280.1ZM900.5 286.9L911 291.4L924.7 288ZM900.5 286.9L924.7 288L914.2 283.5ZM886.8 290.3L897.4 294.8L911 291.4ZM886.8 290.3L911 291.4L900.5 286.9ZM873.2 293.7L883.7 298.2L897.4 294.8ZM873.2 293.7L897.4 294.8L886.8 290.3ZM859.5 297.1L870 301.7L883.7 298.2ZM859.5 297.1L883.7 298.2L873.2 293.7ZM845.8 300.6L856.3 305.1L870 301.7ZM845.8 300.6L870 301.7L859.5 297.1ZM832.1 304L842.7 308.5L856.3 305.1ZM832.1 304L856.3 305.1L845.8 300.6Z" fill="#00ffe1" stroke="#00ffe1"/>
<path d="M1088.8 247L1099.3 251.5L1113 248.1ZM1088.8 247L1113 248.1L1102.5 243.6ZM1075.1 250.4L1085.7 254.9L1099.3 251.5ZM1075.1 250.4L1099.3 251.5L1088.8 247ZM1061.5 253.8L1072 258.3L1085.7 254.9ZM1061.5 253.8L1085.7 254.9L1075.1 250.4ZM1047.8 257.2L1058.3 261.8L1072 258.3ZM1047.8 257.2L1072 258.3L1061.5 253.8ZM1034.1 260.7L1044.6 265.2L1058.3 261.8ZM1034.1 260.7L1058.3 261.8L1047.8 257.2ZM1020.4 264.1L1031 268.6L1044.6 265.2ZM1020.4 264.1L1044.6 265.2L1034.1 260.7ZM1006.8 267.5L1017.3 272L1031 268.6ZM1006.8 267.5L1031 268.6L1020.4 264.1ZM993.1 270.9L1003.6 275.4L1017.3 272ZM993.1 270.9L1017.3 272L1006.8 267.5ZM979.4 274.3L989.9 278.8L1003.6 275.4ZM979.4 274.3L1003.6 275.4L993.1 270.9ZM965.7 277.7L976.3 282.3L989.9 278.8ZM965.7 277.7L989.9 278.8L979.4 274.3ZM952.1 281.2L962.6 285.7L976.3 282.3ZM952.1 281.2L976.3 282.3L965.7 277.7ZM938.4 284.6L948.9 289.1L962.6 285.7ZM938.4 284.6L962.6 285.7L952.1 281.2ZM924.7 288L935.2 292.5L948.9 289.1ZM924.7 288L948.9 289.1L938.4 284.6ZM911 291.4L921.6 295.9L935.2 292.5ZM911 291.4L935.2 292.5L924.7 288ZM897.4 294.8L907.9 299.3L921.6 295.9ZM897.4 294.8L921.6 295.9L911 291.4ZM883.7 298.2L894.2 302.8L907.9 299.3ZM883.7 298.2L907.9 299.3L897.4 294.8ZM870 301.7L880.6 306.2L894.2 302.8ZM870 301.7L894.2 302.8L883.7 298.2ZM856.3 305.1L866.9 309.6L880.6 306.2ZM856.3 305.1L880.6 306.2L870 301.7ZM842.7 308.5L853.2 313L866.9 309.6ZM842.7 308.5L866.9 309.6L856.3 305.1Z" fill="#00ffe1" stroke="#00ffe1"/>
<path d="M1099.3 251.5L1109.9 256L1123.5 252.6ZM1099.3 251.5L1123.5 252.6L1113 248.1ZM1085.7 254.9L1096.2 259.4L1109.9 256ZM1085.7 254.9L1109.9 256L1099.3 251.5ZM1072 258.3L1082.5 262.9L1096.2 259.4ZM1072 258.3L1096.2 259.4L1085.7 254.9ZM1058.3 261.8L1068.8 266.3L1082.5 262.9ZM1058.3 261.8L1082.5 262.9L1072 258.3ZM1044.6 265.2L1055.2 269.7L1068.8 266.3ZM1044.6 265.2L1068.8 266.3L1058.3 261.8ZM1031 268.6L1041.5 273.1L1055.2 269.7ZM1031 268.6L1055.2 269.7L1044.6 265.2ZM1017.3 272L1027.8 276.5L1041.5 273.1ZM1017.3 272L1041.5 273.1L1031 268.6ZM1003.6 275.4L1014.1 279.9L1027.8 276.5ZM1003.6 275.4L1027.8 276.5L1017.3 272ZM989.9 278.8L1000.5 283.4L1014.1 279.9ZM989.9 278.8L1014.1 279.9L1003.6 275.4ZM976.3 282.3L986.8 286.8L1000.5 283.4ZM976.3 282.3L1000.5 283.4L989.9 278.8ZM962.6 285.7L973.1 290.2L986.8 286.8ZM962.6 285.7L986.8 286.8L976.3 282.3ZM948.9 289.1L959.5 293.6L973.1 290.2ZM948.9 289.1L973.1 290.2L962.6 285.7ZM935.2 292.5L945.8 297L959.5 293.6ZM935.2 292.5L959.5 293.6L948.9 289.1ZM921.6 295.9L932.1 300.4L945.8 297ZM921.6 295.9L945.8 297L935.2 292.5ZM907.9 299.3L918.4 303.9L932.1 300.4ZM907.9 299.3L932.1 300.4L921.6 295.9ZM894.2 302.8L904.8 307.3L918.4 303.9ZM894.2 302.8L918.4 303.9L907.9 299.3ZM880.6 306.2L891.1 310.7L904.8 307.3ZM880.6 306.2L904.8 307.3L894.2 302.8ZM866.9 309.6L877.4 314.1L891.1 310.7ZM866.9 309.6L891.1 310.7L880.6 306.2ZM853.2 313L863.7 317.5L877.4 314.1ZM853.2 313L877.4 314.1L866.9 309.6Z" fill="#00ffe1" stroke="#00ffe1"/>
<path d="M1109.9 256L1120.4 260.5L1134.1 257.1ZM1109.9 256L1134.1 257.1L1123.5 252.6ZM1096.2 259.4L1106.7 264L1120.4 260.5ZM1096.2 259.4L1120.4 260.5L1109.9 256ZM1082.5 262.9L1093 267.4L1106.7 264ZM1082.5 262.9L1106.7 264L1096.2 259.4ZM1068.8 266.3L1079.4 270.8L1093 267.4ZM1068.8 266.3L1093 267.4L1082.5 262.9ZM1055.2 269.7L1065.7 274.2L1079.4 270.8ZM1055.2 269.7L1079.4 270.8L1068.8 266.3ZM1041.5 273.1L1052 277.6L1065.7 274.2ZM1041.5 273.1L1065.7 274.2L1055.2 269.7ZM1027.8 276.5L1038.4 281L1052 277.6ZM1027.8 276.5L1052 277.6L1041.5 273.1ZM1014.1 279.9L1024.7 284.5L1038.4 281ZM1014.1 279.9L1038.4 281L1027.8 276.5ZM1000.5 283.4L1011 287.9L1024.7 284.5ZM1000.5 283.4L1024.7 284.5L1014.1 279.9ZM986.8 286.8L997.3 291.3L1011 287.9ZM986.8 286.8L1011 287.9L1000.5 283.4ZM973.1 290.2L983.7 294.7L997.3 291.3ZM973.1 290.2L997.3 291.3L986.8 286.8ZM959.5 293.6L970 298.1L983.7 294.7ZM959.5 293.6L983.7 294.7L973.1 290.2ZM945.8 297L956.3 301.5L970 298.1ZM945.8 297L970 298.1L959.5 293.6ZM932.1 300.4L942.6 305L956.3 301.5ZM932.1 300.4L956.3 301.5L945.8 297ZM918.4 303.9L929 308.4L942.6 305ZM918.4 303.9L942.6 305L932.1 300.4ZM904.8 307.3L915.3 311.8L929 308.4ZM904.8 307.3L929 308.4L918.4 303.9ZM891.1 310.7L901.6 315.2L915.3 311.8ZM891.1 310.7L915.3 311.8L904.8 307.3ZM877.4 314.1L887.9 318.6L901.6 315.2ZM877.4 314.1L901.6 315.2L891.1 310.7ZM863.7 317.5L874.3 322L887.9 318.6ZM863.7 317.5L887.9 318.6L877.4 314.1Z" fill="#00ffe1" stroke="#00ffe1"/>
<path d="M1120.4 260.5L1130.9 265.1L1144.6 261.6ZM1120.4 260.5L1144.6 261.6L1134.1 257.1ZM1106.7 264L1117.3 268.5L1130.9 265.1ZM1106.7 264L1130.9 265.1L1120.4 260.5ZM1093 267.4L1103.6 271.9L1117.3 268.5ZM1093 267.4L1117.3 268.5L1106.7 264ZM1079.4 270.8L1089.9 275.3L1103.6 271.9ZM1079.4 270.8L1103.6 271.9L1093 267.4ZM1065.7 274.2L1076.2 278.7L1089.9 275.3ZM1065.7 274.2L1089.9 275.3L1079.4 270.8ZM1052 277.6L1062.6 282.1L1076.2 278.7ZM1052 277.6L1076.2 278.7L1065.7 274.2ZM1038.4 281L1048.9 285.6L1062.6 282.1ZM1038.4 281L1062.6 282.1L1052 277.6ZM1024.7 284.5L1035.2 289L1048.9 285.6ZM1024.7 284.5L1048.9 285.6L1038.4 281ZM1011 287.9L1021.5 292.4L1035.2 289ZM1011 287.9L1035.2 289L1024.7 284.5ZM997.3 291.3L1007.9 295.8L1021.5 292.4ZM997.3 291.3L1021.5 292.4L1011 287.9ZM983.7 294.7L994.2 299.2L1007.9 295.8ZM983.7 294.7L1007.9 295.8L997.3 291.3ZM970 298.1L980.5 302.6L994.2 299.2ZM970 298.1L994.2 299.2L983.7 294.7ZM956.3 301.5L966.8 306.1L980.5 302.6ZM956.3 301.5L980.5 302.6L970 298.1ZM942.6 305L953.2 309.5L966.8 306.1ZM942.6 305L966.8 306.1L956.3 301.5ZM929 308.4L939.5 312.9L953.2 309.5ZM929 308.4L953.2 309.5L942.6 305ZM915.3 311.8L925.8 316.3L939.5 312.9ZM915.3 311.8L939.5 312.9L929 308.4ZM901.6 315.2L912.1 319.7L925.8 316.3ZM901.6 315.2L925.8 316.3L915.3 311.8ZM887.9 318.6L898.5 323.1L912.1 319.7ZM887.9 318.6L912.1 319.7L901.6 315.2ZM874.3 322L884.8 326.5L898.5 323.1ZM874.3 322L898.5 323.1L887.9 318.6Z" fill="#00ffe1" stroke="#00ffe1"/></g>
<line x1="684.7" y1="346.6" x2="684.7" y2="134.9" stroke="#262626" stroke-width="1.1"/>
<line x1="684.7" y1="346.6" x2="884.8" y2="432.4" stroke="#262626" stroke-width="1.1"/>
<line x1="884.8" y1="432.4" x2="1144.6" y2="367.5" stroke="#262626" stroke-width="1.1"/>
<line x1="684.7" y1="346.6" x2="678.1" y2="348.2" stroke="#262626" stroke-width="1.1"/>
<text x="667.7" y="364.3" font-size="14.4" text-anchor="middle" fill="#262626">4</text>
<line x1="734.7" y1="368.1" x2="728.1" y2="369.7" stroke="#262626" stroke-width="1.1"/>
<text x="717.7" y="385.8" font-size="14.4" text-anchor="middle" fill="#262626">2</text>
<line x1="784.8" y1="389.5" x2="778.2" y2="391.1" stroke="#262626" stroke-width="1.1"/>
<text x="767.8" y="407.2" font-size="14.4" text-anchor="middle" fill="#262626">0</text>
<line x1="834.8" y1="410.9" x2="828.2" y2="412.6" stroke="#262626" stroke-width="1.1"/>
<text x="816.2" y="429" font-size="14.4" text-anchor="middle" fill="#262626">-2</text>
<line x1="884.8" y1="432.4" x2="878.2" y2="434" stroke="#262626" stroke-width="1.1"/>
<text x="866.2" y="450.5" font-size="14.4" text-anchor="middle" fill="#262626">-4</text>
<line x1="884.8" y1="432.4" x2="891" y2="435.1" stroke="#262626" stroke-width="1.1"/>
<text x="902.8" y="452.3" font-size="14.4" text-anchor="middle" fill="#262626">-4</text>
<line x1="949.8" y1="416.2" x2="956" y2="418.9" stroke="#262626" stroke-width="1.1"/>
<text x="967.8" y="436.1" font-size="14.4" text-anchor="middle" fill="#262626">-2</text>
<line x1="1014.7" y1="399.9" x2="1020.9" y2="402.6" stroke="#262626" stroke-width="1.1"/>
<text x="1030.7" y="419.3" font-size="14.4" text-anchor="middle" fill="#262626">0</text>
<line x1="1079.6" y1="383.7" x2="1085.9" y2="386.4" stroke="#262626" stroke-width="1.1"/>
<text x="1095.6" y="403.1" font-size="14.4" text-anchor="middle" fill="#262626">2</text>
<line x1="1144.6" y1="367.5" x2="1150.8" y2="370.2" stroke="#262626" stroke-width="1.1"/>
<text x="1160.6" y="386.9" font-size="14.4" text-anchor="middle" fill="#262626">4</text>
<line x1="684.7" y1="346.6" x2="678.5" y2="343.9" stroke="#262626" stroke-width="1.1"/>
<text x="672.3" y="348.3" font-size="14.4" text-anchor="end" fill="#262626">-2</text>
<line x1="684.7" y1="293.7" x2="678.5" y2="291" stroke="#262626" stroke-width="1.1"/>
<text x="672.3" y="295.4" font-size="14.4" text-anchor="end" fill="#262626">-1</text>
<line x1="684.7" y1="240.8" x2="678.5" y2="238.1" stroke="#262626" stroke-width="1.1"/>
<text x="672.3" y="242.4" font-size="14.4" text-anchor="end" fill="#262626">0</text>
<line x1="684.7" y1="187.8" x2="678.5" y2="185.1" stroke="#262626" stroke-width="1.1"/>
<text x="672.3" y="189.5" font-size="14.4" text-anchor="end" fill="#262626">1</text>
<line x1="684.7" y1="134.9" x2="678.5" y2="132.2" stroke="#262626" stroke-width="1.1"/>
<text x="672.3" y="136.6" font-size="14.4" text-anchor="end" fill="#262626">2</text>
<text x="680" y="113.1" font-size="14.4" text-anchor="end" fill="#262626"><tspan font-size="18" fill="#555" dy="1">×</tspan><tspan dy="-1">10</tspan><tspan font-size="11" dy="-6.8" dx="1">14</tspan></text>
<text x="938" y="24.9" font-size="29" font-weight="bold" text-anchor="middle" fill="#000">(b<tspan font-size="22" dy="14.3">1</tspan><tspan dy="-14.3">)</tspan></text>
<text x="794.2" y="467.3" font-size="28" text-anchor="middle" fill="#262626">t</text>
<text x="993.2" y="472.4" font-size="28" text-anchor="middle" fill="#262626">x</text>
<text transform="translate(636 241.1) rotate(-90)" font-size="28" letter-spacing="0.9" text-anchor="middle" fill="#262626">U<tspan font-size="23" dy="14.5">68</tspan><tspan dy="-14.5">(x,t)</tspan></text>
</g>
<g id="s3">
<line x1="1352.7" y1="329.6" x2="1556.4" y2="415.6" stroke="#e4e4e4" stroke-width="1"/>
<line x1="1441.3" y1="411.1" x2="1697.9" y2="343.1" stroke="#e4e4e4" stroke-width="1"/>
<line x1="1352.7" y1="329.6" x2="1352.7" y2="120.4" stroke="#e4e4e4" stroke-width="1"/>
<line x1="1697.9" y1="343.1" x2="1697.9" y2="133.9" stroke="#e4e4e4" stroke-width="1"/>
<line x1="1416.8" y1="312.6" x2="1620.5" y2="398.6" stroke="#e4e4e4" stroke-width="1"/>
<line x1="1390.3" y1="389.6" x2="1646.9" y2="321.6" stroke="#e4e4e4" stroke-width="1"/>
<line x1="1416.8" y1="312.6" x2="1416.8" y2="103.4" stroke="#e4e4e4" stroke-width="1"/>
<line x1="1646.9" y1="321.6" x2="1646.9" y2="112.4" stroke="#e4e4e4" stroke-width="1"/>
<line x1="1480.9" y1="295.6" x2="1684.6" y2="381.6" stroke="#e4e4e4" stroke-width="1"/>
<line x1="1339.4" y1="368.1" x2="1596" y2="300.1" stroke="#e4e4e4" stroke-width="1"/>
<line x1="1480.9" y1="295.6" x2="1480.9" y2="86.4" stroke="#e4e4e4" stroke-width="1"/>
<line x1="1596" y1="300.1" x2="1596" y2="90.9" stroke="#e4e4e4" stroke-width="1"/>
<line x1="1288.5" y1="294.3" x2="1545.1" y2="226.3" stroke="#e4e4e4" stroke-width="1"/>
<line x1="1545.1" y1="226.3" x2="1748.8" y2="312.3" stroke="#e4e4e4" stroke-width="1"/>
<line x1="1288.5" y1="242" x2="1545.1" y2="174" stroke="#e4e4e4" stroke-width="1"/>
<line x1="1545.1" y1="174" x2="1748.8" y2="260" stroke="#e4e4e4" stroke-width="1"/>
<line x1="1288.5" y1="189.7" x2="1545.1" y2="121.7" stroke="#e4e4e4" stroke-width="1"/>
<line x1="1545.1" y1="121.7" x2="1748.8" y2="207.7" stroke="#e4e4e4" stroke-width="1"/>
<line x1="1288.5" y1="346.6" x2="1545.1" y2="278.6" stroke="#dcdcdc" stroke-width="1"/>
<line x1="1545.1" y1="278.6" x2="1748.8" y2="364.6" stroke="#dcdcdc" stroke-width="1"/>
<line x1="1545.1" y1="278.6" x2="1545.1" y2="69.4" stroke="#dcdcdc" stroke-width="1"/>
<line x1="1288.5" y1="137.4" x2="1545.1" y2="69.4" stroke="#dcdcdc" stroke-width="1"/>
<line x1="1545.1" y1="69.4" x2="1748.8" y2="155.4" stroke="#dcdcdc" stroke-width="1"/>
<line x1="1748.8" y1="364.6" x2="1748.8" y2="155.4" stroke="#dcdcdc" stroke-width="1"/>
<g stroke-linejoin="round" stroke-width="0.6"><path d="M1531.6 239.7L1542.3 82.3L1555.8 85.4Z" fill="url(#e30)" stroke="url(#e30)"/>
<path d="M1531.6 239.7L1555.8 85.4L1545.1 232Z" fill="url(#e31)" stroke="url(#e31)"/>
<path d="M1518.1 241.4L1528.8 89.1L1542.3 82.3Z" fill="url(#e32)" stroke="url(#e32)"/>
<path d="M1518.1 241.4L1542.3 82.3L1531.6 239.7Z" fill="url(#e33)" stroke="url(#e33)"/>
<path d="M1504.6 237.4L1515.3 105.3L1528.8 89.1Z" fill="url(#e34)" stroke="url(#e34)"/>
<path d="M1504.6 237.4L1528.8 89.1L1518.1 241.4Z" fill="url(#e35)" stroke="url(#e35)"/>
<path d="M1491.1 232L1501.8 123.9L1515.3 105.3Z" fill="url(#e36)" stroke="url(#e36)"/>
<path d="M1491.1 232L1515.3 105.3L1504.6 237.4Z" fill="url(#e37)" stroke="url(#e37)"/>
<path d="M1477.6 226.7L1488.3 142.4L1501.8 123.9Z" fill="url(#e38)" stroke="url(#e38)"/>
<path d="M1477.6 226.7L1501.8 123.9L1491.1 232Z" fill="url(#e39)" stroke="url(#e39)"/>
<path d="M1464.1 222.6L1474.8 158.9L1488.3 142.4Z" fill="url(#e3a)" stroke="url(#e3a)"/>
<path d="M1464.1 222.6L1488.3 142.4L1477.6 226.7Z" fill="url(#e3b)" stroke="url(#e3b)"/>
<path d="M1450.6 220L1461.3 172.8L1474.8 158.9Z" fill="url(#e3c)" stroke="url(#e3c)"/>
<path d="M1450.6 220L1474.8 158.9L1464.1 222.6Z" fill="url(#e3d)" stroke="url(#e3d)"/>
<path d="M1437.1 218.7L1447.8 184.5L1461.3 172.8Z" fill="url(#e3e)" stroke="url(#e3e)"/>
<path d="M1437.1 218.7L1461.3 172.8L1450.6 220Z" fill="url(#e3f)" stroke="url(#e3f)"/>
<path d="M1423.6 219.3L1434.3 193.2L1447.8 184.5Z" fill="url(#e3g)" stroke="url(#e3g)"/>
<path d="M1423.6 219.3L1447.8 184.5L1437.1 218.7Z" fill="url(#e3h)" stroke="url(#e3h)"/>
<path d="M1410 220.6L1420.8 200.6L1434.3 193.2Z" fill="url(#e3i)" stroke="url(#e3i)"/>
<path d="M1410 220.6L1434.3 193.2L1423.6 219.3Z" fill="url(#e3j)" stroke="url(#e3j)"/>
<path d="M1396.5 223.2L1407.3 205.6L1420.8 200.6Z" fill="url(#e3k)" stroke="url(#e3k)"/>
<path d="M1396.5 223.2L1420.8 200.6L1410 220.6Z" fill="url(#e3l)" stroke="url(#e3l)"/>
<path d="M1383 226L1393.8 210.3L1407.3 205.6Z" fill="url(#e3m)" stroke="url(#e3m)"/>
<path d="M1383 226L1407.3 205.6L1396.5 223.2Z" fill="url(#e3n)" stroke="url(#e3n)"/>
<path d="M1369.5 229.1L1380.3 214.4L1393.8 210.3Z" fill="url(#e3o)" stroke="url(#e3o)"/>
<path d="M1369.5 229.1L1393.8 210.3L1383 226Z" fill="url(#e3p)" stroke="url(#e3p)"/>
<path d="M1356 232.2L1366.7 218.6L1380.3 214.4Z" fill="url(#e3q)" stroke="url(#e3q)"/>
<path d="M1356 232.2L1380.3 214.4L1369.5 229.1Z" fill="url(#e3r)" stroke="url(#e3r)"/>
<path d="M1342.5 235.6L1353.2 222.3L1366.7 218.6Z" fill="url(#e3s)" stroke="url(#e3s)"/>
<path d="M1342.5 235.6L1366.7 218.6L1356 232.2Z" fill="url(#e3t)" stroke="url(#e3t)"/>
<path d="M1329 239.1L1339.7 225.9L1353.2 222.3Z" fill="url(#e3u)" stroke="url(#e3u)"/>
<path d="M1329 239.1L1353.2 222.3L1342.5 235.6Z" fill="url(#e3v)" stroke="url(#e3v)"/>
<path d="M1315.5 242.6L1326.2 229.3L1339.7 225.9Z" fill="url(#e3w)" stroke="url(#e3w)"/>
<path d="M1315.5 242.6L1339.7 225.9L1329 239.1Z" fill="url(#e3x)" stroke="url(#e3x)"/>
<path d="M1302 246.2L1312.7 232.7L1326.2 229.3Z" fill="url(#e3y)" stroke="url(#e3y)"/>
<path d="M1302 246.2L1326.2 229.3L1315.5 242.6Z" fill="url(#e3z)" stroke="url(#e3z)"/>
<path d="M1288.5 249.8L1299.2 236.1L1312.7 232.7Z" fill="url(#e310)" stroke="url(#e310)"/>
<path d="M1288.5 249.8L1312.7 232.7L1302 246.2Z" fill="url(#e311)" stroke="url(#e311)"/>
<path d="M1542.3 82.3L1553 281.3L1566.5 271.4Z" fill="url(#e312)" stroke="url(#e312)"/>
<path d="M1542.3 82.3L1566.5 271.4L1555.8 85.4Z" fill="url(#e313)" stroke="url(#e313)"/>
<path d="M1528.8 89.1L1539.5 281.9L1553 281.3Z" fill="url(#e314)" stroke="url(#e314)"/>
<path d="M1528.8 89.1L1553 281.3L1542.3 82.3Z" fill="url(#e315)" stroke="url(#e315)"/>
<path d="M1515.3 105.3L1526 273.5L1539.5 281.9Z" fill="url(#e316)" stroke="url(#e316)"/>
<path d="M1515.3 105.3L1539.5 281.9L1528.8 89.1Z" fill="url(#e317)" stroke="url(#e317)"/>
<path d="M1501.8 123.9L1512.5 262.9L1526 273.5Z" fill="url(#e318)" stroke="url(#e318)"/>
<path d="M1501.8 123.9L1526 273.5L1515.3 105.3Z" fill="url(#e319)" stroke="url(#e319)"/>
<path d="M1488.3 142.4L1499 252.4L1512.5 262.9Z" fill="url(#e31a)" stroke="url(#e31a)"/>
<path d="M1488.3 142.4L1512.5 262.9L1501.8 123.9Z" fill="url(#e31b)" stroke="url(#e31b)"/>
<path d="M1474.8 158.9L1485.5 243.8L1499 252.4Z" fill="url(#e31c)" stroke="url(#e31c)"/>
<path d="M1474.8 158.9L1499 252.4L1488.3 142.4Z" fill="url(#e31d)" stroke="url(#e31d)"/>
<path d="M1461.3 172.8L1472 237.6L1485.5 243.8Z" fill="url(#e31e)" stroke="url(#e31e)"/>
<path d="M1461.3 172.8L1485.5 243.8L1474.8 158.9Z" fill="url(#e31f)" stroke="url(#e31f)"/>
<path d="M1447.8 184.5L1458.5 233.5L1472 237.6Z" fill="url(#e31g)" stroke="url(#e31g)"/>
<path d="M1447.8 184.5L1472 237.6L1461.3 172.8Z" fill="url(#e31h)" stroke="url(#e31h)"/>
<path d="M1434.3 193.2L1445 232.3L1458.5 233.5Z" fill="url(#e31i)" stroke="url(#e31i)"/>
<path d="M1434.3 193.2L1458.5 233.5L1447.8 184.5Z" fill="url(#e31j)" stroke="url(#e31j)"/>
<path d="M1420.8 200.6L1431.5 232.2L1445 232.3Z" fill="url(#e31k)" stroke="url(#e31k)"/>
<path d="M1420.8 200.6L1445 232.3L1434.3 193.2Z" fill="url(#e31l)" stroke="url(#e31l)"/>
<path d="M1407.3 205.6L1418 234.5L1431.5 232.2Z" fill="url(#e31m)" stroke="url(#e31m)"/>
<path d="M1407.3 205.6L1431.5 232.2L1420.8 200.6Z" fill="url(#e31n)" stroke="url(#e31n)"/>
<path d="M1393.8 210.3L1404.5 237.1L1418 234.5Z" fill="url(#e31o)" stroke="url(#e31o)"/>
<path d="M1393.8 210.3L1418 234.5L1407.3 205.6Z" fill="url(#e31p)" stroke="url(#e31p)"/>
<path d="M1380.3 214.4L1391 240.2L1404.5 237.1Z" fill="url(#e31q)" stroke="url(#e31q)"/>
<path d="M1380.3 214.4L1404.5 237.1L1393.8 210.3Z" fill="url(#e31r)" stroke="url(#e31r)"/>
<path d="M1366.7 218.6L1377.5 243.2L1391 240.2Z" fill="url(#e31s)" stroke="url(#e31s)"/>
<path d="M1366.7 218.6L1391 240.2L1380.3 214.4Z" fill="url(#e31t)" stroke="url(#e31t)"/>
<path d="M1353.2 222.3L1364 246.8L1377.5 243.2Z" fill="url(#e31u)" stroke="url(#e31u)"/>
<path d="M1353.2 222.3L1377.5 243.2L1366.7 218.6Z" fill="url(#e31v)" stroke="url(#e31v)"/>
<path d="M1339.7 225.9L1350.5 250.3L1364 246.8Z" fill="url(#e31w)" stroke="url(#e31w)"/>
<path d="M1339.7 225.9L1364 246.8L1353.2 222.3Z" fill="url(#e31x)" stroke="url(#e31x)"/>
<path d="M1326.2 229.3L1337 254.1L1350.5 250.3Z" fill="url(#e31y)" stroke="url(#e31y)"/>
<path d="M1326.2 229.3L1350.5 250.3L1339.7 225.9Z" fill="url(#e31z)" stroke="url(#e31z)"/>
<path d="M1312.7 232.7L1323.4 257.9L1337 254.1Z" fill="url(#e320)" stroke="url(#e320)"/>
<path d="M1312.7 232.7L1337 254.1L1326.2 229.3Z" fill="url(#e321)" stroke="url(#e321)"/>
<path d="M1299.2 236.1L1309.9 261.7L1323.4 257.9Z" fill="url(#e322)" stroke="url(#e322)"/>
<path d="M1299.2 236.1L1323.4 257.9L1312.7 232.7Z" fill="url(#e323)" stroke="url(#e323)"/>
<path d="M1553 281.3L1563.8 117.1L1577.3 118.3Z" fill="url(#e324)" stroke="url(#e324)"/>
<path d="M1553 281.3L1577.3 118.3L1566.5 271.4Z" fill="url(#e325)" stroke="url(#e325)"/>
<path d="M1539.5 281.9L1550.3 123L1563.8 117.1Z" fill="url(#e326)" stroke="url(#e326)"/>
<path d="M1539.5 281.9L1563.8 117.1L1553 281.3Z" fill="url(#e327)" stroke="url(#e327)"/>
<path d="M1526 273.5L1536.7 135.7L1550.3 123Z" fill="url(#e328)" stroke="url(#e328)"/>
<path d="M1526 273.5L1550.3 123L1539.5 281.9Z" fill="url(#e329)" stroke="url(#e329)"/>
<path d="M1512.5 262.9L1523.2 150L1536.7 135.7Z" fill="url(#e32a)" stroke="url(#e32a)"/>
<path d="M1512.5 262.9L1536.7 135.7L1526 273.5Z" fill="url(#e32b)" stroke="url(#e32b)"/>
<path d="M1499 252.4L1509.7 164.4L1523.2 150Z" fill="url(#e32c)" stroke="url(#e32c)"/>
<path d="M1499 252.4L1523.2 150L1512.5 262.9Z" fill="url(#e32d)" stroke="url(#e32d)"/>
<path d="M1485.5 243.8L1496.2 177.3L1509.7 164.4Z" fill="url(#e32e)" stroke="url(#e32e)"/>
<path d="M1485.5 243.8L1509.7 164.4L1499 252.4Z" fill="url(#e32f)" stroke="url(#e32f)"/>
<path d="M1472 237.6L1482.7 188.2L1496.2 177.3Z" fill="url(#e32g)" stroke="url(#e32g)"/>
<path d="M1472 237.6L1496.2 177.3L1485.5 243.8Z" fill="url(#e32h)" stroke="url(#e32h)"/>
<path d="M1458.5 233.5L1469.2 197.7L1482.7 188.2Z" fill="url(#e32i)" stroke="url(#e32i)"/>
<path d="M1458.5 233.5L1482.7 188.2L1472 237.6Z" fill="url(#e32j)" stroke="url(#e32j)"/>
<path d="M1445 232.3L1455.7 205L1469.2 197.7Z" fill="url(#e32k)" stroke="url(#e32k)"/>
<path d="M1445 232.3L1469.2 197.7L1458.5 233.5Z" fill="url(#e32l)" stroke="url(#e32l)"/>
<path d="M1431.5 232.2L1442.2 211.5L1455.7 205Z" fill="url(#e32m)" stroke="url(#e32m)"/>
<path d="M1431.5 232.2L1455.7 205L1445 232.3Z" fill="url(#e32n)" stroke="url(#e32n)"/>
<path d="M1418 234.5L1428.7 216.5L1442.2 211.5Z" fill="url(#e32o)" stroke="url(#e32o)"/>
<path d="M1418 234.5L1442.2 211.5L1431.5 232.2Z" fill="url(#e32p)" stroke="url(#e32p)"/>
<path d="M1404.5 237.1L1415.2 221.2L1428.7 216.5Z" fill="url(#e32q)" stroke="url(#e32q)"/>
<path d="M1404.5 237.1L1428.7 216.5L1418 234.5Z" fill="url(#e32r)" stroke="url(#e32r)"/>
<path d="M1391 240.2L1401.7 225.6L1415.2 221.2Z" fill="url(#e32s)" stroke="url(#e32s)"/>
<path d="M1391 240.2L1415.2 221.2L1404.5 237.1Z" fill="url(#e32t)" stroke="url(#e32t)"/>
<path d="M1377.5 243.2L1388.2 230L1401.7 225.6Z" fill="url(#e32u)" stroke="url(#e32u)"/>
<path d="M1377.5 243.2L1401.7 225.6L1391 240.2Z" fill="url(#e32v)" stroke="url(#e32v)"/>
<path d="M1364 246.8L1374.7 234L1388.2 230Z" fill="url(#e32w)" stroke="url(#e32w)"/>
<path d="M1364 246.8L1388.2 230L1377.5 243.2Z" fill="url(#e32x)" stroke="url(#e32x)"/>
<path d="M1350.5 250.3L1361.2 238L1374.7 234Z" fill="url(#e32y)" stroke="url(#e32y)"/>
<path d="M1350.5 250.3L1374.7 234L1364 246.8Z" fill="url(#e32z)" stroke="url(#e32z)"/>
<path d="M1337 254.1L1347.7 241.9L1361.2 238Z" fill="url(#e330)" stroke="url(#e330)"/>
<path d="M1337 254.1L1361.2 238L1350.5 250.3Z" fill="url(#e331)" stroke="url(#e331)"/>
<path d="M1323.4 257.9L1334.2 245.7L1347.7 241.9Z" fill="url(#e332)" stroke="url(#e332)"/>
<path d="M1323.4 257.9L1347.7 241.9L1337 254.1Z" fill="url(#e333)" stroke="url(#e333)"/>
<path d="M1309.9 261.7L1320.7 249.5L1334.2 245.7Z" fill="url(#e334)" stroke="url(#e334)"/>
<path d="M1309.9 261.7L1334.2 245.7L1323.4 257.9Z" fill="url(#e335)" stroke="url(#e335)"/>
<path d="M1563.8 117.1L1574.5 246.1L1588 239.4Z" fill="url(#e336)" stroke="url(#e336)"/>
<path d="M1563.8 117.1L1588 239.4L1577.3 118.3Z" fill="url(#e337)" stroke="url(#e337)"/>
<path d="M1550.3 123L1561 248.1L1574.5 246.1Z" fill="url(#e338)" stroke="url(#e338)"/>
<path d="M1550.3 123L1574.5 246.1L1563.8 117.1Z" fill="url(#e339)" stroke="url(#e339)"/>
<path d="M1536.7 135.7L1547.5 245.9L1561 248.1Z" fill="url(#e33a)" stroke="url(#e33a)"/>
<path d="M1536.7 135.7L1561 248.1L1550.3 123Z" fill="url(#e33b)" stroke="url(#e33b)"/>
<path d="M1523.2 150L1534 242.5L1547.5 245.9Z" fill="url(#e33c)" stroke="url(#e33c)"/>
<path d="M1523.2 150L1547.5 245.9L1536.7 135.7Z" fill="url(#e33d)" stroke="url(#e33d)"/>
<path d="M1509.7 164.4L1520.5 239.2L1534 242.5Z" fill="url(#e33e)" stroke="url(#e33e)"/>
<path d="M1509.7 164.4L1534 242.5L1523.2 150Z" fill="url(#e33f)" stroke="url(#e33f)"/>
<path d="M1496.2 177.3L1507 236.8L1520.5 239.2Z" fill="url(#e33g)" stroke="url(#e33g)"/>
<path d="M1496.2 177.3L1520.5 239.2L1509.7 164.4Z" fill="url(#e33h)" stroke="url(#e33h)"/>
<path d="M1482.7 188.2L1493.4 235.6L1507 236.8Z" fill="url(#e33i)" stroke="url(#e33i)"/>
<path d="M1482.7 188.2L1507 236.8L1496.2 177.3Z" fill="url(#e33j)" stroke="url(#e33j)"/>
<path d="M1469.2 197.7L1479.9 235.4L1493.4 235.6Z" fill="url(#e33k)" stroke="url(#e33k)"/>
<path d="M1469.2 197.7L1493.4 235.6L1482.7 188.2Z" fill="url(#e33l)" stroke="url(#e33l)"/>
<path d="M1455.7 205L1466.4 236.6L1479.9 235.4Z" fill="url(#e33m)" stroke="url(#e33m)"/>
<path d="M1455.7 205L1479.9 235.4L1469.2 197.7Z" fill="url(#e33n)" stroke="url(#e33n)"/>
<path d="M1442.2 211.5L1452.9 238.3L1466.4 236.6Z" fill="url(#e33o)" stroke="url(#e33o)"/>
<path d="M1442.2 211.5L1466.4 236.6L1455.7 205Z" fill="url(#e33p)" stroke="url(#e33p)"/>
<path d="M1428.7 216.5L1439.4 240.9L1452.9 238.3Z" fill="url(#e33q)" stroke="url(#e33q)"/>
<path d="M1428.7 216.5L1452.9 238.3L1442.2 211.5Z" fill="url(#e33r)" stroke="url(#e33r)"/>
<path d="M1415.2 221.2L1425.9 243.7L1439.4 240.9Z" fill="url(#e33s)" stroke="url(#e33s)"/>
<path d="M1415.2 221.2L1439.4 240.9L1428.7 216.5Z" fill="url(#e33t)" stroke="url(#e33t)"/>
<path d="M1401.7 225.6L1412.4 246.7L1425.9 243.7Z" fill="url(#e33u)" stroke="url(#e33u)"/>
<path d="M1401.7 225.6L1425.9 243.7L1415.2 221.2Z" fill="url(#e33v)" stroke="url(#e33v)"/>
<path d="M1388.2 230L1398.9 249.7L1412.4 246.7Z" fill="url(#e33w)" stroke="url(#e33w)"/>
<path d="M1388.2 230L1412.4 246.7L1401.7 225.6Z" fill="url(#e33x)" stroke="url(#e33x)"/>
<path d="M1374.7 234L1385.4 252.9L1398.9 249.7Z" fill="url(#e33y)" stroke="url(#e33y)"/>
<path d="M1374.7 234L1398.9 249.7L1388.2 230Z" fill="url(#e33z)" stroke="url(#e33z)"/>
<path d="M1361.2 238L1371.9 256.1L1385.4 252.9Z" fill="url(#e340)" stroke="url(#e340)"/>
<path d="M1361.2 238L1385.4 252.9L1374.7 234Z" fill="url(#e341)" stroke="url(#e341)"/>
<path d="M1347.7 241.9L1358.4 259.5L1371.9 256.1Z" fill="url(#e342)" stroke="url(#e342)"/>
<path d="M1347.7 241.9L1371.9 256.1L1361.2 238Z" fill="url(#e343)" stroke="url(#e343)"/>
<path d="M1334.2 245.7L1344.9 262.8L1358.4 259.5Z" fill="url(#e344)" stroke="url(#e344)"/>
<path d="M1334.2 245.7L1358.4 259.5L1347.7 241.9Z" fill="url(#e345)" stroke="url(#e345)"/>
<path d="M1320.7 249.5L1331.4 266.2L1344.9 262.8Z" fill="url(#e346)" stroke="url(#e346)"/>
<path d="M1320.7 249.5L1344.9 262.8L1334.2 245.7Z" fill="url(#e347)" stroke="url(#e347)"/>
<path d="M1574.5 246.1L1585.2 165L1598.7 163.3Z" fill="url(#e348)" stroke="url(#e348)"/>
<path d="M1574.5 246.1L1598.7 163.3L1588 239.4Z" fill="url(#e349)" stroke="url(#e349)"/>
<path d="M1561 248.1L1571.7 169.6L1585.2 165Z" fill="url(#e34a)" stroke="url(#e34a)"/>
<path d="M1561 248.1L1585.2 165L1574.5 246.1Z" fill="url(#e34b)" stroke="url(#e34b)"/>
<path d="M1547.5 245.9L1558.2 176.9L1571.7 169.6Z" fill="url(#e34c)" stroke="url(#e34c)"/>
<path d="M1547.5 245.9L1571.7 169.6L1561 248.1Z" fill="url(#e34d)" stroke="url(#e34d)"/>
<path d="M1534 242.5L1544.7 184.9L1558.2 176.9Z" fill="url(#e34e)" stroke="url(#e34e)"/>
<path d="M1534 242.5L1558.2 176.9L1547.5 245.9Z" fill="url(#e34f)" stroke="url(#e34f)"/>
<path d="M1520.5 239.2L1531.2 193L1544.7 184.9Z" fill="url(#e34g)" stroke="url(#e34g)"/>
<path d="M1520.5 239.2L1544.7 184.9L1534 242.5Z" fill="url(#e34h)" stroke="url(#e34h)"/>
<path d="M1507 236.8L1517.7 200.4L1531.2 193Z" fill="url(#e34i)" stroke="url(#e34i)"/>
<path d="M1507 236.8L1531.2 193L1520.5 239.2Z" fill="url(#e34j)" stroke="url(#e34j)"/>
<path d="M1493.4 235.6L1504.2 207L1517.7 200.4Z" fill="url(#e34k)" stroke="url(#e34k)"/>
<path d="M1493.4 235.6L1517.7 200.4L1507 236.8Z" fill="url(#e34l)" stroke="url(#e34l)"/>
<path d="M1479.9 235.4L1490.7 213L1504.2 207Z" fill="url(#e34m)" stroke="url(#e34m)"/>
<path d="M1479.9 235.4L1504.2 207L1493.4 235.6Z" fill="url(#e34n)" stroke="url(#e34n)"/>
<path d="M1466.4 236.6L1477.2 218.1L1490.7 213Z" fill="url(#e34o)" stroke="url(#e34o)"/>
<path d="M1466.4 236.6L1490.7 213L1479.9 235.4Z" fill="url(#e34p)" stroke="url(#e34p)"/>
<path d="M1452.9 238.3L1463.7 223.1L1477.2 218.1Z" fill="url(#e34q)" stroke="url(#e34q)"/>
<path d="M1452.9 238.3L1477.2 218.1L1466.4 236.6Z" fill="url(#e34r)" stroke="url(#e34r)"/>
<path d="M1439.4 240.9L1450.1 227.4L1463.7 223.1Z" fill="url(#e34s)" stroke="url(#e34s)"/>
<path d="M1439.4 240.9L1463.7 223.1L1452.9 238.3Z" fill="url(#e34t)" stroke="url(#e34t)"/>
<path d="M1425.9 243.7L1436.6 231.7L1450.1 227.4Z" fill="url(#e34u)" stroke="url(#e34u)"/>
<path d="M1425.9 243.7L1450.1 227.4L1439.4 240.9Z" fill="url(#e34v)" stroke="url(#e34v)"/>
<path d="M1412.4 246.7L1423.1 235.9L1436.6 231.7Z" fill="url(#e34w)" stroke="url(#e34w)"/>
<path d="M1412.4 246.7L1436.6 231.7L1425.9 243.7Z" fill="url(#e34x)" stroke="url(#e34x)"/>
<path d="M1398.9 249.7L1409.6 240L1423.1 235.9Z" fill="url(#e34y)" stroke="url(#e34y)"/>
<path d="M1398.9 249.7L1423.1 235.9L1412.4 246.7Z" fill="url(#e34z)" stroke="url(#e34z)"/>
<path d="M1385.4 252.9L1396.1 244L1409.6 240Z" fill="url(#e350)" stroke="url(#e350)"/>
<path d="M1385.4 252.9L1409.6 240L1398.9 249.7Z" fill="url(#e351)" stroke="url(#e351)"/>
<path d="M1371.9 256.1L1382.6 248L1396.1 244Z" fill="url(#e352)" stroke="url(#e352)"/>
<path d="M1371.9 256.1L1396.1 244L1385.4 252.9Z" fill="url(#e353)" stroke="url(#e353)"/>
<path d="M1358.4 259.5L1369.1 251.9L1382.6 248Z" fill="url(#e354)" stroke="url(#e354)"/>
<path d="M1358.4 259.5L1382.6 248L1371.9 256.1Z" fill="url(#e355)" stroke="url(#e355)"/>
<path d="M1344.9 262.8L1355.6 255.8L1369.1 251.9Z" fill="url(#e356)" stroke="url(#e356)"/>
<path d="M1344.9 262.8L1369.1 251.9L1358.4 259.5Z" fill="url(#e357)" stroke="url(#e357)"/>
<path d="M1331.4 266.2L1342.1 259.7L1355.6 255.8Z" fill="url(#e358)" stroke="url(#e358)"/>
<path d="M1331.4 266.2L1355.6 255.8L1344.9 262.8Z" fill="url(#e359)" stroke="url(#e359)"/>
<path d="M1585.2 165L1595.9 227.1L1609.4 222.6Z" fill="url(#e35a)" stroke="url(#e35a)"/>
<path d="M1585.2 165L1609.4 222.6L1598.7 163.3Z" fill="url(#e35b)" stroke="url(#e35b)"/>
<path d="M1571.7 169.6L1582.4 230.1L1595.9 227.1Z" fill="url(#e35c)" stroke="url(#e35c)"/>
<path d="M1571.7 169.6L1595.9 227.1L1585.2 165Z" fill="url(#e35d)" stroke="url(#e35d)"/>
<path d="M1558.2 176.9L1568.9 231.7L1582.4 230.1Z" fill="url(#e35e)" stroke="url(#e35e)"/>
<path d="M1558.2 176.9L1582.4 230.1L1571.7 169.6Z" fill="url(#e35f)" stroke="url(#e35f)"/>
<path d="M1544.7 184.9L1555.4 232.9L1568.9 231.7Z" fill="url(#e35g)" stroke="url(#e35g)"/>
<path d="M1544.7 184.9L1568.9 231.7L1558.2 176.9Z" fill="url(#e35h)" stroke="url(#e35h)"/>
<path d="M1531.2 193L1541.9 234.2L1555.4 232.9Z" fill="url(#e35i)" stroke="url(#e35i)"/>
<path d="M1531.2 193L1555.4 232.9L1544.7 184.9Z" fill="url(#e35j)" stroke="url(#e35j)"/>
<path d="M1517.7 200.4L1528.4 235.7L1541.9 234.2Z" fill="url(#e35k)" stroke="url(#e35k)"/>
<path d="M1517.7 200.4L1541.9 234.2L1531.2 193Z" fill="url(#e35l)" stroke="url(#e35l)"/>
<path d="M1504.2 207L1514.9 237.7L1528.4 235.7Z" fill="url(#e35m)" stroke="url(#e35m)"/>
<path d="M1504.2 207L1528.4 235.7L1517.7 200.4Z" fill="url(#e35n)" stroke="url(#e35n)"/>
<path d="M1490.7 213L1501.4 240L1514.9 237.7Z" fill="url(#e35o)" stroke="url(#e35o)"/>
<path d="M1490.7 213L1514.9 237.7L1504.2 207Z" fill="url(#e35p)" stroke="url(#e35p)"/>
<path d="M1477.2 218.1L1487.9 242.7L1501.4 240Z" fill="url(#e35q)" stroke="url(#e35q)"/>
<path d="M1477.2 218.1L1501.4 240L1490.7 213Z" fill="url(#e35r)" stroke="url(#e35r)"/>
<path d="M1463.7 223.1L1474.4 245.4L1487.9 242.7Z" fill="url(#e35s)" stroke="url(#e35s)"/>
<path d="M1463.7 223.1L1487.9 242.7L1477.2 218.1Z" fill="url(#e35t)" stroke="url(#e35t)"/>
<path d="M1450.1 227.4L1460.9 248.3L1474.4 245.4Z" fill="url(#e35u)" stroke="url(#e35u)"/>
<path d="M1450.1 227.4L1474.4 245.4L1463.7 223.1Z" fill="url(#e35v)" stroke="url(#e35v)"/>
<path d="M1436.6 231.7L1447.4 251.3L1460.9 248.3Z" fill="url(#e35w)" stroke="url(#e35w)"/>
<path d="M1436.6 231.7L1460.9 248.3L1450.1 227.4Z" fill="url(#e35x)" stroke="url(#e35x)"/>
<path d="M1423.1 235.9L1433.9 254.3L1447.4 251.3Z" fill="url(#e35y)" stroke="url(#e35y)"/>
<path d="M1423.1 235.9L1447.4 251.3L1436.6 231.7Z" fill="url(#e35z)" stroke="url(#e35z)"/>
<path d="M1409.6 240L1420.4 257.3L1433.9 254.3Z" fill="url(#e360)" stroke="url(#e360)"/>
<path d="M1409.6 240L1433.9 254.3L1423.1 235.9Z" fill="url(#e361)" stroke="url(#e361)"/>
<path d="M1396.1 244L1406.8 260.4L1420.4 257.3Z" fill="url(#e362)" stroke="url(#e362)"/>
<path d="M1396.1 244L1420.4 257.3L1409.6 240Z" fill="url(#e363)" stroke="url(#e363)"/>
<path d="M1382.6 248L1393.3 263.5L1406.8 260.4Z" fill="url(#e364)" stroke="url(#e364)"/>
<path d="M1382.6 248L1406.8 260.4L1396.1 244Z" fill="url(#e365)" stroke="url(#e365)"/>
<path d="M1369.1 251.9L1379.8 266.7L1393.3 263.5Z" fill="url(#e366)" stroke="url(#e366)"/>
<path d="M1369.1 251.9L1393.3 263.5L1382.6 248Z" fill="url(#e367)" stroke="url(#e367)"/>
<path d="M1355.6 255.8L1366.3 269.8L1379.8 266.7Z" fill="url(#e368)" stroke="url(#e368)"/>
<path d="M1355.6 255.8L1379.8 266.7L1369.1 251.9Z" fill="url(#e369)" stroke="url(#e369)"/>
<path d="M1342.1 259.7L1352.8 272.9L1366.3 269.8Z" fill="url(#e36a)" stroke="url(#e36a)"/>
<path d="M1342.1 259.7L1366.3 269.8L1355.6 255.8Z" fill="url(#e36b)" stroke="url(#e36b)"/>
<path d="M1595.9 227.1L1606.6 193.4L1620.1 190.3Z" fill="url(#e36c)" stroke="url(#e36c)"/>
<path d="M1595.9 227.1L1620.1 190.3L1609.4 222.6Z" fill="url(#e36d)" stroke="url(#e36d)"/>
<path d="M1582.4 230.1L1593.1 197.3L1606.6 193.4Z" fill="url(#e36e)" stroke="url(#e36e)"/>
<path d="M1582.4 230.1L1606.6 193.4L1595.9 227.1Z" fill="url(#e36f)" stroke="url(#e36f)"/>
<path d="M1568.9 231.7L1579.6 202L1593.1 197.3Z" fill="url(#e36g)" stroke="url(#e36g)"/>
<path d="M1568.9 231.7L1593.1 197.3L1582.4 230.1Z" fill="url(#e36h)" stroke="url(#e36h)"/>
<path d="M1555.4 232.9L1566.1 206.8L1579.6 202Z" fill="url(#e36i)" stroke="url(#e36i)"/>
<path d="M1555.4 232.9L1579.6 202L1568.9 231.7Z" fill="url(#e36j)" stroke="url(#e36j)"/>
<path d="M1541.9 234.2L1552.6 211.7L1566.1 206.8Z" fill="url(#e36k)" stroke="url(#e36k)"/>
<path d="M1541.9 234.2L1566.1 206.8L1555.4 232.9Z" fill="url(#e36l)" stroke="url(#e36l)"/>
<path d="M1528.4 235.7L1539.1 216.4L1552.6 211.7Z" fill="url(#e36m)" stroke="url(#e36m)"/>
<path d="M1528.4 235.7L1552.6 211.7L1541.9 234.2Z" fill="url(#e36n)" stroke="url(#e36n)"/>
<path d="M1514.9 237.7L1525.6 220.9L1539.1 216.4Z" fill="url(#e36o)" stroke="url(#e36o)"/>
<path d="M1514.9 237.7L1539.1 216.4L1528.4 235.7Z" fill="url(#e36p)" stroke="url(#e36p)"/>
<path d="M1501.4 240L1512.1 225.2L1525.6 220.9Z" fill="url(#e36q)" stroke="url(#e36q)"/>
<path d="M1501.4 240L1525.6 220.9L1514.9 237.7Z" fill="url(#e36r)" stroke="url(#e36r)"/>
<path d="M1487.9 242.7L1498.6 229.2L1512.1 225.2Z" fill="url(#e36s)" stroke="url(#e36s)"/>
<path d="M1487.9 242.7L1512.1 225.2L1501.4 240Z" fill="url(#e36t)" stroke="url(#e36t)"/>
<path d="M1474.4 245.4L1485.1 233.4L1498.6 229.2Z" fill="url(#e36u)" stroke="url(#e36u)"/>
<path d="M1474.4 245.4L1498.6 229.2L1487.9 242.7Z" fill="url(#e36v)" stroke="url(#e36v)"/>
<path d="M1460.9 248.3L1471.6 237.5L1485.1 233.4Z" fill="url(#e36w)" stroke="url(#e36w)"/>
<path d="M1460.9 248.3L1485.1 233.4L1474.4 245.4Z" fill="url(#e36x)" stroke="url(#e36x)"/>
<path d="M1447.4 251.3L1458.1 241.7L1471.6 237.5Z" fill="url(#e36y)" stroke="url(#e36y)"/>
<path d="M1447.4 251.3L1471.6 237.5L1460.9 248.3Z" fill="url(#e36z)" stroke="url(#e36z)"/>
<path d="M1433.9 254.3L1444.6 245.7L1458.1 241.7Z" fill="url(#e370)" stroke="url(#e370)"/>
<path d="M1433.9 254.3L1458.1 241.7L1447.4 251.3Z" fill="url(#e371)" stroke="url(#e371)"/>
<path d="M1420.4 257.3L1431.1 249.8L1444.6 245.7Z" fill="url(#e372)" stroke="url(#e372)"/>
<path d="M1420.4 257.3L1444.6 245.7L1433.9 254.3Z" fill="url(#e373)" stroke="url(#e373)"/>
<path d="M1406.8 260.4L1417.6 253.9L1431.1 249.8Z" fill="url(#e374)" stroke="url(#e374)"/>
<path d="M1406.8 260.4L1431.1 249.8L1420.4 257.3Z" fill="url(#e375)" stroke="url(#e375)"/>
<path d="M1393.3 263.5L1404.1 257.9L1417.6 253.9Z" fill="url(#e376)" stroke="url(#e376)"/>
<path d="M1393.3 263.5L1417.6 253.9L1406.8 260.4Z" fill="url(#e377)" stroke="url(#e377)"/>
<path d="M1379.8 266.7L1390.6 261.9L1404.1 257.9Z" fill="url(#e378)" stroke="url(#e378)"/>
<path d="M1379.8 266.7L1404.1 257.9L1393.3 263.5Z" fill="url(#e379)" stroke="url(#e379)"/>
<path d="M1366.3 269.8L1377.1 265.9L1390.6 261.9Z" fill="url(#e37a)" stroke="url(#e37a)"/>
<path d="M1366.3 269.8L1390.6 261.9L1379.8 266.7Z" fill="url(#e37b)" stroke="url(#e37b)"/>
<path d="M1352.8 272.9L1363.5 270L1377.1 265.9Z" fill="url(#e37c)" stroke="url(#e37c)"/>
<path d="M1352.8 272.9L1377.1 265.9L1366.3 269.8Z" fill="url(#e37d)" stroke="url(#e37d)"/>
<path d="M1606.6 193.4L1617.4 224.6L1630.9 221Z" fill="url(#e37e)" stroke="url(#e37e)"/>
<path d="M1606.6 193.4L1630.9 221L1620.1 190.3Z" fill="url(#e37f)" stroke="url(#e37f)"/>
<path d="M1593.1 197.3L1603.9 228.1L1617.4 224.6Z" fill="url(#e37g)" stroke="url(#e37g)"/>
<path d="M1593.1 197.3L1617.4 224.6L1606.6 193.4Z" fill="url(#e37h)" stroke="url(#e37h)"/>
<path d="M1579.6 202L1590.4 231.2L1603.9 228.1Z" fill="url(#e37i)" stroke="url(#e37i)"/>
<path d="M1579.6 202L1603.9 228.1L1593.1 197.3Z" fill="url(#e37j)" stroke="url(#e37j)"/>
<path d="M1566.1 206.8L1576.8 234.4L1590.4 231.2Z" fill="url(#e37k)" stroke="url(#e37k)"/>
<path d="M1566.1 206.8L1590.4 231.2L1579.6 202Z" fill="url(#e37l)" stroke="url(#e37l)"/>
<path d="M1552.6 211.7L1563.3 237.5L1576.8 234.4Z" fill="url(#e37m)" stroke="url(#e37m)"/>
<path d="M1552.6 211.7L1576.8 234.4L1566.1 206.8Z" fill="url(#e37n)" stroke="url(#e37n)"/>
<path d="M1539.1 216.4L1549.8 240.6L1563.3 237.5Z" fill="url(#e37o)" stroke="url(#e37o)"/>
<path d="M1539.1 216.4L1563.3 237.5L1552.6 211.7Z" fill="url(#e37p)" stroke="url(#e37p)"/>
<path d="M1525.6 220.9L1536.3 243.9L1549.8 240.6Z" fill="url(#e37q)" stroke="url(#e37q)"/>
<path d="M1525.6 220.9L1549.8 240.6L1539.1 216.4Z" fill="url(#e37r)" stroke="url(#e37r)"/>
<path d="M1512.1 225.2L1522.8 247.2L1536.3 243.9Z" fill="url(#e37s)" stroke="url(#e37s)"/>
<path d="M1512.1 225.2L1536.3 243.9L1525.6 220.9Z" fill="url(#e37t)" stroke="url(#e37t)"/>
<path d="M1498.6 229.2L1509.3 250.6L1522.8 247.2Z" fill="url(#e37u)" stroke="url(#e37u)"/>
<path d="M1498.6 229.2L1522.8 247.2L1512.1 225.2Z" fill="url(#e37v)" stroke="url(#e37v)"/>
<path d="M1485.1 233.4L1495.8 253.8L1509.3 250.6Z" fill="url(#e37w)" stroke="url(#e37w)"/>
<path d="M1485.1 233.4L1509.3 250.6L1498.6 229.2Z" fill="url(#e37x)" stroke="url(#e37x)"/>
<path d="M1471.6 237.5L1482.3 257L1495.8 253.8Z" fill="url(#e37y)" stroke="url(#e37y)"/>
<path d="M1471.6 237.5L1495.8 253.8L1485.1 233.4Z" fill="url(#e37z)" stroke="url(#e37z)"/>
<path d="M1458.1 241.7L1468.8 260.1L1482.3 257Z" fill="url(#e380)" stroke="url(#e380)"/>
<path d="M1458.1 241.7L1482.3 257L1471.6 237.5Z" fill="url(#e381)" stroke="url(#e381)"/>
<path d="M1444.6 245.7L1455.3 263.3L1468.8 260.1Z" fill="url(#e382)" stroke="url(#e382)"/>
<path d="M1444.6 245.7L1468.8 260.1L1458.1 241.7Z" fill="url(#e383)" stroke="url(#e383)"/>
<path d="M1431.1 249.8L1441.8 266.5L1455.3 263.3Z" fill="url(#e384)" stroke="url(#e384)"/>
<path d="M1431.1 249.8L1455.3 263.3L1444.6 245.7Z" fill="url(#e385)" stroke="url(#e385)"/>
<path d="M1417.6 253.9L1428.3 269.6L1441.8 266.5Z" fill="url(#e386)" stroke="url(#e386)"/>
<path d="M1417.6 253.9L1441.8 266.5L1431.1 249.8Z" fill="url(#e387)" stroke="url(#e387)"/>
<path d="M1404.1 257.9L1414.8 272.8L1428.3 269.6Z" fill="url(#e388)" stroke="url(#e388)"/>
<path d="M1404.1 257.9L1428.3 269.6L1417.6 253.9Z" fill="url(#e389)" stroke="url(#e389)"/>
<path d="M1390.6 261.9L1401.3 276L1414.8 272.8Z" fill="url(#e38a)" stroke="url(#e38a)"/>
<path d="M1390.6 261.9L1414.8 272.8L1404.1 257.9Z" fill="url(#e38b)" stroke="url(#e38b)"/>
<path d="M1377.1 265.9L1387.8 279.2L1401.3 276Z" fill="url(#e38c)" stroke="url(#e38c)"/>
<path d="M1377.1 265.9L1401.3 276L1390.6 261.9Z" fill="url(#e38d)" stroke="url(#e38d)"/>
<path d="M1363.5 270L1374.3 282.4L1387.8 279.2Z" fill="url(#e38e)" stroke="url(#e38e)"/>
<path d="M1363.5 270L1387.8 279.2L1377.1 265.9Z" fill="url(#e38f)" stroke="url(#e38f)"/>
<path d="M1617.4 224.6L1628.1 208.9L1641.6 205.3Z" fill="url(#e38g)" stroke="url(#e38g)"/>
<path d="M1617.4 224.6L1641.6 205.3L1630.9 221Z" fill="url(#e38h)" stroke="url(#e38h)"/>
<path d="M1603.9 228.1L1614.6 212.5L1628.1 208.9Z" fill="url(#e38i)" stroke="url(#e38i)"/>
<path d="M1603.9 228.1L1628.1 208.9L1617.4 224.6Z" fill="url(#e38j)" stroke="url(#e38j)"/>
<path d="M1590.4 231.2L1601.1 216.3L1614.6 212.5Z" fill="url(#e38k)" stroke="url(#e38k)"/>
<path d="M1590.4 231.2L1614.6 212.5L1603.9 228.1Z" fill="url(#e38l)" stroke="url(#e38l)"/>
<path d="M1576.8 234.4L1587.6 220.1L1601.1 216.3Z" fill="url(#e38m)" stroke="url(#e38m)"/>
<path d="M1576.8 234.4L1601.1 216.3L1590.4 231.2Z" fill="url(#e38n)" stroke="url(#e38n)"/>
<path d="M1563.3 237.5L1574.1 224L1587.6 220.1Z" fill="url(#e38o)" stroke="url(#e38o)"/>
<path d="M1563.3 237.5L1587.6 220.1L1576.8 234.4Z" fill="url(#e38p)" stroke="url(#e38p)"/>
<path d="M1549.8 240.6L1560.6 227.7L1574.1 224Z" fill="url(#e38q)" stroke="url(#e38q)"/>
<path d="M1549.8 240.6L1574.1 224L1563.3 237.5Z" fill="url(#e38r)" stroke="url(#e38r)"/>
<path d="M1536.3 243.9L1547.1 231.5L1560.6 227.7Z" fill="url(#e38s)" stroke="url(#e38s)"/>
<path d="M1536.3 243.9L1560.6 227.7L1549.8 240.6Z" fill="url(#e38t)" stroke="url(#e38t)"/>
<path d="M1522.8 247.2L1533.5 235.3L1547.1 231.5Z" fill="url(#e38u)" stroke="url(#e38u)"/>
<path d="M1522.8 247.2L1547.1 231.5L1536.3 243.9Z" fill="url(#e38v)" stroke="url(#e38v)"/>
<path d="M1509.3 250.6L1520 239L1533.5 235.3Z" fill="url(#e38w)" stroke="url(#e38w)"/>
<path d="M1509.3 250.6L1533.5 235.3L1522.8 247.2Z" fill="url(#e38x)" stroke="url(#e38x)"/>
<path d="M1495.8 253.8L1506.5 242.7L1520 239Z" fill="url(#e38y)" stroke="url(#e38y)"/>
<path d="M1495.8 253.8L1520 239L1509.3 250.6Z" fill="url(#e38z)" stroke="url(#e38z)"/>
<path d="M1482.3 257L1493 246.5L1506.5 242.7Z" fill="url(#e390)" stroke="url(#e390)"/>
<path d="M1482.3 257L1506.5 242.7L1495.8 253.8Z" fill="url(#e391)" stroke="url(#e391)"/>
<path d="M1468.8 260.1L1479.5 250.4L1493 246.5Z" fill="url(#e392)" stroke="url(#e392)"/>
<path d="M1468.8 260.1L1493 246.5L1482.3 257Z" fill="url(#e393)" stroke="url(#e393)"/>
<path d="M1455.3 263.3L1466 254.2L1479.5 250.4Z" fill="url(#e394)" stroke="url(#e394)"/>
<path d="M1455.3 263.3L1479.5 250.4L1468.8 260.1Z" fill="url(#e395)" stroke="url(#e395)"/>
<path d="M1441.8 266.5L1452.5 258L1466 254.2Z" fill="url(#e396)" stroke="url(#e396)"/>
<path d="M1441.8 266.5L1466 254.2L1455.3 263.3Z" fill="url(#e397)" stroke="url(#e397)"/>
<path d="M1428.3 269.6L1439 261.8L1452.5 258Z" fill="url(#e398)" stroke="url(#e398)"/>
<path d="M1428.3 269.6L1452.5 258L1441.8 266.5Z" fill="url(#e399)" stroke="url(#e399)"/>
<path d="M1414.8 272.8L1425.5 265.6L1439 261.8Z" fill="url(#e39a)" stroke="url(#e39a)"/>
<path d="M1414.8 272.8L1439 261.8L1428.3 269.6Z" fill="url(#e39b)" stroke="url(#e39b)"/>
<path d="M1401.3 276L1412 269.4L1425.5 265.6Z" fill="url(#e39c)" stroke="url(#e39c)"/>
<path d="M1401.3 276L1425.5 265.6L1414.8 272.8Z" fill="url(#e39d)" stroke="url(#e39d)"/>
<path d="M1387.8 279.2L1398.5 273.2L1412 269.4Z" fill="url(#e39e)" stroke="url(#e39e)"/>
<path d="M1387.8 279.2L1412 269.4L1401.3 276Z" fill="url(#e39f)" stroke="url(#e39f)"/>
<path d="M1374.3 282.4L1385 277L1398.5 273.2Z" fill="url(#e39g)" stroke="url(#e39g)"/>
<path d="M1374.3 282.4L1398.5 273.2L1387.8 279.2Z" fill="url(#e39h)" stroke="url(#e39h)"/>
<path d="M1628.1 208.9L1638.8 228.8L1652.3 225Z" fill="url(#e39i)" stroke="url(#e39i)"/>
<path d="M1628.1 208.9L1652.3 225L1641.6 205.3Z" fill="url(#e39j)" stroke="url(#e39j)"/>
<path d="M1614.6 212.5L1625.3 232.6L1638.8 228.8Z" fill="url(#e39k)" stroke="url(#e39k)"/>
<path d="M1614.6 212.5L1638.8 228.8L1628.1 208.9Z" fill="url(#e39l)" stroke="url(#e39l)"/>
<path d="M1601.1 216.3L1611.8 236.4L1625.3 232.6Z" fill="url(#e39m)" stroke="url(#e39m)"/>
<path d="M1601.1 216.3L1625.3 232.6L1614.6 212.5Z" fill="url(#e39n)" stroke="url(#e39n)"/>
<path d="M1587.6 220.1L1598.3 240.2L1611.8 236.4Z" fill="url(#e39o)" stroke="url(#e39o)"/>
<path d="M1587.6 220.1L1611.8 236.4L1601.1 216.3Z" fill="url(#e39p)" stroke="url(#e39p)"/>
<path d="M1574.1 224L1584.8 244L1598.3 240.2Z" fill="url(#e39q)" stroke="url(#e39q)"/>
<path d="M1574.1 224L1598.3 240.2L1587.6 220.1Z" fill="url(#e39r)" stroke="url(#e39r)"/>
<path d="M1560.6 227.7L1571.3 247.8L1584.8 244Z" fill="url(#e39s)" stroke="url(#e39s)"/>
<path d="M1560.6 227.7L1584.8 244L1574.1 224Z" fill="url(#e39t)" stroke="url(#e39t)"/>
<path d="M1547.1 231.5L1557.8 251.6L1571.3 247.8Z" fill="url(#e39u)" stroke="url(#e39u)"/>
<path d="M1547.1 231.5L1571.3 247.8L1560.6 227.7Z" fill="url(#e39v)" stroke="url(#e39v)"/>
<path d="M1533.5 235.3L1544.3 255.5L1557.8 251.6Z" fill="url(#e39w)" stroke="url(#e39w)"/>
<path d="M1533.5 235.3L1557.8 251.6L1547.1 231.5Z" fill="url(#e39x)" stroke="url(#e39x)"/>
<path d="M1520 239L1530.8 259.3L1544.3 255.5Z" fill="url(#e39y)" stroke="url(#e39y)"/>
<path d="M1520 239L1544.3 255.5L1533.5 235.3Z" fill="url(#e39z)" stroke="url(#e39z)"/>
<path d="M1506.5 242.7L1517.3 263L1530.8 259.3Z" fill="url(#e3a0)" stroke="url(#e3a0)"/>
<path d="M1506.5 242.7L1530.8 259.3L1520 239Z" fill="url(#e3a1)" stroke="url(#e3a1)"/>
<path d="M1493 246.5L1503.8 266.7L1517.3 263Z" fill="url(#e3a2)" stroke="url(#e3a2)"/>
<path d="M1493 246.5L1517.3 263L1506.5 242.7Z" fill="url(#e3a3)" stroke="url(#e3a3)"/>
<path d="M1479.5 250.4L1490.2 270.5L1503.8 266.7Z" fill="url(#e3a4)" stroke="url(#e3a4)"/>
<path d="M1479.5 250.4L1503.8 266.7L1493 246.5Z" fill="url(#e3a5)" stroke="url(#e3a5)"/>
<path d="M1466 254.2L1476.7 274.3L1490.2 270.5Z" fill="url(#e3a6)" stroke="url(#e3a6)"/>
<path d="M1466 254.2L1490.2 270.5L1479.5 250.4Z" fill="url(#e3a7)" stroke="url(#e3a7)"/>
<path d="M1452.5 258L1463.2 278L1476.7 274.3Z" fill="url(#e3a8)" stroke="url(#e3a8)"/>
<path d="M1452.5 258L1476.7 274.3L1466 254.2Z" fill="url(#e3a9)" stroke="url(#e3a9)"/>
<path d="M1439 261.8L1449.7 281.9L1463.2 278Z" fill="url(#e3aa)" stroke="url(#e3aa)"/>
<path d="M1439 261.8L1463.2 278L1452.5 258Z" fill="url(#e3ab)" stroke="url(#e3ab)"/>
<path d="M1425.5 265.6L1436.2 285.7L1449.7 281.9Z" fill="url(#e3ac)" stroke="url(#e3ac)"/>
<path d="M1425.5 265.6L1449.7 281.9L1439 261.8Z" fill="url(#e3ad)" stroke="url(#e3ad)"/>
<path d="M1412 269.4L1422.7 289.5L1436.2 285.7Z" fill="url(#e3ae)" stroke="url(#e3ae)"/>
<path d="M1412 269.4L1436.2 285.7L1425.5 265.6Z" fill="url(#e3af)" stroke="url(#e3af)"/>
<path d="M1398.5 273.2L1409.2 293.1L1422.7 289.5Z" fill="url(#e3ag)" stroke="url(#e3ag)"/>
<path d="M1398.5 273.2L1422.7 289.5L1412 269.4Z" fill="url(#e3ah)" stroke="url(#e3ah)"/>
<path d="M1385 277L1395.7 296.7L1409.2 293.1Z" fill="url(#e3ai)" stroke="url(#e3ai)"/>
<path d="M1385 277L1409.2 293.1L1398.5 273.2Z" fill="url(#e3aj)" stroke="url(#e3aj)"/>
<path d="M1638.8 228.8L1649.5 222.8L1663 219.6Z" fill="url(#e3ak)" stroke="url(#e3ak)"/>
<path d="M1638.8 228.8L1663 219.6L1652.3 225Z" fill="url(#e3al)" stroke="url(#e3al)"/>
<path d="M1625.3 232.6L1636 226L1649.5 222.8Z" fill="url(#e3am)" stroke="url(#e3am)"/>
<path d="M1625.3 232.6L1649.5 222.8L1638.8 228.8Z" fill="url(#e3an)" stroke="url(#e3an)"/>
<path d="M1611.8 236.4L1622.5 229.2L1636 226Z" fill="url(#e3ao)" stroke="url(#e3ao)"/>
<path d="M1611.8 236.4L1636 226L1625.3 232.6Z" fill="url(#e3ap)" stroke="url(#e3ap)"/>
<path d="M1598.3 240.2L1609 232.4L1622.5 229.2Z" fill="url(#e3aq)" stroke="url(#e3aq)"/>
<path d="M1598.3 240.2L1622.5 229.2L1611.8 236.4Z" fill="url(#e3ar)" stroke="url(#e3ar)"/>
<path d="M1584.8 244L1595.5 235.5L1609 232.4Z" fill="url(#e3as)" stroke="url(#e3as)"/>
<path d="M1584.8 244L1609 232.4L1598.3 240.2Z" fill="url(#e3at)" stroke="url(#e3at)"/>
<path d="M1571.3 247.8L1582 238.7L1595.5 235.5Z" fill="url(#e3au)" stroke="url(#e3au)"/>
<path d="M1571.3 247.8L1595.5 235.5L1584.8 244Z" fill="url(#e3av)" stroke="url(#e3av)"/>
<path d="M1557.8 251.6L1568.5 241.9L1582 238.7Z" fill="url(#e3aw)" stroke="url(#e3aw)"/>
<path d="M1557.8 251.6L1582 238.7L1571.3 247.8Z" fill="url(#e3ax)" stroke="url(#e3ax)"/>
<path d="M1544.3 255.5L1555 245L1568.5 241.9Z" fill="url(#e3ay)" stroke="url(#e3ay)"/>
<path d="M1544.3 255.5L1568.5 241.9L1557.8 251.6Z" fill="url(#e3az)" stroke="url(#e3az)"/>
<path d="M1530.8 259.3L1541.5 248.2L1555 245Z" fill="url(#e3b0)" stroke="url(#e3b0)"/>
<path d="M1530.8 259.3L1555 245L1544.3 255.5Z" fill="url(#e3b1)" stroke="url(#e3b1)"/>
<path d="M1517.3 263L1528 251.4L1541.5 248.2Z" fill="url(#e3b2)" stroke="url(#e3b2)"/>
<path d="M1517.3 263L1541.5 248.2L1530.8 259.3Z" fill="url(#e3b3)" stroke="url(#e3b3)"/>
<path d="M1503.8 266.7L1514.5 254.8L1528 251.4Z" fill="url(#e3b4)" stroke="url(#e3b4)"/>
<path d="M1503.8 266.7L1528 251.4L1517.3 263Z" fill="url(#e3b5)" stroke="url(#e3b5)"/>
<path d="M1490.2 270.5L1501 258.1L1514.5 254.8Z" fill="url(#e3b6)" stroke="url(#e3b6)"/>
<path d="M1490.2 270.5L1514.5 254.8L1503.8 266.7Z" fill="url(#e3b7)" stroke="url(#e3b7)"/>
<path d="M1476.7 274.3L1487.5 261.4L1501 258.1Z" fill="url(#e3b8)" stroke="url(#e3b8)"/>
<path d="M1476.7 274.3L1501 258.1L1490.2 270.5Z" fill="url(#e3b9)" stroke="url(#e3b9)"/>
<path d="M1463.2 278L1474 264.5L1487.5 261.4Z" fill="url(#e3ba)" stroke="url(#e3ba)"/>
<path d="M1463.2 278L1487.5 261.4L1476.7 274.3Z" fill="url(#e3bb)" stroke="url(#e3bb)"/>
<path d="M1449.7 281.9L1460.5 267.6L1474 264.5Z" fill="url(#e3bc)" stroke="url(#e3bc)"/>
<path d="M1449.7 281.9L1474 264.5L1463.2 278Z" fill="url(#e3bd)" stroke="url(#e3bd)"/>
<path d="M1436.2 285.7L1446.9 270.8L1460.5 267.6Z" fill="url(#e3be)" stroke="url(#e3be)"/>
<path d="M1436.2 285.7L1460.5 267.6L1449.7 281.9Z" fill="url(#e3bf)" stroke="url(#e3bf)"/>
<path d="M1422.7 289.5L1433.4 273.9L1446.9 270.8Z" fill="url(#e3bg)" stroke="url(#e3bg)"/>
<path d="M1422.7 289.5L1446.9 270.8L1436.2 285.7Z" fill="url(#e3bh)" stroke="url(#e3bh)"/>
<path d="M1409.2 293.1L1419.9 277.4L1433.4 273.9Z" fill="url(#e3bi)" stroke="url(#e3bi)"/>
<path d="M1409.2 293.1L1433.4 273.9L1422.7 289.5Z" fill="url(#e3bj)" stroke="url(#e3bj)"/>
<path d="M1395.7 296.7L1406.4 281L1419.9 277.4Z" fill="url(#e3bk)" stroke="url(#e3bk)"/>
<path d="M1395.7 296.7L1419.9 277.4L1409.2 293.1Z" fill="url(#e3bl)" stroke="url(#e3bl)"/>
<path d="M1649.5 222.8L1660.2 236.1L1673.8 232Z" fill="url(#e3bm)" stroke="url(#e3bm)"/>
<path d="M1649.5 222.8L1673.8 232L1663 219.6Z" fill="url(#e3bn)" stroke="url(#e3bn)"/>
<path d="M1636 226L1646.7 240.1L1660.2 236.1Z" fill="url(#e3bo)" stroke="url(#e3bo)"/>
<path d="M1636 226L1660.2 236.1L1649.5 222.8Z" fill="url(#e3bp)" stroke="url(#e3bp)"/>
<path d="M1622.5 229.2L1633.2 244.1L1646.7 240.1Z" fill="url(#e3bq)" stroke="url(#e3bq)"/>
<path d="M1622.5 229.2L1646.7 240.1L1636 226Z" fill="url(#e3br)" stroke="url(#e3br)"/>
<path d="M1609 232.4L1619.7 248.1L1633.2 244.1Z" fill="url(#e3bs)" stroke="url(#e3bs)"/>
<path d="M1609 232.4L1633.2 244.1L1622.5 229.2Z" fill="url(#e3bt)" stroke="url(#e3bt)"/>
<path d="M1595.5 235.5L1606.2 252.2L1619.7 248.1Z" fill="url(#e3bu)" stroke="url(#e3bu)"/>
<path d="M1595.5 235.5L1619.7 248.1L1609 232.4Z" fill="url(#e3bv)" stroke="url(#e3bv)"/>
<path d="M1582 238.7L1592.7 256.3L1606.2 252.2Z" fill="url(#e3bw)" stroke="url(#e3bw)"/>
<path d="M1582 238.7L1606.2 252.2L1595.5 235.5Z" fill="url(#e3bx)" stroke="url(#e3bx)"/>
<path d="M1568.5 241.9L1579.2 260.3L1592.7 256.3Z" fill="url(#e3by)" stroke="url(#e3by)"/>
<path d="M1568.5 241.9L1592.7 256.3L1582 238.7Z" fill="url(#e3bz)" stroke="url(#e3bz)"/>
<path d="M1555 245L1565.7 264.5L1579.2 260.3Z" fill="url(#e3c0)" stroke="url(#e3c0)"/>
<path d="M1555 245L1579.2 260.3L1568.5 241.9Z" fill="url(#e3c1)" stroke="url(#e3c1)"/>
<path d="M1541.5 248.2L1552.2 268.6L1565.7 264.5Z" fill="url(#e3c2)" stroke="url(#e3c2)"/>
<path d="M1541.5 248.2L1565.7 264.5L1555 245Z" fill="url(#e3c3)" stroke="url(#e3c3)"/>
<path d="M1528 251.4L1538.7 272.8L1552.2 268.6Z" fill="url(#e3c4)" stroke="url(#e3c4)"/>
<path d="M1528 251.4L1552.2 268.6L1541.5 248.2Z" fill="url(#e3c5)" stroke="url(#e3c5)"/>
<path d="M1514.5 254.8L1525.2 276.8L1538.7 272.8Z" fill="url(#e3c6)" stroke="url(#e3c6)"/>
<path d="M1514.5 254.8L1538.7 272.8L1528 251.4Z" fill="url(#e3c7)" stroke="url(#e3c7)"/>
<path d="M1501 258.1L1511.7 281.1L1525.2 276.8Z" fill="url(#e3c8)" stroke="url(#e3c8)"/>
<path d="M1501 258.1L1525.2 276.8L1514.5 254.8Z" fill="url(#e3c9)" stroke="url(#e3c9)"/>
<path d="M1487.5 261.4L1498.2 285.6L1511.7 281.1Z" fill="url(#e3ca)" stroke="url(#e3ca)"/>
<path d="M1487.5 261.4L1511.7 281.1L1501 258.1Z" fill="url(#e3cb)" stroke="url(#e3cb)"/>
<path d="M1474 264.5L1484.7 290.3L1498.2 285.6Z" fill="url(#e3cc)" stroke="url(#e3cc)"/>
<path d="M1474 264.5L1498.2 285.6L1487.5 261.4Z" fill="url(#e3cd)" stroke="url(#e3cd)"/>
<path d="M1460.5 267.6L1471.2 295.2L1484.7 290.3Z" fill="url(#e3ce)" stroke="url(#e3ce)"/>
<path d="M1460.5 267.6L1484.7 290.3L1474 264.5Z" fill="url(#e3cf)" stroke="url(#e3cf)"/>
<path d="M1446.9 270.8L1457.7 300L1471.2 295.2Z" fill="url(#e3cg)" stroke="url(#e3cg)"/>
<path d="M1446.9 270.8L1471.2 295.2L1460.5 267.6Z" fill="url(#e3ch)" stroke="url(#e3ch)"/>
<path d="M1433.4 273.9L1444.2 304.7L1457.7 300Z" fill="url(#e3ci)" stroke="url(#e3ci)"/>
<path d="M1433.4 273.9L1457.7 300L1446.9 270.8Z" fill="url(#e3cj)" stroke="url(#e3cj)"/>
<path d="M1419.9 277.4L1430.7 308.6L1444.2 304.7Z" fill="url(#e3ck)" stroke="url(#e3ck)"/>
<path d="M1419.9 277.4L1444.2 304.7L1433.4 273.9Z" fill="url(#e3cl)" stroke="url(#e3cl)"/>
<path d="M1406.4 281L1417.2 311.7L1430.7 308.6Z" fill="url(#e3cm)" stroke="url(#e3cm)"/>
<path d="M1406.4 281L1430.7 308.6L1419.9 277.4Z" fill="url(#e3cn)" stroke="url(#e3cn)"/>
<path d="M1660.2 236.1L1671 232.2L1684.5 229.1Z" fill="url(#e3co)" stroke="url(#e3co)"/>
<path d="M1660.2 236.1L1684.5 229.1L1673.8 232Z" fill="url(#e3cp)" stroke="url(#e3cp)"/>
<path d="M1646.7 240.1L1657.5 235.3L1671 232.2Z" fill="url(#e3cq)" stroke="url(#e3cq)"/>
<path d="M1646.7 240.1L1671 232.2L1660.2 236.1Z" fill="url(#e3cr)" stroke="url(#e3cr)"/>
<path d="M1633.2 244.1L1644 238.5L1657.5 235.3Z" fill="url(#e3cs)" stroke="url(#e3cs)"/>
<path d="M1633.2 244.1L1657.5 235.3L1646.7 240.1Z" fill="url(#e3ct)" stroke="url(#e3ct)"/>
<path d="M1619.7 248.1L1630.5 241.6L1644 238.5Z" fill="url(#e3cu)" stroke="url(#e3cu)"/>
<path d="M1619.7 248.1L1644 238.5L1633.2 244.1Z" fill="url(#e3cv)" stroke="url(#e3cv)"/>
<path d="M1606.2 252.2L1616.9 244.7L1630.5 241.6Z" fill="url(#e3cw)" stroke="url(#e3cw)"/>
<path d="M1606.2 252.2L1630.5 241.6L1619.7 248.1Z" fill="url(#e3cx)" stroke="url(#e3cx)"/>
<path d="M1592.7 256.3L1603.4 247.7L1616.9 244.7Z" fill="url(#e3cy)" stroke="url(#e3cy)"/>
<path d="M1592.7 256.3L1616.9 244.7L1606.2 252.2Z" fill="url(#e3cz)" stroke="url(#e3cz)"/>
<path d="M1579.2 260.3L1589.9 250.7L1603.4 247.7Z" fill="url(#e3d0)" stroke="url(#e3d0)"/>
<path d="M1579.2 260.3L1603.4 247.7L1592.7 256.3Z" fill="url(#e3d1)" stroke="url(#e3d1)"/>
<path d="M1565.7 264.5L1576.4 253.7L1589.9 250.7Z" fill="url(#e3d2)" stroke="url(#e3d2)"/>
<path d="M1565.7 264.5L1589.9 250.7L1579.2 260.3Z" fill="url(#e3d3)" stroke="url(#e3d3)"/>
<path d="M1552.2 268.6L1562.9 256.6L1576.4 253.7Z" fill="url(#e3d4)" stroke="url(#e3d4)"/>
<path d="M1552.2 268.6L1576.4 253.7L1565.7 264.5Z" fill="url(#e3d5)" stroke="url(#e3d5)"/>
<path d="M1538.7 272.8L1549.4 259.3L1562.9 256.6Z" fill="url(#e3d6)" stroke="url(#e3d6)"/>
<path d="M1538.7 272.8L1562.9 256.6L1552.2 268.6Z" fill="url(#e3d7)" stroke="url(#e3d7)"/>
<path d="M1525.2 276.8L1535.9 262L1549.4 259.3Z" fill="url(#e3d8)" stroke="url(#e3d8)"/>
<path d="M1525.2 276.8L1549.4 259.3L1538.7 272.8Z" fill="url(#e3d9)" stroke="url(#e3d9)"/>
<path d="M1511.7 281.1L1522.4 264.3L1535.9 262Z" fill="url(#e3da)" stroke="url(#e3da)"/>
<path d="M1511.7 281.1L1535.9 262L1525.2 276.8Z" fill="url(#e3db)" stroke="url(#e3db)"/>
<path d="M1498.2 285.6L1508.9 266.3L1522.4 264.3Z" fill="url(#e3dc)" stroke="url(#e3dc)"/>
<path d="M1498.2 285.6L1522.4 264.3L1511.7 281.1Z" fill="url(#e3dd)" stroke="url(#e3dd)"/>
<path d="M1484.7 290.3L1495.4 267.8L1508.9 266.3Z" fill="url(#e3de)" stroke="url(#e3de)"/>
<path d="M1484.7 290.3L1508.9 266.3L1498.2 285.6Z" fill="url(#e3df)" stroke="url(#e3df)"/>
<path d="M1471.2 295.2L1481.9 269.1L1495.4 267.8Z" fill="url(#e3dg)" stroke="url(#e3dg)"/>
<path d="M1471.2 295.2L1495.4 267.8L1484.7 290.3Z" fill="url(#e3dh)" stroke="url(#e3dh)"/>
<path d="M1457.7 300L1468.4 270.3L1481.9 269.1Z" fill="url(#e3di)" stroke="url(#e3di)"/>
<path d="M1457.7 300L1481.9 269.1L1471.2 295.2Z" fill="url(#e3dj)" stroke="url(#e3dj)"/>
<path d="M1444.2 304.7L1454.9 271.9L1468.4 270.3Z" fill="url(#e3dk)" stroke="url(#e3dk)"/>
<path d="M1444.2 304.7L1468.4 270.3L1457.7 300Z" fill="url(#e3dl)" stroke="url(#e3dl)"/>
<path d="M1430.7 308.6L1441.4 274.9L1454.9 271.9Z" fill="url(#e3dm)" stroke="url(#e3dm)"/>
<path d="M1430.7 308.6L1454.9 271.9L1444.2 304.7Z" fill="url(#e3dn)" stroke="url(#e3dn)"/>
<path d="M1417.2 311.7L1427.9 279.4L1441.4 274.9Z" fill="url(#e3do)" stroke="url(#e3do)"/>
<path d="M1417.2 311.7L1441.4 274.9L1430.7 308.6Z" fill="url(#e3dp)" stroke="url(#e3dp)"/>
<path d="M1671 232.2L1681.7 246.2L1695.2 242.3Z" fill="url(#e3dq)" stroke="url(#e3dq)"/>
<path d="M1671 232.2L1695.2 242.3L1684.5 229.1Z" fill="url(#e3dr)" stroke="url(#e3dr)"/>
<path d="M1657.5 235.3L1668.2 250.1L1681.7 246.2Z" fill="url(#e3ds)" stroke="url(#e3ds)"/>
<path d="M1657.5 235.3L1681.7 246.2L1671 232.2Z" fill="url(#e3dt)" stroke="url(#e3dt)"/>
<path d="M1644 238.5L1654.7 254L1668.2 250.1Z" fill="url(#e3du)" stroke="url(#e3du)"/>
<path d="M1644 238.5L1668.2 250.1L1657.5 235.3Z" fill="url(#e3dv)" stroke="url(#e3dv)"/>
<path d="M1630.5 241.6L1641.2 258L1654.7 254Z" fill="url(#e3dw)" stroke="url(#e3dw)"/>
<path d="M1630.5 241.6L1654.7 254L1644 238.5Z" fill="url(#e3dx)" stroke="url(#e3dx)"/>
<path d="M1616.9 244.7L1627.7 262L1641.2 258Z" fill="url(#e3dy)" stroke="url(#e3dy)"/>
<path d="M1616.9 244.7L1641.2 258L1630.5 241.6Z" fill="url(#e3dz)" stroke="url(#e3dz)"/>
<path d="M1603.4 247.7L1614.2 266.1L1627.7 262Z" fill="url(#e3e0)" stroke="url(#e3e0)"/>
<path d="M1603.4 247.7L1627.7 262L1616.9 244.7Z" fill="url(#e3e1)" stroke="url(#e3e1)"/>
<path d="M1589.9 250.7L1600.7 270.3L1614.2 266.1Z" fill="url(#e3e2)" stroke="url(#e3e2)"/>
<path d="M1589.9 250.7L1614.2 266.1L1603.4 247.7Z" fill="url(#e3e3)" stroke="url(#e3e3)"/>
<path d="M1576.4 253.7L1587.2 274.6L1600.7 270.3Z" fill="url(#e3e4)" stroke="url(#e3e4)"/>
<path d="M1576.4 253.7L1600.7 270.3L1589.9 250.7Z" fill="url(#e3e5)" stroke="url(#e3e5)"/>
<path d="M1562.9 256.6L1573.6 278.9L1587.2 274.6Z" fill="url(#e3e6)" stroke="url(#e3e6)"/>
<path d="M1562.9 256.6L1587.2 274.6L1576.4 253.7Z" fill="url(#e3e7)" stroke="url(#e3e7)"/>
<path d="M1549.4 259.3L1560.1 283.9L1573.6 278.9Z" fill="url(#e3e8)" stroke="url(#e3e8)"/>
<path d="M1549.4 259.3L1573.6 278.9L1562.9 256.6Z" fill="url(#e3e9)" stroke="url(#e3e9)"/>
<path d="M1535.9 262L1546.6 289L1560.1 283.9Z" fill="url(#e3ea)" stroke="url(#e3ea)"/>
<path d="M1535.9 262L1560.1 283.9L1549.4 259.3Z" fill="url(#e3eb)" stroke="url(#e3eb)"/>
<path d="M1522.4 264.3L1533.1 295L1546.6 289Z" fill="url(#e3ec)" stroke="url(#e3ec)"/>
<path d="M1522.4 264.3L1546.6 289L1535.9 262Z" fill="url(#e3ed)" stroke="url(#e3ed)"/>
<path d="M1508.9 266.3L1519.6 301.6L1533.1 295Z" fill="url(#e3ee)" stroke="url(#e3ee)"/>
<path d="M1508.9 266.3L1533.1 295L1522.4 264.3Z" fill="url(#e3ef)" stroke="url(#e3ef)"/>
<path d="M1495.4 267.8L1506.1 309L1519.6 301.6Z" fill="url(#e3eg)" stroke="url(#e3eg)"/>
<path d="M1495.4 267.8L1519.6 301.6L1508.9 266.3Z" fill="url(#e3eh)" stroke="url(#e3eh)"/>
<path d="M1481.9 269.1L1492.6 317.1L1506.1 309Z" fill="url(#e3ei)" stroke="url(#e3ei)"/>
<path d="M1481.9 269.1L1506.1 309L1495.4 267.8Z" fill="url(#e3ej)" stroke="url(#e3ej)"/>
<path d="M1468.4 270.3L1479.1 325.1L1492.6 317.1Z" fill="url(#e3ek)" stroke="url(#e3ek)"/>
<path d="M1468.4 270.3L1492.6 317.1L1481.9 269.1Z" fill="url(#e3el)" stroke="url(#e3el)"/>
<path d="M1454.9 271.9L1465.6 332.4L1479.1 325.1Z" fill="url(#e3em)" stroke="url(#e3em)"/>
<path d="M1454.9 271.9L1479.1 325.1L1468.4 270.3Z" fill="url(#e3en)" stroke="url(#e3en)"/>
<path d="M1441.4 274.9L1452.1 337L1465.6 332.4Z" fill="url(#e3eo)" stroke="url(#e3eo)"/>
<path d="M1441.4 274.9L1465.6 332.4L1454.9 271.9Z" fill="url(#e3ep)" stroke="url(#e3ep)"/>
<path d="M1427.9 279.4L1438.6 338.7L1452.1 337Z" fill="url(#e3eq)" stroke="url(#e3eq)"/>
<path d="M1427.9 279.4L1452.1 337L1441.4 274.9Z" fill="url(#e3er)" stroke="url(#e3er)"/>
<path d="M1681.7 246.2L1692.4 239.2L1705.9 235.8Z" fill="url(#e3es)" stroke="url(#e3es)"/>
<path d="M1681.7 246.2L1705.9 235.8L1695.2 242.3Z" fill="url(#e3et)" stroke="url(#e3et)"/>
<path d="M1668.2 250.1L1678.9 242.5L1692.4 239.2Z" fill="url(#e3eu)" stroke="url(#e3eu)"/>
<path d="M1668.2 250.1L1692.4 239.2L1681.7 246.2Z" fill="url(#e3ev)" stroke="url(#e3ev)"/>
<path d="M1654.7 254L1665.4 245.9L1678.9 242.5Z" fill="url(#e3ew)" stroke="url(#e3ew)"/>
<path d="M1654.7 254L1678.9 242.5L1668.2 250.1Z" fill="url(#e3ex)" stroke="url(#e3ex)"/>
<path d="M1641.2 258L1651.9 249.1L1665.4 245.9Z" fill="url(#e3ey)" stroke="url(#e3ey)"/>
<path d="M1641.2 258L1665.4 245.9L1654.7 254Z" fill="url(#e3ez)" stroke="url(#e3ez)"/>
<path d="M1627.7 262L1638.4 252.3L1651.9 249.1Z" fill="url(#e3f0)" stroke="url(#e3f0)"/>
<path d="M1627.7 262L1651.9 249.1L1641.2 258Z" fill="url(#e3f1)" stroke="url(#e3f1)"/>
<path d="M1614.2 266.1L1624.9 255.3L1638.4 252.3Z" fill="url(#e3f2)" stroke="url(#e3f2)"/>
<path d="M1614.2 266.1L1638.4 252.3L1627.7 262Z" fill="url(#e3f3)" stroke="url(#e3f3)"/>
<path d="M1600.7 270.3L1611.4 258.3L1624.9 255.3Z" fill="url(#e3f4)" stroke="url(#e3f4)"/>
<path d="M1600.7 270.3L1624.9 255.3L1614.2 266.1Z" fill="url(#e3f5)" stroke="url(#e3f5)"/>
<path d="M1587.2 274.6L1597.9 261.1L1611.4 258.3Z" fill="url(#e3f6)" stroke="url(#e3f6)"/>
<path d="M1587.2 274.6L1611.4 258.3L1600.7 270.3Z" fill="url(#e3f7)" stroke="url(#e3f7)"/>
<path d="M1573.6 278.9L1584.4 263.7L1597.9 261.1Z" fill="url(#e3f8)" stroke="url(#e3f8)"/>
<path d="M1573.6 278.9L1597.9 261.1L1587.2 274.6Z" fill="url(#e3f9)" stroke="url(#e3f9)"/>
<path d="M1560.1 283.9L1570.9 265.4L1584.4 263.7Z" fill="url(#e3fa)" stroke="url(#e3fa)"/>
<path d="M1560.1 283.9L1584.4 263.7L1573.6 278.9Z" fill="url(#e3fb)" stroke="url(#e3fb)"/>
<path d="M1546.6 289L1557.4 266.6L1570.9 265.4Z" fill="url(#e3fc)" stroke="url(#e3fc)"/>
<path d="M1546.6 289L1570.9 265.4L1560.1 283.9Z" fill="url(#e3fd)" stroke="url(#e3fd)"/>
<path d="M1533.1 295L1543.9 266.4L1557.4 266.6Z" fill="url(#e3fe)" stroke="url(#e3fe)"/>
<path d="M1533.1 295L1557.4 266.6L1546.6 289Z" fill="url(#e3ff)" stroke="url(#e3ff)"/>
<path d="M1519.6 301.6L1530.3 265.2L1543.9 266.4Z" fill="url(#e3fg)" stroke="url(#e3fg)"/>
<path d="M1519.6 301.6L1543.9 266.4L1533.1 295Z" fill="url(#e3fh)" stroke="url(#e3fh)"/>
<path d="M1506.1 309L1516.8 262.8L1530.3 265.2Z" fill="url(#e3fi)" stroke="url(#e3fi)"/>
<path d="M1506.1 309L1530.3 265.2L1519.6 301.6Z" fill="url(#e3fj)" stroke="url(#e3fj)"/>
<path d="M1492.6 317.1L1503.3 259.5L1516.8 262.8Z" fill="url(#e3fk)" stroke="url(#e3fk)"/>
<path d="M1492.6 317.1L1516.8 262.8L1506.1 309Z" fill="url(#e3fl)" stroke="url(#e3fl)"/>
<path d="M1479.1 325.1L1489.8 256.1L1503.3 259.5Z" fill="url(#e3fm)" stroke="url(#e3fm)"/>
<path d="M1479.1 325.1L1503.3 259.5L1492.6 317.1Z" fill="url(#e3fn)" stroke="url(#e3fn)"/>
<path d="M1465.6 332.4L1476.3 253.9L1489.8 256.1Z" fill="url(#e3fo)" stroke="url(#e3fo)"/>
<path d="M1465.6 332.4L1489.8 256.1L1479.1 325.1Z" fill="url(#e3fp)" stroke="url(#e3fp)"/>
<path d="M1452.1 337L1462.8 255.9L1476.3 253.9Z" fill="url(#e3fq)" stroke="url(#e3fq)"/>
<path d="M1452.1 337L1476.3 253.9L1465.6 332.4Z" fill="url(#e3fr)" stroke="url(#e3fr)"/>
<path d="M1438.6 338.7L1449.3 262.6L1462.8 255.9Z" fill="url(#e3fs)" stroke="url(#e3fs)"/>
<path d="M1438.6 338.7L1462.8 255.9L1452.1 337Z" fill="url(#e3ft)" stroke="url(#e3ft)"/>
<path d="M1692.4 239.2L1703.1 256.3L1716.6 252.5Z" fill="url(#e3fu)" stroke="url(#e3fu)"/>
<path d="M1692.4 239.2L1716.6 252.5L1705.9 235.8Z" fill="url(#e3fv)" stroke="url(#e3fv)"/>
<path d="M1678.9 242.5L1689.6 260.1L1703.1 256.3Z" fill="url(#e3fw)" stroke="url(#e3fw)"/>
<path d="M1678.9 242.5L1703.1 256.3L1692.4 239.2Z" fill="url(#e3fx)" stroke="url(#e3fx)"/>
<path d="M1665.4 245.9L1676.1 264L1689.6 260.1Z" fill="url(#e3fy)" stroke="url(#e3fy)"/>
<path d="M1665.4 245.9L1689.6 260.1L1678.9 242.5Z" fill="url(#e3fz)" stroke="url(#e3fz)"/>
<path d="M1651.9 249.1L1662.6 268L1676.1 264Z" fill="url(#e3g0)" stroke="url(#e3g0)"/>
<path d="M1651.9 249.1L1676.1 264L1665.4 245.9Z" fill="url(#e3g1)" stroke="url(#e3g1)"/>
<path d="M1638.4 252.3L1649.1 272L1662.6 268Z" fill="url(#e3g2)" stroke="url(#e3g2)"/>
<path d="M1638.4 252.3L1662.6 268L1651.9 249.1Z" fill="url(#e3g3)" stroke="url(#e3g3)"/>
<path d="M1624.9 255.3L1635.6 276.4L1649.1 272Z" fill="url(#e3g4)" stroke="url(#e3g4)"/>
<path d="M1624.9 255.3L1649.1 272L1638.4 252.3Z" fill="url(#e3g5)" stroke="url(#e3g5)"/>
<path d="M1611.4 258.3L1622.1 280.8L1635.6 276.4Z" fill="url(#e3g6)" stroke="url(#e3g6)"/>
<path d="M1611.4 258.3L1635.6 276.4L1624.9 255.3Z" fill="url(#e3g7)" stroke="url(#e3g7)"/>
<path d="M1597.9 261.1L1608.6 285.5L1622.1 280.8Z" fill="url(#e3g8)" stroke="url(#e3g8)"/>
<path d="M1597.9 261.1L1622.1 280.8L1611.4 258.3Z" fill="url(#e3g9)" stroke="url(#e3g9)"/>
<path d="M1584.4 263.7L1595.1 290.5L1608.6 285.5Z" fill="url(#e3ga)" stroke="url(#e3ga)"/>
<path d="M1584.4 263.7L1608.6 285.5L1597.9 261.1Z" fill="url(#e3gb)" stroke="url(#e3gb)"/>
<path d="M1570.9 265.4L1581.6 297L1595.1 290.5Z" fill="url(#e3gc)" stroke="url(#e3gc)"/>
<path d="M1570.9 265.4L1595.1 290.5L1584.4 263.7Z" fill="url(#e3gd)" stroke="url(#e3gd)"/>
<path d="M1557.4 266.6L1568.1 304.3L1581.6 297Z" fill="url(#e3ge)" stroke="url(#e3ge)"/>
<path d="M1557.4 266.6L1581.6 297L1570.9 265.4Z" fill="url(#e3gf)" stroke="url(#e3gf)"/>
<path d="M1543.9 266.4L1554.6 313.8L1568.1 304.3Z" fill="url(#e3gg)" stroke="url(#e3gg)"/>
<path d="M1543.9 266.4L1568.1 304.3L1557.4 266.6Z" fill="url(#e3gh)" stroke="url(#e3gh)"/>
<path d="M1530.3 265.2L1541.1 324.7L1554.6 313.8Z" fill="url(#e3gi)" stroke="url(#e3gi)"/>
<path d="M1530.3 265.2L1554.6 313.8L1543.9 266.4Z" fill="url(#e3gj)" stroke="url(#e3gj)"/>
<path d="M1516.8 262.8L1527.6 337.6L1541.1 324.7Z" fill="url(#e3gk)" stroke="url(#e3gk)"/>
<path d="M1516.8 262.8L1541.1 324.7L1530.3 265.2Z" fill="url(#e3gl)" stroke="url(#e3gl)"/>
<path d="M1503.3 259.5L1514.1 352L1527.6 337.6Z" fill="url(#e3gm)" stroke="url(#e3gm)"/>
<path d="M1503.3 259.5L1527.6 337.6L1516.8 262.8Z" fill="url(#e3gn)" stroke="url(#e3gn)"/>
<path d="M1489.8 256.1L1500.6 366.3L1514.1 352Z" fill="url(#e3go)" stroke="url(#e3go)"/>
<path d="M1489.8 256.1L1514.1 352L1503.3 259.5Z" fill="url(#e3gp)" stroke="url(#e3gp)"/>
<path d="M1476.3 253.9L1487 379L1500.6 366.3Z" fill="url(#e3gq)" stroke="url(#e3gq)"/>
<path d="M1476.3 253.9L1500.6 366.3L1489.8 256.1Z" fill="url(#e3gr)" stroke="url(#e3gr)"/>
<path d="M1462.8 255.9L1473.5 384.9L1487 379Z" fill="url(#e3gs)" stroke="url(#e3gs)"/>
<path d="M1462.8 255.9L1487 379L1476.3 253.9Z" fill="url(#e3gt)" stroke="url(#e3gt)"/>
<path d="M1449.3 262.6L1460 383.7L1473.5 384.9Z" fill="url(#e3gu)" stroke="url(#e3gu)"/>
<path d="M1449.3 262.6L1473.5 384.9L1462.8 255.9Z" fill="url(#e3gv)" stroke="url(#e3gv)"/>
<path d="M1703.1 256.3L1713.9 244.1L1727.4 240.3Z" fill="url(#e3gw)" stroke="url(#e3gw)"/>
<path d="M1703.1 256.3L1727.4 240.3L1716.6 252.5Z" fill="url(#e3gx)" stroke="url(#e3gx)"/>
<path d="M1689.6 260.1L1700.3 247.9L1713.9 244.1Z" fill="url(#e3gy)" stroke="url(#e3gy)"/>
<path d="M1689.6 260.1L1713.9 244.1L1703.1 256.3Z" fill="url(#e3gz)" stroke="url(#e3gz)"/>
<path d="M1676.1 264L1686.8 251.7L1700.3 247.9Z" fill="url(#e3h0)" stroke="url(#e3h0)"/>
<path d="M1676.1 264L1700.3 247.9L1689.6 260.1Z" fill="url(#e3h1)" stroke="url(#e3h1)"/>
<path d="M1662.6 268L1673.3 255.2L1686.8 251.7Z" fill="url(#e3h2)" stroke="url(#e3h2)"/>
<path d="M1662.6 268L1686.8 251.7L1676.1 264Z" fill="url(#e3h3)" stroke="url(#e3h3)"/>
<path d="M1649.1 272L1659.8 258.8L1673.3 255.2Z" fill="url(#e3h4)" stroke="url(#e3h4)"/>
<path d="M1649.1 272L1673.3 255.2L1662.6 268Z" fill="url(#e3h5)" stroke="url(#e3h5)"/>
<path d="M1635.6 276.4L1646.3 261.8L1659.8 258.8Z" fill="url(#e3h6)" stroke="url(#e3h6)"/>
<path d="M1635.6 276.4L1659.8 258.8L1649.1 272Z" fill="url(#e3h7)" stroke="url(#e3h7)"/>
<path d="M1622.1 280.8L1632.8 264.9L1646.3 261.8Z" fill="url(#e3h8)" stroke="url(#e3h8)"/>
<path d="M1622.1 280.8L1646.3 261.8L1635.6 276.4Z" fill="url(#e3h9)" stroke="url(#e3h9)"/>
<path d="M1608.6 285.5L1619.3 267.5L1632.8 264.9Z" fill="url(#e3ha)" stroke="url(#e3ha)"/>
<path d="M1608.6 285.5L1632.8 264.9L1622.1 280.8Z" fill="url(#e3hb)" stroke="url(#e3hb)"/>
<path d="M1595.1 290.5L1605.8 269.8L1619.3 267.5Z" fill="url(#e3hc)" stroke="url(#e3hc)"/>
<path d="M1595.1 290.5L1619.3 267.5L1608.6 285.5Z" fill="url(#e3hd)" stroke="url(#e3hd)"/>
<path d="M1581.6 297L1592.3 269.7L1605.8 269.8Z" fill="url(#e3he)" stroke="url(#e3he)"/>
<path d="M1581.6 297L1605.8 269.8L1595.1 290.5Z" fill="url(#e3hf)" stroke="url(#e3hf)"/>
<path d="M1568.1 304.3L1578.8 268.5L1592.3 269.7Z" fill="url(#e3hg)" stroke="url(#e3hg)"/>
<path d="M1568.1 304.3L1592.3 269.7L1581.6 297Z" fill="url(#e3hh)" stroke="url(#e3hh)"/>
<path d="M1554.6 313.8L1565.3 264.4L1578.8 268.5Z" fill="url(#e3hi)" stroke="url(#e3hi)"/>
<path d="M1554.6 313.8L1578.8 268.5L1568.1 304.3Z" fill="url(#e3hj)" stroke="url(#e3hj)"/>
<path d="M1541.1 324.7L1551.8 258.2L1565.3 264.4Z" fill="url(#e3hk)" stroke="url(#e3hk)"/>
<path d="M1541.1 324.7L1565.3 264.4L1554.6 313.8Z" fill="url(#e3hl)" stroke="url(#e3hl)"/>
<path d="M1527.6 337.6L1538.3 249.6L1551.8 258.2Z" fill="url(#e3hm)" stroke="url(#e3hm)"/>
<path d="M1527.6 337.6L1551.8 258.2L1541.1 324.7Z" fill="url(#e3hn)" stroke="url(#e3hn)"/>
<path d="M1514.1 352L1524.8 239.1L1538.3 249.6Z" fill="url(#e3ho)" stroke="url(#e3ho)"/>
<path d="M1514.1 352L1538.3 249.6L1527.6 337.6Z" fill="url(#e3hp)" stroke="url(#e3hp)"/>
<path d="M1500.6 366.3L1511.3 228.5L1524.8 239.1Z" fill="url(#e3hq)" stroke="url(#e3hq)"/>
<path d="M1500.6 366.3L1524.8 239.1L1514.1 352Z" fill="url(#e3hr)" stroke="url(#e3hr)"/>
<path d="M1487 379L1497.8 220.1L1511.3 228.5Z" fill="url(#e3hs)" stroke="url(#e3hs)"/>
<path d="M1487 379L1511.3 228.5L1500.6 366.3Z" fill="url(#e3ht)" stroke="url(#e3ht)"/>
<path d="M1473.5 384.9L1484.3 220.7L1497.8 220.1Z" fill="url(#e3hu)" stroke="url(#e3hu)"/>
<path d="M1473.5 384.9L1497.8 220.1L1487 379Z" fill="url(#e3hv)" stroke="url(#e3hv)"/>
<path d="M1460 383.7L1470.8 230.6L1484.3 220.7Z" fill="url(#e3hw)" stroke="url(#e3hw)"/>
<path d="M1460 383.7L1484.3 220.7L1473.5 384.9Z" fill="url(#e3hx)" stroke="url(#e3hx)"/>
<path d="M1713.9 244.1L1724.6 269.3L1738.1 265.9Z" fill="url(#e3hy)" stroke="url(#e3hy)"/>
<path d="M1713.9 244.1L1738.1 265.9L1727.4 240.3Z" fill="url(#e3hz)" stroke="url(#e3hz)"/>
<path d="M1700.3 247.9L1711.1 272.7L1724.6 269.3Z" fill="url(#e3i0)" stroke="url(#e3i0)"/>
<path d="M1700.3 247.9L1724.6 269.3L1713.9 244.1Z" fill="url(#e3i1)" stroke="url(#e3i1)"/>
<path d="M1686.8 251.7L1697.6 276.1L1711.1 272.7Z" fill="url(#e3i2)" stroke="url(#e3i2)"/>
<path d="M1686.8 251.7L1711.1 272.7L1700.3 247.9Z" fill="url(#e3i3)" stroke="url(#e3i3)"/>
<path d="M1673.3 255.2L1684.1 279.7L1697.6 276.1Z" fill="url(#e3i4)" stroke="url(#e3i4)"/>
<path d="M1673.3 255.2L1697.6 276.1L1686.8 251.7Z" fill="url(#e3i5)" stroke="url(#e3i5)"/>
<path d="M1659.8 258.8L1670.6 283.4L1684.1 279.7Z" fill="url(#e3i6)" stroke="url(#e3i6)"/>
<path d="M1659.8 258.8L1684.1 279.7L1673.3 255.2Z" fill="url(#e3i7)" stroke="url(#e3i7)"/>
<path d="M1646.3 261.8L1657 287.6L1670.6 283.4Z" fill="url(#e3i8)" stroke="url(#e3i8)"/>
<path d="M1646.3 261.8L1670.6 283.4L1659.8 258.8Z" fill="url(#e3i9)" stroke="url(#e3i9)"/>
<path d="M1632.8 264.9L1643.5 291.7L1657 287.6Z" fill="url(#e3ia)" stroke="url(#e3ia)"/>
<path d="M1632.8 264.9L1657 287.6L1646.3 261.8Z" fill="url(#e3ib)" stroke="url(#e3ib)"/>
<path d="M1619.3 267.5L1630 296.4L1643.5 291.7Z" fill="url(#e3ic)" stroke="url(#e3ic)"/>
<path d="M1619.3 267.5L1643.5 291.7L1632.8 264.9Z" fill="url(#e3id)" stroke="url(#e3id)"/>
<path d="M1605.8 269.8L1616.5 301.4L1630 296.4Z" fill="url(#e3ie)" stroke="url(#e3ie)"/>
<path d="M1605.8 269.8L1630 296.4L1619.3 267.5Z" fill="url(#e3if)" stroke="url(#e3if)"/>
<path d="M1592.3 269.7L1603 308.8L1616.5 301.4Z" fill="url(#e3ig)" stroke="url(#e3ig)"/>
<path d="M1592.3 269.7L1616.5 301.4L1605.8 269.8Z" fill="url(#e3ih)" stroke="url(#e3ih)"/>
<path d="M1578.8 268.5L1589.5 317.5L1603 308.8Z" fill="url(#e3ii)" stroke="url(#e3ii)"/>
<path d="M1578.8 268.5L1603 308.8L1592.3 269.7Z" fill="url(#e3ij)" stroke="url(#e3ij)"/>
<path d="M1565.3 264.4L1576 329.2L1589.5 317.5Z" fill="url(#e3ik)" stroke="url(#e3ik)"/>
<path d="M1565.3 264.4L1589.5 317.5L1578.8 268.5Z" fill="url(#e3il)" stroke="url(#e3il)"/>
<path d="M1551.8 258.2L1562.5 343.1L1576 329.2Z" fill="url(#e3im)" stroke="url(#e3im)"/>
<path d="M1551.8 258.2L1576 329.2L1565.3 264.4Z" fill="url(#e3in)" stroke="url(#e3in)"/>
<path d="M1538.3 249.6L1549 359.6L1562.5 343.1Z" fill="url(#e3io)" stroke="url(#e3io)"/>
<path d="M1538.3 249.6L1562.5 343.1L1551.8 258.2Z" fill="url(#e3ip)" stroke="url(#e3ip)"/>
<path d="M1524.8 239.1L1535.5 378.1L1549 359.6Z" fill="url(#e3iq)" stroke="url(#e3iq)"/>
<path d="M1524.8 239.1L1549 359.6L1538.3 249.6Z" fill="url(#e3ir)" stroke="url(#e3ir)"/>
<path d="M1511.3 228.5L1522 396.7L1535.5 378.1Z" fill="url(#e3is)" stroke="url(#e3is)"/>
<path d="M1511.3 228.5L1535.5 378.1L1524.8 239.1Z" fill="url(#e3it)" stroke="url(#e3it)"/>
<path d="M1497.8 220.1L1508.5 412.9L1522 396.7Z" fill="url(#e3iu)" stroke="url(#e3iu)"/>
<path d="M1497.8 220.1L1522 396.7L1511.3 228.5Z" fill="url(#e3iv)" stroke="url(#e3iv)"/>
<path d="M1484.3 220.7L1495 419.7L1508.5 412.9Z" fill="url(#e3iw)" stroke="url(#e3iw)"/>
<path d="M1484.3 220.7L1508.5 412.9L1497.8 220.1Z" fill="url(#e3ix)" stroke="url(#e3ix)"/>
<path d="M1470.8 230.6L1481.5 416.6L1495 419.7Z" fill="url(#e3iy)" stroke="url(#e3iy)"/>
<path d="M1470.8 230.6L1495 419.7L1484.3 220.7Z" fill="url(#e3iz)" stroke="url(#e3iz)"/>
<path d="M1724.6 269.3L1735.3 255.8L1748.8 252.2Z" fill="url(#e3j0)" stroke="url(#e3j0)"/>
<path d="M1724.6 269.3L1748.8 252.2L1738.1 265.9Z" fill="url(#e3j1)" stroke="url(#e3j1)"/>
<path d="M1711.1 272.7L1721.8 259.4L1735.3 255.8Z" fill="url(#e3j2)" stroke="url(#e3j2)"/>
<path d="M1711.1 272.7L1735.3 255.8L1724.6 269.3Z" fill="url(#e3j3)" stroke="url(#e3j3)"/>
<path d="M1697.6 276.1L1708.3 262.9L1721.8 259.4Z" fill="url(#e3j4)" stroke="url(#e3j4)"/>
<path d="M1697.6 276.1L1721.8 259.4L1711.1 272.7Z" fill="url(#e3j5)" stroke="url(#e3j5)"/>
<path d="M1684.1 279.7L1694.8 266.4L1708.3 262.9Z" fill="url(#e3j6)" stroke="url(#e3j6)"/>
<path d="M1684.1 279.7L1708.3 262.9L1697.6 276.1Z" fill="url(#e3j7)" stroke="url(#e3j7)"/>
<path d="M1670.6 283.4L1681.3 269.8L1694.8 266.4Z" fill="url(#e3j8)" stroke="url(#e3j8)"/>
<path d="M1670.6 283.4L1694.8 266.4L1684.1 279.7Z" fill="url(#e3j9)" stroke="url(#e3j9)"/>
<path d="M1657 287.6L1667.8 272.9L1681.3 269.8Z" fill="url(#e3ja)" stroke="url(#e3ja)"/>
<path d="M1657 287.6L1681.3 269.8L1670.6 283.4Z" fill="url(#e3jb)" stroke="url(#e3jb)"/>
<path d="M1643.5 291.7L1654.3 276L1667.8 272.9Z" fill="url(#e3jc)" stroke="url(#e3jc)"/>
<path d="M1643.5 291.7L1667.8 272.9L1657 287.6Z" fill="url(#e3jd)" stroke="url(#e3jd)"/>
<path d="M1630 296.4L1640.8 278.8L1654.3 276Z" fill="url(#e3je)" stroke="url(#e3je)"/>
<path d="M1630 296.4L1654.3 276L1643.5 291.7Z" fill="url(#e3jf)" stroke="url(#e3jf)"/>
<path d="M1616.5 301.4L1627.3 281.4L1640.8 278.8Z" fill="url(#e3jg)" stroke="url(#e3jg)"/>
<path d="M1616.5 301.4L1640.8 278.8L1630 296.4Z" fill="url(#e3jh)" stroke="url(#e3jh)"/>
<path d="M1603 308.8L1613.7 282.7L1627.3 281.4Z" fill="url(#e3ji)" stroke="url(#e3ji)"/>
<path d="M1603 308.8L1627.3 281.4L1616.5 301.4Z" fill="url(#e3jj)" stroke="url(#e3jj)"/>
<path d="M1589.5 317.5L1600.2 283.3L1613.7 282.7Z" fill="url(#e3jk)" stroke="url(#e3jk)"/>
<path d="M1589.5 317.5L1613.7 282.7L1603 308.8Z" fill="url(#e3jl)" stroke="url(#e3jl)"/>
<path d="M1576 329.2L1586.7 282L1600.2 283.3Z" fill="url(#e3jm)" stroke="url(#e3jm)"/>
<path d="M1576 329.2L1600.2 283.3L1589.5 317.5Z" fill="url(#e3jn)" stroke="url(#e3jn)"/>
<path d="M1562.5 343.1L1573.2 279.4L1586.7 282Z" fill="url(#e3jo)" stroke="url(#e3jo)"/>
<path d="M1562.5 343.1L1586.7 282L1576 329.2Z" fill="url(#e3jp)" stroke="url(#e3jp)"/>
<path d="M1549 359.6L1559.7 275.3L1573.2 279.4Z" fill="url(#e3jq)" stroke="url(#e3jq)"/>
<path d="M1549 359.6L1573.2 279.4L1562.5 343.1Z" fill="url(#e3jr)" stroke="url(#e3jr)"/>
<path d="M1535.5 378.1L1546.2 270L1559.7 275.3Z" fill="url(#e3js)" stroke="url(#e3js)"/>
<path d="M1535.5 378.1L1559.7 275.3L1549 359.6Z" fill="url(#e3jt)" stroke="url(#e3jt)"/>
<path d="M1522 396.7L1532.7 264.6L1546.2 270Z" fill="url(#e3ju)" stroke="url(#e3ju)"/>
<path d="M1522 396.7L1546.2 270L1535.5 378.1Z" fill="url(#e3jv)" stroke="url(#e3jv)"/>
<path d="M1508.5 412.9L1519.2 260.6L1532.7 264.6Z" fill="url(#e3jw)" stroke="url(#e3jw)"/>
<path d="M1508.5 412.9L1532.7 264.6L1522 396.7Z" fill="url(#e3jx)" stroke="url(#e3jx)"/>
<path d="M1495 419.7L1505.7 262.3L1519.2 260.6Z" fill="url(#e3jy)" stroke="url(#e3jy)"/>
<path d="M1495 419.7L1519.2 260.6L1508.5 412.9Z" fill="url(#e3jz)" stroke="url(#e3jz)"/>
<path d="M1481.5 416.6L1492.2 270L1505.7 262.3Z" fill="url(#e3k0)" stroke="url(#e3k0)"/>
<path d="M1481.5 416.6L1505.7 262.3L1495 419.7Z" fill="url(#e3k1)" stroke="url(#e3k1)"/></g>
<line x1="1288.5" y1="346.6" x2="1288.5" y2="137.4" stroke="#262626" stroke-width="1.1"/>
<line x1="1288.5" y1="346.6" x2="1492.2" y2="432.6" stroke="#262626" stroke-width="1.1"/>
<line x1="1492.2" y1="432.6" x2="1748.8" y2="364.6" stroke="#262626" stroke-width="1.1"/>
<line x1="1288.5" y1="346.6" x2="1281.9" y2="348.3" stroke="#262626" stroke-width="1.1"/>
<text x="1271.5" y="364.3" font-size="14.4" text-anchor="middle" fill="#262626">4</text>
<line x1="1339.4" y1="368.1" x2="1332.9" y2="369.8" stroke="#262626" stroke-width="1.1"/>
<text x="1322.4" y="385.8" font-size="14.4" text-anchor="middle" fill="#262626">2</text>
<line x1="1390.3" y1="389.6" x2="1383.8" y2="391.3" stroke="#262626" stroke-width="1.1"/>
<text x="1373.3" y="407.3" font-size="14.4" text-anchor="middle" fill="#262626">0</text>
<line x1="1441.3" y1="411.1" x2="1434.7" y2="412.8" stroke="#262626" stroke-width="1.1"/>
<text x="1422.7" y="429.2" font-size="14.4" text-anchor="middle" fill="#262626">-2</text>
<line x1="1492.2" y1="432.6" x2="1485.6" y2="434.3" stroke="#262626" stroke-width="1.1"/>
<text x="1473.6" y="450.7" font-size="14.4" text-anchor="middle" fill="#262626">-4</text>
<line x1="1492.2" y1="432.6" x2="1498.5" y2="435.2" stroke="#262626" stroke-width="1.1"/>
<text x="1510.2" y="452.5" font-size="14.4" text-anchor="middle" fill="#262626">-4</text>
<line x1="1556.4" y1="415.6" x2="1562.6" y2="418.2" stroke="#262626" stroke-width="1.1"/>
<text x="1574.4" y="435.5" font-size="14.4" text-anchor="middle" fill="#262626">-2</text>
<line x1="1620.5" y1="398.6" x2="1626.8" y2="401.2" stroke="#262626" stroke-width="1.1"/>
<text x="1636.5" y="418" font-size="14.4" text-anchor="middle" fill="#262626">0</text>
<line x1="1684.6" y1="381.6" x2="1690.9" y2="384.2" stroke="#262626" stroke-width="1.1"/>
<text x="1700.6" y="401" font-size="14.4" text-anchor="middle" fill="#262626">2</text>
<line x1="1748.8" y1="364.6" x2="1755.1" y2="367.2" stroke="#262626" stroke-width="1.1"/>
<text x="1764.8" y="384" font-size="14.4" text-anchor="middle" fill="#262626">4</text>
<line x1="1288.5" y1="346.6" x2="1282.2" y2="344" stroke="#262626" stroke-width="1.1"/>
<text x="1276.1" y="348.3" font-size="14.4" text-anchor="end" fill="#262626">-4</text>
<line x1="1288.5" y1="294.3" x2="1282.2" y2="291.7" stroke="#262626" stroke-width="1.1"/>
<text x="1276.1" y="296" font-size="14.4" text-anchor="end" fill="#262626">-2</text>
<line x1="1288.5" y1="242" x2="1282.2" y2="239.4" stroke="#262626" stroke-width="1.1"/>
<text x="1276.1" y="243.7" font-size="14.4" text-anchor="end" fill="#262626">0</text>
<line x1="1288.5" y1="189.7" x2="1282.2" y2="187.1" stroke="#262626" stroke-width="1.1"/>
<text x="1276.1" y="191.4" font-size="14.4" text-anchor="end" fill="#262626">2</text>
<line x1="1288.5" y1="137.4" x2="1282.2" y2="134.8" stroke="#262626" stroke-width="1.1"/>
<text x="1276.1" y="139.1" font-size="14.4" text-anchor="end" fill="#262626">4</text>
<text x="1283.8" y="115.6" font-size="14.4" text-anchor="end" fill="#262626"><tspan font-size="18" fill="#555" dy="1">×</tspan><tspan dy="-1">10</tspan><tspan font-size="11" dy="-6.8" dx="1">5</tspan></text>
<text x="1554" y="24.9" font-size="29" font-weight="bold" text-anchor="middle" fill="#000">(a<tspan font-size="22" dy="14.3">1</tspan><tspan dy="-14.3">)</tspan></text>
<text x="1399.8" y="467.4" font-size="28" text-anchor="middle" fill="#262626">t</text>
<text x="1599" y="471" font-size="28" text-anchor="middle" fill="#262626">x</text>
<text transform="translate(1239.8 242.3) rotate(-90)" font-size="28" letter-spacing="0.9" text-anchor="middle" fill="#262626">U<tspan font-size="23" dy="14.5">68</tspan><tspan dy="-14.5">(x,t)</tspan></text>
</g>
<g id="c1">
<g clip-path="url(#clipc1)" stroke="#000" stroke-width="1.1" stroke-linejoin="round">
<rect x="54.5" y="613.8" width="470.8" height="360.5" fill="#00ff92" stroke="none"/>
<polygon points="54,613.5 298.9,613.5 298.9,632.7 282.7,642.7 270,652 252.7,656.7 227.3,658.7 174,659.3 54,660" fill="#009aff"/>
<polygon points="54,690 174,692 254,695.3 277.3,699.3 287.3,707.3 302,720.7 525.3,720 525.3,745.3 314.7,746.7 302,756 300.7,746.7 288.7,734 278,727.1 227.3,722 54,720.7" fill="#009aff"/>
<polygon points="287.3,670.7 302.3,659.3 376.7,659.3 525.3,659.1 525.3,689.7 376.7,691.6 302.3,692.7" fill="#009aff"/>
<polygon points="422,632.8 520.7,613.5 525.3,613.5 525.3,633.1 422,633.1" fill="#009aff"/>
<polygon points="54,745.7 182,746 202.7,758 227.3,761.3 290,764.9 295.3,765.6 274.7,784.7 276.7,803.3 294.7,803.3 298.3,822 290.7,841.3 230,841.7 178,842.7 153.3,844.7 128.7,854 122,860 54,860" fill="#009aff"/>
<polygon points="54,882.7 187.3,881.3 226,879.1 251.3,866 277.3,864 299.3,860 300,854 302,842.7 351.3,846 374,860 525.3,860.4 525.3,882.7 302,881.7 286,897.7 254,905.3 187.3,912.7 134,916.4 54,918.4" fill="#009aff"/>
<polygon points="54,950.3 174,948.9 227.3,946.7 252.7,942 262,936 276.7,932 299.3,916.7 302,913.3 350,917.7 525.3,919.3 525.3,950 302,948.9 276.7,969.3 227.3,972.7 194,974.8 54,974.8" fill="#009aff"/>
<polygon points="54,640 147.3,641.1 227.3,643.6 250.7,651.7 200.7,654.7 134,656 54,656.9" fill="#4400ff"/>
<polygon points="54,648 120.7,648.9 180,651.7 120.7,652.7 54,653.3" fill="#ff00db"/>
<polygon points="54,662.7 174,663.1 252.7,660.9 276.7,659.3 291.6,689.7 278,695.6 252.7,692.4 200.7,687.1 54,684.7" fill="#55ff00"/>
<polygon points="54,666.7 252.7,667.1 274,671.3 280.7,676.7 285.3,690 278,692.9 258,689.7 252.7,684.7 232.7,680.7 200.7,679.3 54,680" fill="#ffcc00"/>
<polygon points="54,668.7 147.3,669.3 232.7,670.9 187.3,672.7 54,675.3" fill="#ff0000"/>
<polygon points="273.3,690 276.9,686.7 279.3,690.3" fill="#ff0000"/>
<polygon points="54,696.7 187.3,699.3 276.7,702.7 286.7,708.9 276.7,720.7 187.3,718.7 54,716.7" fill="#4400ff"/>
<polygon points="54,704 187.3,705.1 276.7,706 281.3,708.9 276.7,714.7 187.3,713.7 54,712" fill="#ff00db"/>
<polygon points="251.3,708.7 278,708 278,710 251.3,709.2" fill="#ff0000"/>
<polygon points="54,725.3 174,726.4 238,727.6 174,731.3 54,733.6" fill="#55ff00"/>
<polygon points="237.3,613.5 276.7,631.6 289.3,615.3 289.3,613.5" fill="#4400ff"/>
<polygon points="267.3,613.5 276.7,620 281.3,613.5" fill="#ff00db"/>
<polygon points="288.7,651.7 302.3,643.6 327.1,640.7 351.9,640.1 401.3,642.3 450.9,646 500.5,649.7 524,651.7 500.5,652.9 450.9,654.7 401.3,656 351.9,656.4 327.1,655.6 302.3,653.6" fill="#55ff00"/>
<polygon points="313.3,651.7 327.1,648.4 351.9,648 376.7,648.9 411.3,651.7 376.7,652.9 351.9,653.5 327.1,653.2" fill="#ffcc00"/>
<polygon points="292.4,670.7 302.3,663.1 351.9,662 414,663.3 525.3,666.9 525.3,677.7 467.3,680.7 401.3,683.3 351.9,684.9 302.3,685.3" fill="#4400ff"/>
<polygon points="298,670.7 304,667.1 327.1,665.2 376.7,666 440.7,668.4 482.7,670.8 440.7,674.7 376.7,678 327.1,680.1 304,675.3" fill="#ff00db"/>
<polygon points="305.3,670.7 327.1,668 351.9,668 376.7,668.7 413.3,670.7 376.7,673.7 351.9,675.1 327.1,675.3" fill="#ff0000"/>
<polygon points="296,708.7 302.3,700 327.1,696.9 351.9,696.9 401.3,698.4 450.9,702 500.5,706 525.3,708.4 500.5,711.1 450.9,713.7 401.3,715.6 351.9,716.7 327.1,716.7 302.3,716.4" fill="#55ff00"/>
<polygon points="300.7,708.7 327.1,703.6 351.9,703.6 376.7,704.7 424,708.7 376.7,711.1 351.9,712.4 327.1,712.4" fill="#ffcc00"/>
<polygon points="300,727.6 327.1,724.7 376.7,724.9 449.3,727.6 376.7,732 327.1,734 314,732" fill="#4400ff"/>
<polygon points="54,894 174,896.4 238.7,897.7 174,900 54,903.6" fill="#4400ff"/>
<polygon points="303.3,898 325.3,894 350,894 418,898 350,902.7 325.3,902.3" fill="#55ff00"/>
<polygon points="284,935.6 326,926.7 374,927.3 486.7,935.6 374,941.3 326,942.3" fill="#4400ff"/>
<polygon points="266,954.7 277.3,945.3 278.7,956" fill="#4400ff"/>
<polygon points="54,927.7 203.3,929.3 226.7,935.6 200.7,938.7 54,943.1" fill="#55ff00"/>
<polygon points="233.3,916.7 276.7,906.3 292.7,916.4 276.7,927.1 254.7,927.1" fill="#55ff00"/>
<polygon points="258.7,916.7 276.7,911.3 285.3,916.4 276.7,922.7" fill="#ffcc00"/>
<polygon points="274,916.7 276.7,915.3 279.1,916.9 276.7,918.3" fill="#ff0000"/>
</g>
<rect x="54.5" y="613.8" width="470.8" height="360.5" fill="none" stroke="#262626" stroke-width="1.1"/>
<text x="54.5" y="996.2" font-size="14.6" text-anchor="middle" fill="#262626">-4</text>
<text x="48" y="979.6" font-size="14.6" text-anchor="end" fill="#262626">-4</text>
<path d="M113.3 974.3v-4.7 M113.3 613.8v4.7 M54.5 929.2h4.7 M525.3 929.2h-4.7" stroke="#262626" stroke-width="1" fill="none"/>
<text x="113.3" y="996.2" font-size="14.6" text-anchor="middle" fill="#262626">-3</text>
<text x="48" y="934.5" font-size="14.6" text-anchor="end" fill="#262626">-3</text>
<path d="M172.2 974.3v-4.7 M172.2 613.8v4.7 M54.5 884.2h4.7 M525.3 884.2h-4.7" stroke="#262626" stroke-width="1" fill="none"/>
<text x="172.2" y="996.2" font-size="14.6" text-anchor="middle" fill="#262626">-2</text>
<text x="48" y="889.5" font-size="14.6" text-anchor="end" fill="#262626">-2</text>
<path d="M231 974.3v-4.7 M231 613.8v4.7 M54.5 839.1h4.7 M525.3 839.1h-4.7" stroke="#262626" stroke-width="1" fill="none"/>
<text x="231" y="996.2" font-size="14.6" text-anchor="middle" fill="#262626">-1</text>
<text x="48" y="844.4" font-size="14.6" text-anchor="end" fill="#262626">-1</text>
<path d="M289.9 974.3v-4.7 M289.9 613.8v4.7 M54.5 794h4.7 M525.3 794h-4.7" stroke="#262626" stroke-width="1" fill="none"/>
<text x="289.9" y="996.2" font-size="14.6" text-anchor="middle" fill="#262626">0</text>
<text x="48" y="799.3" font-size="14.6" text-anchor="end" fill="#262626">0</text>
<path d="M348.8 974.3v-4.7 M348.8 613.8v4.7 M54.5 749h4.7 M525.3 749h-4.7" stroke="#262626" stroke-width="1" fill="none"/>
<text x="348.8" y="996.2" font-size="14.6" text-anchor="middle" fill="#262626">1</text>
<text x="48" y="754.3" font-size="14.6" text-anchor="end" fill="#262626">1</text>
<path d="M407.6 974.3v-4.7 M407.6 613.8v4.7 M54.5 703.9h4.7 M525.3 703.9h-4.7" stroke="#262626" stroke-width="1" fill="none"/>
<text x="407.6" y="996.2" font-size="14.6" text-anchor="middle" fill="#262626">2</text>
<text x="48" y="709.2" font-size="14.6" text-anchor="end" fill="#262626">2</text>
<path d="M466.4 974.3v-4.7 M466.4 613.8v4.7 M54.5 658.9h4.7 M525.3 658.9h-4.7" stroke="#262626" stroke-width="1" fill="none"/>
<text x="466.4" y="996.2" font-size="14.6" text-anchor="middle" fill="#262626">3</text>
<text x="48" y="664.2" font-size="14.6" text-anchor="end" fill="#262626">3</text>
<text x="525.3" y="996.2" font-size="14.6" text-anchor="middle" fill="#262626">4</text>
<text x="48" y="619.1" font-size="14.6" text-anchor="end" fill="#262626">4</text>
<text x="296" y="579.5" font-size="29" font-weight="bold" text-anchor="middle" fill="#000">(a<tspan font-size="22" dy="14.3">2</tspan><tspan dy="-14.3">)</tspan></text>
<text x="289.9" y="1032.2" font-size="28" text-anchor="middle" fill="#262626">x</text>
<text transform="translate(24.2 794) rotate(-90)" font-size="28" text-anchor="middle" fill="#262626">t</text>
</g>
<g id="c2">
<g clip-path="url(#clipc2)" stroke="#000" stroke-width="1.1" stroke-linejoin="round">
<rect x="673.7" y="613.8" width="471.3" height="360.5" fill="#00ff1f" stroke="none"/>
<polygon points="673,613.5 758.3,613.5 773,618 921.7,618 935.7,613.5 1145.7,613.5 1145.7,618.3 946.3,618.3 941,632.7 921.7,639.3 772.9,639.3 755.7,632.7 748.1,618.3 673,618" fill="#00e4ff"/>
<polygon points="673,639.3 748.1,640 755.7,652 772.9,660.7 921.7,660.9 940.3,652 946.3,640 1145.7,639.6 1145.7,660.9 946.3,661.3 940.3,670.7 946.3,682 1145.7,682 1145.7,702 946.3,702 940.3,690 921.7,682 772.9,682.3 756.3,690 748.1,702 673,702 673,681.3 748.1,681.3 756.3,670.7 748.1,660.9 673,660.7" fill="#00e4ff"/>
<polygon points="673,722 748.1,722 756.3,708.9 772.9,702.3 921.7,702.3 940.3,708.9 946.3,722.3 1145.7,722.3 1145.7,742.3 947,742.3 943.7,734 941,728 921.7,722.7 772.9,722.7 758.3,727.3 753,734 748.1,741.7 673,742" fill="#00e4ff"/>
<polygon points="673,762 748.1,761.3 758.3,746.7 772.9,742.7 921.7,741.7 942.3,746.7 946.3,763.3 1145.7,761.7 1145.7,780.9 970.3,782.3 959.7,784.4 946.3,795.3 921.7,800.3 895.7,803.3 872.3,820 864.3,822.3 872.3,833.7 921.7,838.7 995.7,840.7 1045.7,843.3 1058.3,854 1064.3,860 1145.7,865.7 1145.7,908 1093,903.6 1062.3,898 1046.3,889.3 1021,884.7 969,881.3 919.7,879.3 897,864.4 862.3,860 857,854 847.7,842.3 793,840.3 673,837.3 673,803.1 726.3,801.3 748.1,799.6 772.9,783.7 797,782 909,780.7 921.7,780 944.3,765.3 921.7,761.3 849,762 772.9,762.7 761.7,765.6 748.1,779.3 726.3,780.3 673,780.9" fill="#00e4ff"/>
<polygon points="1068.3,822.3 1095.7,819.6 1120.3,810 1125.7,803.3 1145.7,803.1 1145.7,836.9 1094.3,834 1070.3,825.3" fill="#00e4ff"/>
<polygon points="673,866.7 698.3,869.6 724.3,879.1 822.3,883.6 847.7,887.6 860.3,898 872.3,903.6 897,907.1 921.7,915.6 946.3,919.3 995.7,924.7 1046.3,930 1081,935.6 1095,944 1119.7,947.3 1145.7,948.7 1145.7,975.3 1113,974.8 1086.3,972.4 1045,969.3 1021,964 1012.3,954.7 921.7,951.3 897,948 872.3,942 868.3,935.6 847.7,928 773,920.3 724.3,912.7 673,908.9" fill="#00e4ff"/>
<polygon points="673,948.9 822.3,954.7 847.7,968.9 873,972.7 881,974.8 881,975.6 673,975.6" fill="#00e4ff"/>
<polygon points="673,646.7 712.3,651.7 673,656.4" fill="#1f00ff"/>
<polygon points="673,666.3 714.3,670.7 673,676" fill="#e0ff00"/>
<polygon points="673,687.1 698.3,689.7 673,693.3" fill="#1f00ff"/>
<polygon points="825,632.8 847.9,626 883,632.8 847.9,636" fill="#1f00ff"/>
<polygon points="798.3,651.7 847.9,643.6 873,645.7 900.3,651.7 873,656.9 847.9,658.4 822.3,655.3" fill="#e0ff00"/>
<polygon points="829.7,651.7 847.9,647.3 876.3,651.7 847.9,655.3" fill="#ff2a00"/>
<polygon points="844.3,651.7 847.9,650.7 852.3,651.7 847.9,652.9" fill="#c81e1e"/>
<polygon points="796.3,670.7 847.9,663.6 873,665.3 902.3,670.7 873,676.7 847.9,678.9 822.3,675.3" fill="#1f00ff"/>
<polygon points="828.3,670.7 847.9,666.9 878.3,670.7 847.9,675.1" fill="#ff00e0"/>
<polygon points="841.7,670.7 847.9,668.9 856.3,670.7 847.9,672.7" fill="#c81e1e"/>
<polygon points="811,689.7 847.9,684.7 873,686.7 893.7,689.7 873,694.7 847.9,696.9" fill="#e0ff00"/>
<polygon points="838.3,689.7 847.9,688 861.7,689.7 847.9,692.3" fill="#ff2a00"/>
<polygon points="837,708.9 847.9,707.1 865,708.7 847.9,712" fill="#1f00ff"/>
</g>
<rect x="673.7" y="613.8" width="471.3" height="360.5" fill="none" stroke="#262626" stroke-width="1.1"/>
<text x="673.7" y="996.2" font-size="14.6" text-anchor="middle" fill="#262626">-4</text>
<text x="667.2" y="979.6" font-size="14.6" text-anchor="end" fill="#262626">-4</text>
<path d="M732.6 974.3v-4.7 M732.6 613.8v4.7 M673.7 929.2h4.7 M1145 929.2h-4.7" stroke="#262626" stroke-width="1" fill="none"/>
<text x="732.6" y="996.2" font-size="14.6" text-anchor="middle" fill="#262626">-3</text>
<text x="667.2" y="934.5" font-size="14.6" text-anchor="end" fill="#262626">-3</text>
<path d="M791.5 974.3v-4.7 M791.5 613.8v4.7 M673.7 884.2h4.7 M1145 884.2h-4.7" stroke="#262626" stroke-width="1" fill="none"/>
<text x="791.5" y="996.2" font-size="14.6" text-anchor="middle" fill="#262626">-2</text>
<text x="667.2" y="889.5" font-size="14.6" text-anchor="end" fill="#262626">-2</text>
<path d="M850.4 974.3v-4.7 M850.4 613.8v4.7 M673.7 839.1h4.7 M1145 839.1h-4.7" stroke="#262626" stroke-width="1" fill="none"/>
<text x="850.4" y="996.2" font-size="14.6" text-anchor="middle" fill="#262626">-1</text>
<text x="667.2" y="844.4" font-size="14.6" text-anchor="end" fill="#262626">-1</text>
<path d="M909.4 974.3v-4.7 M909.4 613.8v4.7 M673.7 794h4.7 M1145 794h-4.7" stroke="#262626" stroke-width="1" fill="none"/>
<text x="909.4" y="996.2" font-size="14.6" text-anchor="middle" fill="#262626">0</text>
<text x="667.2" y="799.3" font-size="14.6" text-anchor="end" fill="#262626">0</text>
<path d="M968.3 974.3v-4.7 M968.3 613.8v4.7 M673.7 749h4.7 M1145 749h-4.7" stroke="#262626" stroke-width="1" fill="none"/>
<text x="968.3" y="996.2" font-size="14.6" text-anchor="middle" fill="#262626">1</text>
<text x="667.2" y="754.3" font-size="14.6" text-anchor="end" fill="#262626">1</text>
<path d="M1027.2 974.3v-4.7 M1027.2 613.8v4.7 M673.7 703.9h4.7 M1145 703.9h-4.7" stroke="#262626" stroke-width="1" fill="none"/>
<text x="1027.2" y="996.2" font-size="14.6" text-anchor="middle" fill="#262626">2</text>
<text x="667.2" y="709.2" font-size="14.6" text-anchor="end" fill="#262626">2</text>
<path d="M1086.1 974.3v-4.7 M1086.1 613.8v4.7 M673.7 658.9h4.7 M1145 658.9h-4.7" stroke="#262626" stroke-width="1" fill="none"/>
<text x="1086.1" y="996.2" font-size="14.6" text-anchor="middle" fill="#262626">3</text>
<text x="667.2" y="664.2" font-size="14.6" text-anchor="end" fill="#262626">3</text>
<text x="1145" y="996.2" font-size="14.6" text-anchor="middle" fill="#262626">4</text>
<text x="667.2" y="619.1" font-size="14.6" text-anchor="end" fill="#262626">4</text>
<text x="916" y="579.5" font-size="29" font-weight="bold" text-anchor="middle" fill="#000">(b<tspan font-size="22" dy="14.3">2</tspan><tspan dy="-14.3">)</tspan></text>
<text x="909.4" y="1032.2" font-size="28" text-anchor="middle" fill="#262626">x</text>
<text transform="translate(643.4 794) rotate(-90)" font-size="28" text-anchor="middle" fill="#262626">t</text>
</g>
<g id="c3">
<path d="M1293.8 955.3L1293.8 957.2L1318.6 957.8L1343.4 957.5L1368.2 956.1L1377.3 955.3L1368.2 954.7L1343.4 953.5L1318.6 953.2L1293.8 953.8ZM1688.6 651.7L1690.8 651.9L1715.6 653.3L1740.4 653.6L1765.2 652.9L1765.2 651.7L1765.2 650.7L1740.4 650.2L1715.6 650.4L1690.8 651.6Z" fill="#ff0000" fill-rule="evenodd" stroke="#ff0000" stroke-width="0.5"/>
<path d="M1293.8 957.2L1293.8 960.4L1318.6 960.9L1343.4 960.7L1368.2 959.7L1393 958.1L1417.9 955.7L1421.1 955.3L1417.9 955L1393 953L1368.2 951.7L1343.4 950.9L1318.6 950.7L1293.8 951.1L1293.8 953.8L1318.6 953.2L1343.4 953.5L1368.2 954.7L1377.3 955.3L1368.2 956.1L1343.4 957.5L1318.6 957.8ZM1293.8 917.4L1293.8 919.4L1318.6 919.8L1343.4 919.6L1368.2 918.8L1392 917.4L1368.2 915.5L1343.4 914.3L1318.6 914.1L1293.8 914.6ZM1642.7 651.7L1666 653.9L1690.8 655.4L1715.6 656.3L1740.4 656.5L1765.2 656.1L1765.2 652.9L1740.4 653.6L1715.6 653.3L1690.8 651.9L1688.6 651.7L1690.8 651.6L1715.6 650.4L1740.4 650.2L1765.2 650.7L1765.2 648L1740.4 647.6L1715.6 647.8L1690.8 648.6L1666 649.9ZM1689.8 613.8L1690.8 613.9L1715.6 614.8L1740.4 614.9L1765.2 614.5L1765.2 613.8L1740.4 613.8L1715.6 613.8L1690.8 613.8Z" fill="#ffcc00" fill-rule="evenodd" stroke="#ffcc00" stroke-width="0.5"/>
<path d="M1293.8 960.4L1293.8 963.7L1318.6 964L1343.4 963.8L1368.2 963.4L1393 962.5L1417.9 961.3L1442.7 959.5L1467.5 957L1481.6 955.3L1467.5 953.9L1442.7 951.8L1417.9 950.3L1393 949.3L1368.2 948.6L1343.4 948.2L1318.6 948.1L1293.8 948.3L1293.8 951.1L1318.6 950.7L1343.4 950.9L1368.2 951.7L1393 953L1417.9 955L1421.1 955.3L1417.9 955.7L1393 958.1L1368.2 959.7L1343.4 960.7L1318.6 960.9ZM1293.8 919.4L1293.8 922.6L1318.6 922.8L1343.4 922.7L1368.2 922.2L1393 921.5L1417.9 920.4L1442.7 918.9L1461.6 917.4L1442.7 915.4L1417.9 913.3L1393 911.8L1368.2 910.8L1343.4 910.2L1318.6 910.1L1293.8 910.4L1293.8 914.6L1318.6 914.1L1343.4 914.3L1368.2 915.5L1392 917.4L1368.2 918.8L1343.4 919.6L1318.6 919.8ZM1293.8 879.4L1293.8 881.1L1318.6 881.4L1343.4 881.3L1368.2 880.5L1392.2 879.4L1368.2 877.8L1343.4 876.7L1318.6 876.5L1293.8 877ZM1628.5 689.7L1641.1 690.8L1666 692.7L1690.8 694.1L1715.6 694.9L1740.4 695.1L1765.2 694.7L1765.2 689.7L1765.2 686.2L1740.4 686L1715.6 686.1L1690.8 686.7L1666 687.5L1641.1 688.9ZM1580.7 651.7L1591.5 652.9L1616.3 655.2L1641.1 656.9L1666 658.1L1690.8 658.9L1715.6 659.4L1740.4 659.5L1765.2 659.2L1765.2 656.1L1740.4 656.5L1715.6 656.3L1690.8 655.4L1666 653.9L1642.7 651.7L1666 649.9L1690.8 648.6L1715.6 647.8L1740.4 647.6L1765.2 648L1765.2 645.2L1740.4 645.1L1715.6 645.1L1690.8 645.5L1666 646.2L1641.1 647.2L1616.3 648.7L1591.5 650.7ZM1612.5 613.8L1616.3 614.1L1641.1 615.6L1666 616.8L1690.8 617.5L1715.6 617.9L1740.4 618L1765.2 617.8L1765.2 614.5L1740.4 614.9L1715.6 614.8L1690.8 613.9L1689.8 613.8L1666 613.8L1641.1 613.8L1616.3 613.8Z" fill="#55ff00" fill-rule="evenodd" stroke="#55ff00" stroke-width="0.5"/>
<path d="M1293.8 963.7L1293.8 967L1318.6 967L1343.4 967L1368.2 967L1393 966.9L1417.9 966.9L1442.7 966.8L1467.5 966.6L1492.3 966.4L1517.1 966.2L1541.9 965.9L1566.7 965.9L1591.5 965.8L1616.3 965.8L1641.1 965.8L1666 965.9L1690.8 965.9L1715.6 966L1740.4 966.1L1765.2 966.2L1765.2 955.3L1765.2 945.9L1740.4 945.9L1715.6 945.9L1690.8 945.9L1666 945.9L1641.1 945.9L1616.3 945.8L1591.5 945.8L1566.7 945.8L1541.9 945.7L1517.1 945.7L1492.3 945.7L1467.5 945.6L1442.7 945.6L1417.9 945.6L1393 945.6L1368.2 945.6L1343.4 945.6L1318.6 945.6L1293.8 945.6L1293.8 948.3L1318.6 948.1L1343.4 948.2L1368.2 948.6L1393 949.3L1417.9 950.3L1442.7 951.8L1467.5 953.9L1481.6 955.3L1467.5 957L1442.7 959.5L1417.9 961.3L1393 962.5L1368.2 963.4L1343.4 963.8L1318.6 964ZM1293.8 922.6L1293.8 925.7L1318.6 925.7L1343.4 925.7L1368.2 925.7L1393 925.8L1417.9 925.8L1442.7 925.9L1467.5 926L1492.3 926.1L1517.1 926.2L1541.9 926.3L1566.7 926.2L1591.5 926L1616.3 925.8L1641.1 925.6L1666 925.3L1690.8 925.1L1715.6 924.8L1740.4 924.5L1765.2 924.3L1765.2 917.4L1765.2 907.9L1740.4 907.9L1715.6 907.9L1690.8 907.9L1666 907.8L1641.1 907.8L1616.3 907.6L1591.5 907.5L1566.7 907.4L1541.9 907.3L1517.1 907L1492.3 906.8L1467.5 906.6L1442.7 906.4L1417.9 906.3L1393 906.2L1368.2 906.1L1343.4 906.1L1318.6 906.1L1293.8 906.1L1293.8 910.4L1318.6 910.1L1343.4 910.2L1368.2 910.8L1393 911.8L1417.9 913.3L1442.7 915.4L1461.6 917.4L1442.7 918.9L1417.9 920.4L1393 921.5L1368.2 922.2L1343.4 922.7L1318.6 922.8ZM1293.8 881.1L1293.8 887.3L1318.6 887.2L1343.4 887.2L1368.2 887.3L1393 887.4L1417.9 887.5L1442.7 887.6L1467.5 887.8L1492.3 888.1L1517.1 888.3L1541.9 888.4L1566.7 888.5L1591.5 888.5L1616.3 888.5L1641.1 888.4L1666 888.4L1690.8 888.3L1715.6 888.2L1740.4 888.1L1765.2 887.9L1765.2 879.4L1765.2 868.7L1740.4 868.9L1715.6 869.1L1690.8 869.2L1666 869.3L1641.1 869.4L1616.3 869.5L1591.5 869.5L1566.7 869.5L1541.9 869.5L1517.1 869.3L1492.3 869.1L1467.5 868.8L1442.7 868.5L1417.9 868.3L1393 868.1L1368.2 867.9L1343.4 867.8L1318.6 867.8L1293.8 867.9L1293.8 877L1318.6 876.5L1343.4 876.7L1368.2 877.8L1392.2 879.4L1368.2 880.5L1343.4 881.3L1318.6 881.4ZM1293.8 841.5L1293.8 849.4L1318.6 849.4L1343.4 849.4L1368.2 849.5L1393 849.6L1417.9 849.8L1442.7 850L1467.5 850.3L1492.3 850.5L1517.1 850.6L1541.9 850.7L1566.7 850.8L1591.5 850.8L1616.3 850.9L1641.1 850.9L1666 850.9L1690.8 850.9L1715.6 850.9L1740.4 850.9L1765.2 850.9L1765.2 841.5L1765.2 832.6L1740.4 832.5L1715.6 832.4L1690.8 832.3L1666 832.2L1641.1 832.1L1616.3 832.1L1591.5 832L1566.7 831.9L1541.9 831.8L1517.1 831.7L1492.3 831.6L1467.5 831.4L1442.7 831.1L1417.9 830.9L1393 830.6L1368.2 830.4L1343.4 830.2L1318.6 830.2L1293.8 830.3ZM1293.8 803.5L1293.8 812.4L1318.6 812.4L1343.4 812.4L1368.2 812.5L1393 812.6L1417.9 812.7L1442.7 812.8L1467.5 812.8L1492.3 812.9L1517.1 812.9L1541.9 813L1566.7 813.1L1591.5 813.3L1616.3 813.4L1641.1 813.6L1666 813.7L1690.8 813.9L1715.6 814.1L1740.4 814.3L1765.2 814.5L1765.2 803.5L1765.2 796.4L1740.4 796.2L1715.6 796L1690.8 795.7L1666 795.4L1641.1 795.2L1616.3 794.9L1591.5 794.6L1566.7 794.4L1541.9 794.2L1517.1 793.9L1492.3 793.7L1467.5 793.5L1442.7 793.2L1417.9 792.9L1393 792.7L1368.2 792.4L1343.4 792.1L1318.6 791.9L1293.8 791.7ZM1293.8 765.6L1293.8 773.6L1318.6 773.8L1343.4 774L1368.2 774.2L1393 774.4L1417.9 774.5L1442.7 774.7L1467.5 774.8L1492.3 775L1517.1 775.1L1541.9 775.2L1566.7 775.2L1591.5 775.3L1616.3 775.3L1641.1 775.4L1666 775.5L1690.8 775.6L1715.6 775.7L1740.4 775.7L1765.2 775.7L1765.2 765.6L1765.2 757.8L1740.4 757.9L1715.6 757.9L1690.8 757.7L1666 757.5L1641.1 757.2L1616.3 757L1591.5 756.7L1566.7 756.5L1541.9 756.4L1517.1 756.3L1492.3 756.2L1467.5 756.1L1442.7 756L1417.9 756L1393 755.9L1368.2 755.8L1343.4 755.7L1318.6 755.6L1293.8 755.5ZM1293.8 727.6L1293.8 737.2L1318.6 737.2L1343.4 737.2L1368.2 737.2L1393 737.2L1417.9 737.2L1442.7 737.2L1467.5 737.3L1492.3 737.3L1517.1 737.4L1541.9 737.5L1566.7 737.6L1591.5 737.8L1616.3 738.1L1641.1 738.3L1666 738.5L1690.8 738.6L1715.6 738.7L1740.4 738.7L1765.2 738.7L1765.2 727.6L1765.2 720.2L1740.4 720.3L1715.6 720.3L1690.8 720.2L1666 720L1641.1 719.8L1616.3 719.6L1591.5 719.3L1566.7 719L1541.9 718.8L1517.1 718.6L1492.3 718.6L1467.5 718.6L1442.7 718.6L1417.9 718.7L1393 718.8L1368.2 718.9L1343.4 719L1318.6 719.2L1293.8 719.4ZM1293.8 689.7L1293.8 700.2L1318.6 700L1343.4 699.9L1368.2 699.8L1393 699.7L1417.9 699.7L1442.7 699.6L1467.5 699.6L1492.3 699.6L1517.1 699.7L1541.9 699.8L1566.7 700L1591.5 700.3L1616.3 700.5L1641.1 700.6L1666 700.7L1690.8 700.8L1715.6 700.9L1740.4 700.9L1765.2 700.8L1765.2 694.7L1740.4 695.1L1715.6 694.9L1690.8 694.1L1666 692.7L1641.1 690.8L1628.5 689.7L1641.1 688.9L1666 687.5L1690.8 686.7L1715.6 686.1L1740.4 686L1765.2 686.2L1765.2 682L1740.4 682L1715.6 682L1690.8 682L1666 681.9L1641.1 681.8L1616.3 681.7L1591.5 681.5L1566.7 681.3L1541.9 681.1L1517.1 680.8L1492.3 680.7L1467.5 680.6L1442.7 680.5L1417.9 680.3L1393 680.3L1368.2 680.2L1343.4 680.2L1318.6 680.2L1293.8 680.2ZM1293.8 651.7L1293.8 663.8L1318.6 663.6L1343.4 663.3L1368.2 663L1393 662.8L1417.9 662.5L1442.7 662.3L1467.5 662.1L1492.3 661.9L1517.1 661.8L1541.9 661.9L1566.7 662L1591.5 662.1L1616.3 662.2L1641.1 662.3L1666 662.3L1690.8 662.4L1715.6 662.4L1740.4 662.4L1765.2 662.4L1765.2 659.2L1740.4 659.5L1715.6 659.4L1690.8 658.9L1666 658.1L1641.1 656.9L1616.3 655.2L1591.5 652.9L1580.7 651.7L1591.5 650.7L1616.3 648.7L1641.1 647.2L1666 646.2L1690.8 645.5L1715.6 645.1L1740.4 645.1L1765.2 645.2L1765.2 642.5L1740.4 642.5L1715.6 642.5L1690.8 642.5L1666 642.5L1641.1 642.5L1616.3 642.5L1591.5 642.5L1566.7 642.4L1541.9 642.4L1517.1 642.4L1492.3 642.3L1467.5 642.3L1442.7 642.3L1417.9 642.2L1393 642.2L1368.2 642.2L1343.4 642.2L1318.6 642.2L1293.8 642.2ZM1293.8 613.8L1293.8 621.9L1318.6 622L1343.4 622.1L1368.2 622.2L1393 622.2L1417.9 622.3L1442.7 622.3L1467.5 622.3L1492.3 622.2L1517.1 622.2L1541.9 621.9L1566.7 621.7L1591.5 621.5L1616.3 621.3L1641.1 621.2L1666 621.2L1690.8 621.1L1715.6 621.1L1740.4 621.1L1765.2 621.1L1765.2 617.8L1740.4 618L1715.6 617.9L1690.8 617.5L1666 616.8L1641.1 615.6L1616.3 614.1L1612.5 613.8L1591.5 613.8L1566.7 613.8L1541.9 613.8L1517.1 613.8L1492.3 613.8L1467.5 613.8L1442.7 613.8L1417.9 613.8L1393 613.8L1368.2 613.8L1343.4 613.8L1318.6 613.8Z" fill="#00ff92" fill-rule="evenodd" stroke="#00ff92" stroke-width="0.5"/>
<path d="M1293.8 967L1293.8 970.3L1318.6 970.1L1343.4 970.2L1368.2 970.6L1393 971.3L1417.9 972.5L1442.7 974L1446.5 974.3L1467.5 974.3L1492.3 974.3L1517.1 974.3L1541.9 974.3L1566.7 974.3L1591.5 974.3L1616.3 974.3L1641.1 974.3L1666 974.3L1690.8 974.3L1715.6 974.3L1740.4 974.3L1765.2 974.3L1765.2 966.2L1740.4 966.1L1715.6 966L1690.8 965.9L1666 965.9L1641.1 965.8L1616.3 965.8L1591.5 965.8L1566.7 965.9L1541.9 965.9L1517.1 966.2L1492.3 966.4L1467.5 966.6L1442.7 966.8L1417.9 966.9L1393 966.9L1368.2 967L1343.4 967L1318.6 967ZM1293.8 942.9L1293.8 945.6L1318.6 945.6L1343.4 945.6L1368.2 945.6L1393 945.6L1417.9 945.6L1442.7 945.6L1467.5 945.6L1492.3 945.7L1517.1 945.7L1541.9 945.7L1566.7 945.8L1591.5 945.8L1616.3 945.8L1641.1 945.9L1666 945.9L1690.8 945.9L1715.6 945.9L1740.4 945.9L1765.2 945.9L1765.2 936.4L1765.2 924.3L1740.4 924.5L1715.6 924.8L1690.8 925.1L1666 925.3L1641.1 925.6L1616.3 925.8L1591.5 926L1566.7 926.2L1541.9 926.3L1517.1 926.2L1492.3 926.1L1467.5 926L1442.7 925.9L1417.9 925.8L1393 925.8L1368.2 925.7L1343.4 925.7L1318.6 925.7L1293.8 925.7L1293.8 928.9L1318.6 928.6L1343.4 928.7L1368.2 929.2L1393 930L1417.9 931.2L1442.7 932.9L1467.5 935.2L1478.3 936.4L1467.5 937.4L1442.7 939.4L1417.9 940.9L1393 941.9L1368.2 942.6L1343.4 943L1318.6 943ZM1293.8 901.9L1293.8 906.1L1318.6 906.1L1343.4 906.1L1368.2 906.1L1393 906.2L1417.9 906.3L1442.7 906.4L1467.5 906.6L1492.3 906.8L1517.1 907L1541.9 907.3L1566.7 907.4L1591.5 907.5L1616.3 907.6L1641.1 907.8L1666 907.8L1690.8 907.9L1715.6 907.9L1740.4 907.9L1765.2 907.9L1765.2 898.4L1765.2 887.9L1740.4 888.1L1715.6 888.2L1690.8 888.3L1666 888.4L1641.1 888.4L1616.3 888.5L1591.5 888.5L1566.7 888.5L1541.9 888.4L1517.1 888.3L1492.3 888.1L1467.5 887.8L1442.7 887.6L1417.9 887.5L1393 887.4L1368.2 887.3L1343.4 887.2L1318.6 887.2L1293.8 887.3L1293.8 893.4L1318.6 893L1343.4 893.2L1368.2 894L1393 895.4L1417.9 897.3L1430.5 898.4L1417.9 899.2L1393 900.6L1368.2 901.4L1343.4 902L1318.6 902.1ZM1293.8 860.5L1293.8 867.9L1318.6 867.8L1343.4 867.8L1368.2 867.9L1393 868.1L1417.9 868.3L1442.7 868.5L1467.5 868.8L1492.3 869.1L1517.1 869.3L1541.9 869.5L1566.7 869.5L1591.5 869.5L1616.3 869.5L1641.1 869.4L1666 869.3L1690.8 869.2L1715.6 869.1L1740.4 868.9L1765.2 868.7L1765.2 860.5L1765.2 850.9L1740.4 850.9L1715.6 850.9L1690.8 850.9L1666 850.9L1641.1 850.9L1616.3 850.9L1591.5 850.8L1566.7 850.8L1541.9 850.7L1517.1 850.6L1492.3 850.5L1467.5 850.3L1442.7 850L1417.9 849.8L1393 849.6L1368.2 849.5L1343.4 849.4L1318.6 849.4L1293.8 849.4ZM1293.8 822.5L1293.8 830.3L1318.6 830.2L1343.4 830.2L1368.2 830.4L1393 830.6L1417.9 830.9L1442.7 831.1L1467.5 831.4L1492.3 831.6L1517.1 831.7L1541.9 831.8L1566.7 831.9L1591.5 832L1616.3 832.1L1641.1 832.1L1666 832.2L1690.8 832.3L1715.6 832.4L1740.4 832.5L1765.2 832.6L1765.2 822.5L1765.2 814.5L1740.4 814.3L1715.6 814.1L1690.8 813.9L1666 813.7L1641.1 813.6L1616.3 813.4L1591.5 813.3L1566.7 813.1L1541.9 813L1517.1 812.9L1492.3 812.9L1467.5 812.8L1442.7 812.8L1417.9 812.7L1393 812.6L1368.2 812.5L1343.4 812.4L1318.6 812.4L1293.8 812.4ZM1293.8 784.6L1293.8 791.7L1318.6 791.9L1343.4 792.1L1368.2 792.4L1393 792.7L1417.9 792.9L1442.7 793.2L1467.5 793.5L1492.3 793.7L1517.1 793.9L1541.9 794.2L1566.7 794.4L1591.5 794.6L1616.3 794.9L1641.1 795.2L1666 795.4L1690.8 795.7L1715.6 796L1740.4 796.2L1765.2 796.4L1765.2 784.6L1765.2 775.7L1740.4 775.7L1715.6 775.7L1690.8 775.6L1666 775.5L1641.1 775.4L1616.3 775.3L1591.5 775.3L1566.7 775.2L1541.9 775.2L1517.1 775.1L1492.3 775L1467.5 774.8L1442.7 774.7L1417.9 774.5L1393 774.4L1368.2 774.2L1343.4 774L1318.6 773.8L1293.8 773.6ZM1293.8 746.6L1293.8 755.5L1318.6 755.6L1343.4 755.7L1368.2 755.8L1393 755.9L1417.9 756L1442.7 756L1467.5 756.1L1492.3 756.2L1517.1 756.3L1541.9 756.4L1566.7 756.5L1591.5 756.7L1616.3 757L1641.1 757.2L1666 757.5L1690.8 757.7L1715.6 757.9L1740.4 757.9L1765.2 757.8L1765.2 746.6L1765.2 738.7L1740.4 738.7L1715.6 738.7L1690.8 738.6L1666 738.5L1641.1 738.3L1616.3 738.1L1591.5 737.8L1566.7 737.6L1541.9 737.5L1517.1 737.4L1492.3 737.3L1467.5 737.3L1442.7 737.2L1417.9 737.2L1393 737.2L1368.2 737.2L1343.4 737.2L1318.6 737.2L1293.8 737.2ZM1293.8 708.7L1293.8 719.4L1318.6 719.2L1343.4 719L1368.2 718.9L1393 718.8L1417.9 718.7L1442.7 718.6L1467.5 718.6L1492.3 718.6L1517.1 718.6L1541.9 718.8L1566.7 719L1591.5 719.3L1616.3 719.6L1641.1 719.8L1666 720L1690.8 720.2L1715.6 720.3L1740.4 720.3L1765.2 720.2L1765.2 711.1L1740.4 711.6L1715.6 711.4L1690.8 710.3L1666.8 708.7L1690.8 707.6L1715.6 706.8L1740.4 706.7L1765.2 707L1765.2 700.8L1740.4 700.9L1715.6 700.9L1690.8 700.8L1666 700.7L1641.1 700.6L1616.3 700.5L1591.5 700.3L1566.7 700L1541.9 699.8L1517.1 699.7L1492.3 699.6L1467.5 699.6L1442.7 699.6L1417.9 699.7L1393 699.7L1368.2 699.8L1343.4 699.9L1318.6 700L1293.8 700.2ZM1293.8 670.7L1293.8 680.2L1318.6 680.2L1343.4 680.2L1368.2 680.2L1393 680.3L1417.9 680.3L1442.7 680.5L1467.5 680.6L1492.3 680.7L1517.1 680.8L1541.9 681.1L1566.7 681.3L1591.5 681.5L1616.3 681.7L1641.1 681.8L1666 681.9L1690.8 682L1715.6 682L1740.4 682L1765.2 682L1765.2 677.7L1740.4 678L1715.6 677.9L1690.8 677.3L1666 676.3L1641.1 674.8L1616.3 672.7L1597.4 670.7L1616.3 669.2L1641.1 667.7L1666 666.6L1690.8 665.9L1715.6 665.4L1740.4 665.3L1765.2 665.5L1765.2 662.4L1740.4 662.4L1715.6 662.4L1690.8 662.4L1666 662.3L1641.1 662.3L1616.3 662.2L1591.5 662.1L1566.7 662L1541.9 661.9L1517.1 661.8L1492.3 661.9L1467.5 662.1L1442.7 662.3L1417.9 662.5L1393 662.8L1368.2 663L1343.4 663.3L1318.6 663.6L1293.8 663.8ZM1293.8 632.8L1293.8 642.2L1318.6 642.2L1343.4 642.2L1368.2 642.2L1393 642.2L1417.9 642.2L1442.7 642.3L1467.5 642.3L1492.3 642.3L1517.1 642.4L1541.9 642.4L1566.7 642.4L1591.5 642.5L1616.3 642.5L1641.1 642.5L1666 642.5L1690.8 642.5L1715.6 642.5L1740.4 642.5L1765.2 642.5L1765.2 639.8L1740.4 640L1715.6 639.9L1690.8 639.5L1666 638.8L1641.1 637.8L1616.3 636.3L1591.5 634.2L1577.4 632.8L1591.5 631.1L1616.3 628.6L1641.1 626.8L1666 625.6L1690.8 624.7L1715.6 624.3L1740.4 624.1L1765.2 624.4L1765.2 621.1L1740.4 621.1L1715.6 621.1L1690.8 621.1L1666 621.2L1641.1 621.2L1616.3 621.3L1591.5 621.5L1566.7 621.7L1541.9 621.9L1517.1 622.2L1492.3 622.2L1467.5 622.3L1442.7 622.3L1417.9 622.3L1393 622.2L1368.2 622.2L1343.4 622.1L1318.6 622L1293.8 621.9Z" fill="#00a0ff" fill-rule="evenodd" stroke="#00a0ff" stroke-width="0.5"/>
<path d="M1293.8 970.3L1293.8 973.6L1318.6 973.2L1343.4 973.3L1368.2 974.2L1369.2 974.3L1393 974.3L1417.9 974.3L1442.7 974.3L1446.5 974.3L1442.7 974L1417.9 972.5L1393 971.3L1368.2 970.6L1343.4 970.2L1318.6 970.1ZM1293.8 940.1L1293.8 942.9L1318.6 943L1343.4 943L1368.2 942.6L1393 941.9L1417.9 940.9L1442.7 939.4L1467.5 937.4L1478.3 936.4L1467.5 935.2L1442.7 932.9L1417.9 931.2L1393 930L1368.2 929.2L1343.4 928.7L1318.6 928.6L1293.8 928.9L1293.8 932L1318.6 931.6L1343.4 931.8L1368.2 932.7L1393 934.2L1416.3 936.4L1393 938.2L1368.2 939.5L1343.4 940.3L1318.6 940.5ZM1293.8 898.4L1293.8 901.9L1318.6 902.1L1343.4 902L1368.2 901.4L1393 900.6L1417.9 899.2L1430.5 898.4L1417.9 897.3L1393 895.4L1368.2 894L1343.4 893.2L1318.6 893L1293.8 893.4ZM1666.8 708.7L1690.8 710.3L1715.6 711.4L1740.4 711.6L1765.2 711.1L1765.2 708.7L1765.2 707L1740.4 706.7L1715.6 706.8L1690.8 707.6ZM1597.4 670.7L1616.3 672.7L1641.1 674.8L1666 676.3L1690.8 677.3L1715.6 677.9L1740.4 678L1765.2 677.7L1765.2 673.5L1740.4 674L1715.6 673.8L1690.8 672.6L1667 670.7L1690.8 669.3L1715.6 668.5L1740.4 668.3L1765.2 668.7L1765.2 665.5L1740.4 665.3L1715.6 665.4L1690.8 665.9L1666 666.6L1641.1 667.7L1616.3 669.2ZM1577.4 632.8L1591.5 634.2L1616.3 636.3L1641.1 637.8L1666 638.8L1690.8 639.5L1715.6 639.9L1740.4 640L1765.2 639.8L1765.2 637L1740.4 637.4L1715.6 637.2L1690.8 636.4L1666 635.1L1641.1 633.1L1637.9 632.8L1641.1 632.4L1666 630L1690.8 628.4L1715.6 627.4L1740.4 627.2L1765.2 627.7L1765.2 624.4L1740.4 624.1L1715.6 624.3L1690.8 624.7L1666 625.6L1641.1 626.8L1616.3 628.6L1591.5 631.1Z" fill="#4400ff" fill-rule="evenodd" stroke="#4400ff" stroke-width="0.5"/>
<path d="M1293.8 974.3L1318.6 974.3L1343.4 974.3L1368.2 974.3L1369.2 974.3L1368.2 974.2L1343.4 973.3L1318.6 973.2L1293.8 973.6ZM1293.8 937.4L1293.8 940.1L1318.6 940.5L1343.4 940.3L1368.2 939.5L1393 938.2L1416.3 936.4L1393 934.2L1368.2 932.7L1343.4 931.8L1318.6 931.6L1293.8 932L1293.8 935.2L1318.6 934.5L1343.4 934.8L1368.2 936.2L1370.4 936.4L1368.2 936.5L1343.4 937.7L1318.6 937.9ZM1667 670.7L1690.8 672.6L1715.6 673.8L1740.4 674L1765.2 673.5L1765.2 670.7L1765.2 668.7L1740.4 668.3L1715.6 668.5L1690.8 669.3ZM1637.9 632.8L1641.1 633.1L1666 635.1L1690.8 636.4L1715.6 637.2L1740.4 637.4L1765.2 637L1765.2 634.3L1740.4 634.9L1715.6 634.6L1690.8 633.4L1681.7 632.8L1690.8 632L1715.6 630.6L1740.4 630.3L1765.2 630.9L1765.2 627.7L1740.4 627.2L1715.6 627.4L1690.8 628.4L1666 630L1641.1 632.4Z" fill="#ff00db" fill-rule="evenodd" stroke="#ff00db" stroke-width="0.5"/>
<path d="M1293.8 936.4L1293.8 937.4L1318.6 937.9L1343.4 937.7L1368.2 936.5L1370.4 936.4L1368.2 936.2L1343.4 934.8L1318.6 934.5L1293.8 935.2ZM1681.7 632.8L1690.8 633.4L1715.6 634.6L1740.4 634.9L1765.2 634.3L1765.2 632.8L1765.2 630.9L1740.4 630.3L1715.6 630.6L1690.8 632Z" fill="#ff0020" fill-rule="evenodd" stroke="#ff0020" stroke-width="0.5"/>
<path d="M1293.8 953.8L1318.6 953.2L1343.4 953.5L1368.2 954.7L1377.3 955.3L1368.2 956.1L1343.4 957.5L1318.6 957.8L1293.8 957.2M1765.2 652.9L1740.4 653.6L1715.6 653.3L1690.8 651.9L1688.6 651.7L1690.8 651.6L1715.6 650.4L1740.4 650.2L1765.2 650.7M1293.8 951.1L1318.6 950.7L1343.4 950.9L1368.2 951.7L1393 953L1417.9 955L1421.1 955.3L1417.9 955.7L1393 958.1L1368.2 959.7L1343.4 960.7L1318.6 960.9L1293.8 960.4M1293.8 914.6L1318.6 914.1L1343.4 914.3L1368.2 915.5L1392 917.4L1368.2 918.8L1343.4 919.6L1318.6 919.8L1293.8 919.4M1765.2 656.1L1740.4 656.5L1715.6 656.3L1690.8 655.4L1666 653.9L1642.7 651.7L1666 649.9L1690.8 648.6L1715.6 647.8L1740.4 647.6L1765.2 648M1765.2 614.5L1740.4 614.9L1715.6 614.8L1690.8 613.9L1689.8 613.8M1293.8 948.3L1318.6 948.1L1343.4 948.2L1368.2 948.6L1393 949.3L1417.9 950.3L1442.7 951.8L1467.5 953.9L1481.6 955.3L1467.5 957L1442.7 959.5L1417.9 961.3L1393 962.5L1368.2 963.4L1343.4 963.8L1318.6 964L1293.8 963.7M1293.8 910.4L1318.6 910.1L1343.4 910.2L1368.2 910.8L1393 911.8L1417.9 913.3L1442.7 915.4L1461.6 917.4L1442.7 918.9L1417.9 920.4L1393 921.5L1368.2 922.2L1343.4 922.7L1318.6 922.8L1293.8 922.6M1293.8 877L1318.6 876.5L1343.4 876.7L1368.2 877.8L1392.2 879.4L1368.2 880.5L1343.4 881.3L1318.6 881.4L1293.8 881.1M1765.2 694.7L1740.4 695.1L1715.6 694.9L1690.8 694.1L1666 692.7L1641.1 690.8L1628.5 689.7L1641.1 688.9L1666 687.5L1690.8 686.7L1715.6 686.1L1740.4 686L1765.2 686.2M1765.2 659.2L1740.4 659.5L1715.6 659.4L1690.8 658.9L1666 658.1L1641.1 656.9L1616.3 655.2L1591.5 652.9L1580.7 651.7L1591.5 650.7L1616.3 648.7L1641.1 647.2L1666 646.2L1690.8 645.5L1715.6 645.1L1740.4 645.1L1765.2 645.2M1765.2 617.8L1740.4 618L1715.6 617.9L1690.8 617.5L1666 616.8L1641.1 615.6L1616.3 614.1L1612.5 613.8M1765.2 966.2L1740.4 966.1L1715.6 966L1690.8 965.9L1666 965.9L1641.1 965.8L1616.3 965.8L1591.5 965.8L1566.7 965.9L1541.9 965.9L1517.1 966.2L1492.3 966.4L1467.5 966.6L1442.7 966.8L1417.9 966.9L1393 966.9L1368.2 967L1343.4 967L1318.6 967L1293.8 967M1293.8 945.6L1318.6 945.6L1343.4 945.6L1368.2 945.6L1393 945.6L1417.9 945.6L1442.7 945.6L1467.5 945.6L1492.3 945.7L1517.1 945.7L1541.9 945.7L1566.7 945.8L1591.5 945.8L1616.3 945.8L1641.1 945.9L1666 945.9L1690.8 945.9L1715.6 945.9L1740.4 945.9L1765.2 945.9M1765.2 924.3L1740.4 924.5L1715.6 924.8L1690.8 925.1L1666 925.3L1641.1 925.6L1616.3 925.8L1591.5 926L1566.7 926.2L1541.9 926.3L1517.1 926.2L1492.3 926.1L1467.5 926L1442.7 925.9L1417.9 925.8L1393 925.8L1368.2 925.7L1343.4 925.7L1318.6 925.7L1293.8 925.7M1293.8 906.1L1318.6 906.1L1343.4 906.1L1368.2 906.1L1393 906.2L1417.9 906.3L1442.7 906.4L1467.5 906.6L1492.3 906.8L1517.1 907L1541.9 907.3L1566.7 907.4L1591.5 907.5L1616.3 907.6L1641.1 907.8L1666 907.8L1690.8 907.9L1715.6 907.9L1740.4 907.9L1765.2 907.9M1765.2 887.9L1740.4 888.1L1715.6 888.2L1690.8 888.3L1666 888.4L1641.1 888.4L1616.3 888.5L1591.5 888.5L1566.7 888.5L1541.9 888.4L1517.1 888.3L1492.3 888.1L1467.5 887.8L1442.7 887.6L1417.9 887.5L1393 887.4L1368.2 887.3L1343.4 887.2L1318.6 887.2L1293.8 887.3M1293.8 867.9L1318.6 867.8L1343.4 867.8L1368.2 867.9L1393 868.1L1417.9 868.3L1442.7 868.5L1467.5 868.8L1492.3 869.1L1517.1 869.3L1541.9 869.5L1566.7 869.5L1591.5 869.5L1616.3 869.5L1641.1 869.4L1666 869.3L1690.8 869.2L1715.6 869.1L1740.4 868.9L1765.2 868.7M1765.2 850.9L1740.4 850.9L1715.6 850.9L1690.8 850.9L1666 850.9L1641.1 850.9L1616.3 850.9L1591.5 850.8L1566.7 850.8L1541.9 850.7L1517.1 850.6L1492.3 850.5L1467.5 850.3L1442.7 850L1417.9 849.8L1393 849.6L1368.2 849.5L1343.4 849.4L1318.6 849.4L1293.8 849.4M1293.8 830.3L1318.6 830.2L1343.4 830.2L1368.2 830.4L1393 830.6L1417.9 830.9L1442.7 831.1L1467.5 831.4L1492.3 831.6L1517.1 831.7L1541.9 831.8L1566.7 831.9L1591.5 832L1616.3 832.1L1641.1 832.1L1666 832.2L1690.8 832.3L1715.6 832.4L1740.4 832.5L1765.2 832.6M1765.2 814.5L1740.4 814.3L1715.6 814.1L1690.8 813.9L1666 813.7L1641.1 813.6L1616.3 813.4L1591.5 813.3L1566.7 813.1L1541.9 813L1517.1 812.9L1492.3 812.9L1467.5 812.8L1442.7 812.8L1417.9 812.7L1393 812.6L1368.2 812.5L1343.4 812.4L1318.6 812.4L1293.8 812.4M1293.8 791.7L1318.6 791.9L1343.4 792.1L1368.2 792.4L1393 792.7L1417.9 792.9L1442.7 793.2L1467.5 793.5L1492.3 793.7L1517.1 793.9L1541.9 794.2L1566.7 794.4L1591.5 794.6L1616.3 794.9L1641.1 795.2L1666 795.4L1690.8 795.7L1715.6 796L1740.4 796.2L1765.2 796.4M1765.2 775.7L1740.4 775.7L1715.6 775.7L1690.8 775.6L1666 775.5L1641.1 775.4L1616.3 775.3L1591.5 775.3L1566.7 775.2L1541.9 775.2L1517.1 775.1L1492.3 775L1467.5 774.8L1442.7 774.7L1417.9 774.5L1393 774.4L1368.2 774.2L1343.4 774L1318.6 773.8L1293.8 773.6M1293.8 755.5L1318.6 755.6L1343.4 755.7L1368.2 755.8L1393 755.9L1417.9 756L1442.7 756L1467.5 756.1L1492.3 756.2L1517.1 756.3L1541.9 756.4L1566.7 756.5L1591.5 756.7L1616.3 757L1641.1 757.2L1666 757.5L1690.8 757.7L1715.6 757.9L1740.4 757.9L1765.2 757.8M1765.2 738.7L1740.4 738.7L1715.6 738.7L1690.8 738.6L1666 738.5L1641.1 738.3L1616.3 738.1L1591.5 737.8L1566.7 737.6L1541.9 737.5L1517.1 737.4L1492.3 737.3L1467.5 737.3L1442.7 737.2L1417.9 737.2L1393 737.2L1368.2 737.2L1343.4 737.2L1318.6 737.2L1293.8 737.2M1293.8 719.4L1318.6 719.2L1343.4 719L1368.2 718.9L1393 718.8L1417.9 718.7L1442.7 718.6L1467.5 718.6L1492.3 718.6L1517.1 718.6L1541.9 718.8L1566.7 719L1591.5 719.3L1616.3 719.6L1641.1 719.8L1666 720L1690.8 720.2L1715.6 720.3L1740.4 720.3L1765.2 720.2M1765.2 700.8L1740.4 700.9L1715.6 700.9L1690.8 700.8L1666 700.7L1641.1 700.6L1616.3 700.5L1591.5 700.3L1566.7 700L1541.9 699.8L1517.1 699.7L1492.3 699.6L1467.5 699.6L1442.7 699.6L1417.9 699.7L1393 699.7L1368.2 699.8L1343.4 699.9L1318.6 700L1293.8 700.2M1293.8 680.2L1318.6 680.2L1343.4 680.2L1368.2 680.2L1393 680.3L1417.9 680.3L1442.7 680.5L1467.5 680.6L1492.3 680.7L1517.1 680.8L1541.9 681.1L1566.7 681.3L1591.5 681.5L1616.3 681.7L1641.1 681.8L1666 681.9L1690.8 682L1715.6 682L1740.4 682L1765.2 682M1765.2 662.4L1740.4 662.4L1715.6 662.4L1690.8 662.4L1666 662.3L1641.1 662.3L1616.3 662.2L1591.5 662.1L1566.7 662L1541.9 661.9L1517.1 661.8L1492.3 661.9L1467.5 662.1L1442.7 662.3L1417.9 662.5L1393 662.8L1368.2 663L1343.4 663.3L1318.6 663.6L1293.8 663.8M1293.8 642.2L1318.6 642.2L1343.4 642.2L1368.2 642.2L1393 642.2L1417.9 642.2L1442.7 642.3L1467.5 642.3L1492.3 642.3L1517.1 642.4L1541.9 642.4L1566.7 642.4L1591.5 642.5L1616.3 642.5L1641.1 642.5L1666 642.5L1690.8 642.5L1715.6 642.5L1740.4 642.5L1765.2 642.5M1765.2 621.1L1740.4 621.1L1715.6 621.1L1690.8 621.1L1666 621.2L1641.1 621.2L1616.3 621.3L1591.5 621.5L1566.7 621.7L1541.9 621.9L1517.1 622.2L1492.3 622.2L1467.5 622.3L1442.7 622.3L1417.9 622.3L1393 622.2L1368.2 622.2L1343.4 622.1L1318.6 622L1293.8 621.9M1446.5 974.3L1442.7 974L1417.9 972.5L1393 971.3L1368.2 970.6L1343.4 970.2L1318.6 970.1L1293.8 970.3M1293.8 942.9L1318.6 943L1343.4 943L1368.2 942.6L1393 941.9L1417.9 940.9L1442.7 939.4L1467.5 937.4L1478.3 936.4L1467.5 935.2L1442.7 932.9L1417.9 931.2L1393 930L1368.2 929.2L1343.4 928.7L1318.6 928.6L1293.8 928.9M1293.8 901.9L1318.6 902.1L1343.4 902L1368.2 901.4L1393 900.6L1417.9 899.2L1430.5 898.4L1417.9 897.3L1393 895.4L1368.2 894L1343.4 893.2L1318.6 893L1293.8 893.4M1765.2 707L1740.4 706.7L1715.6 706.8L1690.8 707.6L1666.8 708.7L1690.8 710.3L1715.6 711.4L1740.4 711.6L1765.2 711.1M1765.2 665.5L1740.4 665.3L1715.6 665.4L1690.8 665.9L1666 666.6L1641.1 667.7L1616.3 669.2L1597.4 670.7L1616.3 672.7L1641.1 674.8L1666 676.3L1690.8 677.3L1715.6 677.9L1740.4 678L1765.2 677.7M1765.2 624.4L1740.4 624.1L1715.6 624.3L1690.8 624.7L1666 625.6L1641.1 626.8L1616.3 628.6L1591.5 631.1L1577.4 632.8L1591.5 634.2L1616.3 636.3L1641.1 637.8L1666 638.8L1690.8 639.5L1715.6 639.9L1740.4 640L1765.2 639.8M1369.2 974.3L1368.2 974.2L1343.4 973.3L1318.6 973.2L1293.8 973.6M1293.8 940.1L1318.6 940.5L1343.4 940.3L1368.2 939.5L1393 938.2L1416.3 936.4L1393 934.2L1368.2 932.7L1343.4 931.8L1318.6 931.6L1293.8 932M1765.2 668.7L1740.4 668.3L1715.6 668.5L1690.8 669.3L1667 670.7L1690.8 672.6L1715.6 673.8L1740.4 674L1765.2 673.5M1765.2 627.7L1740.4 627.2L1715.6 627.4L1690.8 628.4L1666 630L1641.1 632.4L1637.9 632.8L1641.1 633.1L1666 635.1L1690.8 636.4L1715.6 637.2L1740.4 637.4L1765.2 637M1293.8 937.4L1318.6 937.9L1343.4 937.7L1368.2 936.5L1370.4 936.4L1368.2 936.2L1343.4 934.8L1318.6 934.5L1293.8 935.2M1765.2 630.9L1740.4 630.3L1715.6 630.6L1690.8 632L1681.7 632.8L1690.8 633.4L1715.6 634.6L1740.4 634.9L1765.2 634.3" fill="none" stroke="#000" stroke-width="1.1" stroke-linejoin="round"/>
<rect x="1293.8" y="613.8" width="471.4" height="360.5" fill="none" stroke="#262626" stroke-width="1.1"/>
<text x="1293.8" y="996.2" font-size="14.6" text-anchor="middle" fill="#262626">-4</text>
<text x="1287.3" y="979.6" font-size="14.6" text-anchor="end" fill="#262626">-4</text>
<path d="M1352.7 974.3v-4.7 M1352.7 613.8v4.7 M1293.8 929.2h4.7 M1765.2 929.2h-4.7" stroke="#262626" stroke-width="1" fill="none"/>
<text x="1352.7" y="996.2" font-size="14.6" text-anchor="middle" fill="#262626">-3</text>
<text x="1287.3" y="934.5" font-size="14.6" text-anchor="end" fill="#262626">-3</text>
<path d="M1411.7 974.3v-4.7 M1411.7 613.8v4.7 M1293.8 884.2h4.7 M1765.2 884.2h-4.7" stroke="#262626" stroke-width="1" fill="none"/>
<text x="1411.7" y="996.2" font-size="14.6" text-anchor="middle" fill="#262626">-2</text>
<text x="1287.3" y="889.5" font-size="14.6" text-anchor="end" fill="#262626">-2</text>
<path d="M1470.6 974.3v-4.7 M1470.6 613.8v4.7 M1293.8 839.1h4.7 M1765.2 839.1h-4.7" stroke="#262626" stroke-width="1" fill="none"/>
<text x="1470.6" y="996.2" font-size="14.6" text-anchor="middle" fill="#262626">-1</text>
<text x="1287.3" y="844.4" font-size="14.6" text-anchor="end" fill="#262626">-1</text>
<path d="M1529.5 974.3v-4.7 M1529.5 613.8v4.7 M1293.8 794h4.7 M1765.2 794h-4.7" stroke="#262626" stroke-width="1" fill="none"/>
<text x="1529.5" y="996.2" font-size="14.6" text-anchor="middle" fill="#262626">0</text>
<text x="1287.3" y="799.3" font-size="14.6" text-anchor="end" fill="#262626">0</text>
<path d="M1588.4 974.3v-4.7 M1588.4 613.8v4.7 M1293.8 749h4.7 M1765.2 749h-4.7" stroke="#262626" stroke-width="1" fill="none"/>
<text x="1588.4" y="996.2" font-size="14.6" text-anchor="middle" fill="#262626">1</text>
<text x="1287.3" y="754.3" font-size="14.6" text-anchor="end" fill="#262626">1</text>
<path d="M1647.3 974.3v-4.7 M1647.3 613.8v4.7 M1293.8 703.9h4.7 M1765.2 703.9h-4.7" stroke="#262626" stroke-width="1" fill="none"/>
<text x="1647.3" y="996.2" font-size="14.6" text-anchor="middle" fill="#262626">2</text>
<text x="1287.3" y="709.2" font-size="14.6" text-anchor="end" fill="#262626">2</text>
<path d="M1706.3 974.3v-4.7 M1706.3 613.8v4.7 M1293.8 658.9h4.7 M1765.2 658.9h-4.7" stroke="#262626" stroke-width="1" fill="none"/>
<text x="1706.3" y="996.2" font-size="14.6" text-anchor="middle" fill="#262626">3</text>
<text x="1287.3" y="664.2" font-size="14.6" text-anchor="end" fill="#262626">3</text>
<text x="1765.2" y="996.2" font-size="14.6" text-anchor="middle" fill="#262626">4</text>
<text x="1287.3" y="619.1" font-size="14.6" text-anchor="end" fill="#262626">4</text>
<text x="1548" y="579.5" font-size="29" font-weight="bold" text-anchor="middle" fill="#000">(a<tspan font-size="22" dy="14.3">2</tspan><tspan dy="-14.3">)</tspan></text>
<text x="1529.5" y="1032.2" font-size="28" text-anchor="middle" fill="#262626">x</text>
<text transform="translate(1263.5 794) rotate(-90)" font-size="28" text-anchor="middle" fill="#262626">t</text>
</g>
<g id="speck" fill="#8a8a6a"><circle cx="4.2" cy="483.4" r="0.9"/><circle cx="765.2" cy="598.4" r="0.6"/><circle cx="1384.3" cy="598.4" r="0.6"/></g>
</svg>
</body></html>
